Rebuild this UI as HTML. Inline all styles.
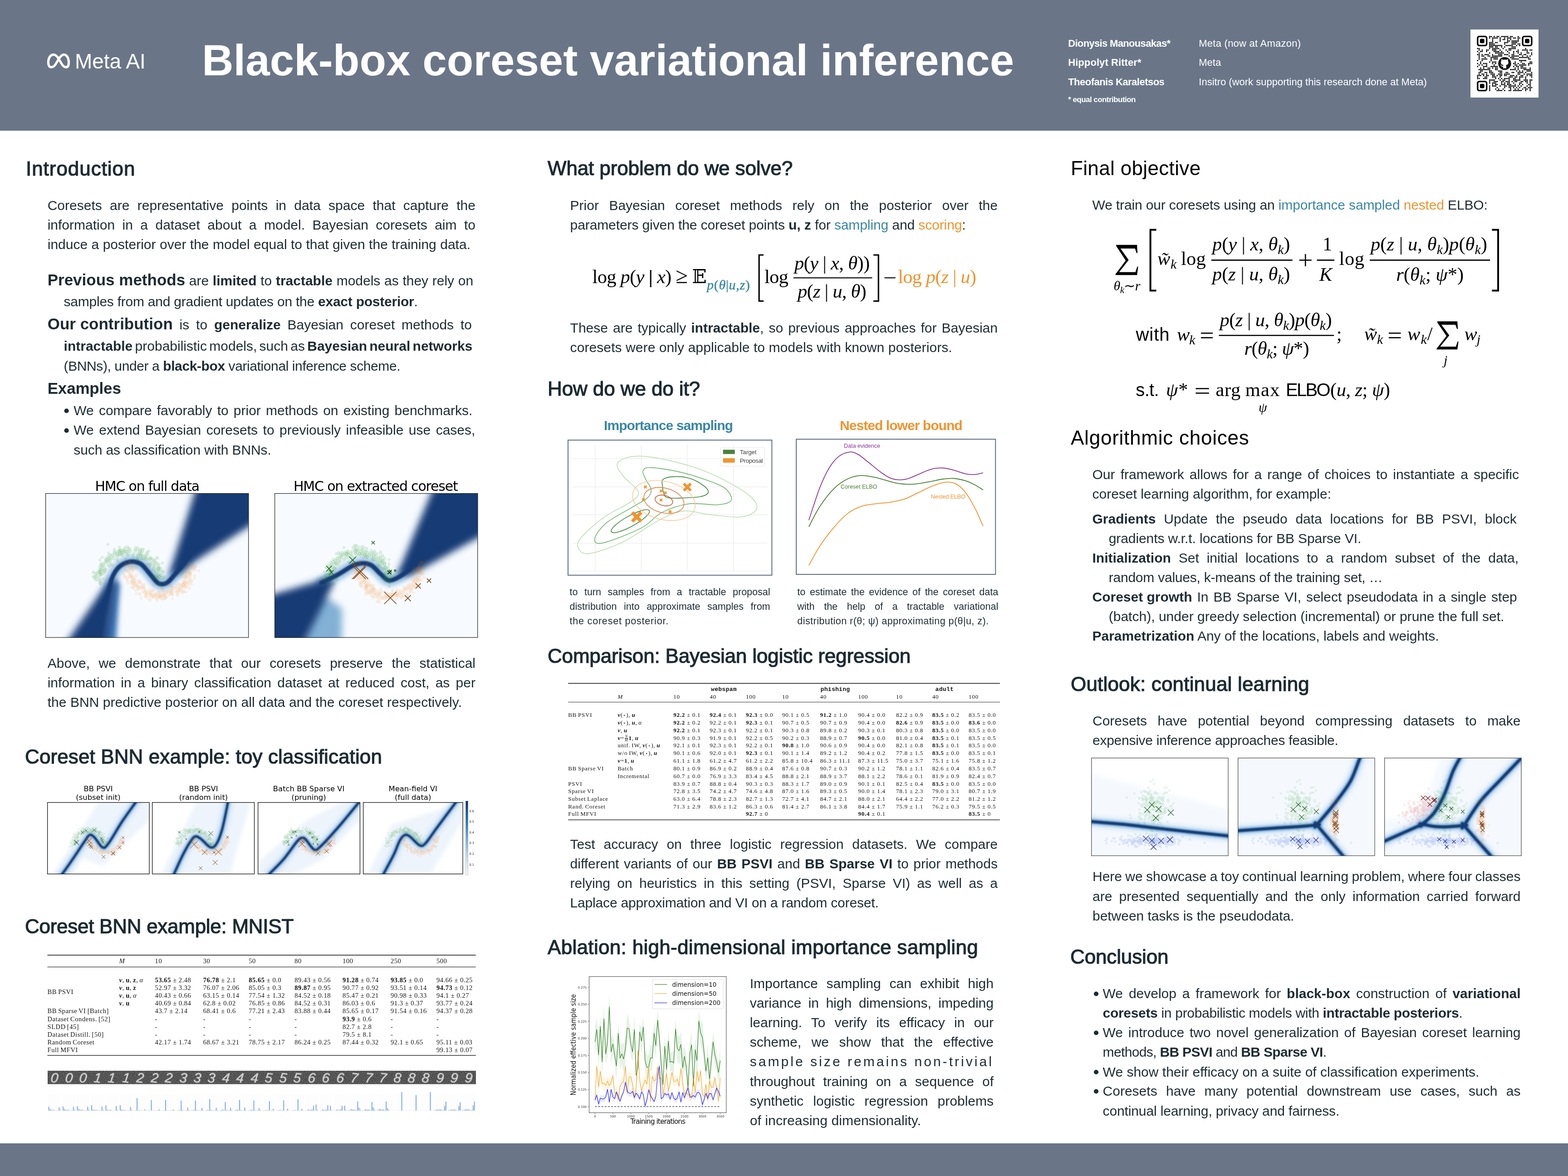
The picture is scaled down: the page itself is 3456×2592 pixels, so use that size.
<!DOCTYPE html>
<html><head><meta charset="utf-8"><title>Black-box coreset variational inference</title><style>
*{margin:0;padding:0;box-sizing:border-box}
html,body{width:3456px;height:2592px;overflow:hidden;background:#fff}
body{position:relative;font-family:"Liberation Sans",sans-serif;color:#1c2b33}
.t{position:absolute;white-space:nowrap;line-height:1}
.t b{font-weight:700}
.t b.big{font-size:35px;word-spacing:normal}
.nw{word-spacing:normal}
.m{display:inline-block;width:0;height:0}
.h{-webkit-text-stroke:1.2px currentColor}
.abs{position:absolute}
svg{position:absolute;overflow:visible}
.tm{letter-spacing:0.55px;word-spacing:-1px}
.tl{letter-spacing:0.75px;word-spacing:-1px}
.tm .pm,.tl .pm{margin:0 1px}
.bv{font-weight:700;font-style:italic}
.fr{display:inline-block;vertical-align:-0.45em;font-size:0.62em;line-height:0.9;text-align:center;margin:0 1px}
.fr>span{display:block}
.fr>span:first-child{border-bottom:0.8px solid #111}
.star{font-family:'DejaVu Sans',sans-serif;font-size:0.8em}
.k{font-style:italic;font-size:0.7em;vertical-align:-0.28em}
.bb{font-family:'DejaVu Serif',serif}
.tt{font-family:'Liberation Mono',monospace;font-weight:700;letter-spacing:0.3px}
.fm i{font-style:italic}
.ge{font-size:1.15em;line-height:0}
.vb{font-weight:700}
.dg{font-style:italic;opacity:0.85;text-shadow:0 0 1.5px #fff}
</style></head><body>
<div class="abs" style="left:0;top:0;width:3456px;height:287.6px;background:#6a7688"></div>
<div class="abs" style="left:0;top:2520px;width:3456px;height:72px;background:#6a7688"></div>
<svg style="left:101px;top:115px" width="54" height="40" viewBox="-2.5 -2.5 54 40"><path d="M 9.4,30.6 C 4.5,30.6 2.9,25 2.9,19.7 C 2.9,10 8,2.9 14.6,2.9 C 19.5,2.9 23,7.5 26,12.5 L 32.5,23.5 C 35.5,28.5 38.5,30.6 42,30.6 C 46,30.6 48,26.5 48,20.5 C 48,10.5 43.5,2.9 37.4,2.9 C 32.5,2.9 29,8 26,12.5 L 19.5,23.5 C 16.5,28.5 13.5,30.6 9.4,30.6 Z" fill="none" stroke="#fff" stroke-width="5.2" stroke-linejoin="round"/></svg>
<svg style="left:3241px;top:65px" width="150" height="150" viewBox="0 0 150 150"><rect width="150" height="150" fill="#fff"/><rect x="15.85" y="15.45" width="19.85" height="19.85" rx="3.64" fill="none" stroke="#000" stroke-width="3.31"/><rect x="20.82" y="20.42" width="9.92" height="9.92" rx="2.98" fill="#000"/><rect x="115.10" y="15.45" width="19.85" height="19.85" rx="3.64" fill="none" stroke="#000" stroke-width="3.31"/><rect x="120.06" y="20.42" width="9.92" height="9.92" rx="2.98" fill="#000"/><rect x="15.85" y="114.70" width="19.85" height="19.85" rx="3.64" fill="none" stroke="#000" stroke-width="3.31"/><rect x="20.82" y="119.66" width="9.92" height="9.92" rx="2.98" fill="#000"/><path d="M42.32 15.45h0M45.63 15.45h0M52.24 15.45h0M58.86 15.45h0M62.17 15.45h0M68.78 15.45h0M72.09 15.45h0M75.40 15.45h0M78.71 15.45h0M82.02 15.45h0M88.63 15.45h0M91.94 15.45h0M105.17 15.45h0M42.32 18.76h0M48.94 18.76h0M52.24 18.76h0M55.55 18.76h0M58.86 18.76h0M65.48 18.76h0M75.40 18.76h0M82.02 18.76h0M85.32 18.76h0M88.63 18.76h0M95.25 18.76h0M98.56 18.76h0M105.17 18.76h0M108.48 18.76h0M48.94 22.07h0M65.48 22.07h0M72.09 22.07h0M75.40 22.07h0M82.02 22.07h0M88.63 22.07h0M105.17 22.07h0M48.94 25.38h0M65.48 25.38h0M82.02 25.38h0M85.32 25.38h0M91.94 25.38h0M95.25 25.38h0M98.56 25.38h0M101.86 25.38h0M105.17 25.38h0M42.32 28.69h0M45.63 28.69h0M48.94 28.69h0M55.55 28.69h0M58.86 28.69h0M75.40 28.69h0M78.71 28.69h0M82.02 28.69h0M91.94 28.69h0M95.25 28.69h0M98.56 28.69h0M101.86 28.69h0M42.32 31.99h0M45.63 31.99h0M48.94 31.99h0M52.24 31.99h0M75.40 31.99h0M91.94 31.99h0M95.25 31.99h0M98.56 31.99h0M105.17 31.99h0M108.48 31.99h0M42.32 35.30h0M45.63 35.30h0M48.94 35.30h0M52.24 35.30h0M55.55 35.30h0M58.86 35.30h0M62.17 35.30h0M65.48 35.30h0M68.78 35.30h0M78.71 35.30h0M82.02 35.30h0M85.32 35.30h0M88.63 35.30h0M91.94 35.30h0M101.86 35.30h0M108.48 35.30h0M42.32 38.61h0M45.63 38.61h0M48.94 38.61h0M55.55 38.61h0M58.86 38.61h0M68.78 38.61h0M75.40 38.61h0M91.94 38.61h0M95.25 38.61h0M98.56 38.61h0M15.85 41.92h0M19.16 41.92h0M42.32 41.92h0M48.94 41.92h0M52.24 41.92h0M55.55 41.92h0M58.86 41.92h0M62.17 41.92h0M72.09 41.92h0M85.32 41.92h0M88.63 41.92h0M91.94 41.92h0M95.25 41.92h0M98.56 41.92h0M121.71 41.92h0M19.16 45.23h0M25.78 45.23h0M35.70 45.23h0M39.01 45.23h0M48.94 45.23h0M52.24 45.23h0M55.55 45.23h0M65.48 45.23h0M78.71 45.23h0M85.32 45.23h0M88.63 45.23h0M105.17 45.23h0M115.10 45.23h0M118.41 45.23h0M121.71 45.23h0M125.02 45.23h0M131.64 45.23h0M134.95 45.23h0M15.85 48.54h0M22.47 48.54h0M25.78 48.54h0M35.70 48.54h0M52.24 48.54h0M55.55 48.54h0M58.86 48.54h0M62.17 48.54h0M68.78 48.54h0M82.02 48.54h0M95.25 48.54h0M101.86 48.54h0M105.17 48.54h0M125.02 48.54h0M19.16 51.84h0M42.32 51.84h0M55.55 51.84h0M58.86 51.84h0M62.17 51.84h0M65.48 51.84h0M68.78 51.84h0M72.09 51.84h0M85.32 51.84h0M95.25 51.84h0M105.17 51.84h0M111.79 51.84h0M125.02 51.84h0M128.33 51.84h0M134.95 51.84h0M15.85 55.15h0M19.16 55.15h0M25.78 55.15h0M32.39 55.15h0M35.70 55.15h0M39.01 55.15h0M48.94 55.15h0M62.17 55.15h0M65.48 55.15h0M68.78 55.15h0M75.40 55.15h0M78.71 55.15h0M82.02 55.15h0M91.94 55.15h0M95.25 55.15h0M108.48 55.15h0M111.79 55.15h0M118.41 55.15h0M121.71 55.15h0M134.95 55.15h0M19.16 58.46h0M25.78 58.46h0M29.09 58.46h0M39.01 58.46h0M42.32 58.46h0M48.94 58.46h0M52.24 58.46h0M55.55 58.46h0M58.86 58.46h0M62.17 58.46h0M65.48 58.46h0M68.78 58.46h0M85.32 58.46h0M91.94 58.46h0M95.25 58.46h0M98.56 58.46h0M101.86 58.46h0M105.17 58.46h0M115.10 58.46h0M125.02 58.46h0M131.64 58.46h0M19.16 61.77h0M32.39 61.77h0M45.63 61.77h0M48.94 61.77h0M52.24 61.77h0M55.55 61.77h0M58.86 61.77h0M88.63 61.77h0M91.94 61.77h0M95.25 61.77h0M108.48 61.77h0M111.79 61.77h0M115.10 61.77h0M118.41 61.77h0M121.71 61.77h0M125.02 61.77h0M128.33 61.77h0M19.16 65.08h0M25.78 65.08h0M29.09 65.08h0M32.39 65.08h0M35.70 65.08h0M45.63 65.08h0M52.24 65.08h0M55.55 65.08h0M58.86 65.08h0M91.94 65.08h0M95.25 65.08h0M98.56 65.08h0M101.86 65.08h0M105.17 65.08h0M128.33 65.08h0M131.64 65.08h0M15.85 68.38h0M25.78 68.38h0M45.63 68.38h0M108.48 68.38h0M111.79 68.38h0M115.10 68.38h0M118.41 68.38h0M121.71 68.38h0M22.47 71.69h0M42.32 71.69h0M48.94 71.69h0M52.24 71.69h0M55.55 71.69h0M98.56 71.69h0M111.79 71.69h0M131.64 71.69h0M134.95 71.69h0M15.85 75.00h0M22.47 75.00h0M29.09 75.00h0M32.39 75.00h0M35.70 75.00h0M48.94 75.00h0M55.55 75.00h0M95.25 75.00h0M98.56 75.00h0M105.17 75.00h0M115.10 75.00h0M118.41 75.00h0M128.33 75.00h0M131.64 75.00h0M134.95 75.00h0M19.16 78.31h0M25.78 78.31h0M35.70 78.31h0M52.24 78.31h0M98.56 78.31h0M101.86 78.31h0M108.48 78.31h0M111.79 78.31h0M115.10 78.31h0M118.41 78.31h0M121.71 78.31h0M128.33 78.31h0M15.85 81.62h0M29.09 81.62h0M32.39 81.62h0M35.70 81.62h0M45.63 81.62h0M48.94 81.62h0M52.24 81.62h0M55.55 81.62h0M58.86 81.62h0M95.25 81.62h0M101.86 81.62h0M105.17 81.62h0M111.79 81.62h0M115.10 81.62h0M22.47 84.92h0M29.09 84.92h0M39.01 84.92h0M42.32 84.92h0M48.94 84.92h0M55.55 84.92h0M58.86 84.92h0M98.56 84.92h0M105.17 84.92h0M111.79 84.92h0M115.10 84.92h0M118.41 84.92h0M121.71 84.92h0M131.64 84.92h0M19.16 88.23h0M22.47 88.23h0M25.78 88.23h0M29.09 88.23h0M32.39 88.23h0M35.70 88.23h0M39.01 88.23h0M42.32 88.23h0M55.55 88.23h0M58.86 88.23h0M88.63 88.23h0M91.94 88.23h0M95.25 88.23h0M98.56 88.23h0M105.17 88.23h0M118.41 88.23h0M121.71 88.23h0M125.02 88.23h0M128.33 88.23h0M131.64 88.23h0M22.47 91.54h0M25.78 91.54h0M42.32 91.54h0M45.63 91.54h0M62.17 91.54h0M65.48 91.54h0M68.78 91.54h0M101.86 91.54h0M108.48 91.54h0M115.10 91.54h0M125.02 91.54h0M128.33 91.54h0M131.64 91.54h0M19.16 94.85h0M22.47 94.85h0M32.39 94.85h0M35.70 94.85h0M42.32 94.85h0M45.63 94.85h0M48.94 94.85h0M65.48 94.85h0M68.78 94.85h0M78.71 94.85h0M82.02 94.85h0M91.94 94.85h0M95.25 94.85h0M105.17 94.85h0M108.48 94.85h0M111.79 94.85h0M115.10 94.85h0M121.71 94.85h0M134.95 94.85h0M19.16 98.16h0M25.78 98.16h0M29.09 98.16h0M35.70 98.16h0M45.63 98.16h0M48.94 98.16h0M52.24 98.16h0M62.17 98.16h0M65.48 98.16h0M68.78 98.16h0M75.40 98.16h0M78.71 98.16h0M82.02 98.16h0M85.32 98.16h0M105.17 98.16h0M108.48 98.16h0M118.41 98.16h0M125.02 98.16h0M128.33 98.16h0M131.64 98.16h0M134.95 98.16h0M15.85 101.46h0M19.16 101.46h0M22.47 101.46h0M29.09 101.46h0M35.70 101.46h0M39.01 101.46h0M48.94 101.46h0M52.24 101.46h0M58.86 101.46h0M65.48 101.46h0M68.78 101.46h0M75.40 101.46h0M78.71 101.46h0M88.63 101.46h0M91.94 101.46h0M95.25 101.46h0M101.86 101.46h0M111.79 101.46h0M115.10 101.46h0M125.02 101.46h0M131.64 101.46h0M134.95 101.46h0M15.85 104.77h0M32.39 104.77h0M35.70 104.77h0M48.94 104.77h0M52.24 104.77h0M55.55 104.77h0M65.48 104.77h0M85.32 104.77h0M88.63 104.77h0M91.94 104.77h0M98.56 104.77h0M101.86 104.77h0M108.48 104.77h0M111.79 104.77h0M115.10 104.77h0M121.71 104.77h0M134.95 104.77h0M15.85 108.08h0M19.16 108.08h0M29.09 108.08h0M32.39 108.08h0M35.70 108.08h0M55.55 108.08h0M62.17 108.08h0M68.78 108.08h0M75.40 108.08h0M78.71 108.08h0M82.02 108.08h0M85.32 108.08h0M95.25 108.08h0M98.56 108.08h0M108.48 108.08h0M121.71 108.08h0M42.32 111.39h0M45.63 111.39h0M48.94 111.39h0M52.24 111.39h0M65.48 111.39h0M72.09 111.39h0M75.40 111.39h0M85.32 111.39h0M95.25 111.39h0M98.56 111.39h0M101.86 111.39h0M105.17 111.39h0M108.48 111.39h0M118.41 111.39h0M121.71 111.39h0M125.02 111.39h0M131.64 111.39h0M134.95 111.39h0M42.32 114.70h0M52.24 114.70h0M55.55 114.70h0M58.86 114.70h0M68.78 114.70h0M72.09 114.70h0M78.71 114.70h0M82.02 114.70h0M85.32 114.70h0M91.94 114.70h0M98.56 114.70h0M101.86 114.70h0M111.79 114.70h0M115.10 114.70h0M121.71 114.70h0M125.02 114.70h0M131.64 114.70h0M42.32 118.01h0M48.94 118.01h0M52.24 118.01h0M55.55 118.01h0M68.78 118.01h0M75.40 118.01h0M82.02 118.01h0M85.32 118.01h0M95.25 118.01h0M108.48 118.01h0M111.79 118.01h0M125.02 118.01h0M131.64 118.01h0M48.94 121.31h0M55.55 121.31h0M58.86 121.31h0M68.78 121.31h0M72.09 121.31h0M75.40 121.31h0M82.02 121.31h0M85.32 121.31h0M88.63 121.31h0M98.56 121.31h0M108.48 121.31h0M115.10 121.31h0M128.33 121.31h0M131.64 121.31h0M42.32 124.62h0M48.94 124.62h0M52.24 124.62h0M55.55 124.62h0M65.48 124.62h0M75.40 124.62h0M78.71 124.62h0M85.32 124.62h0M88.63 124.62h0M91.94 124.62h0M95.25 124.62h0M98.56 124.62h0M105.17 124.62h0M111.79 124.62h0M125.02 124.62h0M131.64 124.62h0M42.32 127.93h0M58.86 127.93h0M75.40 127.93h0M85.32 127.93h0M88.63 127.93h0M95.25 127.93h0M101.86 127.93h0M108.48 127.93h0M118.41 127.93h0M121.71 127.93h0M128.33 127.93h0M131.64 127.93h0M134.95 127.93h0M42.32 131.24h0M55.55 131.24h0M62.17 131.24h0M72.09 131.24h0M88.63 131.24h0M98.56 131.24h0M105.17 131.24h0M115.10 131.24h0M121.71 131.24h0M125.02 131.24h0M131.64 131.24h0M42.32 134.55h0M58.86 134.55h0M62.17 134.55h0M65.48 134.55h0M68.78 134.55h0M75.40 134.55h0M85.32 134.55h0M88.63 134.55h0M95.25 134.55h0M98.56 134.55h0M101.86 134.55h0M105.17 134.55h0M108.48 134.55h0M111.79 134.55h0M121.71 134.55h0M131.64 134.55h0" stroke="#000" stroke-width="3.04" stroke-linecap="round"/><circle cx="75.40" cy="75.00" r="14.3" fill="#161616"/><path transform="translate(77.50 75.50) scale(1.05)" d="M -5.2,9.5 L -5.2,6.2 C -8.5,6.9 -9.3,4.6 -9.3,4.6 C -9.9,3.2 -10.7,2.8 -10.7,2.8 C -11.8,2.1 -10.6,2.1 -10.6,2.1 C -9.4,2.2 -8.8,3.4 -8.8,3.4 C -7.7,5.3 -5.9,4.7 -5.2,4.4 C -5.1,3.6 -4.8,3.1 -4.4,2.8 C -7.1,2.5 -9.9,1.5 -9.9,-3.1 C -9.9,-4.4 -9.4,-5.5 -8.7,-6.3 C -8.8,-6.6 -9.2,-7.8 -8.6,-9.5 C -8.6,-9.5 -7.5,-9.8 -5.2,-8.2 C -4.2,-8.5 -3.1,-8.6 -2,-8.6 C -0.9,-8.6 0.2,-8.5 1.2,-8.2 C 3.5,-9.8 4.6,-9.5 4.6,-9.5 C 5.2,-7.8 4.8,-6.6 4.7,-6.3 C 5.4,-5.5 5.9,-4.4 5.9,-3.1 C 5.9,1.5 3.1,2.5 0.4,2.8 C 0.9,3.2 1.3,3.9 1.3,5.1 L 1.3,9.5 Z" fill="#fff"/></svg>
<svg style="left:0;top:0" width="3456" height="2592" viewBox="0 0 3456 2592"><circle cx="146.6" cy="905.5" r="5.1" fill="#1c2b33"/><circle cx="146.6" cy="949.0" r="5.1" fill="#1c2b33"/><circle cx="2416" cy="2190.5" r="5.1" fill="#1c2b33"/><circle cx="2416" cy="2276.5" r="5.1" fill="#1c2b33"/><circle cx="2416" cy="2363.0" r="5.1" fill="#1c2b33"/><circle cx="2416" cy="2405.5" r="5.1" fill="#1c2b33"/><line x1="104.50" y1="2105.20" x2="1048.80" y2="2105.20" stroke="#111" stroke-width="1.60"/><line x1="104.50" y1="2131.40" x2="1048.80" y2="2131.40" stroke="#333" stroke-width="1.10"/><line x1="104.50" y1="2326.20" x2="1048.80" y2="2326.20" stroke="#333" stroke-width="1.60"/><line x1="1252.20" y1="1506.30" x2="2203.90" y2="1506.30" stroke="#111" stroke-width="1.50"/><line x1="1252.20" y1="1547.50" x2="2203.90" y2="1547.50" stroke="#333" stroke-width="1.10"/><line x1="1252.20" y1="1807.00" x2="2203.90" y2="1807.00" stroke="#333" stroke-width="1.50"/><path d="M 1683.00 562.00 H 1673.10 V 663.70 H 1683.00" fill="none" stroke="#000" stroke-width="3.20"/><path d="M 1925.00 562.00 H 1936.20 V 663.70 H 1925.00" fill="none" stroke="#000" stroke-width="3.20"/><line x1="1748.80" y1="612.30" x2="1922.40" y2="612.30" stroke="#000" stroke-width="2.20"/><line x1="1949.40" y1="612.30" x2="1973.60" y2="612.30" stroke="#000" stroke-width="2.20"/><polygon points="2460.20,539.70 2506.11,539.70 2507.10,557.68 2505.11,557.68 2501.61,547.69 2469.68,547.69 2487.64,573.00 2466.68,599.64 2502.61,599.64 2506.60,587.65 2508.60,587.65 2506.11,606.30 2458.70,606.30 2458.70,604.30 2481.15,574.33 2460.20,542.36" fill="#000"/><path d="M 2548.50 506.40 H 2535.60 V 640.60 H 2548.50" fill="none" stroke="#000" stroke-width="4.00"/><path d="M 3288.40 506.40 H 3302.00 V 640.60 H 3288.40" fill="none" stroke="#000" stroke-width="4.00"/><line x1="2669.80" y1="573.40" x2="2848.60" y2="573.40" stroke="#000" stroke-width="2.60"/><line x1="2863.70" y1="573.40" x2="2890.80" y2="573.40" stroke="#000" stroke-width="2.60"/><line x1="2877.25" y1="560.00" x2="2877.25" y2="586.80" stroke="#000" stroke-width="2.60"/><line x1="2902.60" y1="573.40" x2="2941.10" y2="573.40" stroke="#000" stroke-width="2.60"/><line x1="3019.00" y1="573.40" x2="3284.20" y2="573.40" stroke="#000" stroke-width="2.60"/><line x1="2647.00" y1="734.30" x2="2673.00" y2="734.30" stroke="#000" stroke-width="2.60"/><line x1="2647.00" y1="744.30" x2="2673.00" y2="744.30" stroke="#000" stroke-width="2.60"/><line x1="2686.50" y1="739.30" x2="2940.20" y2="739.30" stroke="#000" stroke-width="2.60"/><line x1="3060.90" y1="734.30" x2="3087.50" y2="734.30" stroke="#000" stroke-width="2.60"/><line x1="3060.90" y1="744.30" x2="3087.50" y2="744.30" stroke="#000" stroke-width="2.60"/><polygon points="3167.94,708.30 3212.19,708.30 3213.16,725.01 3211.23,725.01 3207.87,715.73 3177.08,715.73 3194.40,739.25 3174.20,764.01 3208.83,764.01 3212.68,752.87 3214.60,752.87 3212.19,770.20 3166.50,770.20 3166.50,768.34 3188.14,740.49 3167.94,710.78" fill="#000"/><line x1="2635.40" y1="856.50" x2="2664.70" y2="856.50" stroke="#000" stroke-width="2.60"/><line x1="2635.40" y1="866.50" x2="2664.70" y2="866.50" stroke="#000" stroke-width="2.60"/></svg>
<svg style="left:99.60px;top:1087.30px" width="448.30" height="318.70" viewBox="0 0 448.30 318.70"><defs><clipPath id="c193"><rect width="448.30" height="318.70"/></clipPath><filter id="f194" filterUnits="userSpaceOnUse" x="-60" y="-60" width="568" height="439"><feGaussianBlur stdDeviation="5.00"/></filter><filter id="f195" filterUnits="userSpaceOnUse" x="-60" y="-60" width="568" height="439"><feGaussianBlur stdDeviation="6.00"/></filter><filter id="f196" filterUnits="userSpaceOnUse" x="-60" y="-60" width="568" height="439"><feGaussianBlur stdDeviation="8.00"/></filter><filter id="f197" filterUnits="userSpaceOnUse" x="-60" y="-60" width="568" height="439"><feGaussianBlur stdDeviation="8.00"/></filter><filter id="f198" filterUnits="userSpaceOnUse" x="-60" y="-60" width="568" height="439"><feGaussianBlur stdDeviation="1.80"/></filter></defs><g clip-path="url(#c193)"><rect width="448.30" height="318.70" fill="#f7fbff"/><path d="M 128.5,252.7 C 130.6,245.4 137.9,220.1 141.0,209.0 C 144.1,197.9 144.1,193.4 147.2,186.1 C 150.3,178.8 154.8,170.7 159.7,165.3 C 164.6,159.9 170.8,156.3 176.3,153.9 C 181.9,151.5 187.1,150.2 193.0,150.8 C 198.9,151.3 205.4,152.5 211.7,157.0 C 217.9,161.5 224.2,170.9 230.4,177.8 C 236.6,184.7 242.9,195.3 249.1,198.6 C 255.4,201.9 261.6,201.0 267.8,197.5 C 274.1,194.1 280.0,185.2 286.5,177.8 C 293.1,170.3 300.4,162.2 307.3,152.8 C 314.3,143.5 324.7,126.8 328.1,121.6" fill="none" stroke="#5b9bd0" stroke-width="26.00" stroke-opacity="0.550" stroke-linecap="round" stroke-linejoin="round" filter="url(#f194)"/><polygon points="118.1,367.0 153.5,367.0 163.9,200.7 153.5,190.3" fill="#2f6db3" fill-opacity="0.900" filter="url(#f195)"/><polygon points="20.4,367.0 130.6,367.0 156.6,195.5 142.0,189.2" fill="#163a74" fill-opacity="1.000" filter="url(#f196)"/><polygon points="272.0,180.9 340.6,-38.5 515.3,-38.5 515.3,30.2 324.0,153.9 299.0,174.7" fill="#163a74" fill-opacity="1.000" filter="url(#f197)"/><path d="M 128.5,252.7 C 130.6,245.4 137.9,220.1 141.0,209.0 C 144.1,197.9 144.1,193.4 147.2,186.1 C 150.3,178.8 154.8,170.7 159.7,165.3 C 164.6,159.9 170.8,156.3 176.3,153.9 C 181.9,151.5 187.1,150.2 193.0,150.8 C 198.9,151.3 205.4,152.5 211.7,157.0 C 217.9,161.5 224.2,170.9 230.4,177.8 C 236.6,184.7 242.9,195.3 249.1,198.6 C 255.4,201.9 261.6,201.0 267.8,197.5 C 274.1,194.1 280.0,185.2 286.5,177.8 C 293.1,170.3 300.4,162.2 307.3,152.8 C 314.3,143.5 324.7,126.8 328.1,121.6" fill="none" stroke="#163a74" stroke-width="10.00" stroke-opacity="1.000" stroke-linecap="round" stroke-linejoin="round" filter="url(#f198)"/><path d="M209.4 124.1a2.90 2.90 0 1 0 0.01 0M141.3 141.3a2.90 2.90 0 1 0 0.01 0M255.5 178.9a2.90 2.90 0 1 0 0.01 0M230.1 141.1a2.90 2.90 0 1 0 0.01 0M250.7 162.4a2.90 2.90 0 1 0 0.01 0M248.3 159.8a2.90 2.90 0 1 0 0.01 0M238.4 157.8a2.90 2.90 0 1 0 0.01 0M203.2 142.3a2.90 2.90 0 1 0 0.01 0M209.5 133.6a2.90 2.90 0 1 0 0.01 0M180.2 133.5a2.90 2.90 0 1 0 0.01 0M196.7 123.5a2.90 2.90 0 1 0 0.01 0M157.6 132.6a2.90 2.90 0 1 0 0.01 0M247.1 140.7a2.90 2.90 0 1 0 0.01 0M129.2 172.1a2.90 2.90 0 1 0 0.01 0M251.5 180.7a2.90 2.90 0 1 0 0.01 0M147.6 131.9a2.90 2.90 0 1 0 0.01 0M191.6 133.3a2.90 2.90 0 1 0 0.01 0M176.1 141.3a2.90 2.90 0 1 0 0.01 0M238.5 162.9a2.90 2.90 0 1 0 0.01 0M228.2 152.3a2.90 2.90 0 1 0 0.01 0M124.7 154.4a2.90 2.90 0 1 0 0.01 0M115.9 182.7a2.90 2.90 0 1 0 0.01 0M218.5 136.0a2.90 2.90 0 1 0 0.01 0M142.4 133.6a2.90 2.90 0 1 0 0.01 0M133.8 164.6a2.90 2.90 0 1 0 0.01 0M122.1 176.8a2.90 2.90 0 1 0 0.01 0M254.8 178.2a2.90 2.90 0 1 0 0.01 0M246.5 178.8a2.90 2.90 0 1 0 0.01 0M244.3 150.4a2.90 2.90 0 1 0 0.01 0M131.9 169.7a2.90 2.90 0 1 0 0.01 0M250.2 159.3a2.90 2.90 0 1 0 0.01 0M208.0 123.2a2.90 2.90 0 1 0 0.01 0M126.7 185.7a2.90 2.90 0 1 0 0.01 0M182.2 117.1a2.90 2.90 0 1 0 0.01 0M157.5 142.4a2.90 2.90 0 1 0 0.01 0M220.2 133.9a2.90 2.90 0 1 0 0.01 0M145.6 139.1a2.90 2.90 0 1 0 0.01 0M130.8 160.6a2.90 2.90 0 1 0 0.01 0M240.3 184.3a2.90 2.90 0 1 0 0.01 0M134.2 149.4a2.90 2.90 0 1 0 0.01 0M106.8 181.5a2.90 2.90 0 1 0 0.01 0M122.3 155.4a2.90 2.90 0 1 0 0.01 0M226.1 132.6a2.90 2.90 0 1 0 0.01 0M140.4 158.1a2.90 2.90 0 1 0 0.01 0M247.8 179.5a2.90 2.90 0 1 0 0.01 0M202.8 136.2a2.90 2.90 0 1 0 0.01 0M119.1 165.4a2.90 2.90 0 1 0 0.01 0M224.2 129.4a2.90 2.90 0 1 0 0.01 0M220.8 137.2a2.90 2.90 0 1 0 0.01 0M252.7 165.6a2.90 2.90 0 1 0 0.01 0M261.7 182.8a2.90 2.90 0 1 0 0.01 0M137.8 110.2a2.90 2.90 0 1 0 0.01 0M242.5 149.8a2.90 2.90 0 1 0 0.01 0M220.9 142.0a2.90 2.90 0 1 0 0.01 0M183.6 121.7a2.90 2.90 0 1 0 0.01 0M254.1 167.6a2.90 2.90 0 1 0 0.01 0M170.3 124.2a2.90 2.90 0 1 0 0.01 0M248.0 162.6a2.90 2.90 0 1 0 0.01 0M164.9 121.2a2.90 2.90 0 1 0 0.01 0M150.5 142.1a2.90 2.90 0 1 0 0.01 0M241.5 170.4a2.90 2.90 0 1 0 0.01 0M210.8 128.3a2.90 2.90 0 1 0 0.01 0M157.9 142.5a2.90 2.90 0 1 0 0.01 0M203.9 144.4a2.90 2.90 0 1 0 0.01 0M247.6 182.2a2.90 2.90 0 1 0 0.01 0M180.7 115.2a2.90 2.90 0 1 0 0.01 0M151.9 124.8a2.90 2.90 0 1 0 0.01 0M186.2 119.5a2.90 2.90 0 1 0 0.01 0M115.2 170.2a2.90 2.90 0 1 0 0.01 0M159.5 125.0a2.90 2.90 0 1 0 0.01 0M114.0 174.4a2.90 2.90 0 1 0 0.01 0M236.4 166.6a2.90 2.90 0 1 0 0.01 0M248.5 163.4a2.90 2.90 0 1 0 0.01 0M120.2 144.1a2.90 2.90 0 1 0 0.01 0M208.5 122.6a2.90 2.90 0 1 0 0.01 0M248.9 162.6a2.90 2.90 0 1 0 0.01 0M105.9 181.6a2.90 2.90 0 1 0 0.01 0M224.3 139.8a2.90 2.90 0 1 0 0.01 0M142.5 148.8a2.90 2.90 0 1 0 0.01 0M143.5 153.1a2.90 2.90 0 1 0 0.01 0M129.7 167.4a2.90 2.90 0 1 0 0.01 0M165.3 129.4a2.90 2.90 0 1 0 0.01 0M142.4 145.5a2.90 2.90 0 1 0 0.01 0M220.8 142.7a2.90 2.90 0 1 0 0.01 0M222.3 137.2a2.90 2.90 0 1 0 0.01 0M120.6 171.1a2.90 2.90 0 1 0 0.01 0M198.8 124.2a2.90 2.90 0 1 0 0.01 0M113.7 179.9a2.90 2.90 0 1 0 0.01 0M145.5 136.7a2.90 2.90 0 1 0 0.01 0M166.3 123.5a2.90 2.90 0 1 0 0.01 0M240.7 162.1a2.90 2.90 0 1 0 0.01 0M111.1 175.4a2.90 2.90 0 1 0 0.01 0M182.7 133.8a2.90 2.90 0 1 0 0.01 0M165.0 128.8a2.90 2.90 0 1 0 0.01 0M213.8 122.6a2.90 2.90 0 1 0 0.01 0M245.3 138.8a2.90 2.90 0 1 0 0.01 0M118.5 172.7a2.90 2.90 0 1 0 0.01 0M176.6 127.3a2.90 2.90 0 1 0 0.01 0M251.4 198.3a2.90 2.90 0 1 0 0.01 0M159.9 148.1a2.90 2.90 0 1 0 0.01 0M216.8 141.5a2.90 2.90 0 1 0 0.01 0M183.8 129.1a2.90 2.90 0 1 0 0.01 0M119.4 159.0a2.90 2.90 0 1 0 0.01 0M207.1 130.1a2.90 2.90 0 1 0 0.01 0M107.3 171.4a2.90 2.90 0 1 0 0.01 0M162.1 125.0a2.90 2.90 0 1 0 0.01 0M246.3 185.0a2.90 2.90 0 1 0 0.01 0M121.1 176.2a2.90 2.90 0 1 0 0.01 0M147.8 134.1a2.90 2.90 0 1 0 0.01 0M120.0 196.2a2.90 2.90 0 1 0 0.01 0M234.7 140.9a2.90 2.90 0 1 0 0.01 0M259.3 172.3a2.90 2.90 0 1 0 0.01 0M121.9 172.7a2.90 2.90 0 1 0 0.01 0M150.8 136.8a2.90 2.90 0 1 0 0.01 0M244.8 178.2a2.90 2.90 0 1 0 0.01 0M133.0 144.6a2.90 2.90 0 1 0 0.01 0M134.7 146.1a2.90 2.90 0 1 0 0.01 0M126.2 166.9a2.90 2.90 0 1 0 0.01 0M135.2 142.5a2.90 2.90 0 1 0 0.01 0M242.1 157.9a2.90 2.90 0 1 0 0.01 0M252.0 176.9a2.90 2.90 0 1 0 0.01 0M249.0 184.8a2.90 2.90 0 1 0 0.01 0M243.1 176.2a2.90 2.90 0 1 0 0.01 0M230.8 154.8a2.90 2.90 0 1 0 0.01 0M119.7 177.7a2.90 2.90 0 1 0 0.01 0M176.5 125.6a2.90 2.90 0 1 0 0.01 0M175.7 117.0a2.90 2.90 0 1 0 0.01 0M123.4 154.4a2.90 2.90 0 1 0 0.01 0M249.5 167.0a2.90 2.90 0 1 0 0.01 0M214.1 134.6a2.90 2.90 0 1 0 0.01 0M163.5 128.0a2.90 2.90 0 1 0 0.01 0M109.0 182.3a2.90 2.90 0 1 0 0.01 0M172.7 126.8a2.90 2.90 0 1 0 0.01 0M251.5 179.8a2.90 2.90 0 1 0 0.01 0M136.7 147.8a2.90 2.90 0 1 0 0.01 0M257.6 151.1a2.90 2.90 0 1 0 0.01 0M126.8 160.1a2.90 2.90 0 1 0 0.01 0M211.2 134.2a2.90 2.90 0 1 0 0.01 0M105.2 171.3a2.90 2.90 0 1 0 0.01 0M138.0 137.8a2.90 2.90 0 1 0 0.01 0M162.5 130.8a2.90 2.90 0 1 0 0.01 0M245.4 168.2a2.90 2.90 0 1 0 0.01 0M254.9 178.2a2.90 2.90 0 1 0 0.01 0M249.8 171.0a2.90 2.90 0 1 0 0.01 0M262.2 181.3a2.90 2.90 0 1 0 0.01 0M257.4 171.8a2.90 2.90 0 1 0 0.01 0M240.2 152.7a2.90 2.90 0 1 0 0.01 0M136.5 144.3a2.90 2.90 0 1 0 0.01 0M172.0 128.3a2.90 2.90 0 1 0 0.01 0M262.9 195.2a2.90 2.90 0 1 0 0.01 0M243.4 164.9a2.90 2.90 0 1 0 0.01 0M121.8 195.8a2.90 2.90 0 1 0 0.01 0M173.9 125.7a2.90 2.90 0 1 0 0.01 0M224.7 154.2a2.90 2.90 0 1 0 0.01 0M232.2 139.6a2.90 2.90 0 1 0 0.01 0M144.5 143.2a2.90 2.90 0 1 0 0.01 0M247.1 154.1a2.90 2.90 0 1 0 0.01 0M162.0 133.9a2.90 2.90 0 1 0 0.01 0M121.3 196.9a2.90 2.90 0 1 0 0.01 0M129.6 167.6a2.90 2.90 0 1 0 0.01 0M231.8 142.9a2.90 2.90 0 1 0 0.01 0M194.5 138.3a2.90 2.90 0 1 0 0.01 0M154.6 130.0a2.90 2.90 0 1 0 0.01 0M122.8 151.7a2.90 2.90 0 1 0 0.01 0M230.4 157.5a2.90 2.90 0 1 0 0.01 0M255.3 186.2a2.90 2.90 0 1 0 0.01 0M258.3 184.2a2.90 2.90 0 1 0 0.01 0M195.3 130.4a2.90 2.90 0 1 0 0.01 0M167.6 131.5a2.90 2.90 0 1 0 0.01 0M175.9 122.3a2.90 2.90 0 1 0 0.01 0M211.7 137.1a2.90 2.90 0 1 0 0.01 0M116.7 189.5a2.90 2.90 0 1 0 0.01 0M163.0 115.9a2.90 2.90 0 1 0 0.01 0M211.2 120.3a2.90 2.90 0 1 0 0.01 0M170.3 133.5a2.90 2.90 0 1 0 0.01 0M138.7 147.7a2.90 2.90 0 1 0 0.01 0M166.8 133.1a2.90 2.90 0 1 0 0.01 0M238.2 144.1a2.90 2.90 0 1 0 0.01 0M248.8 177.2a2.90 2.90 0 1 0 0.01 0M214.1 125.6a2.90 2.90 0 1 0 0.01 0M157.3 135.5a2.90 2.90 0 1 0 0.01 0M231.1 151.2a2.90 2.90 0 1 0 0.01 0M140.6 142.1a2.90 2.90 0 1 0 0.01 0M250.9 180.8a2.90 2.90 0 1 0 0.01 0M232.1 139.5a2.90 2.90 0 1 0 0.01 0M129.4 152.4a2.90 2.90 0 1 0 0.01 0M239.4 147.6a2.90 2.90 0 1 0 0.01 0M153.3 130.7a2.90 2.90 0 1 0 0.01 0M182.3 121.3a2.90 2.90 0 1 0 0.01 0M129.3 170.8a2.90 2.90 0 1 0 0.01 0M234.7 152.3a2.90 2.90 0 1 0 0.01 0M255.2 162.2a2.90 2.90 0 1 0 0.01 0M133.8 149.2a2.90 2.90 0 1 0 0.01 0M132.4 141.4a2.90 2.90 0 1 0 0.01 0M123.7 175.0a2.90 2.90 0 1 0 0.01 0M118.6 169.9a2.90 2.90 0 1 0 0.01 0M257.0 171.8a2.90 2.90 0 1 0 0.01 0M241.8 144.7a2.90 2.90 0 1 0 0.01 0M164.8 132.3a2.90 2.90 0 1 0 0.01 0M111.6 178.9a2.90 2.90 0 1 0 0.01 0M121.4 189.2a2.90 2.90 0 1 0 0.01 0M169.4 129.2a2.90 2.90 0 1 0 0.01 0M121.5 175.1a2.90 2.90 0 1 0 0.01 0M158.8 131.4a2.90 2.90 0 1 0 0.01 0M215.0 140.6a2.90 2.90 0 1 0 0.01 0M199.1 116.7a2.90 2.90 0 1 0 0.01 0M163.5 125.0a2.90 2.90 0 1 0 0.01 0M178.5 131.3a2.90 2.90 0 1 0 0.01 0M120.2 170.5a2.90 2.90 0 1 0 0.01 0M121.6 167.2a2.90 2.90 0 1 0 0.01 0M207.5 128.8a2.90 2.90 0 1 0 0.01 0M112.6 185.2a2.90 2.90 0 1 0 0.01 0M239.5 145.8a2.90 2.90 0 1 0 0.01 0M248.9 171.8a2.90 2.90 0 1 0 0.01 0M249.2 165.0a2.90 2.90 0 1 0 0.01 0M163.1 122.7a2.90 2.90 0 1 0 0.01 0M241.8 182.2a2.90 2.90 0 1 0 0.01 0M111.7 189.2a2.90 2.90 0 1 0 0.01 0M130.4 166.6a2.90 2.90 0 1 0 0.01 0M249.4 185.9a2.90 2.90 0 1 0 0.01 0M246.5 151.6a2.90 2.90 0 1 0 0.01 0M218.7 139.9a2.90 2.90 0 1 0 0.01 0M259.9 168.4a2.90 2.90 0 1 0 0.01 0M141.2 156.9a2.90 2.90 0 1 0 0.01 0M224.4 126.4a2.90 2.90 0 1 0 0.01 0M111.4 175.9a2.90 2.90 0 1 0 0.01 0M172.8 123.4a2.90 2.90 0 1 0 0.01 0M120.8 164.4a2.90 2.90 0 1 0 0.01 0M122.5 167.6a2.90 2.90 0 1 0 0.01 0M126.9 175.0a2.90 2.90 0 1 0 0.01 0M202.7 122.4a2.90 2.90 0 1 0 0.01 0M169.1 127.5a2.90 2.90 0 1 0 0.01 0M128.4 157.8a2.90 2.90 0 1 0 0.01 0M230.4 143.0a2.90 2.90 0 1 0 0.01 0M198.0 120.3a2.90 2.90 0 1 0 0.01 0M158.2 129.0a2.90 2.90 0 1 0 0.01 0M250.9 197.2a2.90 2.90 0 1 0 0.01 0M171.6 122.4a2.90 2.90 0 1 0 0.01 0M205.1 130.1a2.90 2.90 0 1 0 0.01 0M136.5 155.0a2.90 2.90 0 1 0 0.01 0M228.3 124.7a2.90 2.90 0 1 0 0.01 0M122.0 178.2a2.90 2.90 0 1 0 0.01 0M166.4 123.6a2.90 2.90 0 1 0 0.01 0M249.8 162.4a2.90 2.90 0 1 0 0.01 0M130.5 148.9a2.90 2.90 0 1 0 0.01 0M164.5 123.9a2.90 2.90 0 1 0 0.01 0M245.1 182.2a2.90 2.90 0 1 0 0.01 0M208.5 125.3a2.90 2.90 0 1 0 0.01 0M151.9 128.5a2.90 2.90 0 1 0 0.01 0M120.2 170.6a2.90 2.90 0 1 0 0.01 0M250.4 198.9a2.90 2.90 0 1 0 0.01 0M108.7 185.1a2.90 2.90 0 1 0 0.01 0M209.1 134.8a2.90 2.90 0 1 0 0.01 0M119.7 190.7a2.90 2.90 0 1 0 0.01 0M163.8 129.4a2.90 2.90 0 1 0 0.01 0M121.2 172.1a2.90 2.90 0 1 0 0.01 0M179.0 125.5a2.90 2.90 0 1 0 0.01 0M140.4 133.7a2.90 2.90 0 1 0 0.01 0M229.7 141.4a2.90 2.90 0 1 0 0.01 0M170.6 134.5a2.90 2.90 0 1 0 0.01 0M138.3 145.0a2.90 2.90 0 1 0 0.01 0M122.6 164.0a2.90 2.90 0 1 0 0.01 0M137.7 139.4a2.90 2.90 0 1 0 0.01 0M141.9 140.5a2.90 2.90 0 1 0 0.01 0M124.4 164.4a2.90 2.90 0 1 0 0.01 0M223.2 130.9a2.90 2.90 0 1 0 0.01 0M159.1 135.6a2.90 2.90 0 1 0 0.01 0M179.9 127.0a2.90 2.90 0 1 0 0.01 0M211.8 131.4a2.90 2.90 0 1 0 0.01 0M202.6 144.0a2.90 2.90 0 1 0 0.01 0M208.9 131.0a2.90 2.90 0 1 0 0.01 0M211.4 141.7a2.90 2.90 0 1 0 0.01 0M153.8 126.5a2.90 2.90 0 1 0 0.01 0M203.4 117.6a2.90 2.90 0 1 0 0.01 0M121.9 193.7a2.90 2.90 0 1 0 0.01 0M139.5 128.3a2.90 2.90 0 1 0 0.01 0M250.4 154.2a2.90 2.90 0 1 0 0.01 0M204.1 137.2a2.90 2.90 0 1 0 0.01 0M203.7 141.0a2.90 2.90 0 1 0 0.01 0M128.1 155.4a2.90 2.90 0 1 0 0.01 0M120.5 169.7a2.90 2.90 0 1 0 0.01 0M125.0 161.9a2.90 2.90 0 1 0 0.01 0M152.1 121.0a2.90 2.90 0 1 0 0.01 0M225.3 145.3a2.90 2.90 0 1 0 0.01 0M235.0 146.6a2.90 2.90 0 1 0 0.01 0M132.2 166.0a2.90 2.90 0 1 0 0.01 0M188.0 124.8a2.90 2.90 0 1 0 0.01 0M147.3 155.7a2.90 2.90 0 1 0 0.01 0M168.3 126.5a2.90 2.90 0 1 0 0.01 0M125.0 138.5a2.90 2.90 0 1 0 0.01 0M184.1 125.2a2.90 2.90 0 1 0 0.01 0M123.6 157.8a2.90 2.90 0 1 0 0.01 0M174.4 119.7a2.90 2.90 0 1 0 0.01 0M202.9 131.9a2.90 2.90 0 1 0 0.01 0M210.0 135.3a2.90 2.90 0 1 0 0.01 0M237.6 180.4a2.90 2.90 0 1 0 0.01 0M216.0 119.9a2.90 2.90 0 1 0 0.01 0M252.3 163.8a2.90 2.90 0 1 0 0.01 0M120.2 185.6a2.90 2.90 0 1 0 0.01 0M240.6 154.3a2.90 2.90 0 1 0 0.01 0" fill="#2ca02c" fill-opacity="0.100" stroke="#2ca02c" stroke-opacity="0.160" stroke-width="0.80"/><path d="M306.9 194.9a2.90 2.90 0 1 0 0.01 0M310.5 181.1a2.90 2.90 0 1 0 0.01 0M290.3 221.1a2.90 2.90 0 1 0 0.01 0M265.5 226.5a2.90 2.90 0 1 0 0.01 0M179.5 186.2a2.90 2.90 0 1 0 0.01 0M256.0 206.9a2.90 2.90 0 1 0 0.01 0M231.5 220.7a2.90 2.90 0 1 0 0.01 0M209.0 192.7a2.90 2.90 0 1 0 0.01 0M258.4 214.3a2.90 2.90 0 1 0 0.01 0M219.1 210.6a2.90 2.90 0 1 0 0.01 0M319.7 174.4a2.90 2.90 0 1 0 0.01 0M328.4 178.7a2.90 2.90 0 1 0 0.01 0M204.4 204.6a2.90 2.90 0 1 0 0.01 0M190.8 191.4a2.90 2.90 0 1 0 0.01 0M206.3 193.3a2.90 2.90 0 1 0 0.01 0M256.3 221.3a2.90 2.90 0 1 0 0.01 0M295.7 208.9a2.90 2.90 0 1 0 0.01 0M199.5 196.3a2.90 2.90 0 1 0 0.01 0M212.2 201.1a2.90 2.90 0 1 0 0.01 0M312.0 174.2a2.90 2.90 0 1 0 0.01 0M226.2 229.0a2.90 2.90 0 1 0 0.01 0M279.1 219.6a2.90 2.90 0 1 0 0.01 0M190.3 203.3a2.90 2.90 0 1 0 0.01 0M183.5 171.1a2.90 2.90 0 1 0 0.01 0M251.7 215.7a2.90 2.90 0 1 0 0.01 0M250.8 223.7a2.90 2.90 0 1 0 0.01 0M192.7 185.0a2.90 2.90 0 1 0 0.01 0M262.1 215.8a2.90 2.90 0 1 0 0.01 0M259.3 210.3a2.90 2.90 0 1 0 0.01 0M279.3 207.8a2.90 2.90 0 1 0 0.01 0M174.8 181.1a2.90 2.90 0 1 0 0.01 0M302.4 205.0a2.90 2.90 0 1 0 0.01 0M199.9 201.2a2.90 2.90 0 1 0 0.01 0M259.5 223.3a2.90 2.90 0 1 0 0.01 0M293.2 199.5a2.90 2.90 0 1 0 0.01 0M200.2 162.3a2.90 2.90 0 1 0 0.01 0M219.0 215.8a2.90 2.90 0 1 0 0.01 0M316.0 182.0a2.90 2.90 0 1 0 0.01 0M310.4 182.7a2.90 2.90 0 1 0 0.01 0M254.4 222.9a2.90 2.90 0 1 0 0.01 0M317.7 186.0a2.90 2.90 0 1 0 0.01 0M311.0 164.6a2.90 2.90 0 1 0 0.01 0M303.7 194.4a2.90 2.90 0 1 0 0.01 0M307.5 187.3a2.90 2.90 0 1 0 0.01 0M185.2 180.8a2.90 2.90 0 1 0 0.01 0M288.0 204.0a2.90 2.90 0 1 0 0.01 0M290.4 206.4a2.90 2.90 0 1 0 0.01 0M273.0 218.1a2.90 2.90 0 1 0 0.01 0M314.8 195.7a2.90 2.90 0 1 0 0.01 0M179.8 169.7a2.90 2.90 0 1 0 0.01 0M299.1 200.8a2.90 2.90 0 1 0 0.01 0M303.3 215.0a2.90 2.90 0 1 0 0.01 0M199.2 211.0a2.90 2.90 0 1 0 0.01 0M193.9 196.1a2.90 2.90 0 1 0 0.01 0M279.5 204.8a2.90 2.90 0 1 0 0.01 0M211.3 206.7a2.90 2.90 0 1 0 0.01 0M302.0 199.1a2.90 2.90 0 1 0 0.01 0M234.4 227.8a2.90 2.90 0 1 0 0.01 0M296.0 197.3a2.90 2.90 0 1 0 0.01 0M311.2 161.5a2.90 2.90 0 1 0 0.01 0M212.7 206.0a2.90 2.90 0 1 0 0.01 0M192.3 184.0a2.90 2.90 0 1 0 0.01 0M320.4 177.8a2.90 2.90 0 1 0 0.01 0M263.8 228.3a2.90 2.90 0 1 0 0.01 0M314.6 150.9a2.90 2.90 0 1 0 0.01 0M280.5 221.3a2.90 2.90 0 1 0 0.01 0M329.4 160.3a2.90 2.90 0 1 0 0.01 0M257.9 231.2a2.90 2.90 0 1 0 0.01 0M263.4 229.3a2.90 2.90 0 1 0 0.01 0M187.3 180.5a2.90 2.90 0 1 0 0.01 0M224.1 216.6a2.90 2.90 0 1 0 0.01 0M183.7 156.0a2.90 2.90 0 1 0 0.01 0M208.4 192.7a2.90 2.90 0 1 0 0.01 0M303.5 191.8a2.90 2.90 0 1 0 0.01 0M192.5 168.6a2.90 2.90 0 1 0 0.01 0M222.1 220.8a2.90 2.90 0 1 0 0.01 0M307.7 189.1a2.90 2.90 0 1 0 0.01 0M292.7 214.9a2.90 2.90 0 1 0 0.01 0M296.6 210.5a2.90 2.90 0 1 0 0.01 0M193.7 188.4a2.90 2.90 0 1 0 0.01 0M242.4 219.8a2.90 2.90 0 1 0 0.01 0M276.7 216.7a2.90 2.90 0 1 0 0.01 0M319.3 154.1a2.90 2.90 0 1 0 0.01 0M200.4 177.8a2.90 2.90 0 1 0 0.01 0M211.8 195.9a2.90 2.90 0 1 0 0.01 0M215.3 204.9a2.90 2.90 0 1 0 0.01 0M309.2 203.5a2.90 2.90 0 1 0 0.01 0M237.8 225.6a2.90 2.90 0 1 0 0.01 0M189.5 179.6a2.90 2.90 0 1 0 0.01 0M255.7 227.2a2.90 2.90 0 1 0 0.01 0M204.2 202.7a2.90 2.90 0 1 0 0.01 0M319.7 191.2a2.90 2.90 0 1 0 0.01 0M203.7 198.6a2.90 2.90 0 1 0 0.01 0M183.6 168.3a2.90 2.90 0 1 0 0.01 0M265.1 216.1a2.90 2.90 0 1 0 0.01 0M322.3 192.2a2.90 2.90 0 1 0 0.01 0M221.1 225.4a2.90 2.90 0 1 0 0.01 0M310.4 192.9a2.90 2.90 0 1 0 0.01 0M252.5 219.0a2.90 2.90 0 1 0 0.01 0M261.2 222.4a2.90 2.90 0 1 0 0.01 0M326.1 163.4a2.90 2.90 0 1 0 0.01 0M309.9 197.2a2.90 2.90 0 1 0 0.01 0M190.8 166.4a2.90 2.90 0 1 0 0.01 0M294.2 207.7a2.90 2.90 0 1 0 0.01 0M237.0 224.1a2.90 2.90 0 1 0 0.01 0M317.1 168.0a2.90 2.90 0 1 0 0.01 0M193.1 207.0a2.90 2.90 0 1 0 0.01 0M218.3 198.6a2.90 2.90 0 1 0 0.01 0M193.1 162.6a2.90 2.90 0 1 0 0.01 0M240.3 221.5a2.90 2.90 0 1 0 0.01 0M192.1 191.8a2.90 2.90 0 1 0 0.01 0M272.7 212.0a2.90 2.90 0 1 0 0.01 0M307.8 203.7a2.90 2.90 0 1 0 0.01 0M296.1 204.2a2.90 2.90 0 1 0 0.01 0M307.2 201.5a2.90 2.90 0 1 0 0.01 0M214.7 214.1a2.90 2.90 0 1 0 0.01 0M315.2 190.4a2.90 2.90 0 1 0 0.01 0M241.6 218.9a2.90 2.90 0 1 0 0.01 0M312.3 205.0a2.90 2.90 0 1 0 0.01 0M286.0 206.4a2.90 2.90 0 1 0 0.01 0M188.9 195.7a2.90 2.90 0 1 0 0.01 0M191.3 176.8a2.90 2.90 0 1 0 0.01 0M178.5 153.9a2.90 2.90 0 1 0 0.01 0M177.0 166.8a2.90 2.90 0 1 0 0.01 0M235.3 212.6a2.90 2.90 0 1 0 0.01 0M192.6 182.2a2.90 2.90 0 1 0 0.01 0M186.2 159.9a2.90 2.90 0 1 0 0.01 0M306.6 197.6a2.90 2.90 0 1 0 0.01 0M234.3 222.1a2.90 2.90 0 1 0 0.01 0M304.3 212.6a2.90 2.90 0 1 0 0.01 0M249.2 216.2a2.90 2.90 0 1 0 0.01 0M251.4 225.6a2.90 2.90 0 1 0 0.01 0M249.1 216.9a2.90 2.90 0 1 0 0.01 0M249.1 225.1a2.90 2.90 0 1 0 0.01 0M309.7 195.0a2.90 2.90 0 1 0 0.01 0M238.8 223.6a2.90 2.90 0 1 0 0.01 0M319.4 175.2a2.90 2.90 0 1 0 0.01 0M190.5 166.0a2.90 2.90 0 1 0 0.01 0M304.6 200.6a2.90 2.90 0 1 0 0.01 0M190.3 182.8a2.90 2.90 0 1 0 0.01 0M274.9 199.9a2.90 2.90 0 1 0 0.01 0M179.2 167.7a2.90 2.90 0 1 0 0.01 0M255.3 226.7a2.90 2.90 0 1 0 0.01 0M185.0 149.4a2.90 2.90 0 1 0 0.01 0M330.7 166.4a2.90 2.90 0 1 0 0.01 0M300.2 174.5a2.90 2.90 0 1 0 0.01 0M297.8 199.8a2.90 2.90 0 1 0 0.01 0M309.9 172.3a2.90 2.90 0 1 0 0.01 0M187.6 181.5a2.90 2.90 0 1 0 0.01 0M196.3 190.3a2.90 2.90 0 1 0 0.01 0M196.9 188.0a2.90 2.90 0 1 0 0.01 0M275.4 211.9a2.90 2.90 0 1 0 0.01 0M317.0 175.1a2.90 2.90 0 1 0 0.01 0M325.5 151.5a2.90 2.90 0 1 0 0.01 0M297.6 208.5a2.90 2.90 0 1 0 0.01 0M302.4 216.2a2.90 2.90 0 1 0 0.01 0M328.5 184.7a2.90 2.90 0 1 0 0.01 0M237.9 223.1a2.90 2.90 0 1 0 0.01 0M208.1 204.4a2.90 2.90 0 1 0 0.01 0M196.7 196.6a2.90 2.90 0 1 0 0.01 0M175.0 179.1a2.90 2.90 0 1 0 0.01 0M304.7 198.0a2.90 2.90 0 1 0 0.01 0M187.1 174.0a2.90 2.90 0 1 0 0.01 0M203.0 203.6a2.90 2.90 0 1 0 0.01 0M301.6 182.9a2.90 2.90 0 1 0 0.01 0M210.8 228.2a2.90 2.90 0 1 0 0.01 0M338.3 168.7a2.90 2.90 0 1 0 0.01 0M216.1 201.3a2.90 2.90 0 1 0 0.01 0M264.0 223.7a2.90 2.90 0 1 0 0.01 0M216.6 204.0a2.90 2.90 0 1 0 0.01 0M315.4 174.3a2.90 2.90 0 1 0 0.01 0M231.3 216.4a2.90 2.90 0 1 0 0.01 0M235.6 211.8a2.90 2.90 0 1 0 0.01 0M257.4 223.3a2.90 2.90 0 1 0 0.01 0M313.6 176.8a2.90 2.90 0 1 0 0.01 0M191.3 158.2a2.90 2.90 0 1 0 0.01 0M280.4 212.1a2.90 2.90 0 1 0 0.01 0M322.7 164.1a2.90 2.90 0 1 0 0.01 0M199.7 157.5a2.90 2.90 0 1 0 0.01 0M266.5 225.8a2.90 2.90 0 1 0 0.01 0M222.6 221.1a2.90 2.90 0 1 0 0.01 0M309.8 183.5a2.90 2.90 0 1 0 0.01 0M279.5 216.6a2.90 2.90 0 1 0 0.01 0M292.4 212.5a2.90 2.90 0 1 0 0.01 0M233.6 218.0a2.90 2.90 0 1 0 0.01 0M276.7 215.8a2.90 2.90 0 1 0 0.01 0M205.1 208.2a2.90 2.90 0 1 0 0.01 0M174.5 156.7a2.90 2.90 0 1 0 0.01 0M277.6 214.8a2.90 2.90 0 1 0 0.01 0M229.0 209.5a2.90 2.90 0 1 0 0.01 0M259.6 219.1a2.90 2.90 0 1 0 0.01 0M311.8 160.9a2.90 2.90 0 1 0 0.01 0M243.7 222.4a2.90 2.90 0 1 0 0.01 0M198.2 199.5a2.90 2.90 0 1 0 0.01 0M231.7 216.5a2.90 2.90 0 1 0 0.01 0M319.8 173.0a2.90 2.90 0 1 0 0.01 0M318.8 162.1a2.90 2.90 0 1 0 0.01 0M321.6 198.0a2.90 2.90 0 1 0 0.01 0M318.9 181.8a2.90 2.90 0 1 0 0.01 0M192.5 196.6a2.90 2.90 0 1 0 0.01 0M181.7 195.9a2.90 2.90 0 1 0 0.01 0M205.8 192.0a2.90 2.90 0 1 0 0.01 0M229.1 214.4a2.90 2.90 0 1 0 0.01 0M204.6 208.6a2.90 2.90 0 1 0 0.01 0M267.8 215.6a2.90 2.90 0 1 0 0.01 0M237.6 211.7a2.90 2.90 0 1 0 0.01 0M315.6 193.8a2.90 2.90 0 1 0 0.01 0M206.4 189.1a2.90 2.90 0 1 0 0.01 0M304.2 215.2a2.90 2.90 0 1 0 0.01 0M205.3 205.0a2.90 2.90 0 1 0 0.01 0M273.6 222.2a2.90 2.90 0 1 0 0.01 0M219.9 224.0a2.90 2.90 0 1 0 0.01 0M188.1 162.3a2.90 2.90 0 1 0 0.01 0M208.4 220.0a2.90 2.90 0 1 0 0.01 0M274.9 201.2a2.90 2.90 0 1 0 0.01 0M250.6 223.5a2.90 2.90 0 1 0 0.01 0M264.4 221.2a2.90 2.90 0 1 0 0.01 0M190.6 193.1a2.90 2.90 0 1 0 0.01 0M280.2 229.9a2.90 2.90 0 1 0 0.01 0M328.9 160.7a2.90 2.90 0 1 0 0.01 0M307.4 181.1a2.90 2.90 0 1 0 0.01 0M267.9 214.3a2.90 2.90 0 1 0 0.01 0M317.5 172.1a2.90 2.90 0 1 0 0.01 0M315.8 170.1a2.90 2.90 0 1 0 0.01 0M271.2 216.1a2.90 2.90 0 1 0 0.01 0M186.5 164.3a2.90 2.90 0 1 0 0.01 0M185.0 175.9a2.90 2.90 0 1 0 0.01 0M172.6 174.1a2.90 2.90 0 1 0 0.01 0M230.1 220.1a2.90 2.90 0 1 0 0.01 0M229.1 222.8a2.90 2.90 0 1 0 0.01 0M325.3 160.5a2.90 2.90 0 1 0 0.01 0M196.1 192.9a2.90 2.90 0 1 0 0.01 0M323.0 156.8a2.90 2.90 0 1 0 0.01 0M298.4 206.4a2.90 2.90 0 1 0 0.01 0M318.1 206.8a2.90 2.90 0 1 0 0.01 0M262.2 228.7a2.90 2.90 0 1 0 0.01 0M287.9 212.7a2.90 2.90 0 1 0 0.01 0M251.0 221.9a2.90 2.90 0 1 0 0.01 0M195.4 150.5a2.90 2.90 0 1 0 0.01 0M230.2 223.2a2.90 2.90 0 1 0 0.01 0M253.3 228.1a2.90 2.90 0 1 0 0.01 0M293.8 213.0a2.90 2.90 0 1 0 0.01 0M245.9 218.7a2.90 2.90 0 1 0 0.01 0M244.0 229.7a2.90 2.90 0 1 0 0.01 0M180.8 190.0a2.90 2.90 0 1 0 0.01 0M179.7 155.2a2.90 2.90 0 1 0 0.01 0M299.4 203.7a2.90 2.90 0 1 0 0.01 0M215.2 205.4a2.90 2.90 0 1 0 0.01 0M331.1 158.5a2.90 2.90 0 1 0 0.01 0M198.8 190.2a2.90 2.90 0 1 0 0.01 0M222.7 217.2a2.90 2.90 0 1 0 0.01 0M264.4 221.0a2.90 2.90 0 1 0 0.01 0M291.3 198.9a2.90 2.90 0 1 0 0.01 0M246.9 234.1a2.90 2.90 0 1 0 0.01 0M175.5 181.8a2.90 2.90 0 1 0 0.01 0M219.6 207.8a2.90 2.90 0 1 0 0.01 0M244.3 224.8a2.90 2.90 0 1 0 0.01 0M292.1 223.1a2.90 2.90 0 1 0 0.01 0M303.8 199.3a2.90 2.90 0 1 0 0.01 0M196.7 199.6a2.90 2.90 0 1 0 0.01 0M186.1 149.7a2.90 2.90 0 1 0 0.01 0M252.4 224.5a2.90 2.90 0 1 0 0.01 0M314.9 199.2a2.90 2.90 0 1 0 0.01 0M192.8 157.1a2.90 2.90 0 1 0 0.01 0M276.7 212.7a2.90 2.90 0 1 0 0.01 0M280.1 205.6a2.90 2.90 0 1 0 0.01 0M230.4 233.4a2.90 2.90 0 1 0 0.01 0M310.0 180.3a2.90 2.90 0 1 0 0.01 0M291.0 216.1a2.90 2.90 0 1 0 0.01 0M186.9 152.2a2.90 2.90 0 1 0 0.01 0M244.5 226.2a2.90 2.90 0 1 0 0.01 0M307.9 180.6a2.90 2.90 0 1 0 0.01 0M321.8 189.1a2.90 2.90 0 1 0 0.01 0M278.8 219.0a2.90 2.90 0 1 0 0.01 0M280.1 208.5a2.90 2.90 0 1 0 0.01 0M261.8 222.2a2.90 2.90 0 1 0 0.01 0M200.6 219.2a2.90 2.90 0 1 0 0.01 0M248.1 227.1a2.90 2.90 0 1 0 0.01 0M288.7 215.4a2.90 2.90 0 1 0 0.01 0M220.8 222.7a2.90 2.90 0 1 0 0.01 0M307.0 193.2a2.90 2.90 0 1 0 0.01 0M198.6 181.9a2.90 2.90 0 1 0 0.01 0M299.0 212.9a2.90 2.90 0 1 0 0.01 0M219.6 215.4a2.90 2.90 0 1 0 0.01 0M307.5 203.0a2.90 2.90 0 1 0 0.01 0M237.8 198.8a2.90 2.90 0 1 0 0.01 0M303.1 198.5a2.90 2.90 0 1 0 0.01 0M225.0 216.0a2.90 2.90 0 1 0 0.01 0M196.8 202.6a2.90 2.90 0 1 0 0.01 0M306.8 194.2a2.90 2.90 0 1 0 0.01 0M207.8 218.6a2.90 2.90 0 1 0 0.01 0M310.1 215.2a2.90 2.90 0 1 0 0.01 0M304.3 201.6a2.90 2.90 0 1 0 0.01 0M193.1 194.5a2.90 2.90 0 1 0 0.01 0M192.2 205.3a2.90 2.90 0 1 0 0.01 0M188.3 190.4a2.90 2.90 0 1 0 0.01 0M188.5 179.0a2.90 2.90 0 1 0 0.01 0M221.6 213.8a2.90 2.90 0 1 0 0.01 0M194.7 164.0a2.90 2.90 0 1 0 0.01 0M181.4 182.3a2.90 2.90 0 1 0 0.01 0" fill="#ff7f0e" fill-opacity="0.080" stroke="#ff7f0e" stroke-opacity="0.130" stroke-width="0.80"/></g><rect x="0.60" y="0.60" width="447.10" height="317.50" fill="none" stroke="#222" stroke-width="1.20"/></svg>
<svg style="left:604.60px;top:1087.30px" width="448.30" height="318.70" viewBox="0 0 448.30 318.70"><defs><clipPath id="c199"><rect width="448.30" height="318.70"/></clipPath><filter id="f200" filterUnits="userSpaceOnUse" x="-60" y="-60" width="568" height="439"><feGaussianBlur stdDeviation="5.00"/></filter><filter id="f201" filterUnits="userSpaceOnUse" x="-60" y="-60" width="568" height="439"><feGaussianBlur stdDeviation="8.00"/></filter><filter id="f202" filterUnits="userSpaceOnUse" x="-60" y="-60" width="568" height="439"><feGaussianBlur stdDeviation="8.00"/></filter><filter id="f203" filterUnits="userSpaceOnUse" x="-60" y="-60" width="568" height="439"><feGaussianBlur stdDeviation="8.00"/></filter><filter id="f204" filterUnits="userSpaceOnUse" x="-60" y="-60" width="568" height="439"><feGaussianBlur stdDeviation="1.80"/></filter></defs><g clip-path="url(#c199)"><rect width="448.30" height="318.70" fill="#f7fbff"/><path d="M 103.6,197.5 C 106.3,196.2 114.0,192.3 120.2,189.2 C 126.4,186.1 132.3,183.7 141.0,178.8 C 149.6,174.0 163.5,164.2 172.2,160.1 C 180.8,156.1 186.0,154.7 193.0,154.5 C 199.9,154.3 206.8,155.0 213.8,159.1 C 220.7,163.1 228.3,173.4 234.6,178.8 C 240.8,184.3 245.3,190.5 251.2,191.9 C 257.1,193.3 263.3,190.2 269.9,187.1 C 276.5,184.1 282.7,179.7 290.7,173.6 C 298.7,167.6 309.8,158.7 317.7,150.8 C 325.7,142.8 335.1,130.0 338.5,125.8" fill="none" stroke="#5b9bd0" stroke-width="26.00" stroke-opacity="0.550" stroke-linecap="round" stroke-linejoin="round" filter="url(#f200)"/><polygon points="45.3,367.0 147.2,367.0 149.3,254.7 116.0,229.8 93.2,231.9" fill="#6fa3cf" fill-opacity="0.850" filter="url(#f201)"/><polygon points="-46.2,367.0 -46.2,236.0 122.3,186.1 130.6,197.5 47.4,367.0" fill="#163a74" fill-opacity="1.000" filter="url(#f202)"/><polygon points="269.9,180.9 361.4,-38.5 515.3,-38.5 515.3,61.3 301.1,179.9" fill="#163a74" fill-opacity="1.000" filter="url(#f203)"/><path d="M 103.6,197.5 C 106.3,196.2 114.0,192.3 120.2,189.2 C 126.4,186.1 132.3,183.7 141.0,178.8 C 149.6,174.0 163.5,164.2 172.2,160.1 C 180.8,156.1 186.0,154.7 193.0,154.5 C 199.9,154.3 206.8,155.0 213.8,159.1 C 220.7,163.1 228.3,173.4 234.6,178.8 C 240.8,184.3 245.3,190.5 251.2,191.9 C 257.1,193.3 263.3,190.2 269.9,187.1 C 276.5,184.1 282.7,179.7 290.7,173.6 C 298.7,167.6 309.8,158.7 317.7,150.8 C 325.7,142.8 335.1,130.0 338.5,125.8" fill="none" stroke="#163a74" stroke-width="10.00" stroke-opacity="1.000" stroke-linecap="round" stroke-linejoin="round" filter="url(#f204)"/><path d="M193.0 129.7a2.90 2.90 0 1 0 0.01 0M243.0 177.4a2.90 2.90 0 1 0 0.01 0M161.5 134.3a2.90 2.90 0 1 0 0.01 0M192.4 119.5a2.90 2.90 0 1 0 0.01 0M203.7 123.4a2.90 2.90 0 1 0 0.01 0M219.1 133.2a2.90 2.90 0 1 0 0.01 0M242.3 141.7a2.90 2.90 0 1 0 0.01 0M161.8 139.7a2.90 2.90 0 1 0 0.01 0M232.4 137.5a2.90 2.90 0 1 0 0.01 0M222.6 143.5a2.90 2.90 0 1 0 0.01 0M153.1 117.0a2.90 2.90 0 1 0 0.01 0M176.4 139.0a2.90 2.90 0 1 0 0.01 0M248.6 169.2a2.90 2.90 0 1 0 0.01 0M190.7 125.0a2.90 2.90 0 1 0 0.01 0M229.4 158.2a2.90 2.90 0 1 0 0.01 0M124.7 154.9a2.90 2.90 0 1 0 0.01 0M119.9 174.7a2.90 2.90 0 1 0 0.01 0M187.5 131.5a2.90 2.90 0 1 0 0.01 0M119.0 155.5a2.90 2.90 0 1 0 0.01 0M263.2 178.4a2.90 2.90 0 1 0 0.01 0M196.0 139.1a2.90 2.90 0 1 0 0.01 0M254.9 180.9a2.90 2.90 0 1 0 0.01 0M199.5 133.8a2.90 2.90 0 1 0 0.01 0M245.4 173.1a2.90 2.90 0 1 0 0.01 0M244.8 162.6a2.90 2.90 0 1 0 0.01 0M180.4 132.8a2.90 2.90 0 1 0 0.01 0M235.1 159.5a2.90 2.90 0 1 0 0.01 0M231.7 160.1a2.90 2.90 0 1 0 0.01 0M228.0 153.9a2.90 2.90 0 1 0 0.01 0M215.8 127.0a2.90 2.90 0 1 0 0.01 0M193.9 114.1a2.90 2.90 0 1 0 0.01 0M238.1 163.9a2.90 2.90 0 1 0 0.01 0M157.0 131.2a2.90 2.90 0 1 0 0.01 0M183.0 128.0a2.90 2.90 0 1 0 0.01 0M179.8 114.6a2.90 2.90 0 1 0 0.01 0M204.3 138.8a2.90 2.90 0 1 0 0.01 0M132.9 163.1a2.90 2.90 0 1 0 0.01 0M171.0 125.2a2.90 2.90 0 1 0 0.01 0M238.2 162.4a2.90 2.90 0 1 0 0.01 0M141.0 127.8a2.90 2.90 0 1 0 0.01 0M120.4 190.9a2.90 2.90 0 1 0 0.01 0M176.5 126.3a2.90 2.90 0 1 0 0.01 0M121.2 173.3a2.90 2.90 0 1 0 0.01 0M219.1 134.9a2.90 2.90 0 1 0 0.01 0M178.0 124.4a2.90 2.90 0 1 0 0.01 0M199.5 126.6a2.90 2.90 0 1 0 0.01 0M192.3 121.4a2.90 2.90 0 1 0 0.01 0M135.9 151.3a2.90 2.90 0 1 0 0.01 0M178.2 129.7a2.90 2.90 0 1 0 0.01 0M134.8 183.9a2.90 2.90 0 1 0 0.01 0M179.0 124.1a2.90 2.90 0 1 0 0.01 0M244.9 173.8a2.90 2.90 0 1 0 0.01 0M210.3 129.8a2.90 2.90 0 1 0 0.01 0M126.3 156.2a2.90 2.90 0 1 0 0.01 0M209.8 131.2a2.90 2.90 0 1 0 0.01 0M248.7 188.6a2.90 2.90 0 1 0 0.01 0M227.3 156.3a2.90 2.90 0 1 0 0.01 0M255.1 177.3a2.90 2.90 0 1 0 0.01 0M115.9 199.7a2.90 2.90 0 1 0 0.01 0M107.4 200.6a2.90 2.90 0 1 0 0.01 0M129.5 148.1a2.90 2.90 0 1 0 0.01 0M167.7 129.6a2.90 2.90 0 1 0 0.01 0M127.6 146.9a2.90 2.90 0 1 0 0.01 0M243.2 153.0a2.90 2.90 0 1 0 0.01 0M231.0 140.7a2.90 2.90 0 1 0 0.01 0M179.6 121.5a2.90 2.90 0 1 0 0.01 0M217.4 133.3a2.90 2.90 0 1 0 0.01 0M237.1 185.4a2.90 2.90 0 1 0 0.01 0M123.1 185.9a2.90 2.90 0 1 0 0.01 0M203.7 129.1a2.90 2.90 0 1 0 0.01 0M184.6 120.7a2.90 2.90 0 1 0 0.01 0M225.1 132.9a2.90 2.90 0 1 0 0.01 0M238.6 134.7a2.90 2.90 0 1 0 0.01 0M217.8 140.5a2.90 2.90 0 1 0 0.01 0M123.2 159.9a2.90 2.90 0 1 0 0.01 0M136.7 153.4a2.90 2.90 0 1 0 0.01 0M218.7 136.8a2.90 2.90 0 1 0 0.01 0M253.1 203.2a2.90 2.90 0 1 0 0.01 0M127.1 153.6a2.90 2.90 0 1 0 0.01 0M223.4 137.3a2.90 2.90 0 1 0 0.01 0M183.6 133.6a2.90 2.90 0 1 0 0.01 0M246.4 173.8a2.90 2.90 0 1 0 0.01 0M155.7 136.0a2.90 2.90 0 1 0 0.01 0M199.6 125.1a2.90 2.90 0 1 0 0.01 0M187.0 115.8a2.90 2.90 0 1 0 0.01 0M196.9 129.2a2.90 2.90 0 1 0 0.01 0M213.3 134.1a2.90 2.90 0 1 0 0.01 0M181.3 121.2a2.90 2.90 0 1 0 0.01 0M113.2 185.4a2.90 2.90 0 1 0 0.01 0M246.7 162.2a2.90 2.90 0 1 0 0.01 0M221.1 143.8a2.90 2.90 0 1 0 0.01 0M249.6 182.2a2.90 2.90 0 1 0 0.01 0M145.1 134.8a2.90 2.90 0 1 0 0.01 0M161.5 131.2a2.90 2.90 0 1 0 0.01 0M234.2 146.3a2.90 2.90 0 1 0 0.01 0M201.1 132.0a2.90 2.90 0 1 0 0.01 0M157.3 129.7a2.90 2.90 0 1 0 0.01 0M157.9 139.8a2.90 2.90 0 1 0 0.01 0M231.7 154.2a2.90 2.90 0 1 0 0.01 0M115.4 160.5a2.90 2.90 0 1 0 0.01 0M125.6 152.7a2.90 2.90 0 1 0 0.01 0M234.3 150.8a2.90 2.90 0 1 0 0.01 0M119.8 165.1a2.90 2.90 0 1 0 0.01 0M133.6 146.2a2.90 2.90 0 1 0 0.01 0M135.9 151.6a2.90 2.90 0 1 0 0.01 0M175.5 118.8a2.90 2.90 0 1 0 0.01 0M227.6 141.9a2.90 2.90 0 1 0 0.01 0M130.2 183.0a2.90 2.90 0 1 0 0.01 0M167.3 136.9a2.90 2.90 0 1 0 0.01 0M201.9 138.8a2.90 2.90 0 1 0 0.01 0M234.0 138.0a2.90 2.90 0 1 0 0.01 0M117.1 178.8a2.90 2.90 0 1 0 0.01 0M198.7 132.6a2.90 2.90 0 1 0 0.01 0M172.0 142.0a2.90 2.90 0 1 0 0.01 0M160.6 130.4a2.90 2.90 0 1 0 0.01 0M141.7 152.6a2.90 2.90 0 1 0 0.01 0M158.2 130.3a2.90 2.90 0 1 0 0.01 0M244.4 161.0a2.90 2.90 0 1 0 0.01 0M151.6 133.3a2.90 2.90 0 1 0 0.01 0M185.5 125.2a2.90 2.90 0 1 0 0.01 0M169.8 132.6a2.90 2.90 0 1 0 0.01 0M143.3 137.9a2.90 2.90 0 1 0 0.01 0M237.0 147.0a2.90 2.90 0 1 0 0.01 0M244.0 161.2a2.90 2.90 0 1 0 0.01 0M253.8 168.9a2.90 2.90 0 1 0 0.01 0M219.6 143.2a2.90 2.90 0 1 0 0.01 0M253.0 195.2a2.90 2.90 0 1 0 0.01 0M162.9 133.4a2.90 2.90 0 1 0 0.01 0M228.4 145.3a2.90 2.90 0 1 0 0.01 0M243.1 150.0a2.90 2.90 0 1 0 0.01 0M246.4 172.7a2.90 2.90 0 1 0 0.01 0M223.4 138.1a2.90 2.90 0 1 0 0.01 0M237.7 146.9a2.90 2.90 0 1 0 0.01 0M226.5 148.2a2.90 2.90 0 1 0 0.01 0M181.9 129.1a2.90 2.90 0 1 0 0.01 0M177.4 112.1a2.90 2.90 0 1 0 0.01 0M130.9 164.2a2.90 2.90 0 1 0 0.01 0M103.5 184.8a2.90 2.90 0 1 0 0.01 0M251.7 188.4a2.90 2.90 0 1 0 0.01 0M241.2 147.4a2.90 2.90 0 1 0 0.01 0M152.6 144.8a2.90 2.90 0 1 0 0.01 0M250.4 158.6a2.90 2.90 0 1 0 0.01 0M121.0 171.0a2.90 2.90 0 1 0 0.01 0M234.7 141.7a2.90 2.90 0 1 0 0.01 0M141.8 130.7a2.90 2.90 0 1 0 0.01 0M160.7 131.0a2.90 2.90 0 1 0 0.01 0M136.3 151.2a2.90 2.90 0 1 0 0.01 0M242.3 188.0a2.90 2.90 0 1 0 0.01 0M237.8 153.8a2.90 2.90 0 1 0 0.01 0M140.8 146.8a2.90 2.90 0 1 0 0.01 0M261.3 181.4a2.90 2.90 0 1 0 0.01 0M245.1 189.9a2.90 2.90 0 1 0 0.01 0M220.7 125.0a2.90 2.90 0 1 0 0.01 0M162.3 124.7a2.90 2.90 0 1 0 0.01 0M245.5 179.8a2.90 2.90 0 1 0 0.01 0M268.7 171.1a2.90 2.90 0 1 0 0.01 0M251.5 190.1a2.90 2.90 0 1 0 0.01 0M204.7 137.8a2.90 2.90 0 1 0 0.01 0M136.0 130.8a2.90 2.90 0 1 0 0.01 0M243.7 151.5a2.90 2.90 0 1 0 0.01 0M129.1 176.7a2.90 2.90 0 1 0 0.01 0M208.6 134.3a2.90 2.90 0 1 0 0.01 0M162.6 127.4a2.90 2.90 0 1 0 0.01 0M233.5 126.4a2.90 2.90 0 1 0 0.01 0M163.3 132.5a2.90 2.90 0 1 0 0.01 0M110.5 179.3a2.90 2.90 0 1 0 0.01 0M190.2 135.4a2.90 2.90 0 1 0 0.01 0M237.3 146.9a2.90 2.90 0 1 0 0.01 0M198.5 134.4a2.90 2.90 0 1 0 0.01 0M197.6 134.8a2.90 2.90 0 1 0 0.01 0M173.0 116.4a2.90 2.90 0 1 0 0.01 0M181.1 113.2a2.90 2.90 0 1 0 0.01 0M241.9 175.0a2.90 2.90 0 1 0 0.01 0M242.5 141.2a2.90 2.90 0 1 0 0.01 0M194.0 129.5a2.90 2.90 0 1 0 0.01 0M146.7 137.9a2.90 2.90 0 1 0 0.01 0M130.0 142.9a2.90 2.90 0 1 0 0.01 0M137.9 143.0a2.90 2.90 0 1 0 0.01 0M187.0 130.4a2.90 2.90 0 1 0 0.01 0M113.2 177.7a2.90 2.90 0 1 0 0.01 0M212.6 123.6a2.90 2.90 0 1 0 0.01 0M189.1 131.0a2.90 2.90 0 1 0 0.01 0M144.4 144.6a2.90 2.90 0 1 0 0.01 0M132.0 161.1a2.90 2.90 0 1 0 0.01 0M214.8 130.6a2.90 2.90 0 1 0 0.01 0M110.0 170.6a2.90 2.90 0 1 0 0.01 0M185.6 123.0a2.90 2.90 0 1 0 0.01 0M154.7 141.3a2.90 2.90 0 1 0 0.01 0M243.5 184.2a2.90 2.90 0 1 0 0.01 0M255.4 187.7a2.90 2.90 0 1 0 0.01 0M121.2 178.3a2.90 2.90 0 1 0 0.01 0M241.3 165.5a2.90 2.90 0 1 0 0.01 0M148.6 140.1a2.90 2.90 0 1 0 0.01 0M225.9 130.1a2.90 2.90 0 1 0 0.01 0M252.7 143.2a2.90 2.90 0 1 0 0.01 0M204.8 136.4a2.90 2.90 0 1 0 0.01 0M121.4 176.5a2.90 2.90 0 1 0 0.01 0M171.0 134.7a2.90 2.90 0 1 0 0.01 0M113.6 180.6a2.90 2.90 0 1 0 0.01 0M150.0 131.5a2.90 2.90 0 1 0 0.01 0M180.0 122.0a2.90 2.90 0 1 0 0.01 0M187.9 130.6a2.90 2.90 0 1 0 0.01 0M237.2 144.1a2.90 2.90 0 1 0 0.01 0M245.6 181.3a2.90 2.90 0 1 0 0.01 0M200.8 127.6a2.90 2.90 0 1 0 0.01 0M169.9 136.6a2.90 2.90 0 1 0 0.01 0M124.6 166.0a2.90 2.90 0 1 0 0.01 0M146.3 137.0a2.90 2.90 0 1 0 0.01 0M128.2 160.6a2.90 2.90 0 1 0 0.01 0M115.5 175.0a2.90 2.90 0 1 0 0.01 0M123.6 178.2a2.90 2.90 0 1 0 0.01 0M122.9 149.7a2.90 2.90 0 1 0 0.01 0M244.8 160.6a2.90 2.90 0 1 0 0.01 0M215.2 139.2a2.90 2.90 0 1 0 0.01 0M229.9 156.8a2.90 2.90 0 1 0 0.01 0M121.5 178.7a2.90 2.90 0 1 0 0.01 0M133.8 144.0a2.90 2.90 0 1 0 0.01 0M214.1 140.1a2.90 2.90 0 1 0 0.01 0M159.1 125.9a2.90 2.90 0 1 0 0.01 0M132.4 152.9a2.90 2.90 0 1 0 0.01 0M131.1 162.4a2.90 2.90 0 1 0 0.01 0M237.2 149.7a2.90 2.90 0 1 0 0.01 0M138.6 138.9a2.90 2.90 0 1 0 0.01 0M133.1 154.7a2.90 2.90 0 1 0 0.01 0M245.4 186.3a2.90 2.90 0 1 0 0.01 0M256.1 176.8a2.90 2.90 0 1 0 0.01 0M199.0 133.6a2.90 2.90 0 1 0 0.01 0M252.5 153.1a2.90 2.90 0 1 0 0.01 0M126.3 172.9a2.90 2.90 0 1 0 0.01 0M163.4 149.2a2.90 2.90 0 1 0 0.01 0M145.4 147.8a2.90 2.90 0 1 0 0.01 0M139.8 155.7a2.90 2.90 0 1 0 0.01 0M216.2 145.0a2.90 2.90 0 1 0 0.01 0M233.1 147.9a2.90 2.90 0 1 0 0.01 0M170.5 145.7a2.90 2.90 0 1 0 0.01 0M206.5 127.8a2.90 2.90 0 1 0 0.01 0M114.5 178.9a2.90 2.90 0 1 0 0.01 0M158.3 132.4a2.90 2.90 0 1 0 0.01 0M208.1 134.9a2.90 2.90 0 1 0 0.01 0M121.5 158.8a2.90 2.90 0 1 0 0.01 0M203.4 133.6a2.90 2.90 0 1 0 0.01 0M242.7 153.9a2.90 2.90 0 1 0 0.01 0M135.2 150.7a2.90 2.90 0 1 0 0.01 0M177.0 121.1a2.90 2.90 0 1 0 0.01 0M238.0 135.6a2.90 2.90 0 1 0 0.01 0M148.8 131.8a2.90 2.90 0 1 0 0.01 0M115.4 193.5a2.90 2.90 0 1 0 0.01 0M232.1 146.8a2.90 2.90 0 1 0 0.01 0M138.2 145.7a2.90 2.90 0 1 0 0.01 0M131.8 149.3a2.90 2.90 0 1 0 0.01 0M247.4 166.1a2.90 2.90 0 1 0 0.01 0M135.3 162.3a2.90 2.90 0 1 0 0.01 0M201.6 135.3a2.90 2.90 0 1 0 0.01 0M242.6 154.8a2.90 2.90 0 1 0 0.01 0M179.7 125.7a2.90 2.90 0 1 0 0.01 0M229.1 140.0a2.90 2.90 0 1 0 0.01 0M242.7 155.2a2.90 2.90 0 1 0 0.01 0M251.8 172.2a2.90 2.90 0 1 0 0.01 0M235.7 150.4a2.90 2.90 0 1 0 0.01 0M194.8 123.8a2.90 2.90 0 1 0 0.01 0M154.5 130.6a2.90 2.90 0 1 0 0.01 0M251.7 177.7a2.90 2.90 0 1 0 0.01 0M138.8 141.1a2.90 2.90 0 1 0 0.01 0M251.9 164.1a2.90 2.90 0 1 0 0.01 0M242.0 161.0a2.90 2.90 0 1 0 0.01 0M144.4 140.0a2.90 2.90 0 1 0 0.01 0M126.6 159.9a2.90 2.90 0 1 0 0.01 0M130.3 197.6a2.90 2.90 0 1 0 0.01 0M150.3 133.7a2.90 2.90 0 1 0 0.01 0M194.7 121.8a2.90 2.90 0 1 0 0.01 0M250.2 168.0a2.90 2.90 0 1 0 0.01 0M168.6 129.4a2.90 2.90 0 1 0 0.01 0M243.7 162.5a2.90 2.90 0 1 0 0.01 0M192.2 131.1a2.90 2.90 0 1 0 0.01 0M154.5 127.6a2.90 2.90 0 1 0 0.01 0M113.4 160.9a2.90 2.90 0 1 0 0.01 0M219.2 127.4a2.90 2.90 0 1 0 0.01 0M137.7 187.1a2.90 2.90 0 1 0 0.01 0M108.5 187.7a2.90 2.90 0 1 0 0.01 0M131.5 162.8a2.90 2.90 0 1 0 0.01 0M148.4 127.4a2.90 2.90 0 1 0 0.01 0M142.8 147.5a2.90 2.90 0 1 0 0.01 0M118.6 176.3a2.90 2.90 0 1 0 0.01 0M115.1 184.3a2.90 2.90 0 1 0 0.01 0M133.7 171.4a2.90 2.90 0 1 0 0.01 0M145.3 130.9a2.90 2.90 0 1 0 0.01 0M254.6 179.2a2.90 2.90 0 1 0 0.01 0M160.5 126.4a2.90 2.90 0 1 0 0.01 0M219.8 130.3a2.90 2.90 0 1 0 0.01 0M247.2 168.4a2.90 2.90 0 1 0 0.01 0M126.3 168.3a2.90 2.90 0 1 0 0.01 0M121.6 159.2a2.90 2.90 0 1 0 0.01 0M177.2 129.6a2.90 2.90 0 1 0 0.01 0M191.4 128.8a2.90 2.90 0 1 0 0.01 0M177.3 112.2a2.90 2.90 0 1 0 0.01 0M233.5 129.1a2.90 2.90 0 1 0 0.01 0M203.3 118.6a2.90 2.90 0 1 0 0.01 0M197.3 117.1a2.90 2.90 0 1 0 0.01 0M258.5 182.5a2.90 2.90 0 1 0 0.01 0M119.8 167.7a2.90 2.90 0 1 0 0.01 0" fill="#2ca02c" fill-opacity="0.100" stroke="#2ca02c" stroke-opacity="0.160" stroke-width="0.80"/><path d="M194.0 176.8a2.90 2.90 0 1 0 0.01 0M221.5 225.6a2.90 2.90 0 1 0 0.01 0M181.7 173.3a2.90 2.90 0 1 0 0.01 0M203.0 196.8a2.90 2.90 0 1 0 0.01 0M326.5 174.4a2.90 2.90 0 1 0 0.01 0M221.8 216.6a2.90 2.90 0 1 0 0.01 0M299.7 207.5a2.90 2.90 0 1 0 0.01 0M182.9 179.3a2.90 2.90 0 1 0 0.01 0M216.3 206.3a2.90 2.90 0 1 0 0.01 0M315.6 188.7a2.90 2.90 0 1 0 0.01 0M316.9 183.3a2.90 2.90 0 1 0 0.01 0M211.8 198.8a2.90 2.90 0 1 0 0.01 0M323.2 169.4a2.90 2.90 0 1 0 0.01 0M292.0 224.9a2.90 2.90 0 1 0 0.01 0M261.3 220.6a2.90 2.90 0 1 0 0.01 0M220.0 220.0a2.90 2.90 0 1 0 0.01 0M213.3 201.5a2.90 2.90 0 1 0 0.01 0M323.1 174.3a2.90 2.90 0 1 0 0.01 0M286.5 210.1a2.90 2.90 0 1 0 0.01 0M255.8 220.7a2.90 2.90 0 1 0 0.01 0M188.0 176.2a2.90 2.90 0 1 0 0.01 0M208.4 192.6a2.90 2.90 0 1 0 0.01 0M321.1 165.6a2.90 2.90 0 1 0 0.01 0M261.0 224.9a2.90 2.90 0 1 0 0.01 0M225.2 221.9a2.90 2.90 0 1 0 0.01 0M174.0 154.7a2.90 2.90 0 1 0 0.01 0M200.8 202.8a2.90 2.90 0 1 0 0.01 0M206.0 201.7a2.90 2.90 0 1 0 0.01 0M198.3 187.7a2.90 2.90 0 1 0 0.01 0M218.8 209.9a2.90 2.90 0 1 0 0.01 0M195.6 194.2a2.90 2.90 0 1 0 0.01 0M182.0 170.3a2.90 2.90 0 1 0 0.01 0M182.3 168.7a2.90 2.90 0 1 0 0.01 0M253.9 227.3a2.90 2.90 0 1 0 0.01 0M174.4 176.8a2.90 2.90 0 1 0 0.01 0M327.4 175.3a2.90 2.90 0 1 0 0.01 0M205.1 198.5a2.90 2.90 0 1 0 0.01 0M242.6 229.0a2.90 2.90 0 1 0 0.01 0M236.4 213.8a2.90 2.90 0 1 0 0.01 0M216.4 206.0a2.90 2.90 0 1 0 0.01 0M209.8 212.4a2.90 2.90 0 1 0 0.01 0M191.4 203.5a2.90 2.90 0 1 0 0.01 0M211.7 214.8a2.90 2.90 0 1 0 0.01 0M192.4 183.5a2.90 2.90 0 1 0 0.01 0M299.7 212.8a2.90 2.90 0 1 0 0.01 0M285.1 209.9a2.90 2.90 0 1 0 0.01 0M218.3 207.9a2.90 2.90 0 1 0 0.01 0M303.3 176.4a2.90 2.90 0 1 0 0.01 0M217.5 223.3a2.90 2.90 0 1 0 0.01 0M258.6 221.3a2.90 2.90 0 1 0 0.01 0M252.3 224.5a2.90 2.90 0 1 0 0.01 0M210.0 214.7a2.90 2.90 0 1 0 0.01 0M313.0 174.0a2.90 2.90 0 1 0 0.01 0M317.5 202.2a2.90 2.90 0 1 0 0.01 0M310.9 190.5a2.90 2.90 0 1 0 0.01 0M308.3 170.7a2.90 2.90 0 1 0 0.01 0M193.8 156.8a2.90 2.90 0 1 0 0.01 0M246.4 218.4a2.90 2.90 0 1 0 0.01 0M320.6 179.4a2.90 2.90 0 1 0 0.01 0M187.7 185.4a2.90 2.90 0 1 0 0.01 0M203.4 201.3a2.90 2.90 0 1 0 0.01 0M253.0 222.8a2.90 2.90 0 1 0 0.01 0M284.3 215.6a2.90 2.90 0 1 0 0.01 0M214.5 211.1a2.90 2.90 0 1 0 0.01 0M212.5 215.3a2.90 2.90 0 1 0 0.01 0M308.5 184.8a2.90 2.90 0 1 0 0.01 0M183.8 157.0a2.90 2.90 0 1 0 0.01 0M301.3 197.3a2.90 2.90 0 1 0 0.01 0M243.2 214.0a2.90 2.90 0 1 0 0.01 0M293.2 220.6a2.90 2.90 0 1 0 0.01 0M293.5 201.0a2.90 2.90 0 1 0 0.01 0M196.8 183.2a2.90 2.90 0 1 0 0.01 0M316.9 170.8a2.90 2.90 0 1 0 0.01 0M318.1 198.3a2.90 2.90 0 1 0 0.01 0M229.1 232.0a2.90 2.90 0 1 0 0.01 0M204.0 183.8a2.90 2.90 0 1 0 0.01 0M178.8 172.1a2.90 2.90 0 1 0 0.01 0M204.7 214.2a2.90 2.90 0 1 0 0.01 0M298.1 204.8a2.90 2.90 0 1 0 0.01 0M311.5 202.7a2.90 2.90 0 1 0 0.01 0M211.8 201.2a2.90 2.90 0 1 0 0.01 0M202.0 201.9a2.90 2.90 0 1 0 0.01 0M219.3 217.0a2.90 2.90 0 1 0 0.01 0M320.8 170.2a2.90 2.90 0 1 0 0.01 0M183.4 187.3a2.90 2.90 0 1 0 0.01 0M205.3 184.9a2.90 2.90 0 1 0 0.01 0M295.5 205.3a2.90 2.90 0 1 0 0.01 0M190.5 192.4a2.90 2.90 0 1 0 0.01 0M210.7 201.5a2.90 2.90 0 1 0 0.01 0M311.2 197.9a2.90 2.90 0 1 0 0.01 0M202.7 205.2a2.90 2.90 0 1 0 0.01 0M275.6 219.9a2.90 2.90 0 1 0 0.01 0M266.3 221.7a2.90 2.90 0 1 0 0.01 0M203.3 215.3a2.90 2.90 0 1 0 0.01 0M203.8 206.2a2.90 2.90 0 1 0 0.01 0M213.2 211.0a2.90 2.90 0 1 0 0.01 0M317.0 190.3a2.90 2.90 0 1 0 0.01 0M188.1 148.5a2.90 2.90 0 1 0 0.01 0M187.0 172.3a2.90 2.90 0 1 0 0.01 0M226.1 212.4a2.90 2.90 0 1 0 0.01 0M202.1 209.2a2.90 2.90 0 1 0 0.01 0M260.3 211.3a2.90 2.90 0 1 0 0.01 0M262.3 220.7a2.90 2.90 0 1 0 0.01 0M264.6 233.5a2.90 2.90 0 1 0 0.01 0M220.0 206.1a2.90 2.90 0 1 0 0.01 0M241.8 226.6a2.90 2.90 0 1 0 0.01 0M308.3 202.7a2.90 2.90 0 1 0 0.01 0M303.6 189.9a2.90 2.90 0 1 0 0.01 0M258.2 221.0a2.90 2.90 0 1 0 0.01 0M306.9 194.0a2.90 2.90 0 1 0 0.01 0M187.4 150.7a2.90 2.90 0 1 0 0.01 0M195.4 192.6a2.90 2.90 0 1 0 0.01 0M302.6 202.2a2.90 2.90 0 1 0 0.01 0M251.0 227.5a2.90 2.90 0 1 0 0.01 0M220.6 210.6a2.90 2.90 0 1 0 0.01 0M278.0 227.5a2.90 2.90 0 1 0 0.01 0M217.8 215.1a2.90 2.90 0 1 0 0.01 0M323.1 173.3a2.90 2.90 0 1 0 0.01 0M233.3 218.8a2.90 2.90 0 1 0 0.01 0M318.2 188.9a2.90 2.90 0 1 0 0.01 0M270.4 209.8a2.90 2.90 0 1 0 0.01 0M311.7 186.0a2.90 2.90 0 1 0 0.01 0M246.5 223.3a2.90 2.90 0 1 0 0.01 0M319.1 168.3a2.90 2.90 0 1 0 0.01 0M271.2 222.9a2.90 2.90 0 1 0 0.01 0M179.3 154.6a2.90 2.90 0 1 0 0.01 0M297.4 198.2a2.90 2.90 0 1 0 0.01 0M315.0 182.1a2.90 2.90 0 1 0 0.01 0M198.6 189.7a2.90 2.90 0 1 0 0.01 0M327.3 165.0a2.90 2.90 0 1 0 0.01 0M271.8 224.2a2.90 2.90 0 1 0 0.01 0M299.0 205.9a2.90 2.90 0 1 0 0.01 0M193.5 200.2a2.90 2.90 0 1 0 0.01 0M331.2 161.7a2.90 2.90 0 1 0 0.01 0M291.4 217.6a2.90 2.90 0 1 0 0.01 0M260.5 224.8a2.90 2.90 0 1 0 0.01 0M305.7 167.4a2.90 2.90 0 1 0 0.01 0M259.5 215.9a2.90 2.90 0 1 0 0.01 0M265.5 219.4a2.90 2.90 0 1 0 0.01 0M179.6 170.9a2.90 2.90 0 1 0 0.01 0M271.4 219.8a2.90 2.90 0 1 0 0.01 0M306.3 207.3a2.90 2.90 0 1 0 0.01 0M231.9 219.2a2.90 2.90 0 1 0 0.01 0M285.4 210.8a2.90 2.90 0 1 0 0.01 0M261.2 228.6a2.90 2.90 0 1 0 0.01 0M208.0 192.8a2.90 2.90 0 1 0 0.01 0M259.2 222.0a2.90 2.90 0 1 0 0.01 0M255.1 225.6a2.90 2.90 0 1 0 0.01 0M203.2 199.7a2.90 2.90 0 1 0 0.01 0M275.6 217.3a2.90 2.90 0 1 0 0.01 0M171.3 184.6a2.90 2.90 0 1 0 0.01 0M228.4 225.9a2.90 2.90 0 1 0 0.01 0M242.9 222.2a2.90 2.90 0 1 0 0.01 0M318.7 159.4a2.90 2.90 0 1 0 0.01 0M296.3 201.7a2.90 2.90 0 1 0 0.01 0M269.2 222.4a2.90 2.90 0 1 0 0.01 0M197.4 183.5a2.90 2.90 0 1 0 0.01 0M235.2 229.2a2.90 2.90 0 1 0 0.01 0M225.9 236.7a2.90 2.90 0 1 0 0.01 0M307.6 162.8a2.90 2.90 0 1 0 0.01 0M233.8 208.7a2.90 2.90 0 1 0 0.01 0M314.0 184.7a2.90 2.90 0 1 0 0.01 0M302.1 209.4a2.90 2.90 0 1 0 0.01 0M313.1 185.5a2.90 2.90 0 1 0 0.01 0M180.5 172.1a2.90 2.90 0 1 0 0.01 0M320.7 173.0a2.90 2.90 0 1 0 0.01 0M314.6 162.3a2.90 2.90 0 1 0 0.01 0M188.6 199.6a2.90 2.90 0 1 0 0.01 0M178.8 171.7a2.90 2.90 0 1 0 0.01 0M217.8 200.3a2.90 2.90 0 1 0 0.01 0M267.6 217.1a2.90 2.90 0 1 0 0.01 0M264.3 218.7a2.90 2.90 0 1 0 0.01 0M240.6 228.8a2.90 2.90 0 1 0 0.01 0M314.7 161.8a2.90 2.90 0 1 0 0.01 0M268.2 221.5a2.90 2.90 0 1 0 0.01 0M310.5 169.9a2.90 2.90 0 1 0 0.01 0M279.9 224.8a2.90 2.90 0 1 0 0.01 0M189.5 194.2a2.90 2.90 0 1 0 0.01 0M316.4 166.2a2.90 2.90 0 1 0 0.01 0M334.4 153.7a2.90 2.90 0 1 0 0.01 0M231.2 222.4a2.90 2.90 0 1 0 0.01 0M307.9 204.2a2.90 2.90 0 1 0 0.01 0M285.7 224.4a2.90 2.90 0 1 0 0.01 0M199.1 194.2a2.90 2.90 0 1 0 0.01 0M272.5 221.4a2.90 2.90 0 1 0 0.01 0M279.1 213.0a2.90 2.90 0 1 0 0.01 0M274.8 216.0a2.90 2.90 0 1 0 0.01 0M251.6 225.7a2.90 2.90 0 1 0 0.01 0M269.8 222.2a2.90 2.90 0 1 0 0.01 0M290.8 209.0a2.90 2.90 0 1 0 0.01 0M312.0 189.9a2.90 2.90 0 1 0 0.01 0M194.9 172.8a2.90 2.90 0 1 0 0.01 0M295.1 180.0a2.90 2.90 0 1 0 0.01 0M245.0 228.1a2.90 2.90 0 1 0 0.01 0M298.7 215.4a2.90 2.90 0 1 0 0.01 0M229.7 221.8a2.90 2.90 0 1 0 0.01 0M187.1 178.1a2.90 2.90 0 1 0 0.01 0M283.2 220.2a2.90 2.90 0 1 0 0.01 0M216.9 227.9a2.90 2.90 0 1 0 0.01 0M269.8 229.3a2.90 2.90 0 1 0 0.01 0M211.6 207.4a2.90 2.90 0 1 0 0.01 0M200.8 197.3a2.90 2.90 0 1 0 0.01 0M211.2 218.5a2.90 2.90 0 1 0 0.01 0M329.2 182.7a2.90 2.90 0 1 0 0.01 0M324.2 188.2a2.90 2.90 0 1 0 0.01 0M314.6 167.8a2.90 2.90 0 1 0 0.01 0M235.0 225.4a2.90 2.90 0 1 0 0.01 0M307.1 200.3a2.90 2.90 0 1 0 0.01 0M198.7 184.1a2.90 2.90 0 1 0 0.01 0M293.1 209.2a2.90 2.90 0 1 0 0.01 0M229.6 216.2a2.90 2.90 0 1 0 0.01 0M310.7 192.0a2.90 2.90 0 1 0 0.01 0M188.0 193.9a2.90 2.90 0 1 0 0.01 0M308.5 192.9a2.90 2.90 0 1 0 0.01 0M183.4 182.7a2.90 2.90 0 1 0 0.01 0M320.0 188.8a2.90 2.90 0 1 0 0.01 0M237.3 226.2a2.90 2.90 0 1 0 0.01 0M199.6 191.7a2.90 2.90 0 1 0 0.01 0M209.8 217.4a2.90 2.90 0 1 0 0.01 0M285.6 204.9a2.90 2.90 0 1 0 0.01 0M237.2 229.1a2.90 2.90 0 1 0 0.01 0M200.3 203.9a2.90 2.90 0 1 0 0.01 0M202.5 206.5a2.90 2.90 0 1 0 0.01 0M291.8 222.4a2.90 2.90 0 1 0 0.01 0M275.8 211.9a2.90 2.90 0 1 0 0.01 0M191.1 183.1a2.90 2.90 0 1 0 0.01 0M310.4 194.9a2.90 2.90 0 1 0 0.01 0M198.3 193.1a2.90 2.90 0 1 0 0.01 0M205.1 197.6a2.90 2.90 0 1 0 0.01 0M175.0 165.8a2.90 2.90 0 1 0 0.01 0M259.4 224.7a2.90 2.90 0 1 0 0.01 0M318.1 186.8a2.90 2.90 0 1 0 0.01 0M308.5 172.2a2.90 2.90 0 1 0 0.01 0M246.6 226.4a2.90 2.90 0 1 0 0.01 0M194.6 187.6a2.90 2.90 0 1 0 0.01 0M246.0 225.1a2.90 2.90 0 1 0 0.01 0M205.0 219.1a2.90 2.90 0 1 0 0.01 0M200.1 219.9a2.90 2.90 0 1 0 0.01 0M201.8 207.0a2.90 2.90 0 1 0 0.01 0M317.7 169.5a2.90 2.90 0 1 0 0.01 0M227.3 218.5a2.90 2.90 0 1 0 0.01 0M189.9 169.0a2.90 2.90 0 1 0 0.01 0M252.5 233.7a2.90 2.90 0 1 0 0.01 0M306.3 216.8a2.90 2.90 0 1 0 0.01 0M305.8 188.5a2.90 2.90 0 1 0 0.01 0M303.0 197.8a2.90 2.90 0 1 0 0.01 0M301.5 212.5a2.90 2.90 0 1 0 0.01 0M210.2 200.4a2.90 2.90 0 1 0 0.01 0M219.3 210.5a2.90 2.90 0 1 0 0.01 0M227.6 226.6a2.90 2.90 0 1 0 0.01 0M189.0 180.2a2.90 2.90 0 1 0 0.01 0M231.9 215.9a2.90 2.90 0 1 0 0.01 0M180.8 172.5a2.90 2.90 0 1 0 0.01 0M192.1 179.2a2.90 2.90 0 1 0 0.01 0M309.0 191.5a2.90 2.90 0 1 0 0.01 0M191.2 194.8a2.90 2.90 0 1 0 0.01 0M255.4 220.1a2.90 2.90 0 1 0 0.01 0M280.9 228.0a2.90 2.90 0 1 0 0.01 0M318.2 163.8a2.90 2.90 0 1 0 0.01 0M214.3 214.8a2.90 2.90 0 1 0 0.01 0M194.5 188.1a2.90 2.90 0 1 0 0.01 0M313.4 196.6a2.90 2.90 0 1 0 0.01 0M207.8 210.1a2.90 2.90 0 1 0 0.01 0M198.1 207.9a2.90 2.90 0 1 0 0.01 0M195.0 173.5a2.90 2.90 0 1 0 0.01 0M250.2 219.5a2.90 2.90 0 1 0 0.01 0M189.6 199.5a2.90 2.90 0 1 0 0.01 0M213.3 223.5a2.90 2.90 0 1 0 0.01 0M225.8 219.4a2.90 2.90 0 1 0 0.01 0M282.4 216.8a2.90 2.90 0 1 0 0.01 0M246.9 223.2a2.90 2.90 0 1 0 0.01 0M286.9 203.2a2.90 2.90 0 1 0 0.01 0M217.3 208.3a2.90 2.90 0 1 0 0.01 0M216.5 209.4a2.90 2.90 0 1 0 0.01 0M319.1 154.7a2.90 2.90 0 1 0 0.01 0M202.1 213.1a2.90 2.90 0 1 0 0.01 0M290.8 206.3a2.90 2.90 0 1 0 0.01 0M305.5 201.5a2.90 2.90 0 1 0 0.01 0M280.0 221.0a2.90 2.90 0 1 0 0.01 0M186.3 183.6a2.90 2.90 0 1 0 0.01 0M193.0 163.0a2.90 2.90 0 1 0 0.01 0M289.5 207.7a2.90 2.90 0 1 0 0.01 0M178.9 165.1a2.90 2.90 0 1 0 0.01 0M202.5 202.1a2.90 2.90 0 1 0 0.01 0M319.6 172.9a2.90 2.90 0 1 0 0.01 0M321.2 161.9a2.90 2.90 0 1 0 0.01 0M315.2 171.6a2.90 2.90 0 1 0 0.01 0M267.5 221.1a2.90 2.90 0 1 0 0.01 0M248.5 224.6a2.90 2.90 0 1 0 0.01 0M247.8 221.6a2.90 2.90 0 1 0 0.01 0M219.8 217.9a2.90 2.90 0 1 0 0.01 0M314.8 164.7a2.90 2.90 0 1 0 0.01 0M317.1 190.9a2.90 2.90 0 1 0 0.01 0M328.2 159.6a2.90 2.90 0 1 0 0.01 0M202.3 202.7a2.90 2.90 0 1 0 0.01 0M268.9 213.4a2.90 2.90 0 1 0 0.01 0M294.2 206.8a2.90 2.90 0 1 0 0.01 0M231.4 237.3a2.90 2.90 0 1 0 0.01 0M275.8 218.4a2.90 2.90 0 1 0 0.01 0M202.5 189.6a2.90 2.90 0 1 0 0.01 0" fill="#ff7f0e" fill-opacity="0.080" stroke="#ff7f0e" stroke-opacity="0.130" stroke-width="0.80"/><path d="M114.0 160.1L126.4 172.6M114.0 172.6L126.4 160.1" stroke="#1e6a1e" stroke-width="1.60" fill="none"/><path d="M120.2 169.5L130.6 179.9M120.2 179.9L130.6 169.5" stroke="#1e6a1e" stroke-width="1.60" fill="none"/><path d="M164.4 139.8L180.0 155.4M164.4 155.4L180.0 139.8" stroke="#1e6a1e" stroke-width="1.60" fill="none"/><path d="M213.9 105.5L221.1 112.8M213.9 112.8L221.1 105.5" stroke="#1e6a1e" stroke-width="1.60" fill="none"/><path d="M252.2 168.9L258.5 175.1M252.2 175.1L258.5 168.9" stroke="#1e6a1e" stroke-width="1.60" fill="none"/><path d="M263.7 168.4L267.8 172.6M263.7 172.6L267.8 168.4" stroke="#1e6a1e" stroke-width="1.60" fill="none"/><path d="M249.1 170.5L257.4 178.8M249.1 178.8L257.4 170.5" stroke="#0f3f0f" stroke-width="2.00" fill="none"/><path d="M171.1 153.9L206.5 189.2M171.1 189.2L206.5 153.9" stroke="#7a4419" stroke-width="1.60" fill="none"/><path d="M174.3 162.2L201.3 189.2M174.3 189.2L201.3 162.2" stroke="#7a4419" stroke-width="1.60" fill="none"/><path d="M241.8 217.3L268.9 244.3M241.8 244.3L268.9 217.3" stroke="#7a4419" stroke-width="1.60" fill="none"/><path d="M287.1 224.7L300.6 238.2M287.1 238.2L300.6 224.7" stroke="#7a4419" stroke-width="1.60" fill="none"/><path d="M311.0 198.7L322.4 210.1M311.0 210.1L322.4 198.7" stroke="#7a4419" stroke-width="1.60" fill="none"/><path d="M335.9 188.1L345.3 197.4M335.9 197.4L345.3 188.1" stroke="#7a4419" stroke-width="1.60" fill="none"/><path d="M321.0 150.2L326.2 155.4M321.0 155.4L326.2 150.2" stroke="#7a4419" stroke-width="1.60" fill="none"/></g><rect x="0.60" y="0.60" width="447.10" height="317.50" fill="none" stroke="#222" stroke-width="1.20"/></svg>
<svg style="left:103.70px;top:1768.20px" width="225.70" height="159.00" viewBox="0 0 225.70 159.00"><defs><clipPath id="c205"><rect width="225.70" height="159.00"/></clipPath><filter id="f206" filterUnits="userSpaceOnUse" x="-60" y="-60" width="346" height="279"><feGaussianBlur stdDeviation="4.00"/></filter><filter id="f207" filterUnits="userSpaceOnUse" x="-60" y="-60" width="346" height="279"><feGaussianBlur stdDeviation="5.00"/></filter><filter id="f208" filterUnits="userSpaceOnUse" x="-60" y="-60" width="346" height="279"><feGaussianBlur stdDeviation="2.50"/></filter><filter id="f209" filterUnits="userSpaceOnUse" x="-60" y="-60" width="346" height="279"><feGaussianBlur stdDeviation="0.90"/></filter></defs><g clip-path="url(#c205)"><rect width="225.70" height="159.00" fill="#ffffff"/><polygon points="13.0,159.1 112.8,0.0 225.7,0.0 225.7,38.6 121.5,140.6 78.1,123.3 56.4,159.1" fill="#e6f0fa" fill-opacity="0.700" filter="url(#f206)"/><path d="M 23.9,168.8 C 25.3,167.2 27.1,166.3 32.6,159.1 C 38.0,151.8 48.1,137.6 56.4,125.4 C 64.7,113.3 76.3,95.2 82.5,86.4 C 88.6,77.5 89.7,73.9 93.3,72.5 C 96.9,71.0 99.5,73.2 104.2,77.7 C 108.9,82.2 116.5,97.0 121.5,99.4 C 126.6,101.7 127.3,101.2 134.5,91.8 C 141.8,82.4 154.8,58.3 164.9,43.0 C 175.1,27.7 189.0,9.0 195.3,0.0 C 201.6,-9.0 201.6,-9.4 202.9,-11.3" fill="none" stroke="#cfe1f3" stroke-width="22.00" stroke-opacity="0.800" stroke-linecap="round" stroke-linejoin="round" filter="url(#f207)"/><path d="M 23.9,168.8 C 25.3,167.2 27.1,166.3 32.6,159.1 C 38.0,151.8 48.1,137.6 56.4,125.4 C 64.7,113.3 76.3,95.2 82.5,86.4 C 88.6,77.5 89.7,73.9 93.3,72.5 C 96.9,71.0 99.5,73.2 104.2,77.7 C 108.9,82.2 116.5,97.0 121.5,99.4 C 126.6,101.7 127.3,101.2 134.5,91.8 C 141.8,82.4 154.8,58.3 164.9,43.0 C 175.1,27.7 189.0,9.0 195.3,0.0 C 201.6,-9.0 201.6,-9.4 202.9,-11.3" fill="none" stroke="#6aa5d3" stroke-width="10.00" stroke-opacity="0.800" stroke-linecap="round" stroke-linejoin="round" filter="url(#f208)"/><path d="M 23.9,168.8 C 25.3,167.2 27.1,166.3 32.6,159.1 C 38.0,151.8 48.1,137.6 56.4,125.4 C 64.7,113.3 76.3,95.2 82.5,86.4 C 88.6,77.5 89.7,73.9 93.3,72.5 C 96.9,71.0 99.5,73.2 104.2,77.7 C 108.9,82.2 116.5,97.0 121.5,99.4 C 126.6,101.7 127.3,101.2 134.5,91.8 C 141.8,82.4 154.8,58.3 164.9,43.0 C 175.1,27.7 189.0,9.0 195.3,0.0 C 201.6,-9.0 201.6,-9.4 202.9,-11.3" fill="none" stroke="#163a74" stroke-width="5.00" stroke-opacity="1.000" stroke-linecap="round" stroke-linejoin="round" filter="url(#f209)"/><path d="M124.1 78.8a1.60 1.60 0 1 0 0.01 0M130.9 90.7a1.60 1.60 0 1 0 0.01 0M98.9 62.2a1.60 1.60 0 1 0 0.01 0M66.7 71.1a1.60 1.60 0 1 0 0.01 0M105.6 62.0a1.60 1.60 0 1 0 0.01 0M93.6 66.2a1.60 1.60 0 1 0 0.01 0M128.4 102.9a1.60 1.60 0 1 0 0.01 0M99.1 61.1a1.60 1.60 0 1 0 0.01 0M57.7 91.6a1.60 1.60 0 1 0 0.01 0M56.9 76.2a1.60 1.60 0 1 0 0.01 0M68.4 67.0a1.60 1.60 0 1 0 0.01 0M131.1 79.8a1.60 1.60 0 1 0 0.01 0M52.2 85.4a1.60 1.60 0 1 0 0.01 0M56.5 81.7a1.60 1.60 0 1 0 0.01 0M116.4 83.4a1.60 1.60 0 1 0 0.01 0M75.7 65.0a1.60 1.60 0 1 0 0.01 0M130.4 91.8a1.60 1.60 0 1 0 0.01 0M131.3 87.1a1.60 1.60 0 1 0 0.01 0M107.3 64.7a1.60 1.60 0 1 0 0.01 0M123.3 80.6a1.60 1.60 0 1 0 0.01 0M69.5 66.9a1.60 1.60 0 1 0 0.01 0M67.4 76.6a1.60 1.60 0 1 0 0.01 0M109.6 63.4a1.60 1.60 0 1 0 0.01 0M112.3 62.1a1.60 1.60 0 1 0 0.01 0M124.7 80.5a1.60 1.60 0 1 0 0.01 0M119.4 81.9a1.60 1.60 0 1 0 0.01 0M76.5 67.4a1.60 1.60 0 1 0 0.01 0M85.5 67.3a1.60 1.60 0 1 0 0.01 0M126.9 92.2a1.60 1.60 0 1 0 0.01 0M96.2 58.6a1.60 1.60 0 1 0 0.01 0M98.8 64.6a1.60 1.60 0 1 0 0.01 0M58.9 70.0a1.60 1.60 0 1 0 0.01 0M69.9 67.2a1.60 1.60 0 1 0 0.01 0M82.8 61.0a1.60 1.60 0 1 0 0.01 0M86.1 65.1a1.60 1.60 0 1 0 0.01 0M55.0 82.4a1.60 1.60 0 1 0 0.01 0M57.9 92.7a1.60 1.60 0 1 0 0.01 0M105.4 64.6a1.60 1.60 0 1 0 0.01 0M119.0 72.7a1.60 1.60 0 1 0 0.01 0M67.3 75.4a1.60 1.60 0 1 0 0.01 0M127.3 83.7a1.60 1.60 0 1 0 0.01 0M108.4 59.5a1.60 1.60 0 1 0 0.01 0M126.9 87.2a1.60 1.60 0 1 0 0.01 0M113.7 64.7a1.60 1.60 0 1 0 0.01 0M132.0 84.4a1.60 1.60 0 1 0 0.01 0M114.6 65.6a1.60 1.60 0 1 0 0.01 0M66.9 76.6a1.60 1.60 0 1 0 0.01 0M58.1 84.4a1.60 1.60 0 1 0 0.01 0M68.6 74.7a1.60 1.60 0 1 0 0.01 0M89.7 65.0a1.60 1.60 0 1 0 0.01 0M79.8 58.9a1.60 1.60 0 1 0 0.01 0M107.0 59.6a1.60 1.60 0 1 0 0.01 0M116.4 76.3a1.60 1.60 0 1 0 0.01 0M100.5 61.3a1.60 1.60 0 1 0 0.01 0M63.5 66.4a1.60 1.60 0 1 0 0.01 0M119.6 83.4a1.60 1.60 0 1 0 0.01 0M129.6 87.5a1.60 1.60 0 1 0 0.01 0M65.0 75.0a1.60 1.60 0 1 0 0.01 0M112.0 68.0a1.60 1.60 0 1 0 0.01 0M73.8 67.6a1.60 1.60 0 1 0 0.01 0M70.2 67.2a1.60 1.60 0 1 0 0.01 0M62.9 92.5a1.60 1.60 0 1 0 0.01 0M102.4 59.6a1.60 1.60 0 1 0 0.01 0M110.7 65.3a1.60 1.60 0 1 0 0.01 0M62.5 74.5a1.60 1.60 0 1 0 0.01 0M66.9 72.7a1.60 1.60 0 1 0 0.01 0M74.0 67.6a1.60 1.60 0 1 0 0.01 0M61.8 70.1a1.60 1.60 0 1 0 0.01 0M74.0 60.3a1.60 1.60 0 1 0 0.01 0M64.3 87.8a1.60 1.60 0 1 0 0.01 0M119.2 65.0a1.60 1.60 0 1 0 0.01 0M74.5 69.1a1.60 1.60 0 1 0 0.01 0M53.2 86.5a1.60 1.60 0 1 0 0.01 0M117.5 66.4a1.60 1.60 0 1 0 0.01 0M82.3 65.4a1.60 1.60 0 1 0 0.01 0M104.4 61.5a1.60 1.60 0 1 0 0.01 0M96.6 58.5a1.60 1.60 0 1 0 0.01 0M132.3 89.0a1.60 1.60 0 1 0 0.01 0M126.2 90.6a1.60 1.60 0 1 0 0.01 0M75.2 71.4a1.60 1.60 0 1 0 0.01 0M96.5 59.0a1.60 1.60 0 1 0 0.01 0M87.1 64.4a1.60 1.60 0 1 0 0.01 0M67.4 68.8a1.60 1.60 0 1 0 0.01 0M104.8 54.0a1.60 1.60 0 1 0 0.01 0M103.0 68.3a1.60 1.60 0 1 0 0.01 0M124.5 74.4a1.60 1.60 0 1 0 0.01 0M56.5 75.0a1.60 1.60 0 1 0 0.01 0M65.5 78.0a1.60 1.60 0 1 0 0.01 0M70.8 67.9a1.60 1.60 0 1 0 0.01 0M62.4 78.7a1.60 1.60 0 1 0 0.01 0M78.0 59.4a1.60 1.60 0 1 0 0.01 0M70.4 65.6a1.60 1.60 0 1 0 0.01 0M126.6 75.8a1.60 1.60 0 1 0 0.01 0M65.1 73.3a1.60 1.60 0 1 0 0.01 0M107.6 57.7a1.60 1.60 0 1 0 0.01 0M101.8 54.4a1.60 1.60 0 1 0 0.01 0M115.1 64.8a1.60 1.60 0 1 0 0.01 0M84.5 59.8a1.60 1.60 0 1 0 0.01 0M75.9 60.9a1.60 1.60 0 1 0 0.01 0M81.6 60.3a1.60 1.60 0 1 0 0.01 0M114.2 65.9a1.60 1.60 0 1 0 0.01 0M120.1 70.1a1.60 1.60 0 1 0 0.01 0M63.5 77.6a1.60 1.60 0 1 0 0.01 0M114.0 67.8a1.60 1.60 0 1 0 0.01 0M102.1 60.9a1.60 1.60 0 1 0 0.01 0M121.9 84.3a1.60 1.60 0 1 0 0.01 0M116.3 65.2a1.60 1.60 0 1 0 0.01 0M124.5 81.5a1.60 1.60 0 1 0 0.01 0M112.2 61.9a1.60 1.60 0 1 0 0.01 0M76.7 67.9a1.60 1.60 0 1 0 0.01 0M59.6 90.8a1.60 1.60 0 1 0 0.01 0M82.9 58.8a1.60 1.60 0 1 0 0.01 0M118.5 65.8a1.60 1.60 0 1 0 0.01 0M73.2 61.9a1.60 1.60 0 1 0 0.01 0M74.9 55.6a1.60 1.60 0 1 0 0.01 0M66.6 80.7a1.60 1.60 0 1 0 0.01 0M79.7 56.1a1.60 1.60 0 1 0 0.01 0M55.5 82.0a1.60 1.60 0 1 0 0.01 0M97.7 61.1a1.60 1.60 0 1 0 0.01 0M112.9 65.3a1.60 1.60 0 1 0 0.01 0M89.6 55.4a1.60 1.60 0 1 0 0.01 0M55.4 80.8a1.60 1.60 0 1 0 0.01 0M69.7 66.3a1.60 1.60 0 1 0 0.01 0M87.8 65.9a1.60 1.60 0 1 0 0.01 0M96.9 64.2a1.60 1.60 0 1 0 0.01 0M75.5 64.8a1.60 1.60 0 1 0 0.01 0M95.5 60.0a1.60 1.60 0 1 0 0.01 0M82.1 64.5a1.60 1.60 0 1 0 0.01 0M60.5 92.5a1.60 1.60 0 1 0 0.01 0M60.5 83.8a1.60 1.60 0 1 0 0.01 0M66.8 75.7a1.60 1.60 0 1 0 0.01 0M119.3 82.3a1.60 1.60 0 1 0 0.01 0M85.0 56.8a1.60 1.60 0 1 0 0.01 0M108.6 64.7a1.60 1.60 0 1 0 0.01 0M59.9 85.1a1.60 1.60 0 1 0 0.01 0M114.5 65.2a1.60 1.60 0 1 0 0.01 0M61.8 84.8a1.60 1.60 0 1 0 0.01 0M122.6 70.7a1.60 1.60 0 1 0 0.01 0M104.2 61.8a1.60 1.60 0 1 0 0.01 0M59.6 88.1a1.60 1.60 0 1 0 0.01 0M81.8 63.1a1.60 1.60 0 1 0 0.01 0M56.8 84.4a1.60 1.60 0 1 0 0.01 0M80.2 56.5a1.60 1.60 0 1 0 0.01 0M111.3 72.1a1.60 1.60 0 1 0 0.01 0M69.4 64.9a1.60 1.60 0 1 0 0.01 0M91.2 60.5a1.60 1.60 0 1 0 0.01 0M92.5 57.2a1.60 1.60 0 1 0 0.01 0M133.7 78.1a1.60 1.60 0 1 0 0.01 0M117.6 79.9a1.60 1.60 0 1 0 0.01 0M59.4 74.9a1.60 1.60 0 1 0 0.01 0M54.6 89.6a1.60 1.60 0 1 0 0.01 0M59.2 88.3a1.60 1.60 0 1 0 0.01 0M103.5 60.4a1.60 1.60 0 1 0 0.01 0M123.5 89.1a1.60 1.60 0 1 0 0.01 0M91.5 65.0a1.60 1.60 0 1 0 0.01 0M67.4 63.4a1.60 1.60 0 1 0 0.01 0M75.8 67.2a1.60 1.60 0 1 0 0.01 0M126.0 84.8a1.60 1.60 0 1 0 0.01 0M113.8 73.2a1.60 1.60 0 1 0 0.01 0M66.0 70.6a1.60 1.60 0 1 0 0.01 0M132.7 87.5a1.60 1.60 0 1 0 0.01 0M59.5 76.4a1.60 1.60 0 1 0 0.01 0M54.5 95.7a1.60 1.60 0 1 0 0.01 0M122.4 67.1a1.60 1.60 0 1 0 0.01 0M125.0 85.1a1.60 1.60 0 1 0 0.01 0M62.3 89.2a1.60 1.60 0 1 0 0.01 0M67.9 75.2a1.60 1.60 0 1 0 0.01 0M97.5 66.7a1.60 1.60 0 1 0 0.01 0M99.2 60.9a1.60 1.60 0 1 0 0.01 0M63.0 86.9a1.60 1.60 0 1 0 0.01 0M111.6 68.8a1.60 1.60 0 1 0 0.01 0M126.6 85.7a1.60 1.60 0 1 0 0.01 0M81.5 62.5a1.60 1.60 0 1 0 0.01 0M106.8 61.4a1.60 1.60 0 1 0 0.01 0M75.8 61.7a1.60 1.60 0 1 0 0.01 0M61.5 88.8a1.60 1.60 0 1 0 0.01 0M109.4 54.7a1.60 1.60 0 1 0 0.01 0M115.3 68.7a1.60 1.60 0 1 0 0.01 0M126.1 81.7a1.60 1.60 0 1 0 0.01 0M62.5 79.9a1.60 1.60 0 1 0 0.01 0M125.3 89.6a1.60 1.60 0 1 0 0.01 0M49.2 96.9a1.60 1.60 0 1 0 0.01 0M68.6 70.6a1.60 1.60 0 1 0 0.01 0M58.9 86.7a1.60 1.60 0 1 0 0.01 0M63.7 69.1a1.60 1.60 0 1 0 0.01 0M118.1 78.5a1.60 1.60 0 1 0 0.01 0M126.8 68.0a1.60 1.60 0 1 0 0.01 0M54.1 94.5a1.60 1.60 0 1 0 0.01 0M113.6 68.4a1.60 1.60 0 1 0 0.01 0M67.0 76.5a1.60 1.60 0 1 0 0.01 0M122.6 77.3a1.60 1.60 0 1 0 0.01 0M108.2 71.8a1.60 1.60 0 1 0 0.01 0M75.8 63.2a1.60 1.60 0 1 0 0.01 0M115.3 64.8a1.60 1.60 0 1 0 0.01 0M70.7 68.4a1.60 1.60 0 1 0 0.01 0M61.7 79.7a1.60 1.60 0 1 0 0.01 0M114.6 62.5a1.60 1.60 0 1 0 0.01 0M114.2 73.4a1.60 1.60 0 1 0 0.01 0M127.9 92.8a1.60 1.60 0 1 0 0.01 0M97.1 59.3a1.60 1.60 0 1 0 0.01 0M121.3 83.5a1.60 1.60 0 1 0 0.01 0M82.1 65.3a1.60 1.60 0 1 0 0.01 0M69.7 58.1a1.60 1.60 0 1 0 0.01 0M90.5 62.0a1.60 1.60 0 1 0 0.01 0M85.2 56.1a1.60 1.60 0 1 0 0.01 0M78.6 62.8a1.60 1.60 0 1 0 0.01 0M62.0 81.8a1.60 1.60 0 1 0 0.01 0M87.9 55.1a1.60 1.60 0 1 0 0.01 0M62.2 76.5a1.60 1.60 0 1 0 0.01 0M117.6 62.1a1.60 1.60 0 1 0 0.01 0M134.8 78.0a1.60 1.60 0 1 0 0.01 0M119.6 71.5a1.60 1.60 0 1 0 0.01 0M67.5 71.0a1.60 1.60 0 1 0 0.01 0M121.0 76.3a1.60 1.60 0 1 0 0.01 0M61.7 72.4a1.60 1.60 0 1 0 0.01 0M61.3 78.3a1.60 1.60 0 1 0 0.01 0M79.0 61.1a1.60 1.60 0 1 0 0.01 0M123.3 79.1a1.60 1.60 0 1 0 0.01 0M80.0 65.6a1.60 1.60 0 1 0 0.01 0M101.1 59.3a1.60 1.60 0 1 0 0.01 0M61.2 85.1a1.60 1.60 0 1 0 0.01 0M119.6 74.2a1.60 1.60 0 1 0 0.01 0M114.1 68.9a1.60 1.60 0 1 0 0.01 0M92.3 64.1a1.60 1.60 0 1 0 0.01 0M91.3 54.9a1.60 1.60 0 1 0 0.01 0M124.1 74.0a1.60 1.60 0 1 0 0.01 0M106.8 60.0a1.60 1.60 0 1 0 0.01 0M77.4 69.1a1.60 1.60 0 1 0 0.01 0M95.2 62.7a1.60 1.60 0 1 0 0.01 0M128.7 87.1a1.60 1.60 0 1 0 0.01 0M94.8 57.7a1.60 1.60 0 1 0 0.01 0M103.0 67.3a1.60 1.60 0 1 0 0.01 0M102.8 60.4a1.60 1.60 0 1 0 0.01 0M130.1 90.4a1.60 1.60 0 1 0 0.01 0M116.6 70.0a1.60 1.60 0 1 0 0.01 0M51.2 90.0a1.60 1.60 0 1 0 0.01 0M59.9 81.2a1.60 1.60 0 1 0 0.01 0M59.8 87.3a1.60 1.60 0 1 0 0.01 0M58.4 68.2a1.60 1.60 0 1 0 0.01 0M97.0 65.6a1.60 1.60 0 1 0 0.01 0M56.3 91.3a1.60 1.60 0 1 0 0.01 0M114.9 69.8a1.60 1.60 0 1 0 0.01 0M89.3 62.7a1.60 1.60 0 1 0 0.01 0M80.8 63.9a1.60 1.60 0 1 0 0.01 0M91.3 64.0a1.60 1.60 0 1 0 0.01 0M115.1 71.1a1.60 1.60 0 1 0 0.01 0M102.6 64.9a1.60 1.60 0 1 0 0.01 0M81.7 65.2a1.60 1.60 0 1 0 0.01 0M114.8 66.3a1.60 1.60 0 1 0 0.01 0M106.3 65.7a1.60 1.60 0 1 0 0.01 0" fill="#2ca02c" fill-opacity="0.100" stroke="#2ca02c" stroke-opacity="0.120" stroke-width="0.50"/><path d="M116.0 105.4a1.60 1.60 0 1 0 0.01 0M105.2 110.5a1.60 1.60 0 1 0 0.01 0M167.5 92.0a1.60 1.60 0 1 0 0.01 0M127.8 108.5a1.60 1.60 0 1 0 0.01 0M95.2 78.2a1.60 1.60 0 1 0 0.01 0M146.3 94.3a1.60 1.60 0 1 0 0.01 0M130.9 109.9a1.60 1.60 0 1 0 0.01 0M158.5 98.3a1.60 1.60 0 1 0 0.01 0M126.7 106.3a1.60 1.60 0 1 0 0.01 0M101.3 100.3a1.60 1.60 0 1 0 0.01 0M161.3 89.9a1.60 1.60 0 1 0 0.01 0M101.3 88.3a1.60 1.60 0 1 0 0.01 0M110.9 98.7a1.60 1.60 0 1 0 0.01 0M125.4 106.8a1.60 1.60 0 1 0 0.01 0M159.3 93.6a1.60 1.60 0 1 0 0.01 0M96.8 86.9a1.60 1.60 0 1 0 0.01 0M115.6 112.1a1.60 1.60 0 1 0 0.01 0M134.5 106.7a1.60 1.60 0 1 0 0.01 0M148.1 99.2a1.60 1.60 0 1 0 0.01 0M91.7 85.9a1.60 1.60 0 1 0 0.01 0M153.1 99.2a1.60 1.60 0 1 0 0.01 0M131.6 109.0a1.60 1.60 0 1 0 0.01 0M133.1 108.6a1.60 1.60 0 1 0 0.01 0M116.9 109.3a1.60 1.60 0 1 0 0.01 0M114.8 106.0a1.60 1.60 0 1 0 0.01 0M162.5 85.5a1.60 1.60 0 1 0 0.01 0M163.9 74.6a1.60 1.60 0 1 0 0.01 0M98.9 87.9a1.60 1.60 0 1 0 0.01 0M102.6 95.2a1.60 1.60 0 1 0 0.01 0M143.7 103.1a1.60 1.60 0 1 0 0.01 0M158.8 97.0a1.60 1.60 0 1 0 0.01 0M155.8 95.5a1.60 1.60 0 1 0 0.01 0M107.1 102.9a1.60 1.60 0 1 0 0.01 0M95.4 90.2a1.60 1.60 0 1 0 0.01 0M93.5 83.5a1.60 1.60 0 1 0 0.01 0M113.6 106.8a1.60 1.60 0 1 0 0.01 0M142.6 111.6a1.60 1.60 0 1 0 0.01 0M159.8 92.6a1.60 1.60 0 1 0 0.01 0M91.1 74.8a1.60 1.60 0 1 0 0.01 0M92.0 87.1a1.60 1.60 0 1 0 0.01 0M138.7 106.6a1.60 1.60 0 1 0 0.01 0M147.8 106.1a1.60 1.60 0 1 0 0.01 0M94.1 86.3a1.60 1.60 0 1 0 0.01 0M96.4 86.6a1.60 1.60 0 1 0 0.01 0M90.2 84.3a1.60 1.60 0 1 0 0.01 0M150.9 110.7a1.60 1.60 0 1 0 0.01 0M108.2 102.3a1.60 1.60 0 1 0 0.01 0M100.0 96.0a1.60 1.60 0 1 0 0.01 0M143.7 100.7a1.60 1.60 0 1 0 0.01 0M91.7 87.0a1.60 1.60 0 1 0 0.01 0M137.4 112.1a1.60 1.60 0 1 0 0.01 0M101.9 82.9a1.60 1.60 0 1 0 0.01 0M85.7 78.6a1.60 1.60 0 1 0 0.01 0M153.6 105.5a1.60 1.60 0 1 0 0.01 0M156.4 95.1a1.60 1.60 0 1 0 0.01 0M117.6 108.4a1.60 1.60 0 1 0 0.01 0M121.2 109.4a1.60 1.60 0 1 0 0.01 0M153.9 95.5a1.60 1.60 0 1 0 0.01 0M86.8 90.2a1.60 1.60 0 1 0 0.01 0M103.2 99.4a1.60 1.60 0 1 0 0.01 0M164.3 89.1a1.60 1.60 0 1 0 0.01 0M159.9 84.1a1.60 1.60 0 1 0 0.01 0M99.2 83.6a1.60 1.60 0 1 0 0.01 0M90.8 73.7a1.60 1.60 0 1 0 0.01 0M154.4 101.5a1.60 1.60 0 1 0 0.01 0M128.4 107.6a1.60 1.60 0 1 0 0.01 0M152.5 99.9a1.60 1.60 0 1 0 0.01 0M147.6 107.1a1.60 1.60 0 1 0 0.01 0M123.8 105.7a1.60 1.60 0 1 0 0.01 0M154.2 108.3a1.60 1.60 0 1 0 0.01 0M138.5 108.4a1.60 1.60 0 1 0 0.01 0M93.3 75.5a1.60 1.60 0 1 0 0.01 0M129.1 110.3a1.60 1.60 0 1 0 0.01 0M158.1 87.6a1.60 1.60 0 1 0 0.01 0M154.2 91.5a1.60 1.60 0 1 0 0.01 0M146.8 105.0a1.60 1.60 0 1 0 0.01 0M145.7 108.8a1.60 1.60 0 1 0 0.01 0M157.6 94.7a1.60 1.60 0 1 0 0.01 0M109.3 98.0a1.60 1.60 0 1 0 0.01 0M119.9 104.7a1.60 1.60 0 1 0 0.01 0M142.3 105.1a1.60 1.60 0 1 0 0.01 0M158.3 90.0a1.60 1.60 0 1 0 0.01 0M107.5 104.2a1.60 1.60 0 1 0 0.01 0M98.8 90.3a1.60 1.60 0 1 0 0.01 0M102.7 101.8a1.60 1.60 0 1 0 0.01 0M119.0 112.8a1.60 1.60 0 1 0 0.01 0M98.6 84.8a1.60 1.60 0 1 0 0.01 0M137.5 109.6a1.60 1.60 0 1 0 0.01 0M164.7 88.8a1.60 1.60 0 1 0 0.01 0M108.0 101.0a1.60 1.60 0 1 0 0.01 0M162.5 82.1a1.60 1.60 0 1 0 0.01 0M121.9 110.3a1.60 1.60 0 1 0 0.01 0M132.9 108.3a1.60 1.60 0 1 0 0.01 0M167.1 81.2a1.60 1.60 0 1 0 0.01 0M154.6 101.1a1.60 1.60 0 1 0 0.01 0M135.8 108.3a1.60 1.60 0 1 0 0.01 0M152.5 100.9a1.60 1.60 0 1 0 0.01 0M121.7 109.0a1.60 1.60 0 1 0 0.01 0M151.4 98.6a1.60 1.60 0 1 0 0.01 0M101.6 100.2a1.60 1.60 0 1 0 0.01 0M97.6 85.7a1.60 1.60 0 1 0 0.01 0M140.6 102.8a1.60 1.60 0 1 0 0.01 0M135.9 111.4a1.60 1.60 0 1 0 0.01 0M123.9 104.5a1.60 1.60 0 1 0 0.01 0M98.8 86.5a1.60 1.60 0 1 0 0.01 0M166.9 90.3a1.60 1.60 0 1 0 0.01 0M94.0 92.5a1.60 1.60 0 1 0 0.01 0M161.9 81.2a1.60 1.60 0 1 0 0.01 0M110.9 100.2a1.60 1.60 0 1 0 0.01 0M108.7 101.0a1.60 1.60 0 1 0 0.01 0M162.4 78.6a1.60 1.60 0 1 0 0.01 0M165.0 86.5a1.60 1.60 0 1 0 0.01 0M149.4 101.4a1.60 1.60 0 1 0 0.01 0M160.5 80.6a1.60 1.60 0 1 0 0.01 0M103.4 94.6a1.60 1.60 0 1 0 0.01 0M160.5 91.1a1.60 1.60 0 1 0 0.01 0M137.9 108.7a1.60 1.60 0 1 0 0.01 0M103.3 103.8a1.60 1.60 0 1 0 0.01 0M136.2 104.8a1.60 1.60 0 1 0 0.01 0M94.2 85.0a1.60 1.60 0 1 0 0.01 0M152.2 96.7a1.60 1.60 0 1 0 0.01 0M145.9 104.0a1.60 1.60 0 1 0 0.01 0M92.3 87.9a1.60 1.60 0 1 0 0.01 0M101.1 98.7a1.60 1.60 0 1 0 0.01 0M105.0 101.0a1.60 1.60 0 1 0 0.01 0M121.1 115.3a1.60 1.60 0 1 0 0.01 0M99.8 97.5a1.60 1.60 0 1 0 0.01 0M98.8 98.6a1.60 1.60 0 1 0 0.01 0M134.5 107.1a1.60 1.60 0 1 0 0.01 0M93.3 91.5a1.60 1.60 0 1 0 0.01 0M160.5 93.5a1.60 1.60 0 1 0 0.01 0M125.1 109.9a1.60 1.60 0 1 0 0.01 0M117.7 103.7a1.60 1.60 0 1 0 0.01 0M134.0 111.6a1.60 1.60 0 1 0 0.01 0M96.4 89.3a1.60 1.60 0 1 0 0.01 0M158.2 86.5a1.60 1.60 0 1 0 0.01 0M96.2 87.9a1.60 1.60 0 1 0 0.01 0M133.1 106.0a1.60 1.60 0 1 0 0.01 0M166.0 85.2a1.60 1.60 0 1 0 0.01 0M101.7 89.2a1.60 1.60 0 1 0 0.01 0M150.4 104.5a1.60 1.60 0 1 0 0.01 0M162.9 87.7a1.60 1.60 0 1 0 0.01 0M163.2 75.4a1.60 1.60 0 1 0 0.01 0M114.0 108.1a1.60 1.60 0 1 0 0.01 0M133.4 110.8a1.60 1.60 0 1 0 0.01 0M162.3 78.6a1.60 1.60 0 1 0 0.01 0M136.0 107.0a1.60 1.60 0 1 0 0.01 0M163.3 87.6a1.60 1.60 0 1 0 0.01 0M148.7 112.6a1.60 1.60 0 1 0 0.01 0M94.8 80.3a1.60 1.60 0 1 0 0.01 0M113.4 108.9a1.60 1.60 0 1 0 0.01 0M160.3 82.6a1.60 1.60 0 1 0 0.01 0M124.4 109.4a1.60 1.60 0 1 0 0.01 0M118.3 104.7a1.60 1.60 0 1 0 0.01 0M101.7 105.3a1.60 1.60 0 1 0 0.01 0M98.5 92.7a1.60 1.60 0 1 0 0.01 0M149.6 103.6a1.60 1.60 0 1 0 0.01 0M122.0 108.4a1.60 1.60 0 1 0 0.01 0M161.2 87.7a1.60 1.60 0 1 0 0.01 0M86.4 76.5a1.60 1.60 0 1 0 0.01 0M158.1 85.6a1.60 1.60 0 1 0 0.01 0M99.3 82.7a1.60 1.60 0 1 0 0.01 0M159.6 96.0a1.60 1.60 0 1 0 0.01 0M116.0 107.2a1.60 1.60 0 1 0 0.01 0M152.1 94.8a1.60 1.60 0 1 0 0.01 0M121.9 106.8a1.60 1.60 0 1 0 0.01 0M95.6 90.8a1.60 1.60 0 1 0 0.01 0M162.5 82.5a1.60 1.60 0 1 0 0.01 0M137.2 108.4a1.60 1.60 0 1 0 0.01 0M100.0 92.8a1.60 1.60 0 1 0 0.01 0M140.2 111.8a1.60 1.60 0 1 0 0.01 0M105.9 95.5a1.60 1.60 0 1 0 0.01 0M121.7 110.7a1.60 1.60 0 1 0 0.01 0M127.1 110.4a1.60 1.60 0 1 0 0.01 0M136.9 106.5a1.60 1.60 0 1 0 0.01 0M89.1 90.5a1.60 1.60 0 1 0 0.01 0M94.1 94.8a1.60 1.60 0 1 0 0.01 0M120.5 104.4a1.60 1.60 0 1 0 0.01 0M133.2 106.4a1.60 1.60 0 1 0 0.01 0M160.0 90.0a1.60 1.60 0 1 0 0.01 0M140.2 111.1a1.60 1.60 0 1 0 0.01 0M162.8 95.1a1.60 1.60 0 1 0 0.01 0M118.9 99.1a1.60 1.60 0 1 0 0.01 0M104.5 98.3a1.60 1.60 0 1 0 0.01 0M110.2 102.7a1.60 1.60 0 1 0 0.01 0M91.3 79.9a1.60 1.60 0 1 0 0.01 0M109.5 105.5a1.60 1.60 0 1 0 0.01 0M140.8 102.6a1.60 1.60 0 1 0 0.01 0M161.2 100.7a1.60 1.60 0 1 0 0.01 0M98.6 101.9a1.60 1.60 0 1 0 0.01 0M147.6 104.8a1.60 1.60 0 1 0 0.01 0M154.8 100.0a1.60 1.60 0 1 0 0.01 0M144.8 102.1a1.60 1.60 0 1 0 0.01 0M167.4 80.3a1.60 1.60 0 1 0 0.01 0M141.7 106.8a1.60 1.60 0 1 0 0.01 0M120.2 110.0a1.60 1.60 0 1 0 0.01 0M132.7 107.2a1.60 1.60 0 1 0 0.01 0M93.4 73.9a1.60 1.60 0 1 0 0.01 0M96.9 80.6a1.60 1.60 0 1 0 0.01 0M123.6 109.6a1.60 1.60 0 1 0 0.01 0M116.7 103.8a1.60 1.60 0 1 0 0.01 0M98.3 88.0a1.60 1.60 0 1 0 0.01 0M109.4 104.6a1.60 1.60 0 1 0 0.01 0M141.6 104.7a1.60 1.60 0 1 0 0.01 0M134.4 111.3a1.60 1.60 0 1 0 0.01 0M116.2 99.4a1.60 1.60 0 1 0 0.01 0M152.7 99.8a1.60 1.60 0 1 0 0.01 0M89.3 86.8a1.60 1.60 0 1 0 0.01 0M165.7 90.3a1.60 1.60 0 1 0 0.01 0M145.4 106.8a1.60 1.60 0 1 0 0.01 0M109.4 105.7a1.60 1.60 0 1 0 0.01 0M146.8 103.7a1.60 1.60 0 1 0 0.01 0M168.7 83.3a1.60 1.60 0 1 0 0.01 0M145.8 104.9a1.60 1.60 0 1 0 0.01 0M151.2 109.2a1.60 1.60 0 1 0 0.01 0M147.8 110.0a1.60 1.60 0 1 0 0.01 0M163.2 83.0a1.60 1.60 0 1 0 0.01 0M160.7 81.1a1.60 1.60 0 1 0 0.01 0M109.3 95.2a1.60 1.60 0 1 0 0.01 0M93.5 72.9a1.60 1.60 0 1 0 0.01 0M103.8 100.1a1.60 1.60 0 1 0 0.01 0M114.3 107.6a1.60 1.60 0 1 0 0.01 0M109.2 95.0a1.60 1.60 0 1 0 0.01 0M121.5 106.5a1.60 1.60 0 1 0 0.01 0M164.3 82.2a1.60 1.60 0 1 0 0.01 0M101.3 96.3a1.60 1.60 0 1 0 0.01 0M116.5 105.7a1.60 1.60 0 1 0 0.01 0M157.6 94.4a1.60 1.60 0 1 0 0.01 0M99.2 89.3a1.60 1.60 0 1 0 0.01 0M121.4 98.5a1.60 1.60 0 1 0 0.01 0M131.9 107.6a1.60 1.60 0 1 0 0.01 0M148.3 100.2a1.60 1.60 0 1 0 0.01 0M157.9 92.8a1.60 1.60 0 1 0 0.01 0M96.1 99.1a1.60 1.60 0 1 0 0.01 0M164.6 84.1a1.60 1.60 0 1 0 0.01 0M121.1 105.5a1.60 1.60 0 1 0 0.01 0M101.6 94.0a1.60 1.60 0 1 0 0.01 0M102.9 97.9a1.60 1.60 0 1 0 0.01 0M118.6 109.9a1.60 1.60 0 1 0 0.01 0M163.9 92.8a1.60 1.60 0 1 0 0.01 0M95.7 78.5a1.60 1.60 0 1 0 0.01 0M101.6 98.7a1.60 1.60 0 1 0 0.01 0M163.0 96.3a1.60 1.60 0 1 0 0.01 0M154.4 99.5a1.60 1.60 0 1 0 0.01 0M100.2 89.6a1.60 1.60 0 1 0 0.01 0M96.0 82.2a1.60 1.60 0 1 0 0.01 0M149.6 110.4a1.60 1.60 0 1 0 0.01 0M158.7 98.0a1.60 1.60 0 1 0 0.01 0M98.2 84.4a1.60 1.60 0 1 0 0.01 0M134.0 108.5a1.60 1.60 0 1 0 0.01 0" fill="#ff7f0e" fill-opacity="0.090" stroke="#ff7f0e" stroke-opacity="0.100" stroke-width="0.50"/><path d="M59.7 84.2L70.5 95.1M59.7 95.1L70.5 84.2" stroke="#1f5a1f" stroke-width="1.00" fill="none"/><path d="M59.7 83.1L68.4 91.8M59.7 91.8L68.4 83.1" stroke="#1f5a1f" stroke-width="1.00" fill="none"/><path d="M74.9 63.6L81.4 70.1M74.9 70.1L81.4 63.6" stroke="#1f5a1f" stroke-width="1.00" fill="none"/><path d="M82.5 59.7L89.0 66.2M82.5 66.2L89.0 59.7" stroke="#1f5a1f" stroke-width="1.00" fill="none"/><path d="M99.4 57.1L108.1 65.8M99.4 65.8L108.1 57.1" stroke="#1f5a1f" stroke-width="1.00" fill="none"/><path d="M116.6 77.1L122.1 82.6M116.6 82.6L122.1 77.1" stroke="#1f5a1f" stroke-width="1.00" fill="none"/><path d="M118.4 81.5L123.8 86.9M118.4 86.9L123.8 81.5" stroke="#1f5a1f" stroke-width="1.00" fill="none"/><path d="M119.9 85.8L125.3 91.3M119.9 91.3L125.3 85.8" stroke="#1f5a1f" stroke-width="1.00" fill="none"/><path d="M85.7 78.8L98.7 91.8M85.7 91.8L98.7 78.8" stroke="#7a4419" stroke-width="1.00" fill="none"/><path d="M89.0 88.5L97.7 97.2M89.0 97.2L97.7 88.5" stroke="#7a4419" stroke-width="1.00" fill="none"/><path d="M91.7 93.4L99.3 101.0M91.7 101.0L99.3 93.4" stroke="#7a4419" stroke-width="1.00" fill="none"/><path d="M94.4 96.1L100.9 102.6M94.4 102.6L100.9 96.1" stroke="#7a4419" stroke-width="1.00" fill="none"/><path d="M155.7 96.2L163.3 103.8M155.7 103.8L163.3 96.2" stroke="#7a4419" stroke-width="1.00" fill="none"/><path d="M164.8 75.4L170.2 80.8M164.8 80.8L170.2 75.4" stroke="#7a4419" stroke-width="1.00" fill="none"/><path d="M164.8 86.3L170.2 91.7M164.8 91.7L170.2 86.3" stroke="#7a4419" stroke-width="1.00" fill="none"/><path d="M140.6 108.1L149.3 116.8M140.6 116.8L149.3 108.1" stroke="#7a4419" stroke-width="1.00" fill="none"/><path d="M142.0 109.7L149.6 117.3M142.0 117.3L149.6 109.7" stroke="#7a4419" stroke-width="1.00" fill="none"/><path d="M120.6 116.9L128.1 124.5M120.6 124.5L128.1 116.9" stroke="#7a4419" stroke-width="1.00" fill="none"/></g><rect x="0.65" y="0.65" width="224.40" height="157.70" fill="none" stroke="#111" stroke-width="1.30"/></svg>
<svg style="left:335.40px;top:1768.20px" width="226.20" height="159.00" viewBox="0 0 226.20 159.00"><defs><clipPath id="c210"><rect width="226.20" height="159.00"/></clipPath><filter id="f211" filterUnits="userSpaceOnUse" x="-60" y="-60" width="346" height="279"><feGaussianBlur stdDeviation="4.00"/></filter><filter id="f212" filterUnits="userSpaceOnUse" x="-60" y="-60" width="346" height="279"><feGaussianBlur stdDeviation="5.00"/></filter><filter id="f213" filterUnits="userSpaceOnUse" x="-60" y="-60" width="346" height="279"><feGaussianBlur stdDeviation="2.50"/></filter><filter id="f214" filterUnits="userSpaceOnUse" x="-60" y="-60" width="346" height="279"><feGaussianBlur stdDeviation="0.90"/></filter></defs><g clip-path="url(#c210)"><rect width="226.20" height="159.00" fill="#ffffff"/><polygon points="20.0,159.1 98.1,0.0 217.4,0.0 171.9,159.1" fill="#e6f0fa" fill-opacity="0.700" filter="url(#f211)"/><path d="M 43.8,168.8 C 44.6,167.2 44.2,167.8 48.2,159.1 C 52.2,150.4 61.6,128.9 67.7,116.8 C 73.9,104.6 80.4,93.2 85.1,86.4 C 89.8,79.5 91.9,76.2 95.9,75.5 C 99.9,74.8 103.5,78.1 108.9,82.0 C 114.4,86.0 123.0,97.6 128.5,99.4 C 133.9,101.2 137.2,99.4 141.5,92.9 C 145.8,86.4 150.2,75.8 154.5,60.3 C 158.9,44.8 165.0,11.9 167.5,0.0 C 170.1,-11.9 169.3,-9.4 169.7,-11.3" fill="none" stroke="#cfe1f3" stroke-width="22.00" stroke-opacity="0.800" stroke-linecap="round" stroke-linejoin="round" filter="url(#f212)"/><path d="M 43.8,168.8 C 44.6,167.2 44.2,167.8 48.2,159.1 C 52.2,150.4 61.6,128.9 67.7,116.8 C 73.9,104.6 80.4,93.2 85.1,86.4 C 89.8,79.5 91.9,76.2 95.9,75.5 C 99.9,74.8 103.5,78.1 108.9,82.0 C 114.4,86.0 123.0,97.6 128.5,99.4 C 133.9,101.2 137.2,99.4 141.5,92.9 C 145.8,86.4 150.2,75.8 154.5,60.3 C 158.9,44.8 165.0,11.9 167.5,0.0 C 170.1,-11.9 169.3,-9.4 169.7,-11.3" fill="none" stroke="#6aa5d3" stroke-width="10.00" stroke-opacity="0.800" stroke-linecap="round" stroke-linejoin="round" filter="url(#f213)"/><path d="M 43.8,168.8 C 44.6,167.2 44.2,167.8 48.2,159.1 C 52.2,150.4 61.6,128.9 67.7,116.8 C 73.9,104.6 80.4,93.2 85.1,86.4 C 89.8,79.5 91.9,76.2 95.9,75.5 C 99.9,74.8 103.5,78.1 108.9,82.0 C 114.4,86.0 123.0,97.6 128.5,99.4 C 133.9,101.2 137.2,99.4 141.5,92.9 C 145.8,86.4 150.2,75.8 154.5,60.3 C 158.9,44.8 165.0,11.9 167.5,0.0 C 170.1,-11.9 169.3,-9.4 169.7,-11.3" fill="none" stroke="#163a74" stroke-width="5.00" stroke-opacity="1.000" stroke-linecap="round" stroke-linejoin="round" filter="url(#f214)"/><path d="M128.8 81.7a1.60 1.60 0 1 0 0.01 0M72.2 72.9a1.60 1.60 0 1 0 0.01 0M116.3 66.2a1.60 1.60 0 1 0 0.01 0M92.5 63.3a1.60 1.60 0 1 0 0.01 0M129.3 95.1a1.60 1.60 0 1 0 0.01 0M57.9 83.3a1.60 1.60 0 1 0 0.01 0M57.2 78.0a1.60 1.60 0 1 0 0.01 0M130.6 87.2a1.60 1.60 0 1 0 0.01 0M55.7 88.9a1.60 1.60 0 1 0 0.01 0M126.8 76.4a1.60 1.60 0 1 0 0.01 0M118.3 68.8a1.60 1.60 0 1 0 0.01 0M78.5 65.9a1.60 1.60 0 1 0 0.01 0M65.6 83.5a1.60 1.60 0 1 0 0.01 0M66.4 78.8a1.60 1.60 0 1 0 0.01 0M136.3 91.0a1.60 1.60 0 1 0 0.01 0M91.7 62.1a1.60 1.60 0 1 0 0.01 0M82.4 58.5a1.60 1.60 0 1 0 0.01 0M95.1 60.3a1.60 1.60 0 1 0 0.01 0M61.7 77.7a1.60 1.60 0 1 0 0.01 0M120.6 74.2a1.60 1.60 0 1 0 0.01 0M73.6 73.0a1.60 1.60 0 1 0 0.01 0M127.8 95.9a1.60 1.60 0 1 0 0.01 0M122.2 78.4a1.60 1.60 0 1 0 0.01 0M123.9 80.9a1.60 1.60 0 1 0 0.01 0M117.8 66.5a1.60 1.60 0 1 0 0.01 0M70.7 59.5a1.60 1.60 0 1 0 0.01 0M98.6 59.7a1.60 1.60 0 1 0 0.01 0M64.4 75.8a1.60 1.60 0 1 0 0.01 0M117.7 71.7a1.60 1.60 0 1 0 0.01 0M69.2 72.5a1.60 1.60 0 1 0 0.01 0M71.7 64.6a1.60 1.60 0 1 0 0.01 0M111.1 59.2a1.60 1.60 0 1 0 0.01 0M110.9 66.8a1.60 1.60 0 1 0 0.01 0M58.7 89.8a1.60 1.60 0 1 0 0.01 0M80.8 62.6a1.60 1.60 0 1 0 0.01 0M57.5 84.7a1.60 1.60 0 1 0 0.01 0M60.8 68.7a1.60 1.60 0 1 0 0.01 0M60.7 76.2a1.60 1.60 0 1 0 0.01 0M100.4 57.5a1.60 1.60 0 1 0 0.01 0M91.3 64.7a1.60 1.60 0 1 0 0.01 0M102.7 59.6a1.60 1.60 0 1 0 0.01 0M52.7 90.7a1.60 1.60 0 1 0 0.01 0M127.5 78.6a1.60 1.60 0 1 0 0.01 0M48.5 86.6a1.60 1.60 0 1 0 0.01 0M101.6 61.6a1.60 1.60 0 1 0 0.01 0M105.5 58.7a1.60 1.60 0 1 0 0.01 0M95.3 60.0a1.60 1.60 0 1 0 0.01 0M103.9 61.4a1.60 1.60 0 1 0 0.01 0M96.8 58.8a1.60 1.60 0 1 0 0.01 0M126.5 88.6a1.60 1.60 0 1 0 0.01 0M129.0 82.5a1.60 1.60 0 1 0 0.01 0M69.6 75.2a1.60 1.60 0 1 0 0.01 0M80.2 67.1a1.60 1.60 0 1 0 0.01 0M132.6 90.1a1.60 1.60 0 1 0 0.01 0M114.3 68.6a1.60 1.60 0 1 0 0.01 0M127.0 74.6a1.60 1.60 0 1 0 0.01 0M133.5 81.9a1.60 1.60 0 1 0 0.01 0M102.0 55.9a1.60 1.60 0 1 0 0.01 0M102.3 64.4a1.60 1.60 0 1 0 0.01 0M126.1 92.7a1.60 1.60 0 1 0 0.01 0M90.2 59.9a1.60 1.60 0 1 0 0.01 0M60.2 71.4a1.60 1.60 0 1 0 0.01 0M127.3 78.0a1.60 1.60 0 1 0 0.01 0M117.8 71.3a1.60 1.60 0 1 0 0.01 0M78.6 60.3a1.60 1.60 0 1 0 0.01 0M94.7 59.8a1.60 1.60 0 1 0 0.01 0M88.3 62.2a1.60 1.60 0 1 0 0.01 0M98.0 57.7a1.60 1.60 0 1 0 0.01 0M57.5 83.3a1.60 1.60 0 1 0 0.01 0M89.4 65.0a1.60 1.60 0 1 0 0.01 0M81.2 65.0a1.60 1.60 0 1 0 0.01 0M99.7 58.0a1.60 1.60 0 1 0 0.01 0M98.6 58.9a1.60 1.60 0 1 0 0.01 0M64.3 81.6a1.60 1.60 0 1 0 0.01 0M124.1 76.2a1.60 1.60 0 1 0 0.01 0M61.8 89.1a1.60 1.60 0 1 0 0.01 0M132.8 88.7a1.60 1.60 0 1 0 0.01 0M83.9 60.7a1.60 1.60 0 1 0 0.01 0M130.0 90.1a1.60 1.60 0 1 0 0.01 0M81.2 63.2a1.60 1.60 0 1 0 0.01 0M74.2 64.9a1.60 1.60 0 1 0 0.01 0M65.3 82.1a1.60 1.60 0 1 0 0.01 0M64.7 88.1a1.60 1.60 0 1 0 0.01 0M92.8 57.8a1.60 1.60 0 1 0 0.01 0M71.8 76.9a1.60 1.60 0 1 0 0.01 0M58.6 89.4a1.60 1.60 0 1 0 0.01 0M80.8 60.3a1.60 1.60 0 1 0 0.01 0M115.0 66.0a1.60 1.60 0 1 0 0.01 0M106.7 61.2a1.60 1.60 0 1 0 0.01 0M115.4 66.9a1.60 1.60 0 1 0 0.01 0M52.2 90.9a1.60 1.60 0 1 0 0.01 0M104.1 62.4a1.60 1.60 0 1 0 0.01 0M58.5 90.7a1.60 1.60 0 1 0 0.01 0M54.8 77.7a1.60 1.60 0 1 0 0.01 0M72.6 62.4a1.60 1.60 0 1 0 0.01 0M133.8 93.1a1.60 1.60 0 1 0 0.01 0M57.8 78.6a1.60 1.60 0 1 0 0.01 0M61.8 87.7a1.60 1.60 0 1 0 0.01 0M135.7 91.4a1.60 1.60 0 1 0 0.01 0M77.1 67.8a1.60 1.60 0 1 0 0.01 0M104.6 60.5a1.60 1.60 0 1 0 0.01 0M84.0 57.1a1.60 1.60 0 1 0 0.01 0M84.5 65.4a1.60 1.60 0 1 0 0.01 0M81.5 63.0a1.60 1.60 0 1 0 0.01 0M110.5 68.2a1.60 1.60 0 1 0 0.01 0M124.8 88.9a1.60 1.60 0 1 0 0.01 0M63.9 72.7a1.60 1.60 0 1 0 0.01 0M63.2 86.7a1.60 1.60 0 1 0 0.01 0M120.6 84.4a1.60 1.60 0 1 0 0.01 0M120.8 72.3a1.60 1.60 0 1 0 0.01 0M104.7 62.6a1.60 1.60 0 1 0 0.01 0M101.0 64.4a1.60 1.60 0 1 0 0.01 0M54.5 85.0a1.60 1.60 0 1 0 0.01 0M115.3 69.8a1.60 1.60 0 1 0 0.01 0M105.1 61.2a1.60 1.60 0 1 0 0.01 0M76.6 58.9a1.60 1.60 0 1 0 0.01 0M93.8 62.6a1.60 1.60 0 1 0 0.01 0M111.3 63.5a1.60 1.60 0 1 0 0.01 0M66.8 71.0a1.60 1.60 0 1 0 0.01 0M119.8 82.0a1.60 1.60 0 1 0 0.01 0M115.6 73.4a1.60 1.60 0 1 0 0.01 0M102.6 66.0a1.60 1.60 0 1 0 0.01 0M73.0 68.4a1.60 1.60 0 1 0 0.01 0M116.5 66.8a1.60 1.60 0 1 0 0.01 0M124.8 78.7a1.60 1.60 0 1 0 0.01 0M61.2 87.4a1.60 1.60 0 1 0 0.01 0M128.4 74.3a1.60 1.60 0 1 0 0.01 0M85.4 65.7a1.60 1.60 0 1 0 0.01 0M116.9 64.3a1.60 1.60 0 1 0 0.01 0M80.5 58.9a1.60 1.60 0 1 0 0.01 0M73.9 71.6a1.60 1.60 0 1 0 0.01 0M134.1 89.3a1.60 1.60 0 1 0 0.01 0M108.9 68.3a1.60 1.60 0 1 0 0.01 0M114.4 67.7a1.60 1.60 0 1 0 0.01 0M124.5 75.2a1.60 1.60 0 1 0 0.01 0M134.7 85.4a1.60 1.60 0 1 0 0.01 0M132.2 88.0a1.60 1.60 0 1 0 0.01 0M83.8 60.7a1.60 1.60 0 1 0 0.01 0M125.1 82.2a1.60 1.60 0 1 0 0.01 0M105.9 62.5a1.60 1.60 0 1 0 0.01 0M58.3 89.5a1.60 1.60 0 1 0 0.01 0M64.6 86.2a1.60 1.60 0 1 0 0.01 0M55.5 82.1a1.60 1.60 0 1 0 0.01 0M123.0 74.2a1.60 1.60 0 1 0 0.01 0M112.0 69.2a1.60 1.60 0 1 0 0.01 0M120.9 69.6a1.60 1.60 0 1 0 0.01 0M96.3 58.5a1.60 1.60 0 1 0 0.01 0M95.7 63.6a1.60 1.60 0 1 0 0.01 0M101.7 56.9a1.60 1.60 0 1 0 0.01 0M65.6 68.8a1.60 1.60 0 1 0 0.01 0M81.7 62.1a1.60 1.60 0 1 0 0.01 0M77.9 64.4a1.60 1.60 0 1 0 0.01 0M118.8 75.7a1.60 1.60 0 1 0 0.01 0M71.4 68.1a1.60 1.60 0 1 0 0.01 0M76.4 62.6a1.60 1.60 0 1 0 0.01 0M117.2 67.7a1.60 1.60 0 1 0 0.01 0M105.2 66.2a1.60 1.60 0 1 0 0.01 0M59.2 95.7a1.60 1.60 0 1 0 0.01 0M108.4 59.6a1.60 1.60 0 1 0 0.01 0M102.9 66.7a1.60 1.60 0 1 0 0.01 0M84.1 63.2a1.60 1.60 0 1 0 0.01 0M84.5 66.3a1.60 1.60 0 1 0 0.01 0M125.7 87.7a1.60 1.60 0 1 0 0.01 0M81.4 61.0a1.60 1.60 0 1 0 0.01 0M64.9 67.4a1.60 1.60 0 1 0 0.01 0M53.9 87.4a1.60 1.60 0 1 0 0.01 0M75.1 62.4a1.60 1.60 0 1 0 0.01 0M127.4 78.4a1.60 1.60 0 1 0 0.01 0M116.7 63.5a1.60 1.60 0 1 0 0.01 0M104.3 58.4a1.60 1.60 0 1 0 0.01 0M85.7 61.8a1.60 1.60 0 1 0 0.01 0M128.0 80.4a1.60 1.60 0 1 0 0.01 0M110.6 66.4a1.60 1.60 0 1 0 0.01 0M106.5 62.8a1.60 1.60 0 1 0 0.01 0M57.2 89.5a1.60 1.60 0 1 0 0.01 0M65.2 90.1a1.60 1.60 0 1 0 0.01 0M68.4 65.0a1.60 1.60 0 1 0 0.01 0M88.6 59.6a1.60 1.60 0 1 0 0.01 0M123.9 76.0a1.60 1.60 0 1 0 0.01 0M58.9 91.5a1.60 1.60 0 1 0 0.01 0M57.0 86.8a1.60 1.60 0 1 0 0.01 0M55.1 79.7a1.60 1.60 0 1 0 0.01 0M126.2 91.5a1.60 1.60 0 1 0 0.01 0M60.2 73.4a1.60 1.60 0 1 0 0.01 0M122.7 81.1a1.60 1.60 0 1 0 0.01 0M62.3 85.0a1.60 1.60 0 1 0 0.01 0M80.7 63.1a1.60 1.60 0 1 0 0.01 0M59.8 94.1a1.60 1.60 0 1 0 0.01 0M103.1 63.3a1.60 1.60 0 1 0 0.01 0M70.3 57.7a1.60 1.60 0 1 0 0.01 0M68.9 72.6a1.60 1.60 0 1 0 0.01 0M118.2 68.6a1.60 1.60 0 1 0 0.01 0M84.1 64.4a1.60 1.60 0 1 0 0.01 0M63.6 76.8a1.60 1.60 0 1 0 0.01 0M88.7 58.8a1.60 1.60 0 1 0 0.01 0M103.5 62.8a1.60 1.60 0 1 0 0.01 0M98.5 69.6a1.60 1.60 0 1 0 0.01 0M63.4 91.0a1.60 1.60 0 1 0 0.01 0M54.8 90.6a1.60 1.60 0 1 0 0.01 0M78.5 60.2a1.60 1.60 0 1 0 0.01 0M60.1 65.8a1.60 1.60 0 1 0 0.01 0M54.1 89.6a1.60 1.60 0 1 0 0.01 0M130.6 78.3a1.60 1.60 0 1 0 0.01 0M129.0 87.0a1.60 1.60 0 1 0 0.01 0M68.7 72.9a1.60 1.60 0 1 0 0.01 0M84.9 58.3a1.60 1.60 0 1 0 0.01 0M130.1 81.0a1.60 1.60 0 1 0 0.01 0M95.5 56.4a1.60 1.60 0 1 0 0.01 0M97.5 58.3a1.60 1.60 0 1 0 0.01 0M109.3 64.4a1.60 1.60 0 1 0 0.01 0M121.8 66.4a1.60 1.60 0 1 0 0.01 0M129.6 79.3a1.60 1.60 0 1 0 0.01 0M73.9 57.5a1.60 1.60 0 1 0 0.01 0M128.1 77.0a1.60 1.60 0 1 0 0.01 0M67.3 60.9a1.60 1.60 0 1 0 0.01 0M60.2 71.4a1.60 1.60 0 1 0 0.01 0M75.3 61.5a1.60 1.60 0 1 0 0.01 0M108.4 66.4a1.60 1.60 0 1 0 0.01 0M102.4 65.9a1.60 1.60 0 1 0 0.01 0M91.0 50.6a1.60 1.60 0 1 0 0.01 0M108.3 69.7a1.60 1.60 0 1 0 0.01 0M92.7 63.2a1.60 1.60 0 1 0 0.01 0M73.5 59.9a1.60 1.60 0 1 0 0.01 0M118.5 63.9a1.60 1.60 0 1 0 0.01 0M125.6 72.4a1.60 1.60 0 1 0 0.01 0M60.8 72.9a1.60 1.60 0 1 0 0.01 0M64.6 71.6a1.60 1.60 0 1 0 0.01 0M128.6 86.8a1.60 1.60 0 1 0 0.01 0M81.2 65.3a1.60 1.60 0 1 0 0.01 0M125.3 78.9a1.60 1.60 0 1 0 0.01 0M92.5 61.6a1.60 1.60 0 1 0 0.01 0M108.0 63.6a1.60 1.60 0 1 0 0.01 0M58.1 77.1a1.60 1.60 0 1 0 0.01 0M125.8 80.9a1.60 1.60 0 1 0 0.01 0M52.9 78.0a1.60 1.60 0 1 0 0.01 0M109.0 60.0a1.60 1.60 0 1 0 0.01 0M125.2 69.8a1.60 1.60 0 1 0 0.01 0M98.9 61.3a1.60 1.60 0 1 0 0.01 0M125.6 92.1a1.60 1.60 0 1 0 0.01 0M75.3 73.6a1.60 1.60 0 1 0 0.01 0M109.3 60.0a1.60 1.60 0 1 0 0.01 0M114.2 64.4a1.60 1.60 0 1 0 0.01 0M124.9 79.8a1.60 1.60 0 1 0 0.01 0M123.1 79.9a1.60 1.60 0 1 0 0.01 0M87.8 57.9a1.60 1.60 0 1 0 0.01 0M130.5 89.5a1.60 1.60 0 1 0 0.01 0M96.5 60.9a1.60 1.60 0 1 0 0.01 0M61.9 85.4a1.60 1.60 0 1 0 0.01 0M103.8 58.5a1.60 1.60 0 1 0 0.01 0M127.8 71.2a1.60 1.60 0 1 0 0.01 0" fill="#2ca02c" fill-opacity="0.100" stroke="#2ca02c" stroke-opacity="0.120" stroke-width="0.50"/><path d="M158.8 93.2a1.60 1.60 0 1 0 0.01 0M153.3 105.1a1.60 1.60 0 1 0 0.01 0M139.3 105.2a1.60 1.60 0 1 0 0.01 0M93.0 85.4a1.60 1.60 0 1 0 0.01 0M110.4 106.3a1.60 1.60 0 1 0 0.01 0M130.7 111.6a1.60 1.60 0 1 0 0.01 0M115.0 105.0a1.60 1.60 0 1 0 0.01 0M103.4 101.8a1.60 1.60 0 1 0 0.01 0M105.9 98.0a1.60 1.60 0 1 0 0.01 0M97.8 87.9a1.60 1.60 0 1 0 0.01 0M156.1 99.8a1.60 1.60 0 1 0 0.01 0M99.6 87.6a1.60 1.60 0 1 0 0.01 0M105.6 108.1a1.60 1.60 0 1 0 0.01 0M114.2 110.4a1.60 1.60 0 1 0 0.01 0M92.5 87.8a1.60 1.60 0 1 0 0.01 0M97.9 89.3a1.60 1.60 0 1 0 0.01 0M101.1 93.1a1.60 1.60 0 1 0 0.01 0M151.9 90.9a1.60 1.60 0 1 0 0.01 0M100.3 100.4a1.60 1.60 0 1 0 0.01 0M154.4 104.8a1.60 1.60 0 1 0 0.01 0M107.7 105.3a1.60 1.60 0 1 0 0.01 0M150.4 106.3a1.60 1.60 0 1 0 0.01 0M147.4 103.5a1.60 1.60 0 1 0 0.01 0M103.5 101.2a1.60 1.60 0 1 0 0.01 0M124.2 108.8a1.60 1.60 0 1 0 0.01 0M144.3 107.8a1.60 1.60 0 1 0 0.01 0M144.4 106.9a1.60 1.60 0 1 0 0.01 0M138.7 103.8a1.60 1.60 0 1 0 0.01 0M96.4 80.4a1.60 1.60 0 1 0 0.01 0M159.0 86.4a1.60 1.60 0 1 0 0.01 0M163.9 90.8a1.60 1.60 0 1 0 0.01 0M108.1 94.2a1.60 1.60 0 1 0 0.01 0M113.0 112.3a1.60 1.60 0 1 0 0.01 0M167.4 86.2a1.60 1.60 0 1 0 0.01 0M123.7 111.1a1.60 1.60 0 1 0 0.01 0M124.2 107.2a1.60 1.60 0 1 0 0.01 0M147.1 103.8a1.60 1.60 0 1 0 0.01 0M93.0 90.9a1.60 1.60 0 1 0 0.01 0M161.6 87.0a1.60 1.60 0 1 0 0.01 0M95.4 75.2a1.60 1.60 0 1 0 0.01 0M87.8 86.5a1.60 1.60 0 1 0 0.01 0M111.3 111.5a1.60 1.60 0 1 0 0.01 0M100.6 96.2a1.60 1.60 0 1 0 0.01 0M133.4 104.2a1.60 1.60 0 1 0 0.01 0M98.8 89.0a1.60 1.60 0 1 0 0.01 0M143.3 107.0a1.60 1.60 0 1 0 0.01 0M132.1 111.7a1.60 1.60 0 1 0 0.01 0M155.1 92.8a1.60 1.60 0 1 0 0.01 0M110.1 104.4a1.60 1.60 0 1 0 0.01 0M93.8 89.9a1.60 1.60 0 1 0 0.01 0M131.5 114.6a1.60 1.60 0 1 0 0.01 0M102.3 107.0a1.60 1.60 0 1 0 0.01 0M125.0 110.3a1.60 1.60 0 1 0 0.01 0M90.9 87.7a1.60 1.60 0 1 0 0.01 0M138.3 103.0a1.60 1.60 0 1 0 0.01 0M157.7 91.0a1.60 1.60 0 1 0 0.01 0M160.0 84.1a1.60 1.60 0 1 0 0.01 0M167.0 78.8a1.60 1.60 0 1 0 0.01 0M141.7 112.1a1.60 1.60 0 1 0 0.01 0M137.4 103.5a1.60 1.60 0 1 0 0.01 0M156.3 96.7a1.60 1.60 0 1 0 0.01 0M151.1 110.0a1.60 1.60 0 1 0 0.01 0M97.2 91.1a1.60 1.60 0 1 0 0.01 0M122.9 106.6a1.60 1.60 0 1 0 0.01 0M93.2 88.6a1.60 1.60 0 1 0 0.01 0M139.9 106.9a1.60 1.60 0 1 0 0.01 0M127.9 112.6a1.60 1.60 0 1 0 0.01 0M123.2 107.6a1.60 1.60 0 1 0 0.01 0M160.7 79.1a1.60 1.60 0 1 0 0.01 0M164.9 85.4a1.60 1.60 0 1 0 0.01 0M93.9 98.3a1.60 1.60 0 1 0 0.01 0M139.7 113.4a1.60 1.60 0 1 0 0.01 0M120.8 107.0a1.60 1.60 0 1 0 0.01 0M160.6 97.4a1.60 1.60 0 1 0 0.01 0M162.8 84.1a1.60 1.60 0 1 0 0.01 0M161.1 89.9a1.60 1.60 0 1 0 0.01 0M94.6 87.1a1.60 1.60 0 1 0 0.01 0M163.8 88.8a1.60 1.60 0 1 0 0.01 0M97.1 93.0a1.60 1.60 0 1 0 0.01 0M110.1 106.4a1.60 1.60 0 1 0 0.01 0M119.0 103.4a1.60 1.60 0 1 0 0.01 0M164.2 91.3a1.60 1.60 0 1 0 0.01 0M102.8 94.3a1.60 1.60 0 1 0 0.01 0M94.1 90.3a1.60 1.60 0 1 0 0.01 0M163.7 77.8a1.60 1.60 0 1 0 0.01 0M88.1 82.9a1.60 1.60 0 1 0 0.01 0M120.0 104.8a1.60 1.60 0 1 0 0.01 0M122.1 104.1a1.60 1.60 0 1 0 0.01 0M103.7 99.5a1.60 1.60 0 1 0 0.01 0M105.0 99.5a1.60 1.60 0 1 0 0.01 0M93.9 91.6a1.60 1.60 0 1 0 0.01 0M155.0 89.6a1.60 1.60 0 1 0 0.01 0M106.1 96.9a1.60 1.60 0 1 0 0.01 0M147.1 105.3a1.60 1.60 0 1 0 0.01 0M110.5 98.6a1.60 1.60 0 1 0 0.01 0M92.1 76.0a1.60 1.60 0 1 0 0.01 0M104.3 95.0a1.60 1.60 0 1 0 0.01 0M159.4 97.8a1.60 1.60 0 1 0 0.01 0M113.9 111.0a1.60 1.60 0 1 0 0.01 0M98.0 81.2a1.60 1.60 0 1 0 0.01 0M164.3 80.3a1.60 1.60 0 1 0 0.01 0M148.3 104.9a1.60 1.60 0 1 0 0.01 0M143.7 108.5a1.60 1.60 0 1 0 0.01 0M164.7 80.2a1.60 1.60 0 1 0 0.01 0M168.3 80.6a1.60 1.60 0 1 0 0.01 0M160.6 84.6a1.60 1.60 0 1 0 0.01 0M111.0 106.8a1.60 1.60 0 1 0 0.01 0M109.0 104.4a1.60 1.60 0 1 0 0.01 0M122.2 103.9a1.60 1.60 0 1 0 0.01 0M154.1 99.7a1.60 1.60 0 1 0 0.01 0M135.5 107.0a1.60 1.60 0 1 0 0.01 0M111.6 105.8a1.60 1.60 0 1 0 0.01 0M140.0 103.8a1.60 1.60 0 1 0 0.01 0M150.0 111.0a1.60 1.60 0 1 0 0.01 0M162.5 73.3a1.60 1.60 0 1 0 0.01 0M142.9 106.5a1.60 1.60 0 1 0 0.01 0M115.2 105.4a1.60 1.60 0 1 0 0.01 0M162.2 82.7a1.60 1.60 0 1 0 0.01 0M153.2 102.7a1.60 1.60 0 1 0 0.01 0M116.6 113.2a1.60 1.60 0 1 0 0.01 0M122.1 110.8a1.60 1.60 0 1 0 0.01 0M166.5 76.5a1.60 1.60 0 1 0 0.01 0M165.2 83.4a1.60 1.60 0 1 0 0.01 0M91.5 79.4a1.60 1.60 0 1 0 0.01 0M156.6 96.0a1.60 1.60 0 1 0 0.01 0M120.8 105.9a1.60 1.60 0 1 0 0.01 0M121.2 107.1a1.60 1.60 0 1 0 0.01 0M104.1 98.2a1.60 1.60 0 1 0 0.01 0M143.4 107.4a1.60 1.60 0 1 0 0.01 0M94.4 93.8a1.60 1.60 0 1 0 0.01 0M103.4 92.8a1.60 1.60 0 1 0 0.01 0M101.9 97.9a1.60 1.60 0 1 0 0.01 0M134.4 107.3a1.60 1.60 0 1 0 0.01 0M91.8 87.0a1.60 1.60 0 1 0 0.01 0M101.2 99.0a1.60 1.60 0 1 0 0.01 0M161.5 96.1a1.60 1.60 0 1 0 0.01 0M125.1 107.3a1.60 1.60 0 1 0 0.01 0M163.6 83.3a1.60 1.60 0 1 0 0.01 0M149.4 103.6a1.60 1.60 0 1 0 0.01 0M91.2 85.4a1.60 1.60 0 1 0 0.01 0M116.1 108.9a1.60 1.60 0 1 0 0.01 0M131.0 115.1a1.60 1.60 0 1 0 0.01 0M164.4 93.9a1.60 1.60 0 1 0 0.01 0M160.7 87.9a1.60 1.60 0 1 0 0.01 0M92.1 83.9a1.60 1.60 0 1 0 0.01 0M166.6 86.4a1.60 1.60 0 1 0 0.01 0M148.1 104.1a1.60 1.60 0 1 0 0.01 0M137.8 110.9a1.60 1.60 0 1 0 0.01 0M165.6 84.6a1.60 1.60 0 1 0 0.01 0M119.5 108.1a1.60 1.60 0 1 0 0.01 0M147.1 104.8a1.60 1.60 0 1 0 0.01 0M156.8 93.2a1.60 1.60 0 1 0 0.01 0M162.0 96.4a1.60 1.60 0 1 0 0.01 0M135.4 106.7a1.60 1.60 0 1 0 0.01 0M134.6 110.0a1.60 1.60 0 1 0 0.01 0M161.6 90.2a1.60 1.60 0 1 0 0.01 0M105.6 96.0a1.60 1.60 0 1 0 0.01 0M154.5 102.4a1.60 1.60 0 1 0 0.01 0M162.5 90.5a1.60 1.60 0 1 0 0.01 0M100.2 93.0a1.60 1.60 0 1 0 0.01 0M160.6 95.4a1.60 1.60 0 1 0 0.01 0M96.0 89.4a1.60 1.60 0 1 0 0.01 0M89.7 86.2a1.60 1.60 0 1 0 0.01 0M122.8 109.7a1.60 1.60 0 1 0 0.01 0M165.0 78.9a1.60 1.60 0 1 0 0.01 0M170.7 85.5a1.60 1.60 0 1 0 0.01 0M139.0 109.1a1.60 1.60 0 1 0 0.01 0M157.8 99.7a1.60 1.60 0 1 0 0.01 0M105.2 99.1a1.60 1.60 0 1 0 0.01 0M141.4 106.1a1.60 1.60 0 1 0 0.01 0M94.1 102.3a1.60 1.60 0 1 0 0.01 0M100.3 101.7a1.60 1.60 0 1 0 0.01 0M159.3 84.0a1.60 1.60 0 1 0 0.01 0M169.2 87.2a1.60 1.60 0 1 0 0.01 0M152.4 104.9a1.60 1.60 0 1 0 0.01 0M125.1 109.9a1.60 1.60 0 1 0 0.01 0M165.7 90.8a1.60 1.60 0 1 0 0.01 0M94.9 96.0a1.60 1.60 0 1 0 0.01 0M134.9 105.5a1.60 1.60 0 1 0 0.01 0M137.8 97.9a1.60 1.60 0 1 0 0.01 0M89.7 83.4a1.60 1.60 0 1 0 0.01 0M161.2 96.1a1.60 1.60 0 1 0 0.01 0M102.4 106.3a1.60 1.60 0 1 0 0.01 0M162.9 85.2a1.60 1.60 0 1 0 0.01 0M162.9 87.8a1.60 1.60 0 1 0 0.01 0M160.3 100.3a1.60 1.60 0 1 0 0.01 0M161.5 88.3a1.60 1.60 0 1 0 0.01 0M102.9 105.4a1.60 1.60 0 1 0 0.01 0M96.8 91.5a1.60 1.60 0 1 0 0.01 0M113.2 110.8a1.60 1.60 0 1 0 0.01 0M118.0 108.9a1.60 1.60 0 1 0 0.01 0M167.4 85.6a1.60 1.60 0 1 0 0.01 0M155.1 96.9a1.60 1.60 0 1 0 0.01 0M157.6 91.9a1.60 1.60 0 1 0 0.01 0M151.5 108.1a1.60 1.60 0 1 0 0.01 0M158.4 101.1a1.60 1.60 0 1 0 0.01 0M135.5 108.9a1.60 1.60 0 1 0 0.01 0M162.4 89.0a1.60 1.60 0 1 0 0.01 0M167.4 75.2a1.60 1.60 0 1 0 0.01 0M117.6 107.9a1.60 1.60 0 1 0 0.01 0M163.1 84.7a1.60 1.60 0 1 0 0.01 0M148.1 101.2a1.60 1.60 0 1 0 0.01 0M143.4 100.6a1.60 1.60 0 1 0 0.01 0M127.5 109.5a1.60 1.60 0 1 0 0.01 0M165.6 79.0a1.60 1.60 0 1 0 0.01 0M116.1 107.2a1.60 1.60 0 1 0 0.01 0M97.2 87.6a1.60 1.60 0 1 0 0.01 0M88.3 79.7a1.60 1.60 0 1 0 0.01 0M156.2 91.8a1.60 1.60 0 1 0 0.01 0M140.0 110.9a1.60 1.60 0 1 0 0.01 0M101.5 98.3a1.60 1.60 0 1 0 0.01 0M111.1 101.2a1.60 1.60 0 1 0 0.01 0M150.2 108.9a1.60 1.60 0 1 0 0.01 0M149.9 100.2a1.60 1.60 0 1 0 0.01 0M92.1 82.8a1.60 1.60 0 1 0 0.01 0M147.1 107.6a1.60 1.60 0 1 0 0.01 0M136.4 109.7a1.60 1.60 0 1 0 0.01 0M158.7 95.9a1.60 1.60 0 1 0 0.01 0M101.0 99.3a1.60 1.60 0 1 0 0.01 0M100.6 92.7a1.60 1.60 0 1 0 0.01 0M155.9 95.4a1.60 1.60 0 1 0 0.01 0M111.4 106.5a1.60 1.60 0 1 0 0.01 0M94.4 90.6a1.60 1.60 0 1 0 0.01 0M123.0 111.3a1.60 1.60 0 1 0 0.01 0M154.7 86.9a1.60 1.60 0 1 0 0.01 0M118.8 102.2a1.60 1.60 0 1 0 0.01 0M96.3 97.7a1.60 1.60 0 1 0 0.01 0M152.1 99.6a1.60 1.60 0 1 0 0.01 0M94.3 81.5a1.60 1.60 0 1 0 0.01 0M89.7 83.2a1.60 1.60 0 1 0 0.01 0M93.8 76.4a1.60 1.60 0 1 0 0.01 0M157.5 93.5a1.60 1.60 0 1 0 0.01 0M107.5 104.1a1.60 1.60 0 1 0 0.01 0M97.5 98.8a1.60 1.60 0 1 0 0.01 0M92.9 78.0a1.60 1.60 0 1 0 0.01 0M95.3 96.7a1.60 1.60 0 1 0 0.01 0M94.3 91.5a1.60 1.60 0 1 0 0.01 0M161.0 91.4a1.60 1.60 0 1 0 0.01 0M94.3 87.8a1.60 1.60 0 1 0 0.01 0M153.9 103.0a1.60 1.60 0 1 0 0.01 0M128.1 105.5a1.60 1.60 0 1 0 0.01 0M93.6 82.0a1.60 1.60 0 1 0 0.01 0M104.3 98.0a1.60 1.60 0 1 0 0.01 0M118.1 104.0a1.60 1.60 0 1 0 0.01 0M113.3 109.5a1.60 1.60 0 1 0 0.01 0M104.6 105.7a1.60 1.60 0 1 0 0.01 0M148.5 99.9a1.60 1.60 0 1 0 0.01 0M97.7 87.2a1.60 1.60 0 1 0 0.01 0M95.2 91.6a1.60 1.60 0 1 0 0.01 0M129.3 110.4a1.60 1.60 0 1 0 0.01 0" fill="#ff7f0e" fill-opacity="0.090" stroke="#ff7f0e" stroke-opacity="0.100" stroke-width="0.50"/><path d="M57.4 63.5L62.8 68.9M57.4 68.9L62.8 63.5" stroke="#1f5a1f" stroke-width="1.00" fill="none"/><path d="M73.7 79.8L76.9 83.0M73.7 83.0L76.9 79.8" stroke="#1f5a1f" stroke-width="1.00" fill="none"/><path d="M102.4 63.6L106.8 67.9M102.4 67.9L106.8 63.6" stroke="#1f5a1f" stroke-width="1.00" fill="none"/><path d="M124.7 64.1L134.4 73.9M124.7 73.9L134.4 64.1" stroke="#1f5a1f" stroke-width="1.00" fill="none"/><path d="M128.5 91.8L130.6 94.0M128.5 94.0L130.6 91.8" stroke="#1f5a1f" stroke-width="1.00" fill="none"/><path d="M84.0 84.6L101.3 102.0M84.0 102.0L101.3 84.6" stroke="#7a4419" stroke-width="1.00" fill="none"/><path d="M110.1 104.3L122.1 116.2M110.1 116.2L122.1 104.3" stroke="#7a4419" stroke-width="1.00" fill="none"/><path d="M134.4 108.2L139.9 113.6M134.4 113.6L139.9 108.2" stroke="#7a4419" stroke-width="1.00" fill="none"/><path d="M138.9 102.2L154.1 117.4M138.9 117.4L154.1 102.2" stroke="#7a4419" stroke-width="1.00" fill="none"/><path d="M163.7 74.3L169.2 79.8M163.7 79.8L169.2 74.3" stroke="#7a4419" stroke-width="1.00" fill="none"/><path d="M133.9 127.6L144.7 138.5M133.9 138.5L144.7 127.6" stroke="#7a4419" stroke-width="1.00" fill="none"/><path d="M103.4 141.8L111.0 149.4M103.4 149.4L111.0 141.8" stroke="#7a4419" stroke-width="1.00" fill="none"/></g><rect x="0.65" y="0.65" width="224.90" height="157.70" fill="none" stroke="#111" stroke-width="1.30"/></svg>
<svg style="left:567.60px;top:1768.20px" width="226.10" height="159.00" viewBox="0 0 226.10 159.00"><defs><clipPath id="c215"><rect width="226.10" height="159.00"/></clipPath><filter id="f216" filterUnits="userSpaceOnUse" x="-60" y="-60" width="346" height="279"><feGaussianBlur stdDeviation="4.00"/></filter><filter id="f217" filterUnits="userSpaceOnUse" x="-60" y="-60" width="346" height="279"><feGaussianBlur stdDeviation="5.00"/></filter><filter id="f218" filterUnits="userSpaceOnUse" x="-60" y="-60" width="346" height="279"><feGaussianBlur stdDeviation="2.50"/></filter><filter id="f219" filterUnits="userSpaceOnUse" x="-60" y="-60" width="346" height="279"><feGaussianBlur stdDeviation="0.90"/></filter></defs><g clip-path="url(#c215)"><rect width="226.10" height="159.00" fill="#ffffff"/><polygon points="1.1,131.9 109.6,38.6 187.7,0.0 226.1,0.0 226.1,38.6 144.3,125.4 79.2,159.1 1.1,159.1" fill="#e6f0fa" fill-opacity="0.700" filter="url(#f216)"/><path d="M 16.3,168.8 C 17.7,167.2 18.1,166.3 25.0,159.1 C 31.8,151.8 47.0,137.7 57.5,125.4 C 68.0,113.1 80.8,93.1 87.9,85.3 C 94.9,77.5 96.6,79.0 99.8,78.8 C 103.1,78.6 103.3,79.9 107.4,84.2 C 111.6,88.5 119.4,102.8 124.8,104.8 C 130.2,106.8 131.3,104.3 140.0,96.1 C 148.7,88.0 162.9,72.0 176.9,56.0 C 190.8,40.0 214.5,10.9 223.5,0.0 C 232.6,-10.9 229.9,-7.6 231.1,-9.1" fill="none" stroke="#cfe1f3" stroke-width="22.00" stroke-opacity="0.800" stroke-linecap="round" stroke-linejoin="round" filter="url(#f217)"/><path d="M 16.3,168.8 C 17.7,167.2 18.1,166.3 25.0,159.1 C 31.8,151.8 47.0,137.7 57.5,125.4 C 68.0,113.1 80.8,93.1 87.9,85.3 C 94.9,77.5 96.6,79.0 99.8,78.8 C 103.1,78.6 103.3,79.9 107.4,84.2 C 111.6,88.5 119.4,102.8 124.8,104.8 C 130.2,106.8 131.3,104.3 140.0,96.1 C 148.7,88.0 162.9,72.0 176.9,56.0 C 190.8,40.0 214.5,10.9 223.5,0.0 C 232.6,-10.9 229.9,-7.6 231.1,-9.1" fill="none" stroke="#6aa5d3" stroke-width="10.00" stroke-opacity="0.800" stroke-linecap="round" stroke-linejoin="round" filter="url(#f218)"/><path d="M 16.3,168.8 C 17.7,167.2 18.1,166.3 25.0,159.1 C 31.8,151.8 47.0,137.7 57.5,125.4 C 68.0,113.1 80.8,93.1 87.9,85.3 C 94.9,77.5 96.6,79.0 99.8,78.8 C 103.1,78.6 103.3,79.9 107.4,84.2 C 111.6,88.5 119.4,102.8 124.8,104.8 C 130.2,106.8 131.3,104.3 140.0,96.1 C 148.7,88.0 162.9,72.0 176.9,56.0 C 190.8,40.0 214.5,10.9 223.5,0.0 C 232.6,-10.9 229.9,-7.6 231.1,-9.1" fill="none" stroke="#163a74" stroke-width="5.00" stroke-opacity="1.000" stroke-linecap="round" stroke-linejoin="round" filter="url(#f219)"/><path d="M61.6 71.0a1.60 1.60 0 1 0 0.01 0M123.8 74.0a1.60 1.60 0 1 0 0.01 0M64.6 78.1a1.60 1.60 0 1 0 0.01 0M59.9 88.7a1.60 1.60 0 1 0 0.01 0M58.1 90.4a1.60 1.60 0 1 0 0.01 0M97.8 60.3a1.60 1.60 0 1 0 0.01 0M71.5 60.6a1.60 1.60 0 1 0 0.01 0M71.4 76.1a1.60 1.60 0 1 0 0.01 0M78.9 61.5a1.60 1.60 0 1 0 0.01 0M69.4 70.1a1.60 1.60 0 1 0 0.01 0M130.3 86.9a1.60 1.60 0 1 0 0.01 0M111.2 65.8a1.60 1.60 0 1 0 0.01 0M132.1 91.4a1.60 1.60 0 1 0 0.01 0M63.3 74.0a1.60 1.60 0 1 0 0.01 0M108.9 63.4a1.60 1.60 0 1 0 0.01 0M80.9 67.2a1.60 1.60 0 1 0 0.01 0M119.2 65.0a1.60 1.60 0 1 0 0.01 0M117.8 67.4a1.60 1.60 0 1 0 0.01 0M130.1 90.3a1.60 1.60 0 1 0 0.01 0M114.9 62.0a1.60 1.60 0 1 0 0.01 0M57.5 85.1a1.60 1.60 0 1 0 0.01 0M114.7 71.8a1.60 1.60 0 1 0 0.01 0M116.9 61.8a1.60 1.60 0 1 0 0.01 0M62.0 89.2a1.60 1.60 0 1 0 0.01 0M134.0 91.4a1.60 1.60 0 1 0 0.01 0M128.4 82.5a1.60 1.60 0 1 0 0.01 0M73.7 55.7a1.60 1.60 0 1 0 0.01 0M65.2 77.4a1.60 1.60 0 1 0 0.01 0M130.2 89.7a1.60 1.60 0 1 0 0.01 0M72.1 68.8a1.60 1.60 0 1 0 0.01 0M59.8 73.3a1.60 1.60 0 1 0 0.01 0M130.7 82.1a1.60 1.60 0 1 0 0.01 0M79.6 63.3a1.60 1.60 0 1 0 0.01 0M94.5 65.1a1.60 1.60 0 1 0 0.01 0M90.6 60.7a1.60 1.60 0 1 0 0.01 0M57.0 86.9a1.60 1.60 0 1 0 0.01 0M126.4 94.7a1.60 1.60 0 1 0 0.01 0M123.1 70.0a1.60 1.60 0 1 0 0.01 0M69.7 65.5a1.60 1.60 0 1 0 0.01 0M114.7 68.5a1.60 1.60 0 1 0 0.01 0M115.8 67.3a1.60 1.60 0 1 0 0.01 0M73.6 67.1a1.60 1.60 0 1 0 0.01 0M58.4 93.4a1.60 1.60 0 1 0 0.01 0M122.4 69.2a1.60 1.60 0 1 0 0.01 0M99.2 66.4a1.60 1.60 0 1 0 0.01 0M118.5 69.7a1.60 1.60 0 1 0 0.01 0M107.4 63.0a1.60 1.60 0 1 0 0.01 0M75.4 60.1a1.60 1.60 0 1 0 0.01 0M69.9 69.5a1.60 1.60 0 1 0 0.01 0M134.5 85.4a1.60 1.60 0 1 0 0.01 0M79.9 69.8a1.60 1.60 0 1 0 0.01 0M91.8 61.5a1.60 1.60 0 1 0 0.01 0M132.3 80.9a1.60 1.60 0 1 0 0.01 0M127.0 85.2a1.60 1.60 0 1 0 0.01 0M122.2 72.9a1.60 1.60 0 1 0 0.01 0M129.6 75.7a1.60 1.60 0 1 0 0.01 0M60.1 85.1a1.60 1.60 0 1 0 0.01 0M73.3 59.4a1.60 1.60 0 1 0 0.01 0M124.0 74.7a1.60 1.60 0 1 0 0.01 0M90.6 64.8a1.60 1.60 0 1 0 0.01 0M89.5 59.0a1.60 1.60 0 1 0 0.01 0M128.4 87.7a1.60 1.60 0 1 0 0.01 0M64.6 75.6a1.60 1.60 0 1 0 0.01 0M105.9 60.8a1.60 1.60 0 1 0 0.01 0M121.9 79.0a1.60 1.60 0 1 0 0.01 0M120.6 74.5a1.60 1.60 0 1 0 0.01 0M91.9 63.3a1.60 1.60 0 1 0 0.01 0M69.1 69.1a1.60 1.60 0 1 0 0.01 0M57.6 92.3a1.60 1.60 0 1 0 0.01 0M63.4 84.0a1.60 1.60 0 1 0 0.01 0M100.1 62.1a1.60 1.60 0 1 0 0.01 0M125.4 81.8a1.60 1.60 0 1 0 0.01 0M58.3 86.3a1.60 1.60 0 1 0 0.01 0M109.7 67.9a1.60 1.60 0 1 0 0.01 0M124.9 76.7a1.60 1.60 0 1 0 0.01 0M58.8 77.4a1.60 1.60 0 1 0 0.01 0M130.8 78.9a1.60 1.60 0 1 0 0.01 0M115.6 72.8a1.60 1.60 0 1 0 0.01 0M81.5 64.5a1.60 1.60 0 1 0 0.01 0M85.9 60.4a1.60 1.60 0 1 0 0.01 0M61.8 88.6a1.60 1.60 0 1 0 0.01 0M96.4 61.2a1.60 1.60 0 1 0 0.01 0M128.1 77.8a1.60 1.60 0 1 0 0.01 0M66.0 72.7a1.60 1.60 0 1 0 0.01 0M120.9 77.8a1.60 1.60 0 1 0 0.01 0M126.2 78.2a1.60 1.60 0 1 0 0.01 0M104.6 58.7a1.60 1.60 0 1 0 0.01 0M111.7 64.0a1.60 1.60 0 1 0 0.01 0M57.4 89.4a1.60 1.60 0 1 0 0.01 0M127.1 75.4a1.60 1.60 0 1 0 0.01 0M61.2 74.5a1.60 1.60 0 1 0 0.01 0M78.7 64.0a1.60 1.60 0 1 0 0.01 0M124.1 85.5a1.60 1.60 0 1 0 0.01 0M129.0 83.9a1.60 1.60 0 1 0 0.01 0M54.6 84.2a1.60 1.60 0 1 0 0.01 0M124.6 74.9a1.60 1.60 0 1 0 0.01 0M131.2 87.3a1.60 1.60 0 1 0 0.01 0M111.0 69.1a1.60 1.60 0 1 0 0.01 0M75.9 64.0a1.60 1.60 0 1 0 0.01 0M90.1 66.0a1.60 1.60 0 1 0 0.01 0M71.2 63.6a1.60 1.60 0 1 0 0.01 0M64.4 89.5a1.60 1.60 0 1 0 0.01 0M118.3 66.9a1.60 1.60 0 1 0 0.01 0M122.5 62.5a1.60 1.60 0 1 0 0.01 0M69.3 79.7a1.60 1.60 0 1 0 0.01 0M121.2 68.0a1.60 1.60 0 1 0 0.01 0M77.1 62.7a1.60 1.60 0 1 0 0.01 0M129.2 80.4a1.60 1.60 0 1 0 0.01 0M119.4 78.1a1.60 1.60 0 1 0 0.01 0M127.6 84.6a1.60 1.60 0 1 0 0.01 0M67.9 63.1a1.60 1.60 0 1 0 0.01 0M119.6 76.2a1.60 1.60 0 1 0 0.01 0M131.9 74.3a1.60 1.60 0 1 0 0.01 0M118.9 70.7a1.60 1.60 0 1 0 0.01 0M120.4 74.2a1.60 1.60 0 1 0 0.01 0M133.5 88.8a1.60 1.60 0 1 0 0.01 0M118.5 66.3a1.60 1.60 0 1 0 0.01 0M77.2 67.2a1.60 1.60 0 1 0 0.01 0M73.7 72.6a1.60 1.60 0 1 0 0.01 0M126.8 79.3a1.60 1.60 0 1 0 0.01 0M85.9 63.2a1.60 1.60 0 1 0 0.01 0M61.6 83.4a1.60 1.60 0 1 0 0.01 0M94.0 63.2a1.60 1.60 0 1 0 0.01 0M108.2 63.8a1.60 1.60 0 1 0 0.01 0M132.6 91.5a1.60 1.60 0 1 0 0.01 0M65.3 74.9a1.60 1.60 0 1 0 0.01 0M59.0 75.8a1.60 1.60 0 1 0 0.01 0M130.1 84.0a1.60 1.60 0 1 0 0.01 0M134.7 73.4a1.60 1.60 0 1 0 0.01 0M68.5 78.3a1.60 1.60 0 1 0 0.01 0M90.9 54.9a1.60 1.60 0 1 0 0.01 0M109.8 65.7a1.60 1.60 0 1 0 0.01 0M121.9 82.6a1.60 1.60 0 1 0 0.01 0M135.2 87.6a1.60 1.60 0 1 0 0.01 0M88.1 58.2a1.60 1.60 0 1 0 0.01 0M73.8 66.1a1.60 1.60 0 1 0 0.01 0M59.5 84.4a1.60 1.60 0 1 0 0.01 0M64.9 70.7a1.60 1.60 0 1 0 0.01 0M108.9 68.9a1.60 1.60 0 1 0 0.01 0M66.5 70.9a1.60 1.60 0 1 0 0.01 0M135.4 87.6a1.60 1.60 0 1 0 0.01 0M85.9 64.8a1.60 1.60 0 1 0 0.01 0M78.2 69.0a1.60 1.60 0 1 0 0.01 0M134.3 78.9a1.60 1.60 0 1 0 0.01 0M110.2 57.2a1.60 1.60 0 1 0 0.01 0M122.6 75.1a1.60 1.60 0 1 0 0.01 0M120.9 68.5a1.60 1.60 0 1 0 0.01 0M123.2 75.1a1.60 1.60 0 1 0 0.01 0M114.0 70.2a1.60 1.60 0 1 0 0.01 0M122.2 76.9a1.60 1.60 0 1 0 0.01 0M71.6 65.1a1.60 1.60 0 1 0 0.01 0M137.0 83.9a1.60 1.60 0 1 0 0.01 0M83.7 62.1a1.60 1.60 0 1 0 0.01 0M122.9 75.4a1.60 1.60 0 1 0 0.01 0M100.4 54.9a1.60 1.60 0 1 0 0.01 0M115.9 72.1a1.60 1.60 0 1 0 0.01 0M113.0 70.4a1.60 1.60 0 1 0 0.01 0M96.6 67.7a1.60 1.60 0 1 0 0.01 0M129.7 79.9a1.60 1.60 0 1 0 0.01 0M126.3 83.5a1.60 1.60 0 1 0 0.01 0M65.3 76.1a1.60 1.60 0 1 0 0.01 0M107.4 54.4a1.60 1.60 0 1 0 0.01 0M125.0 78.0a1.60 1.60 0 1 0 0.01 0M71.1 63.7a1.60 1.60 0 1 0 0.01 0M58.4 84.3a1.60 1.60 0 1 0 0.01 0M62.6 75.2a1.60 1.60 0 1 0 0.01 0M75.7 69.6a1.60 1.60 0 1 0 0.01 0M128.3 85.9a1.60 1.60 0 1 0 0.01 0M61.3 84.9a1.60 1.60 0 1 0 0.01 0M87.8 61.9a1.60 1.60 0 1 0 0.01 0M61.6 88.1a1.60 1.60 0 1 0 0.01 0M85.7 62.2a1.60 1.60 0 1 0 0.01 0M131.5 95.3a1.60 1.60 0 1 0 0.01 0M57.3 89.1a1.60 1.60 0 1 0 0.01 0M129.3 81.8a1.60 1.60 0 1 0 0.01 0M74.6 67.1a1.60 1.60 0 1 0 0.01 0M113.7 65.5a1.60 1.60 0 1 0 0.01 0M121.9 75.0a1.60 1.60 0 1 0 0.01 0M121.9 76.8a1.60 1.60 0 1 0 0.01 0M80.4 61.9a1.60 1.60 0 1 0 0.01 0M110.8 66.7a1.60 1.60 0 1 0 0.01 0M85.6 61.5a1.60 1.60 0 1 0 0.01 0M61.1 85.8a1.60 1.60 0 1 0 0.01 0M126.7 73.9a1.60 1.60 0 1 0 0.01 0M122.6 79.9a1.60 1.60 0 1 0 0.01 0M114.7 59.7a1.60 1.60 0 1 0 0.01 0M76.8 59.6a1.60 1.60 0 1 0 0.01 0M57.1 90.4a1.60 1.60 0 1 0 0.01 0M124.9 75.2a1.60 1.60 0 1 0 0.01 0M106.2 56.8a1.60 1.60 0 1 0 0.01 0M117.9 62.9a1.60 1.60 0 1 0 0.01 0M125.0 72.1a1.60 1.60 0 1 0 0.01 0M114.9 68.8a1.60 1.60 0 1 0 0.01 0M65.8 76.3a1.60 1.60 0 1 0 0.01 0M122.1 86.0a1.60 1.60 0 1 0 0.01 0M67.2 80.5a1.60 1.60 0 1 0 0.01 0M59.1 76.0a1.60 1.60 0 1 0 0.01 0M84.3 65.6a1.60 1.60 0 1 0 0.01 0M125.5 64.7a1.60 1.60 0 1 0 0.01 0M118.9 75.3a1.60 1.60 0 1 0 0.01 0M68.2 82.8a1.60 1.60 0 1 0 0.01 0M125.9 84.0a1.60 1.60 0 1 0 0.01 0M102.9 65.2a1.60 1.60 0 1 0 0.01 0M111.0 62.0a1.60 1.60 0 1 0 0.01 0M130.6 78.1a1.60 1.60 0 1 0 0.01 0M56.6 87.2a1.60 1.60 0 1 0 0.01 0M124.2 72.0a1.60 1.60 0 1 0 0.01 0M71.5 64.2a1.60 1.60 0 1 0 0.01 0M60.3 73.3a1.60 1.60 0 1 0 0.01 0M75.9 60.3a1.60 1.60 0 1 0 0.01 0M131.4 76.9a1.60 1.60 0 1 0 0.01 0M66.3 69.2a1.60 1.60 0 1 0 0.01 0M123.6 75.1a1.60 1.60 0 1 0 0.01 0M60.2 86.7a1.60 1.60 0 1 0 0.01 0M123.6 80.6a1.60 1.60 0 1 0 0.01 0M73.1 62.5a1.60 1.60 0 1 0 0.01 0M82.4 67.8a1.60 1.60 0 1 0 0.01 0M96.5 63.6a1.60 1.60 0 1 0 0.01 0M127.5 78.7a1.60 1.60 0 1 0 0.01 0M121.1 68.4a1.60 1.60 0 1 0 0.01 0M75.4 71.2a1.60 1.60 0 1 0 0.01 0M65.7 95.3a1.60 1.60 0 1 0 0.01 0M56.2 86.8a1.60 1.60 0 1 0 0.01 0M64.6 74.7a1.60 1.60 0 1 0 0.01 0M122.7 76.8a1.60 1.60 0 1 0 0.01 0M65.6 68.3a1.60 1.60 0 1 0 0.01 0M120.3 67.9a1.60 1.60 0 1 0 0.01 0M120.2 65.2a1.60 1.60 0 1 0 0.01 0M70.2 72.1a1.60 1.60 0 1 0 0.01 0M71.7 70.4a1.60 1.60 0 1 0 0.01 0M123.4 66.6a1.60 1.60 0 1 0 0.01 0M125.6 77.2a1.60 1.60 0 1 0 0.01 0M131.7 79.6a1.60 1.60 0 1 0 0.01 0M95.9 63.9a1.60 1.60 0 1 0 0.01 0M66.7 78.0a1.60 1.60 0 1 0 0.01 0M108.4 60.8a1.60 1.60 0 1 0 0.01 0M91.0 60.7a1.60 1.60 0 1 0 0.01 0M124.9 75.7a1.60 1.60 0 1 0 0.01 0M112.7 66.8a1.60 1.60 0 1 0 0.01 0M71.3 69.1a1.60 1.60 0 1 0 0.01 0M92.7 60.9a1.60 1.60 0 1 0 0.01 0M62.3 78.6a1.60 1.60 0 1 0 0.01 0M60.4 74.3a1.60 1.60 0 1 0 0.01 0M112.5 70.1a1.60 1.60 0 1 0 0.01 0M132.0 95.8a1.60 1.60 0 1 0 0.01 0M78.8 70.2a1.60 1.60 0 1 0 0.01 0M60.1 78.0a1.60 1.60 0 1 0 0.01 0M65.7 81.9a1.60 1.60 0 1 0 0.01 0M126.7 86.5a1.60 1.60 0 1 0 0.01 0M128.1 73.5a1.60 1.60 0 1 0 0.01 0" fill="#2ca02c" fill-opacity="0.100" stroke="#2ca02c" stroke-opacity="0.120" stroke-width="0.50"/><path d="M94.9 89.7a1.60 1.60 0 1 0 0.01 0M109.3 106.0a1.60 1.60 0 1 0 0.01 0M111.5 99.2a1.60 1.60 0 1 0 0.01 0M98.2 88.9a1.60 1.60 0 1 0 0.01 0M110.3 102.6a1.60 1.60 0 1 0 0.01 0M163.7 89.0a1.60 1.60 0 1 0 0.01 0M95.7 91.4a1.60 1.60 0 1 0 0.01 0M153.1 98.1a1.60 1.60 0 1 0 0.01 0M96.3 87.4a1.60 1.60 0 1 0 0.01 0M99.3 85.8a1.60 1.60 0 1 0 0.01 0M123.7 105.8a1.60 1.60 0 1 0 0.01 0M169.3 75.3a1.60 1.60 0 1 0 0.01 0M96.5 103.8a1.60 1.60 0 1 0 0.01 0M160.2 84.0a1.60 1.60 0 1 0 0.01 0M96.6 85.0a1.60 1.60 0 1 0 0.01 0M160.3 89.7a1.60 1.60 0 1 0 0.01 0M135.6 101.7a1.60 1.60 0 1 0 0.01 0M157.2 88.3a1.60 1.60 0 1 0 0.01 0M136.7 109.7a1.60 1.60 0 1 0 0.01 0M104.7 100.4a1.60 1.60 0 1 0 0.01 0M159.7 94.1a1.60 1.60 0 1 0 0.01 0M108.6 104.2a1.60 1.60 0 1 0 0.01 0M157.5 103.8a1.60 1.60 0 1 0 0.01 0M168.9 83.0a1.60 1.60 0 1 0 0.01 0M162.5 85.1a1.60 1.60 0 1 0 0.01 0M130.4 103.9a1.60 1.60 0 1 0 0.01 0M109.5 94.7a1.60 1.60 0 1 0 0.01 0M161.9 100.9a1.60 1.60 0 1 0 0.01 0M93.2 81.8a1.60 1.60 0 1 0 0.01 0M171.0 89.4a1.60 1.60 0 1 0 0.01 0M142.3 115.0a1.60 1.60 0 1 0 0.01 0M93.2 79.5a1.60 1.60 0 1 0 0.01 0M136.9 105.9a1.60 1.60 0 1 0 0.01 0M130.5 107.8a1.60 1.60 0 1 0 0.01 0M97.8 102.7a1.60 1.60 0 1 0 0.01 0M147.7 97.8a1.60 1.60 0 1 0 0.01 0M98.7 78.2a1.60 1.60 0 1 0 0.01 0M106.1 104.5a1.60 1.60 0 1 0 0.01 0M133.1 110.1a1.60 1.60 0 1 0 0.01 0M106.6 94.7a1.60 1.60 0 1 0 0.01 0M108.5 103.6a1.60 1.60 0 1 0 0.01 0M122.8 111.1a1.60 1.60 0 1 0 0.01 0M98.6 81.3a1.60 1.60 0 1 0 0.01 0M103.0 103.0a1.60 1.60 0 1 0 0.01 0M102.3 85.1a1.60 1.60 0 1 0 0.01 0M159.7 87.5a1.60 1.60 0 1 0 0.01 0M136.6 108.5a1.60 1.60 0 1 0 0.01 0M109.0 104.7a1.60 1.60 0 1 0 0.01 0M156.8 93.5a1.60 1.60 0 1 0 0.01 0M97.3 92.7a1.60 1.60 0 1 0 0.01 0M158.2 92.1a1.60 1.60 0 1 0 0.01 0M124.0 110.7a1.60 1.60 0 1 0 0.01 0M144.1 109.0a1.60 1.60 0 1 0 0.01 0M111.2 100.0a1.60 1.60 0 1 0 0.01 0M103.8 96.8a1.60 1.60 0 1 0 0.01 0M101.0 102.6a1.60 1.60 0 1 0 0.01 0M117.5 108.5a1.60 1.60 0 1 0 0.01 0M140.4 109.5a1.60 1.60 0 1 0 0.01 0M97.3 76.2a1.60 1.60 0 1 0 0.01 0M117.4 110.9a1.60 1.60 0 1 0 0.01 0M110.0 105.0a1.60 1.60 0 1 0 0.01 0M144.8 111.9a1.60 1.60 0 1 0 0.01 0M167.1 85.6a1.60 1.60 0 1 0 0.01 0M157.8 96.9a1.60 1.60 0 1 0 0.01 0M167.6 80.6a1.60 1.60 0 1 0 0.01 0M121.3 107.0a1.60 1.60 0 1 0 0.01 0M102.2 101.3a1.60 1.60 0 1 0 0.01 0M160.1 86.8a1.60 1.60 0 1 0 0.01 0M158.0 97.2a1.60 1.60 0 1 0 0.01 0M157.3 86.6a1.60 1.60 0 1 0 0.01 0M100.3 97.4a1.60 1.60 0 1 0 0.01 0M122.2 107.6a1.60 1.60 0 1 0 0.01 0M111.6 101.8a1.60 1.60 0 1 0 0.01 0M122.2 106.7a1.60 1.60 0 1 0 0.01 0M154.9 102.9a1.60 1.60 0 1 0 0.01 0M154.1 104.5a1.60 1.60 0 1 0 0.01 0M145.0 106.6a1.60 1.60 0 1 0 0.01 0M112.8 104.6a1.60 1.60 0 1 0 0.01 0M105.6 101.6a1.60 1.60 0 1 0 0.01 0M128.3 116.7a1.60 1.60 0 1 0 0.01 0M151.8 93.1a1.60 1.60 0 1 0 0.01 0M103.0 94.7a1.60 1.60 0 1 0 0.01 0M103.9 82.5a1.60 1.60 0 1 0 0.01 0M95.8 91.2a1.60 1.60 0 1 0 0.01 0M99.0 92.3a1.60 1.60 0 1 0 0.01 0M119.3 114.0a1.60 1.60 0 1 0 0.01 0M112.2 104.2a1.60 1.60 0 1 0 0.01 0M166.5 82.7a1.60 1.60 0 1 0 0.01 0M103.1 98.9a1.60 1.60 0 1 0 0.01 0M123.8 109.4a1.60 1.60 0 1 0 0.01 0M96.2 81.3a1.60 1.60 0 1 0 0.01 0M93.7 84.0a1.60 1.60 0 1 0 0.01 0M158.2 90.0a1.60 1.60 0 1 0 0.01 0M151.4 100.0a1.60 1.60 0 1 0 0.01 0M100.8 84.1a1.60 1.60 0 1 0 0.01 0M159.5 95.0a1.60 1.60 0 1 0 0.01 0M116.8 106.4a1.60 1.60 0 1 0 0.01 0M90.8 94.3a1.60 1.60 0 1 0 0.01 0M168.8 83.8a1.60 1.60 0 1 0 0.01 0M98.0 86.5a1.60 1.60 0 1 0 0.01 0M98.0 93.9a1.60 1.60 0 1 0 0.01 0M165.8 84.7a1.60 1.60 0 1 0 0.01 0M158.9 106.5a1.60 1.60 0 1 0 0.01 0M101.9 85.9a1.60 1.60 0 1 0 0.01 0M149.3 107.1a1.60 1.60 0 1 0 0.01 0M125.3 104.0a1.60 1.60 0 1 0 0.01 0M160.6 83.6a1.60 1.60 0 1 0 0.01 0M143.7 104.8a1.60 1.60 0 1 0 0.01 0M147.6 106.0a1.60 1.60 0 1 0 0.01 0M122.8 110.1a1.60 1.60 0 1 0 0.01 0M97.8 80.3a1.60 1.60 0 1 0 0.01 0M122.8 105.0a1.60 1.60 0 1 0 0.01 0M104.0 103.0a1.60 1.60 0 1 0 0.01 0M137.6 109.4a1.60 1.60 0 1 0 0.01 0M129.8 106.1a1.60 1.60 0 1 0 0.01 0M162.9 86.3a1.60 1.60 0 1 0 0.01 0M97.8 94.6a1.60 1.60 0 1 0 0.01 0M97.3 85.6a1.60 1.60 0 1 0 0.01 0M127.3 106.7a1.60 1.60 0 1 0 0.01 0M90.1 87.4a1.60 1.60 0 1 0 0.01 0M154.8 101.4a1.60 1.60 0 1 0 0.01 0M104.6 96.2a1.60 1.60 0 1 0 0.01 0M106.2 104.5a1.60 1.60 0 1 0 0.01 0M141.3 106.7a1.60 1.60 0 1 0 0.01 0M158.1 96.5a1.60 1.60 0 1 0 0.01 0M146.8 98.5a1.60 1.60 0 1 0 0.01 0M134.3 106.8a1.60 1.60 0 1 0 0.01 0M127.0 110.4a1.60 1.60 0 1 0 0.01 0M164.5 81.3a1.60 1.60 0 1 0 0.01 0M145.7 102.5a1.60 1.60 0 1 0 0.01 0M167.8 89.5a1.60 1.60 0 1 0 0.01 0M102.5 87.7a1.60 1.60 0 1 0 0.01 0M160.3 101.6a1.60 1.60 0 1 0 0.01 0M148.0 102.9a1.60 1.60 0 1 0 0.01 0M93.5 90.7a1.60 1.60 0 1 0 0.01 0M170.1 79.8a1.60 1.60 0 1 0 0.01 0M169.9 73.8a1.60 1.60 0 1 0 0.01 0M106.9 96.5a1.60 1.60 0 1 0 0.01 0M98.5 89.1a1.60 1.60 0 1 0 0.01 0M102.1 88.3a1.60 1.60 0 1 0 0.01 0M134.3 108.1a1.60 1.60 0 1 0 0.01 0M157.8 90.6a1.60 1.60 0 1 0 0.01 0M144.9 105.8a1.60 1.60 0 1 0 0.01 0M98.2 85.4a1.60 1.60 0 1 0 0.01 0M164.0 81.3a1.60 1.60 0 1 0 0.01 0M111.9 103.7a1.60 1.60 0 1 0 0.01 0M133.9 104.8a1.60 1.60 0 1 0 0.01 0M118.1 106.2a1.60 1.60 0 1 0 0.01 0M127.7 104.4a1.60 1.60 0 1 0 0.01 0M142.0 102.8a1.60 1.60 0 1 0 0.01 0M145.8 105.9a1.60 1.60 0 1 0 0.01 0M163.4 95.2a1.60 1.60 0 1 0 0.01 0M169.8 78.5a1.60 1.60 0 1 0 0.01 0M158.4 93.1a1.60 1.60 0 1 0 0.01 0M165.0 90.4a1.60 1.60 0 1 0 0.01 0M111.7 109.3a1.60 1.60 0 1 0 0.01 0M108.5 99.9a1.60 1.60 0 1 0 0.01 0M167.7 87.7a1.60 1.60 0 1 0 0.01 0M170.0 83.1a1.60 1.60 0 1 0 0.01 0M116.5 104.7a1.60 1.60 0 1 0 0.01 0M104.5 99.4a1.60 1.60 0 1 0 0.01 0M108.1 103.1a1.60 1.60 0 1 0 0.01 0M155.0 102.4a1.60 1.60 0 1 0 0.01 0M148.5 101.2a1.60 1.60 0 1 0 0.01 0M153.6 102.8a1.60 1.60 0 1 0 0.01 0M126.3 107.6a1.60 1.60 0 1 0 0.01 0M147.3 108.0a1.60 1.60 0 1 0 0.01 0M171.0 88.9a1.60 1.60 0 1 0 0.01 0M98.0 95.5a1.60 1.60 0 1 0 0.01 0M98.8 78.7a1.60 1.60 0 1 0 0.01 0M158.1 84.2a1.60 1.60 0 1 0 0.01 0M114.0 105.8a1.60 1.60 0 1 0 0.01 0M169.9 76.5a1.60 1.60 0 1 0 0.01 0M154.4 99.5a1.60 1.60 0 1 0 0.01 0M122.1 106.5a1.60 1.60 0 1 0 0.01 0M102.3 79.4a1.60 1.60 0 1 0 0.01 0M157.8 91.7a1.60 1.60 0 1 0 0.01 0M115.7 108.1a1.60 1.60 0 1 0 0.01 0M136.9 109.4a1.60 1.60 0 1 0 0.01 0M169.5 73.8a1.60 1.60 0 1 0 0.01 0M145.3 104.2a1.60 1.60 0 1 0 0.01 0M128.3 106.6a1.60 1.60 0 1 0 0.01 0M108.5 103.1a1.60 1.60 0 1 0 0.01 0M145.0 108.6a1.60 1.60 0 1 0 0.01 0M165.4 78.1a1.60 1.60 0 1 0 0.01 0M139.7 107.3a1.60 1.60 0 1 0 0.01 0M170.2 88.7a1.60 1.60 0 1 0 0.01 0M166.1 87.9a1.60 1.60 0 1 0 0.01 0M166.7 74.5a1.60 1.60 0 1 0 0.01 0M106.9 101.0a1.60 1.60 0 1 0 0.01 0M98.9 94.5a1.60 1.60 0 1 0 0.01 0M105.4 107.9a1.60 1.60 0 1 0 0.01 0M98.4 77.8a1.60 1.60 0 1 0 0.01 0M106.0 97.7a1.60 1.60 0 1 0 0.01 0M137.5 105.7a1.60 1.60 0 1 0 0.01 0M154.9 106.5a1.60 1.60 0 1 0 0.01 0M139.2 107.1a1.60 1.60 0 1 0 0.01 0M163.0 95.9a1.60 1.60 0 1 0 0.01 0M147.5 100.9a1.60 1.60 0 1 0 0.01 0M166.4 87.6a1.60 1.60 0 1 0 0.01 0M94.0 76.3a1.60 1.60 0 1 0 0.01 0M97.1 91.2a1.60 1.60 0 1 0 0.01 0M99.4 92.3a1.60 1.60 0 1 0 0.01 0M160.5 90.5a1.60 1.60 0 1 0 0.01 0M109.1 104.7a1.60 1.60 0 1 0 0.01 0M99.0 98.1a1.60 1.60 0 1 0 0.01 0M101.0 84.5a1.60 1.60 0 1 0 0.01 0M126.0 108.0a1.60 1.60 0 1 0 0.01 0M96.4 87.9a1.60 1.60 0 1 0 0.01 0M146.8 109.8a1.60 1.60 0 1 0 0.01 0M105.0 100.3a1.60 1.60 0 1 0 0.01 0M145.9 107.6a1.60 1.60 0 1 0 0.01 0M162.0 97.8a1.60 1.60 0 1 0 0.01 0M137.8 109.2a1.60 1.60 0 1 0 0.01 0M87.0 75.7a1.60 1.60 0 1 0 0.01 0M99.2 96.2a1.60 1.60 0 1 0 0.01 0M106.0 100.6a1.60 1.60 0 1 0 0.01 0M160.8 94.8a1.60 1.60 0 1 0 0.01 0M106.5 98.4a1.60 1.60 0 1 0 0.01 0M160.6 73.6a1.60 1.60 0 1 0 0.01 0M130.2 112.5a1.60 1.60 0 1 0 0.01 0M160.0 89.6a1.60 1.60 0 1 0 0.01 0M125.7 111.4a1.60 1.60 0 1 0 0.01 0M166.8 70.6a1.60 1.60 0 1 0 0.01 0M141.5 104.4a1.60 1.60 0 1 0 0.01 0M107.8 103.0a1.60 1.60 0 1 0 0.01 0M170.6 91.6a1.60 1.60 0 1 0 0.01 0M154.1 99.7a1.60 1.60 0 1 0 0.01 0M156.0 102.5a1.60 1.60 0 1 0 0.01 0M108.3 100.2a1.60 1.60 0 1 0 0.01 0M99.4 95.7a1.60 1.60 0 1 0 0.01 0M114.5 107.0a1.60 1.60 0 1 0 0.01 0M139.1 112.3a1.60 1.60 0 1 0 0.01 0M99.3 85.5a1.60 1.60 0 1 0 0.01 0M150.1 102.1a1.60 1.60 0 1 0 0.01 0M121.3 112.3a1.60 1.60 0 1 0 0.01 0M157.2 94.7a1.60 1.60 0 1 0 0.01 0M150.0 99.8a1.60 1.60 0 1 0 0.01 0M167.2 75.2a1.60 1.60 0 1 0 0.01 0M115.7 105.5a1.60 1.60 0 1 0 0.01 0M93.5 82.2a1.60 1.60 0 1 0 0.01 0M160.1 92.2a1.60 1.60 0 1 0 0.01 0M99.0 92.3a1.60 1.60 0 1 0 0.01 0M126.7 106.8a1.60 1.60 0 1 0 0.01 0M127.4 114.6a1.60 1.60 0 1 0 0.01 0M104.5 98.5a1.60 1.60 0 1 0 0.01 0M166.5 77.1a1.60 1.60 0 1 0 0.01 0M162.8 86.8a1.60 1.60 0 1 0 0.01 0M149.3 104.0a1.60 1.60 0 1 0 0.01 0M145.9 103.3a1.60 1.60 0 1 0 0.01 0" fill="#ff7f0e" fill-opacity="0.090" stroke="#ff7f0e" stroke-opacity="0.100" stroke-width="0.50"/><path d="M62.9 84.2L69.4 90.7M62.9 90.7L69.4 84.2" stroke="#1f5a1f" stroke-width="1.00" fill="none"/><path d="M66.7 92.3L70.0 95.6M66.7 95.6L70.0 92.3" stroke="#1f5a1f" stroke-width="1.00" fill="none"/><path d="M75.4 63.5L80.8 68.9M75.4 68.9L80.8 63.5" stroke="#1f5a1f" stroke-width="1.00" fill="none"/><path d="M80.9 62.9L85.3 67.3M80.9 67.3L85.3 62.9" stroke="#1f5a1f" stroke-width="1.00" fill="none"/><path d="M73.2 76.5L76.5 79.8M73.2 79.8L76.5 76.5" stroke="#1f5a1f" stroke-width="1.00" fill="none"/><path d="M84.0 72.7L86.6 75.3M84.0 75.3L86.6 72.7" stroke="#1f5a1f" stroke-width="1.00" fill="none"/><path d="M112.3 65.2L117.7 70.6M112.3 70.6L117.7 65.2" stroke="#1f5a1f" stroke-width="1.00" fill="none"/><path d="M118.3 75.5L122.6 79.9M118.3 79.9L122.6 75.5" stroke="#1f5a1f" stroke-width="1.00" fill="none"/><path d="M128.7 79.9L133.0 84.2M128.7 84.2L133.0 79.9" stroke="#1f5a1f" stroke-width="1.00" fill="none"/><path d="M121.0 90.2L124.2 93.4M121.0 93.4L124.2 90.2" stroke="#1f5a1f" stroke-width="1.00" fill="none"/><path d="M130.3 91.7L133.6 94.9M130.3 94.9L133.6 91.7" stroke="#1f5a1f" stroke-width="1.00" fill="none"/><path d="M89.5 83.7L105.8 99.9M89.5 99.9L105.8 83.7" stroke="#7a4419" stroke-width="1.00" fill="none"/><path d="M94.4 82.0L103.1 90.7M94.4 90.7L103.1 82.0" stroke="#7a4419" stroke-width="1.00" fill="none"/><path d="M150.8 84.2L163.8 97.2M150.8 97.2L163.8 84.2" stroke="#7a4419" stroke-width="1.00" fill="none"/><path d="M149.7 87.5L160.6 98.3M149.7 98.3L160.6 87.5" stroke="#7a4419" stroke-width="1.00" fill="none"/><path d="M147.6 103.7L156.2 112.4M147.6 112.4L156.2 103.7" stroke="#7a4419" stroke-width="1.00" fill="none"/><path d="M128.7 108.5L137.4 117.2M128.7 117.2L137.4 108.5" stroke="#7a4419" stroke-width="1.00" fill="none"/></g><rect x="0.65" y="0.65" width="224.80" height="157.70" fill="none" stroke="#111" stroke-width="1.30"/></svg>
<svg style="left:799.80px;top:1768.20px" width="220.70" height="159.00" viewBox="0 0 220.70 159.00"><defs><clipPath id="c220"><rect width="220.70" height="159.00"/></clipPath><filter id="f221" filterUnits="userSpaceOnUse" x="-60" y="-60" width="341" height="279"><feGaussianBlur stdDeviation="4.00"/></filter><filter id="f222" filterUnits="userSpaceOnUse" x="-60" y="-60" width="341" height="279"><feGaussianBlur stdDeviation="5.00"/></filter><filter id="f223" filterUnits="userSpaceOnUse" x="-60" y="-60" width="341" height="279"><feGaussianBlur stdDeviation="2.50"/></filter><filter id="f224" filterUnits="userSpaceOnUse" x="-60" y="-60" width="341" height="279"><feGaussianBlur stdDeviation="0.90"/></filter></defs><g clip-path="url(#c220)"><rect width="220.70" height="159.00" fill="#ffffff"/><polygon points="11.9,155.8 64.0,49.5 220.7,0.0 220.7,38.6 150.8,155.8" fill="#e6f0fa" fill-opacity="0.700" filter="url(#f221)"/><path d="M 45.6,159.1 C 45.8,158.5 42.9,163.2 46.7,155.8 C 50.5,148.4 62.6,126.5 68.4,114.6 C 74.1,102.6 77.4,91.2 81.4,84.2 C 85.4,77.2 88.6,73.9 92.2,72.5 C 95.8,71.0 97.7,71.8 103.1,75.5 C 108.5,79.3 119.0,92.5 124.8,95.1 C 130.6,97.6 131.7,96.9 137.8,90.7 C 144.0,84.6 150.5,73.3 161.7,58.2 C 172.9,43.0 196.4,11.6 205.1,0.0 C 213.8,-11.6 212.3,-9.4 213.8,-11.3" fill="none" stroke="#cfe1f3" stroke-width="22.00" stroke-opacity="0.800" stroke-linecap="round" stroke-linejoin="round" filter="url(#f222)"/><path d="M 45.6,159.1 C 45.8,158.5 42.9,163.2 46.7,155.8 C 50.5,148.4 62.6,126.5 68.4,114.6 C 74.1,102.6 77.4,91.2 81.4,84.2 C 85.4,77.2 88.6,73.9 92.2,72.5 C 95.8,71.0 97.7,71.8 103.1,75.5 C 108.5,79.3 119.0,92.5 124.8,95.1 C 130.6,97.6 131.7,96.9 137.8,90.7 C 144.0,84.6 150.5,73.3 161.7,58.2 C 172.9,43.0 196.4,11.6 205.1,0.0 C 213.8,-11.6 212.3,-9.4 213.8,-11.3" fill="none" stroke="#6aa5d3" stroke-width="10.00" stroke-opacity="0.800" stroke-linecap="round" stroke-linejoin="round" filter="url(#f223)"/><path d="M 45.6,159.1 C 45.8,158.5 42.9,163.2 46.7,155.8 C 50.5,148.4 62.6,126.5 68.4,114.6 C 74.1,102.6 77.4,91.2 81.4,84.2 C 85.4,77.2 88.6,73.9 92.2,72.5 C 95.8,71.0 97.7,71.8 103.1,75.5 C 108.5,79.3 119.0,92.5 124.8,95.1 C 130.6,97.6 131.7,96.9 137.8,90.7 C 144.0,84.6 150.5,73.3 161.7,58.2 C 172.9,43.0 196.4,11.6 205.1,0.0 C 213.8,-11.6 212.3,-9.4 213.8,-11.3" fill="none" stroke="#163a74" stroke-width="5.00" stroke-opacity="1.000" stroke-linecap="round" stroke-linejoin="round" filter="url(#f224)"/><path d="M84.0 63.0a1.60 1.60 0 1 0 0.01 0M65.7 66.5a1.60 1.60 0 1 0 0.01 0M61.0 82.2a1.60 1.60 0 1 0 0.01 0M122.6 84.8a1.60 1.60 0 1 0 0.01 0M112.1 67.1a1.60 1.60 0 1 0 0.01 0M55.8 86.7a1.60 1.60 0 1 0 0.01 0M89.0 60.0a1.60 1.60 0 1 0 0.01 0M115.5 67.2a1.60 1.60 0 1 0 0.01 0M84.8 59.3a1.60 1.60 0 1 0 0.01 0M118.4 72.5a1.60 1.60 0 1 0 0.01 0M62.1 77.0a1.60 1.60 0 1 0 0.01 0M107.9 66.0a1.60 1.60 0 1 0 0.01 0M91.4 62.6a1.60 1.60 0 1 0 0.01 0M126.4 89.2a1.60 1.60 0 1 0 0.01 0M70.1 64.2a1.60 1.60 0 1 0 0.01 0M115.8 75.3a1.60 1.60 0 1 0 0.01 0M53.1 88.1a1.60 1.60 0 1 0 0.01 0M103.7 71.0a1.60 1.60 0 1 0 0.01 0M65.2 70.4a1.60 1.60 0 1 0 0.01 0M61.3 74.5a1.60 1.60 0 1 0 0.01 0M57.2 81.4a1.60 1.60 0 1 0 0.01 0M132.0 78.4a1.60 1.60 0 1 0 0.01 0M111.4 68.5a1.60 1.60 0 1 0 0.01 0M94.1 65.5a1.60 1.60 0 1 0 0.01 0M67.2 63.6a1.60 1.60 0 1 0 0.01 0M107.8 71.1a1.60 1.60 0 1 0 0.01 0M65.7 67.2a1.60 1.60 0 1 0 0.01 0M74.3 65.8a1.60 1.60 0 1 0 0.01 0M123.5 75.8a1.60 1.60 0 1 0 0.01 0M113.3 64.9a1.60 1.60 0 1 0 0.01 0M62.9 75.9a1.60 1.60 0 1 0 0.01 0M125.5 93.0a1.60 1.60 0 1 0 0.01 0M62.6 70.5a1.60 1.60 0 1 0 0.01 0M120.1 89.4a1.60 1.60 0 1 0 0.01 0M70.5 71.2a1.60 1.60 0 1 0 0.01 0M64.9 65.4a1.60 1.60 0 1 0 0.01 0M96.0 65.6a1.60 1.60 0 1 0 0.01 0M54.9 96.4a1.60 1.60 0 1 0 0.01 0M96.2 58.5a1.60 1.60 0 1 0 0.01 0M122.0 76.0a1.60 1.60 0 1 0 0.01 0M104.2 63.1a1.60 1.60 0 1 0 0.01 0M67.6 67.1a1.60 1.60 0 1 0 0.01 0M111.5 69.4a1.60 1.60 0 1 0 0.01 0M129.5 90.0a1.60 1.60 0 1 0 0.01 0M112.9 66.1a1.60 1.60 0 1 0 0.01 0M53.8 93.6a1.60 1.60 0 1 0 0.01 0M117.0 65.6a1.60 1.60 0 1 0 0.01 0M99.1 64.8a1.60 1.60 0 1 0 0.01 0M64.1 71.6a1.60 1.60 0 1 0 0.01 0M53.8 84.3a1.60 1.60 0 1 0 0.01 0M124.5 77.6a1.60 1.60 0 1 0 0.01 0M111.5 74.3a1.60 1.60 0 1 0 0.01 0M118.4 82.5a1.60 1.60 0 1 0 0.01 0M120.2 71.6a1.60 1.60 0 1 0 0.01 0M61.7 96.0a1.60 1.60 0 1 0 0.01 0M110.3 76.9a1.60 1.60 0 1 0 0.01 0M129.3 86.7a1.60 1.60 0 1 0 0.01 0M90.3 56.2a1.60 1.60 0 1 0 0.01 0M91.2 59.4a1.60 1.60 0 1 0 0.01 0M61.9 66.2a1.60 1.60 0 1 0 0.01 0M71.2 65.2a1.60 1.60 0 1 0 0.01 0M74.6 64.0a1.60 1.60 0 1 0 0.01 0M125.5 74.9a1.60 1.60 0 1 0 0.01 0M90.6 56.6a1.60 1.60 0 1 0 0.01 0M117.7 80.9a1.60 1.60 0 1 0 0.01 0M128.0 72.9a1.60 1.60 0 1 0 0.01 0M100.0 61.5a1.60 1.60 0 1 0 0.01 0M101.9 61.7a1.60 1.60 0 1 0 0.01 0M63.6 65.6a1.60 1.60 0 1 0 0.01 0M125.5 85.6a1.60 1.60 0 1 0 0.01 0M115.6 65.5a1.60 1.60 0 1 0 0.01 0M119.9 80.9a1.60 1.60 0 1 0 0.01 0M88.1 62.7a1.60 1.60 0 1 0 0.01 0M81.7 59.4a1.60 1.60 0 1 0 0.01 0M74.7 64.3a1.60 1.60 0 1 0 0.01 0M113.9 71.5a1.60 1.60 0 1 0 0.01 0M99.0 59.1a1.60 1.60 0 1 0 0.01 0M98.5 58.7a1.60 1.60 0 1 0 0.01 0M124.3 82.1a1.60 1.60 0 1 0 0.01 0M89.6 65.2a1.60 1.60 0 1 0 0.01 0M119.6 69.6a1.60 1.60 0 1 0 0.01 0M127.8 88.8a1.60 1.60 0 1 0 0.01 0M51.8 90.9a1.60 1.60 0 1 0 0.01 0M128.7 88.8a1.60 1.60 0 1 0 0.01 0M64.7 71.7a1.60 1.60 0 1 0 0.01 0M92.9 56.4a1.60 1.60 0 1 0 0.01 0M120.9 85.9a1.60 1.60 0 1 0 0.01 0M77.8 57.3a1.60 1.60 0 1 0 0.01 0M102.6 58.8a1.60 1.60 0 1 0 0.01 0M81.3 58.9a1.60 1.60 0 1 0 0.01 0M63.3 89.9a1.60 1.60 0 1 0 0.01 0M52.5 88.2a1.60 1.60 0 1 0 0.01 0M71.3 61.2a1.60 1.60 0 1 0 0.01 0M104.1 64.4a1.60 1.60 0 1 0 0.01 0M91.4 62.8a1.60 1.60 0 1 0 0.01 0M64.6 70.9a1.60 1.60 0 1 0 0.01 0M81.3 60.0a1.60 1.60 0 1 0 0.01 0M124.2 78.6a1.60 1.60 0 1 0 0.01 0M79.5 63.7a1.60 1.60 0 1 0 0.01 0M57.0 86.7a1.60 1.60 0 1 0 0.01 0M118.3 72.1a1.60 1.60 0 1 0 0.01 0M104.4 60.6a1.60 1.60 0 1 0 0.01 0M121.8 83.7a1.60 1.60 0 1 0 0.01 0M62.9 76.1a1.60 1.60 0 1 0 0.01 0M107.8 59.1a1.60 1.60 0 1 0 0.01 0M128.4 70.8a1.60 1.60 0 1 0 0.01 0M125.4 77.1a1.60 1.60 0 1 0 0.01 0M103.8 63.3a1.60 1.60 0 1 0 0.01 0M133.7 95.4a1.60 1.60 0 1 0 0.01 0M67.3 69.6a1.60 1.60 0 1 0 0.01 0M64.6 82.7a1.60 1.60 0 1 0 0.01 0M61.6 83.6a1.60 1.60 0 1 0 0.01 0M106.4 71.6a1.60 1.60 0 1 0 0.01 0M95.6 55.5a1.60 1.60 0 1 0 0.01 0M63.3 70.3a1.60 1.60 0 1 0 0.01 0M72.7 61.1a1.60 1.60 0 1 0 0.01 0M114.0 70.8a1.60 1.60 0 1 0 0.01 0M99.5 65.7a1.60 1.60 0 1 0 0.01 0M57.8 80.8a1.60 1.60 0 1 0 0.01 0M65.0 69.0a1.60 1.60 0 1 0 0.01 0M119.2 83.9a1.60 1.60 0 1 0 0.01 0M118.0 69.8a1.60 1.60 0 1 0 0.01 0M49.5 77.4a1.60 1.60 0 1 0 0.01 0M99.7 61.5a1.60 1.60 0 1 0 0.01 0M120.1 76.1a1.60 1.60 0 1 0 0.01 0M108.7 62.8a1.60 1.60 0 1 0 0.01 0M98.6 58.8a1.60 1.60 0 1 0 0.01 0M65.4 72.8a1.60 1.60 0 1 0 0.01 0M122.0 81.0a1.60 1.60 0 1 0 0.01 0M60.2 70.5a1.60 1.60 0 1 0 0.01 0M103.1 58.4a1.60 1.60 0 1 0 0.01 0M86.4 65.1a1.60 1.60 0 1 0 0.01 0M119.4 80.9a1.60 1.60 0 1 0 0.01 0M112.6 64.6a1.60 1.60 0 1 0 0.01 0M54.3 88.2a1.60 1.60 0 1 0 0.01 0M96.3 64.4a1.60 1.60 0 1 0 0.01 0M121.9 74.8a1.60 1.60 0 1 0 0.01 0M83.0 54.3a1.60 1.60 0 1 0 0.01 0M79.9 62.4a1.60 1.60 0 1 0 0.01 0M60.0 75.3a1.60 1.60 0 1 0 0.01 0M89.6 59.1a1.60 1.60 0 1 0 0.01 0M51.7 83.2a1.60 1.60 0 1 0 0.01 0M114.3 73.8a1.60 1.60 0 1 0 0.01 0M93.8 52.4a1.60 1.60 0 1 0 0.01 0M102.7 60.2a1.60 1.60 0 1 0 0.01 0M115.2 69.6a1.60 1.60 0 1 0 0.01 0M76.9 65.3a1.60 1.60 0 1 0 0.01 0M126.0 82.2a1.60 1.60 0 1 0 0.01 0M88.9 59.2a1.60 1.60 0 1 0 0.01 0M93.5 66.2a1.60 1.60 0 1 0 0.01 0M68.1 72.4a1.60 1.60 0 1 0 0.01 0M114.3 65.4a1.60 1.60 0 1 0 0.01 0M118.4 71.7a1.60 1.60 0 1 0 0.01 0M117.0 78.1a1.60 1.60 0 1 0 0.01 0M57.7 93.7a1.60 1.60 0 1 0 0.01 0M100.9 57.7a1.60 1.60 0 1 0 0.01 0M48.2 94.6a1.60 1.60 0 1 0 0.01 0M57.4 84.4a1.60 1.60 0 1 0 0.01 0M93.2 65.1a1.60 1.60 0 1 0 0.01 0M98.0 63.6a1.60 1.60 0 1 0 0.01 0M67.8 66.6a1.60 1.60 0 1 0 0.01 0M51.6 87.6a1.60 1.60 0 1 0 0.01 0M56.9 71.4a1.60 1.60 0 1 0 0.01 0M92.8 64.7a1.60 1.60 0 1 0 0.01 0M86.3 58.5a1.60 1.60 0 1 0 0.01 0M119.2 68.8a1.60 1.60 0 1 0 0.01 0M72.7 64.2a1.60 1.60 0 1 0 0.01 0M125.0 90.0a1.60 1.60 0 1 0 0.01 0M83.3 60.0a1.60 1.60 0 1 0 0.01 0M125.4 80.6a1.60 1.60 0 1 0 0.01 0M87.4 62.5a1.60 1.60 0 1 0 0.01 0M74.8 60.2a1.60 1.60 0 1 0 0.01 0M56.1 65.9a1.60 1.60 0 1 0 0.01 0M91.1 58.8a1.60 1.60 0 1 0 0.01 0M71.9 64.1a1.60 1.60 0 1 0 0.01 0M81.3 63.7a1.60 1.60 0 1 0 0.01 0M114.5 71.7a1.60 1.60 0 1 0 0.01 0M106.2 67.0a1.60 1.60 0 1 0 0.01 0M93.8 62.4a1.60 1.60 0 1 0 0.01 0M104.0 65.9a1.60 1.60 0 1 0 0.01 0M82.6 57.2a1.60 1.60 0 1 0 0.01 0M106.1 61.9a1.60 1.60 0 1 0 0.01 0M57.2 89.5a1.60 1.60 0 1 0 0.01 0M81.3 68.1a1.60 1.60 0 1 0 0.01 0M93.8 54.2a1.60 1.60 0 1 0 0.01 0M51.7 90.7a1.60 1.60 0 1 0 0.01 0M115.7 67.3a1.60 1.60 0 1 0 0.01 0M93.0 54.9a1.60 1.60 0 1 0 0.01 0M98.7 65.7a1.60 1.60 0 1 0 0.01 0M64.4 74.2a1.60 1.60 0 1 0 0.01 0M80.0 62.8a1.60 1.60 0 1 0 0.01 0M75.4 64.6a1.60 1.60 0 1 0 0.01 0M106.5 61.3a1.60 1.60 0 1 0 0.01 0M119.4 82.5a1.60 1.60 0 1 0 0.01 0M119.3 79.6a1.60 1.60 0 1 0 0.01 0M112.2 67.9a1.60 1.60 0 1 0 0.01 0M95.2 63.2a1.60 1.60 0 1 0 0.01 0M123.7 90.3a1.60 1.60 0 1 0 0.01 0M58.8 75.8a1.60 1.60 0 1 0 0.01 0M127.4 84.8a1.60 1.60 0 1 0 0.01 0M129.3 87.8a1.60 1.60 0 1 0 0.01 0M114.2 76.7a1.60 1.60 0 1 0 0.01 0M111.1 71.5a1.60 1.60 0 1 0 0.01 0M119.6 69.5a1.60 1.60 0 1 0 0.01 0M126.6 90.9a1.60 1.60 0 1 0 0.01 0M99.8 59.9a1.60 1.60 0 1 0 0.01 0M68.3 65.2a1.60 1.60 0 1 0 0.01 0M118.4 78.2a1.60 1.60 0 1 0 0.01 0M72.0 67.4a1.60 1.60 0 1 0 0.01 0M124.2 80.8a1.60 1.60 0 1 0 0.01 0M52.4 79.8a1.60 1.60 0 1 0 0.01 0M99.6 61.0a1.60 1.60 0 1 0 0.01 0M86.3 60.7a1.60 1.60 0 1 0 0.01 0M98.1 56.1a1.60 1.60 0 1 0 0.01 0M61.8 70.9a1.60 1.60 0 1 0 0.01 0M108.7 65.5a1.60 1.60 0 1 0 0.01 0M111.0 68.1a1.60 1.60 0 1 0 0.01 0M121.3 81.8a1.60 1.60 0 1 0 0.01 0M62.7 73.1a1.60 1.60 0 1 0 0.01 0M130.9 87.0a1.60 1.60 0 1 0 0.01 0M123.4 78.0a1.60 1.60 0 1 0 0.01 0M67.5 62.1a1.60 1.60 0 1 0 0.01 0M56.6 88.5a1.60 1.60 0 1 0 0.01 0M126.7 87.0a1.60 1.60 0 1 0 0.01 0M121.7 64.9a1.60 1.60 0 1 0 0.01 0M123.1 83.3a1.60 1.60 0 1 0 0.01 0M102.0 58.8a1.60 1.60 0 1 0 0.01 0M82.0 55.9a1.60 1.60 0 1 0 0.01 0M58.2 77.3a1.60 1.60 0 1 0 0.01 0M94.4 66.7a1.60 1.60 0 1 0 0.01 0M69.3 73.1a1.60 1.60 0 1 0 0.01 0M98.1 56.5a1.60 1.60 0 1 0 0.01 0M89.3 58.5a1.60 1.60 0 1 0 0.01 0M99.2 55.7a1.60 1.60 0 1 0 0.01 0M121.0 71.3a1.60 1.60 0 1 0 0.01 0M117.1 67.9a1.60 1.60 0 1 0 0.01 0M50.7 96.7a1.60 1.60 0 1 0 0.01 0M128.1 81.8a1.60 1.60 0 1 0 0.01 0M80.7 65.3a1.60 1.60 0 1 0 0.01 0M116.7 81.2a1.60 1.60 0 1 0 0.01 0M94.5 55.0a1.60 1.60 0 1 0 0.01 0M111.7 69.6a1.60 1.60 0 1 0 0.01 0M130.4 89.4a1.60 1.60 0 1 0 0.01 0M89.0 61.7a1.60 1.60 0 1 0 0.01 0M94.5 62.3a1.60 1.60 0 1 0 0.01 0M69.6 61.2a1.60 1.60 0 1 0 0.01 0M118.2 70.7a1.60 1.60 0 1 0 0.01 0M57.0 87.5a1.60 1.60 0 1 0 0.01 0M101.8 62.9a1.60 1.60 0 1 0 0.01 0M75.1 63.6a1.60 1.60 0 1 0 0.01 0" fill="#2ca02c" fill-opacity="0.100" stroke="#2ca02c" stroke-opacity="0.120" stroke-width="0.50"/><path d="M144.3 100.6a1.60 1.60 0 1 0 0.01 0M157.4 78.9a1.60 1.60 0 1 0 0.01 0M139.2 102.6a1.60 1.60 0 1 0 0.01 0M103.1 91.2a1.60 1.60 0 1 0 0.01 0M143.5 105.9a1.60 1.60 0 1 0 0.01 0M159.5 100.1a1.60 1.60 0 1 0 0.01 0M156.2 93.5a1.60 1.60 0 1 0 0.01 0M120.4 110.5a1.60 1.60 0 1 0 0.01 0M144.7 103.4a1.60 1.60 0 1 0 0.01 0M158.2 82.5a1.60 1.60 0 1 0 0.01 0M125.3 105.9a1.60 1.60 0 1 0 0.01 0M122.9 111.8a1.60 1.60 0 1 0 0.01 0M158.4 71.4a1.60 1.60 0 1 0 0.01 0M162.8 84.5a1.60 1.60 0 1 0 0.01 0M154.6 81.3a1.60 1.60 0 1 0 0.01 0M158.3 79.8a1.60 1.60 0 1 0 0.01 0M97.6 99.2a1.60 1.60 0 1 0 0.01 0M139.7 111.5a1.60 1.60 0 1 0 0.01 0M124.2 110.2a1.60 1.60 0 1 0 0.01 0M128.1 115.3a1.60 1.60 0 1 0 0.01 0M106.0 108.4a1.60 1.60 0 1 0 0.01 0M121.3 104.3a1.60 1.60 0 1 0 0.01 0M127.0 118.8a1.60 1.60 0 1 0 0.01 0M91.6 82.9a1.60 1.60 0 1 0 0.01 0M105.4 110.2a1.60 1.60 0 1 0 0.01 0M106.2 105.1a1.60 1.60 0 1 0 0.01 0M109.8 106.8a1.60 1.60 0 1 0 0.01 0M152.1 90.4a1.60 1.60 0 1 0 0.01 0M128.4 108.1a1.60 1.60 0 1 0 0.01 0M95.3 93.5a1.60 1.60 0 1 0 0.01 0M105.1 99.4a1.60 1.60 0 1 0 0.01 0M163.7 88.4a1.60 1.60 0 1 0 0.01 0M92.2 93.5a1.60 1.60 0 1 0 0.01 0M117.5 106.7a1.60 1.60 0 1 0 0.01 0M122.4 109.4a1.60 1.60 0 1 0 0.01 0M135.3 108.8a1.60 1.60 0 1 0 0.01 0M162.9 77.9a1.60 1.60 0 1 0 0.01 0M112.9 110.5a1.60 1.60 0 1 0 0.01 0M108.9 108.6a1.60 1.60 0 1 0 0.01 0M160.1 86.8a1.60 1.60 0 1 0 0.01 0M160.9 80.1a1.60 1.60 0 1 0 0.01 0M89.9 81.7a1.60 1.60 0 1 0 0.01 0M164.7 75.5a1.60 1.60 0 1 0 0.01 0M152.3 102.0a1.60 1.60 0 1 0 0.01 0M99.6 92.1a1.60 1.60 0 1 0 0.01 0M96.7 84.5a1.60 1.60 0 1 0 0.01 0M88.9 85.0a1.60 1.60 0 1 0 0.01 0M140.1 102.7a1.60 1.60 0 1 0 0.01 0M105.6 97.6a1.60 1.60 0 1 0 0.01 0M132.0 106.6a1.60 1.60 0 1 0 0.01 0M103.4 93.6a1.60 1.60 0 1 0 0.01 0M162.3 77.9a1.60 1.60 0 1 0 0.01 0M135.4 109.3a1.60 1.60 0 1 0 0.01 0M157.4 97.3a1.60 1.60 0 1 0 0.01 0M117.3 106.6a1.60 1.60 0 1 0 0.01 0M156.9 86.6a1.60 1.60 0 1 0 0.01 0M120.9 111.3a1.60 1.60 0 1 0 0.01 0M113.2 112.9a1.60 1.60 0 1 0 0.01 0M155.7 91.5a1.60 1.60 0 1 0 0.01 0M119.9 104.6a1.60 1.60 0 1 0 0.01 0M159.0 87.1a1.60 1.60 0 1 0 0.01 0M121.3 101.6a1.60 1.60 0 1 0 0.01 0M91.3 84.2a1.60 1.60 0 1 0 0.01 0M131.4 108.0a1.60 1.60 0 1 0 0.01 0M152.1 97.9a1.60 1.60 0 1 0 0.01 0M93.8 95.6a1.60 1.60 0 1 0 0.01 0M96.2 97.7a1.60 1.60 0 1 0 0.01 0M144.1 108.5a1.60 1.60 0 1 0 0.01 0M158.1 80.8a1.60 1.60 0 1 0 0.01 0M93.6 95.8a1.60 1.60 0 1 0 0.01 0M167.8 73.8a1.60 1.60 0 1 0 0.01 0M129.5 108.0a1.60 1.60 0 1 0 0.01 0M158.9 96.2a1.60 1.60 0 1 0 0.01 0M140.2 107.9a1.60 1.60 0 1 0 0.01 0M163.3 83.1a1.60 1.60 0 1 0 0.01 0M158.9 96.2a1.60 1.60 0 1 0 0.01 0M116.3 110.6a1.60 1.60 0 1 0 0.01 0M107.4 99.8a1.60 1.60 0 1 0 0.01 0M133.3 106.2a1.60 1.60 0 1 0 0.01 0M128.0 111.2a1.60 1.60 0 1 0 0.01 0M96.4 95.5a1.60 1.60 0 1 0 0.01 0M129.5 108.1a1.60 1.60 0 1 0 0.01 0M127.9 108.7a1.60 1.60 0 1 0 0.01 0M149.0 105.3a1.60 1.60 0 1 0 0.01 0M158.8 81.2a1.60 1.60 0 1 0 0.01 0M132.6 107.6a1.60 1.60 0 1 0 0.01 0M166.1 80.6a1.60 1.60 0 1 0 0.01 0M160.7 97.2a1.60 1.60 0 1 0 0.01 0M113.1 102.3a1.60 1.60 0 1 0 0.01 0M130.2 104.8a1.60 1.60 0 1 0 0.01 0M162.9 84.5a1.60 1.60 0 1 0 0.01 0M109.6 109.2a1.60 1.60 0 1 0 0.01 0M107.7 97.3a1.60 1.60 0 1 0 0.01 0M158.1 78.4a1.60 1.60 0 1 0 0.01 0M97.4 106.9a1.60 1.60 0 1 0 0.01 0M159.1 84.3a1.60 1.60 0 1 0 0.01 0M92.4 83.4a1.60 1.60 0 1 0 0.01 0M96.9 89.9a1.60 1.60 0 1 0 0.01 0M153.8 104.4a1.60 1.60 0 1 0 0.01 0M165.0 82.0a1.60 1.60 0 1 0 0.01 0M98.5 103.4a1.60 1.60 0 1 0 0.01 0M115.1 102.3a1.60 1.60 0 1 0 0.01 0M127.0 111.2a1.60 1.60 0 1 0 0.01 0M127.7 110.5a1.60 1.60 0 1 0 0.01 0M140.2 104.2a1.60 1.60 0 1 0 0.01 0M162.5 74.2a1.60 1.60 0 1 0 0.01 0M142.7 103.0a1.60 1.60 0 1 0 0.01 0M166.1 80.9a1.60 1.60 0 1 0 0.01 0M136.6 101.0a1.60 1.60 0 1 0 0.01 0M92.5 84.2a1.60 1.60 0 1 0 0.01 0M124.6 104.6a1.60 1.60 0 1 0 0.01 0M150.8 101.1a1.60 1.60 0 1 0 0.01 0M128.6 104.4a1.60 1.60 0 1 0 0.01 0M126.0 103.9a1.60 1.60 0 1 0 0.01 0M91.5 87.3a1.60 1.60 0 1 0 0.01 0M147.5 106.6a1.60 1.60 0 1 0 0.01 0M112.5 109.4a1.60 1.60 0 1 0 0.01 0M145.9 104.0a1.60 1.60 0 1 0 0.01 0M155.1 79.4a1.60 1.60 0 1 0 0.01 0M141.6 103.5a1.60 1.60 0 1 0 0.01 0M120.2 104.1a1.60 1.60 0 1 0 0.01 0M149.0 94.8a1.60 1.60 0 1 0 0.01 0M97.3 103.4a1.60 1.60 0 1 0 0.01 0M143.8 109.1a1.60 1.60 0 1 0 0.01 0M168.0 76.6a1.60 1.60 0 1 0 0.01 0M129.8 111.9a1.60 1.60 0 1 0 0.01 0M141.9 105.9a1.60 1.60 0 1 0 0.01 0M135.6 110.4a1.60 1.60 0 1 0 0.01 0M115.6 105.6a1.60 1.60 0 1 0 0.01 0M162.8 76.5a1.60 1.60 0 1 0 0.01 0M93.9 91.0a1.60 1.60 0 1 0 0.01 0M86.5 90.0a1.60 1.60 0 1 0 0.01 0M149.2 105.1a1.60 1.60 0 1 0 0.01 0M161.8 86.1a1.60 1.60 0 1 0 0.01 0M120.9 107.8a1.60 1.60 0 1 0 0.01 0M155.6 93.1a1.60 1.60 0 1 0 0.01 0M151.6 98.4a1.60 1.60 0 1 0 0.01 0M153.3 93.2a1.60 1.60 0 1 0 0.01 0M158.8 84.6a1.60 1.60 0 1 0 0.01 0M148.9 102.3a1.60 1.60 0 1 0 0.01 0M118.7 109.5a1.60 1.60 0 1 0 0.01 0M155.5 83.4a1.60 1.60 0 1 0 0.01 0M95.5 96.2a1.60 1.60 0 1 0 0.01 0M119.1 115.4a1.60 1.60 0 1 0 0.01 0M115.1 102.4a1.60 1.60 0 1 0 0.01 0M91.4 88.8a1.60 1.60 0 1 0 0.01 0M164.5 74.6a1.60 1.60 0 1 0 0.01 0M90.8 80.0a1.60 1.60 0 1 0 0.01 0M155.9 95.5a1.60 1.60 0 1 0 0.01 0M154.3 95.1a1.60 1.60 0 1 0 0.01 0M92.8 90.1a1.60 1.60 0 1 0 0.01 0M114.1 107.6a1.60 1.60 0 1 0 0.01 0M102.6 97.3a1.60 1.60 0 1 0 0.01 0M156.5 84.2a1.60 1.60 0 1 0 0.01 0M142.1 103.4a1.60 1.60 0 1 0 0.01 0M99.8 99.6a1.60 1.60 0 1 0 0.01 0M119.1 107.4a1.60 1.60 0 1 0 0.01 0M163.0 95.1a1.60 1.60 0 1 0 0.01 0M163.7 76.6a1.60 1.60 0 1 0 0.01 0M108.2 107.7a1.60 1.60 0 1 0 0.01 0M129.2 107.6a1.60 1.60 0 1 0 0.01 0M103.2 93.1a1.60 1.60 0 1 0 0.01 0M96.2 95.2a1.60 1.60 0 1 0 0.01 0M126.6 113.4a1.60 1.60 0 1 0 0.01 0M130.3 113.0a1.60 1.60 0 1 0 0.01 0M161.1 77.5a1.60 1.60 0 1 0 0.01 0M91.7 74.2a1.60 1.60 0 1 0 0.01 0M91.5 92.3a1.60 1.60 0 1 0 0.01 0M104.5 106.5a1.60 1.60 0 1 0 0.01 0M159.0 95.4a1.60 1.60 0 1 0 0.01 0M155.5 96.7a1.60 1.60 0 1 0 0.01 0M93.4 73.4a1.60 1.60 0 1 0 0.01 0M111.6 111.2a1.60 1.60 0 1 0 0.01 0M87.2 77.9a1.60 1.60 0 1 0 0.01 0M88.2 88.7a1.60 1.60 0 1 0 0.01 0M151.5 103.5a1.60 1.60 0 1 0 0.01 0M103.7 100.6a1.60 1.60 0 1 0 0.01 0M147.1 111.1a1.60 1.60 0 1 0 0.01 0M143.2 96.0a1.60 1.60 0 1 0 0.01 0M135.9 106.6a1.60 1.60 0 1 0 0.01 0M96.8 92.9a1.60 1.60 0 1 0 0.01 0M119.0 105.7a1.60 1.60 0 1 0 0.01 0M143.3 103.6a1.60 1.60 0 1 0 0.01 0M148.4 98.3a1.60 1.60 0 1 0 0.01 0M87.2 74.8a1.60 1.60 0 1 0 0.01 0M159.4 86.1a1.60 1.60 0 1 0 0.01 0M161.7 85.1a1.60 1.60 0 1 0 0.01 0M96.8 91.7a1.60 1.60 0 1 0 0.01 0M132.9 107.0a1.60 1.60 0 1 0 0.01 0M104.3 101.2a1.60 1.60 0 1 0 0.01 0M122.5 115.2a1.60 1.60 0 1 0 0.01 0M98.4 93.4a1.60 1.60 0 1 0 0.01 0M153.7 96.0a1.60 1.60 0 1 0 0.01 0M153.4 95.0a1.60 1.60 0 1 0 0.01 0M110.3 106.2a1.60 1.60 0 1 0 0.01 0M105.7 101.0a1.60 1.60 0 1 0 0.01 0M95.1 94.7a1.60 1.60 0 1 0 0.01 0M89.1 80.4a1.60 1.60 0 1 0 0.01 0M127.8 106.4a1.60 1.60 0 1 0 0.01 0M158.2 93.8a1.60 1.60 0 1 0 0.01 0M105.0 92.2a1.60 1.60 0 1 0 0.01 0M91.1 82.4a1.60 1.60 0 1 0 0.01 0M133.5 111.0a1.60 1.60 0 1 0 0.01 0M95.4 76.8a1.60 1.60 0 1 0 0.01 0M114.7 109.4a1.60 1.60 0 1 0 0.01 0M118.9 105.2a1.60 1.60 0 1 0 0.01 0M125.5 107.5a1.60 1.60 0 1 0 0.01 0M106.5 104.0a1.60 1.60 0 1 0 0.01 0M142.7 102.2a1.60 1.60 0 1 0 0.01 0M98.6 96.1a1.60 1.60 0 1 0 0.01 0M136.4 106.4a1.60 1.60 0 1 0 0.01 0M162.5 84.7a1.60 1.60 0 1 0 0.01 0M102.3 101.6a1.60 1.60 0 1 0 0.01 0M98.1 98.4a1.60 1.60 0 1 0 0.01 0M128.1 110.7a1.60 1.60 0 1 0 0.01 0M91.5 81.9a1.60 1.60 0 1 0 0.01 0M134.2 114.3a1.60 1.60 0 1 0 0.01 0M151.4 89.3a1.60 1.60 0 1 0 0.01 0M133.6 111.7a1.60 1.60 0 1 0 0.01 0M143.8 106.6a1.60 1.60 0 1 0 0.01 0M98.3 99.2a1.60 1.60 0 1 0 0.01 0M113.1 105.7a1.60 1.60 0 1 0 0.01 0M105.9 105.2a1.60 1.60 0 1 0 0.01 0M116.0 106.4a1.60 1.60 0 1 0 0.01 0M166.0 85.6a1.60 1.60 0 1 0 0.01 0M155.7 82.2a1.60 1.60 0 1 0 0.01 0M107.7 104.1a1.60 1.60 0 1 0 0.01 0M167.1 79.2a1.60 1.60 0 1 0 0.01 0M134.1 105.1a1.60 1.60 0 1 0 0.01 0M152.4 100.2a1.60 1.60 0 1 0 0.01 0M98.6 97.8a1.60 1.60 0 1 0 0.01 0M148.2 106.6a1.60 1.60 0 1 0 0.01 0M146.9 103.7a1.60 1.60 0 1 0 0.01 0M97.1 96.7a1.60 1.60 0 1 0 0.01 0M101.8 85.9a1.60 1.60 0 1 0 0.01 0M137.1 107.8a1.60 1.60 0 1 0 0.01 0M148.1 107.1a1.60 1.60 0 1 0 0.01 0M92.9 83.8a1.60 1.60 0 1 0 0.01 0M163.9 75.1a1.60 1.60 0 1 0 0.01 0M94.2 80.4a1.60 1.60 0 1 0 0.01 0M164.7 81.0a1.60 1.60 0 1 0 0.01 0M92.9 82.2a1.60 1.60 0 1 0 0.01 0M150.3 101.3a1.60 1.60 0 1 0 0.01 0M159.9 88.9a1.60 1.60 0 1 0 0.01 0M99.7 92.4a1.60 1.60 0 1 0 0.01 0M89.8 93.2a1.60 1.60 0 1 0 0.01 0M133.6 108.3a1.60 1.60 0 1 0 0.01 0M158.0 82.1a1.60 1.60 0 1 0 0.01 0M96.4 92.5a1.60 1.60 0 1 0 0.01 0M162.0 94.6a1.60 1.60 0 1 0 0.01 0" fill="#ff7f0e" fill-opacity="0.090" stroke="#ff7f0e" stroke-opacity="0.100" stroke-width="0.50"/></g><rect x="0.65" y="0.65" width="219.40" height="157.70" fill="none" stroke="#111" stroke-width="1.30"/></svg>
<svg style="left:1025.5px;top:1765.1px" width="6" height="164.3" viewBox="0 0 6 164.3"><defs><linearGradient id="cbg" x1="0" y1="0" x2="0" y2="1"><stop offset="0" stop-color="#08306b"/><stop offset="0.25" stop-color="#2171b5"/><stop offset="0.5" stop-color="#6baed6"/><stop offset="0.75" stop-color="#c6dbef"/><stop offset="1" stop-color="#f7fbff"/></linearGradient></defs><rect x="0.3" y="0.3" width="5.4" height="163.7" fill="url(#cbg)" stroke="#999" stroke-width="0.5"/></svg>
<svg style="left:2405.10px;top:1670.40px" width="302.70" height="216.70" viewBox="0 0 302.70 216.70"><defs><clipPath id="c225"><rect width="302.70" height="216.70"/></clipPath><filter id="f226" filterUnits="userSpaceOnUse" x="-60" y="-60" width="423" height="337"><feGaussianBlur stdDeviation="6.00"/></filter><filter id="f227" filterUnits="userSpaceOnUse" x="-60" y="-60" width="423" height="337"><feGaussianBlur stdDeviation="5.00"/></filter><filter id="f228" filterUnits="userSpaceOnUse" x="-60" y="-60" width="423" height="337"><feGaussianBlur stdDeviation="2.50"/></filter><filter id="f229" filterUnits="userSpaceOnUse" x="-60" y="-60" width="423" height="337"><feGaussianBlur stdDeviation="1.00"/></filter></defs><g clip-path="url(#c225)"><rect width="302.70" height="216.70" fill="#f5f9fe"/><polygon points="0.0,0.0 302.8,0.0 302.8,113.3 0.0,35.2" fill="#ffffff" fill-opacity="1.000" filter="url(#f226)"/><path d="M -5.1,140.0 C -4.2,140.2 -14.5,139.4 0.0,140.8 C 14.5,142.1 53.6,145.1 81.7,148.0 C 109.8,150.9 131.7,154.0 168.5,158.1 C 205.4,162.2 278.7,169.9 302.8,172.6 C 326.9,175.2 311.5,173.8 313.2,174.0" fill="none" stroke="#d5e5f4" stroke-width="26.00" stroke-opacity="0.900" stroke-linecap="round" stroke-linejoin="round" filter="url(#f227)"/><path d="M -5.1,140.0 C -4.2,140.2 -14.5,139.4 0.0,140.8 C 14.5,142.1 53.6,145.1 81.7,148.0 C 109.8,150.9 131.7,154.0 168.5,158.1 C 205.4,162.2 278.7,169.9 302.8,172.6 C 326.9,175.2 311.5,173.8 313.2,174.0" fill="none" stroke="#5b9bd0" stroke-width="12.00" stroke-opacity="0.800" stroke-linecap="round" stroke-linejoin="round" filter="url(#f228)"/><path d="M -5.1,140.0 C -4.2,140.2 -14.5,139.4 0.0,140.8 C 14.5,142.1 53.6,145.1 81.7,148.0 C 109.8,150.9 131.7,154.0 168.5,158.1 C 205.4,162.2 278.7,169.9 302.8,172.6 C 326.9,175.2 311.5,173.8 313.2,174.0" fill="none" stroke="#163a74" stroke-width="6.50" stroke-opacity="1.000" stroke-linecap="round" stroke-linejoin="round" filter="url(#f229)"/><path d="M145.2 96.7a2.30 2.30 0 1 0 0.01 0M181.1 98.5a2.30 2.30 0 1 0 0.01 0M139.3 142.6a2.30 2.30 0 1 0 0.01 0M120.9 90.4a2.30 2.30 0 1 0 0.01 0M140.7 96.7a2.30 2.30 0 1 0 0.01 0M115.8 99.7a2.30 2.30 0 1 0 0.01 0M130.8 119.1a2.30 2.30 0 1 0 0.01 0M107.3 87.8a2.30 2.30 0 1 0 0.01 0M158.0 149.2a2.30 2.30 0 1 0 0.01 0M110.1 120.1a2.30 2.30 0 1 0 0.01 0M119.7 84.0a2.30 2.30 0 1 0 0.01 0M121.6 94.5a2.30 2.30 0 1 0 0.01 0M155.2 121.7a2.30 2.30 0 1 0 0.01 0M138.4 95.9a2.30 2.30 0 1 0 0.01 0M137.4 102.1a2.30 2.30 0 1 0 0.01 0M151.6 89.4a2.30 2.30 0 1 0 0.01 0M137.2 102.2a2.30 2.30 0 1 0 0.01 0M136.4 110.6a2.30 2.30 0 1 0 0.01 0M140.9 136.6a2.30 2.30 0 1 0 0.01 0M135.7 142.1a2.30 2.30 0 1 0 0.01 0M131.8 93.1a2.30 2.30 0 1 0 0.01 0M139.1 113.1a2.30 2.30 0 1 0 0.01 0M142.2 135.6a2.30 2.30 0 1 0 0.01 0M157.8 116.5a2.30 2.30 0 1 0 0.01 0M131.2 102.2a2.30 2.30 0 1 0 0.01 0M162.7 109.9a2.30 2.30 0 1 0 0.01 0M113.7 88.0a2.30 2.30 0 1 0 0.01 0M126.9 132.2a2.30 2.30 0 1 0 0.01 0M135.4 158.8a2.30 2.30 0 1 0 0.01 0M149.1 107.6a2.30 2.30 0 1 0 0.01 0M129.5 127.9a2.30 2.30 0 1 0 0.01 0M133.0 84.8a2.30 2.30 0 1 0 0.01 0M147.5 104.9a2.30 2.30 0 1 0 0.01 0M158.7 102.8a2.30 2.30 0 1 0 0.01 0M85.8 123.5a2.30 2.30 0 1 0 0.01 0M103.5 141.5a2.30 2.30 0 1 0 0.01 0M170.1 94.3a2.30 2.30 0 1 0 0.01 0M116.3 71.1a2.30 2.30 0 1 0 0.01 0M153.0 99.7a2.30 2.30 0 1 0 0.01 0M126.5 98.8a2.30 2.30 0 1 0 0.01 0M174.9 112.9a2.30 2.30 0 1 0 0.01 0M150.7 123.2a2.30 2.30 0 1 0 0.01 0M155.6 130.1a2.30 2.30 0 1 0 0.01 0M124.5 99.4a2.30 2.30 0 1 0 0.01 0M123.6 87.5a2.30 2.30 0 1 0 0.01 0M157.8 92.6a2.30 2.30 0 1 0 0.01 0M135.9 88.0a2.30 2.30 0 1 0 0.01 0M126.6 123.5a2.30 2.30 0 1 0 0.01 0M129.3 93.0a2.30 2.30 0 1 0 0.01 0M146.2 116.6a2.30 2.30 0 1 0 0.01 0M151.6 108.7a2.30 2.30 0 1 0 0.01 0M105.7 119.7a2.30 2.30 0 1 0 0.01 0M146.3 129.0a2.30 2.30 0 1 0 0.01 0M122.1 165.1a2.30 2.30 0 1 0 0.01 0M115.1 122.0a2.30 2.30 0 1 0 0.01 0M138.1 92.9a2.30 2.30 0 1 0 0.01 0M152.0 97.8a2.30 2.30 0 1 0 0.01 0M95.3 76.6a2.30 2.30 0 1 0 0.01 0M145.5 158.3a2.30 2.30 0 1 0 0.01 0M110.6 104.2a2.30 2.30 0 1 0 0.01 0M163.4 119.2a2.30 2.30 0 1 0 0.01 0M130.5 70.5a2.30 2.30 0 1 0 0.01 0M105.2 86.6a2.30 2.30 0 1 0 0.01 0M130.7 50.6a2.30 2.30 0 1 0 0.01 0M106.8 111.9a2.30 2.30 0 1 0 0.01 0M129.9 86.5a2.30 2.30 0 1 0 0.01 0M130.0 85.1a2.30 2.30 0 1 0 0.01 0M154.0 144.0a2.30 2.30 0 1 0 0.01 0M174.6 121.6a2.30 2.30 0 1 0 0.01 0M150.8 139.7a2.30 2.30 0 1 0 0.01 0M168.6 139.8a2.30 2.30 0 1 0 0.01 0M159.1 89.4a2.30 2.30 0 1 0 0.01 0M108.5 125.6a2.30 2.30 0 1 0 0.01 0M135.6 103.3a2.30 2.30 0 1 0 0.01 0M121.3 73.4a2.30 2.30 0 1 0 0.01 0M162.5 115.8a2.30 2.30 0 1 0 0.01 0M118.1 114.0a2.30 2.30 0 1 0 0.01 0M142.8 117.1a2.30 2.30 0 1 0 0.01 0M177.5 103.8a2.30 2.30 0 1 0 0.01 0M114.3 105.5a2.30 2.30 0 1 0 0.01 0M125.7 117.8a2.30 2.30 0 1 0 0.01 0M141.1 112.9a2.30 2.30 0 1 0 0.01 0M127.1 114.5a2.30 2.30 0 1 0 0.01 0M128.1 117.0a2.30 2.30 0 1 0 0.01 0M131.9 77.8a2.30 2.30 0 1 0 0.01 0M146.3 87.6a2.30 2.30 0 1 0 0.01 0M163.3 115.2a2.30 2.30 0 1 0 0.01 0M145.7 107.0a2.30 2.30 0 1 0 0.01 0M136.2 47.3a2.30 2.30 0 1 0 0.01 0M159.3 85.1a2.30 2.30 0 1 0 0.01 0M154.5 89.3a2.30 2.30 0 1 0 0.01 0M134.7 99.2a2.30 2.30 0 1 0 0.01 0M118.6 100.5a2.30 2.30 0 1 0 0.01 0M145.9 94.7a2.30 2.30 0 1 0 0.01 0M114.5 90.8a2.30 2.30 0 1 0 0.01 0M141.8 132.1a2.30 2.30 0 1 0 0.01 0M152.3 111.5a2.30 2.30 0 1 0 0.01 0M119.4 126.4a2.30 2.30 0 1 0 0.01 0M137.7 98.8a2.30 2.30 0 1 0 0.01 0M153.7 119.4a2.30 2.30 0 1 0 0.01 0M146.3 77.0a2.30 2.30 0 1 0 0.01 0M126.3 63.7a2.30 2.30 0 1 0 0.01 0M140.8 105.3a2.30 2.30 0 1 0 0.01 0M154.1 109.7a2.30 2.30 0 1 0 0.01 0M130.7 155.3a2.30 2.30 0 1 0 0.01 0M118.8 72.5a2.30 2.30 0 1 0 0.01 0M126.3 117.2a2.30 2.30 0 1 0 0.01 0M131.0 94.0a2.30 2.30 0 1 0 0.01 0M117.1 139.9a2.30 2.30 0 1 0 0.01 0M126.1 78.7a2.30 2.30 0 1 0 0.01 0M135.1 85.2a2.30 2.30 0 1 0 0.01 0M133.1 136.6a2.30 2.30 0 1 0 0.01 0M129.3 103.4a2.30 2.30 0 1 0 0.01 0M130.7 100.0a2.30 2.30 0 1 0 0.01 0M152.1 117.4a2.30 2.30 0 1 0 0.01 0M131.2 82.3a2.30 2.30 0 1 0 0.01 0M134.9 124.6a2.30 2.30 0 1 0 0.01 0M137.0 101.5a2.30 2.30 0 1 0 0.01 0M104.8 128.4a2.30 2.30 0 1 0 0.01 0M110.5 73.8a2.30 2.30 0 1 0 0.01 0M130.5 105.4a2.30 2.30 0 1 0 0.01 0M138.1 86.3a2.30 2.30 0 1 0 0.01 0M131.7 90.0a2.30 2.30 0 1 0 0.01 0M104.7 98.5a2.30 2.30 0 1 0 0.01 0M124.8 114.7a2.30 2.30 0 1 0 0.01 0M134.7 127.7a2.30 2.30 0 1 0 0.01 0M149.8 126.2a2.30 2.30 0 1 0 0.01 0M159.1 121.2a2.30 2.30 0 1 0 0.01 0M134.3 137.1a2.30 2.30 0 1 0 0.01 0M120.6 103.7a2.30 2.30 0 1 0 0.01 0M152.8 97.7a2.30 2.30 0 1 0 0.01 0M150.2 85.3a2.30 2.30 0 1 0 0.01 0M127.6 117.7a2.30 2.30 0 1 0 0.01 0M150.1 133.3a2.30 2.30 0 1 0 0.01 0M136.0 111.8a2.30 2.30 0 1 0 0.01 0M148.6 115.8a2.30 2.30 0 1 0 0.01 0M113.9 90.9a2.30 2.30 0 1 0 0.01 0M163.3 74.7a2.30 2.30 0 1 0 0.01 0M148.6 94.4a2.30 2.30 0 1 0 0.01 0M155.4 85.9a2.30 2.30 0 1 0 0.01 0M138.2 56.0a2.30 2.30 0 1 0 0.01 0M136.5 130.4a2.30 2.30 0 1 0 0.01 0M110.3 133.1a2.30 2.30 0 1 0 0.01 0M124.4 103.4a2.30 2.30 0 1 0 0.01 0M87.4 130.5a2.30 2.30 0 1 0 0.01 0M121.5 91.7a2.30 2.30 0 1 0 0.01 0M114.3 80.8a2.30 2.30 0 1 0 0.01 0M157.9 92.4a2.30 2.30 0 1 0 0.01 0M153.4 100.4a2.30 2.30 0 1 0 0.01 0M143.5 92.4a2.30 2.30 0 1 0 0.01 0M145.0 166.7a2.30 2.30 0 1 0 0.01 0M149.1 116.7a2.30 2.30 0 1 0 0.01 0M128.7 128.9a2.30 2.30 0 1 0 0.01 0M161.8 63.7a2.30 2.30 0 1 0 0.01 0M112.5 155.0a2.30 2.30 0 1 0 0.01 0M145.0 107.7a2.30 2.30 0 1 0 0.01 0M147.4 130.9a2.30 2.30 0 1 0 0.01 0M151.7 99.2a2.30 2.30 0 1 0 0.01 0M174.4 104.9a2.30 2.30 0 1 0 0.01 0M121.6 91.2a2.30 2.30 0 1 0 0.01 0M134.9 95.5a2.30 2.30 0 1 0 0.01 0M133.9 112.2a2.30 2.30 0 1 0 0.01 0M78.2 85.9a2.30 2.30 0 1 0 0.01 0M154.4 118.1a2.30 2.30 0 1 0 0.01 0M125.1 89.6a2.30 2.30 0 1 0 0.01 0M157.8 98.6a2.30 2.30 0 1 0 0.01 0M127.8 149.1a2.30 2.30 0 1 0 0.01 0M130.6 121.0a2.30 2.30 0 1 0 0.01 0M136.5 105.8a2.30 2.30 0 1 0 0.01 0M120.3 84.7a2.30 2.30 0 1 0 0.01 0M159.9 77.3a2.30 2.30 0 1 0 0.01 0M142.3 75.9a2.30 2.30 0 1 0 0.01 0M133.0 103.7a2.30 2.30 0 1 0 0.01 0M108.0 131.8a2.30 2.30 0 1 0 0.01 0M134.0 133.7a2.30 2.30 0 1 0 0.01 0M120.5 126.5a2.30 2.30 0 1 0 0.01 0M179.3 109.8a2.30 2.30 0 1 0 0.01 0M125.7 116.1a2.30 2.30 0 1 0 0.01 0M139.8 99.6a2.30 2.30 0 1 0 0.01 0M135.1 90.7a2.30 2.30 0 1 0 0.01 0M144.9 95.3a2.30 2.30 0 1 0 0.01 0M121.9 124.2a2.30 2.30 0 1 0 0.01 0M134.3 168.1a2.30 2.30 0 1 0 0.01 0M132.8 87.4a2.30 2.30 0 1 0 0.01 0M127.4 113.5a2.30 2.30 0 1 0 0.01 0M124.7 74.3a2.30 2.30 0 1 0 0.01 0M166.8 74.8a2.30 2.30 0 1 0 0.01 0M164.5 108.0a2.30 2.30 0 1 0 0.01 0M118.2 144.6a2.30 2.30 0 1 0 0.01 0M133.6 80.4a2.30 2.30 0 1 0 0.01 0M138.5 135.5a2.30 2.30 0 1 0 0.01 0M149.6 124.4a2.30 2.30 0 1 0 0.01 0M168.9 109.7a2.30 2.30 0 1 0 0.01 0M144.1 99.2a2.30 2.30 0 1 0 0.01 0M111.1 101.1a2.30 2.30 0 1 0 0.01 0M166.4 63.0a2.30 2.30 0 1 0 0.01 0M161.5 110.9a2.30 2.30 0 1 0 0.01 0M120.9 106.2a2.30 2.30 0 1 0 0.01 0M169.3 90.8a2.30 2.30 0 1 0 0.01 0M151.5 131.7a2.30 2.30 0 1 0 0.01 0M121.2 119.8a2.30 2.30 0 1 0 0.01 0M146.9 93.2a2.30 2.30 0 1 0 0.01 0M149.6 95.9a2.30 2.30 0 1 0 0.01 0M126.9 75.0a2.30 2.30 0 1 0 0.01 0M144.2 94.3a2.30 2.30 0 1 0 0.01 0M127.2 77.0a2.30 2.30 0 1 0 0.01 0M112.7 85.7a2.30 2.30 0 1 0 0.01 0M150.4 85.1a2.30 2.30 0 1 0 0.01 0M163.3 114.4a2.30 2.30 0 1 0 0.01 0M140.1 75.7a2.30 2.30 0 1 0 0.01 0M172.5 70.0a2.30 2.30 0 1 0 0.01 0M146.9 145.3a2.30 2.30 0 1 0 0.01 0M133.7 88.2a2.30 2.30 0 1 0 0.01 0M137.0 126.6a2.30 2.30 0 1 0 0.01 0M161.8 119.1a2.30 2.30 0 1 0 0.01 0M118.1 88.4a2.30 2.30 0 1 0 0.01 0M141.0 74.0a2.30 2.30 0 1 0 0.01 0M133.0 158.4a2.30 2.30 0 1 0 0.01 0M118.3 132.4a2.30 2.30 0 1 0 0.01 0M120.5 96.4a2.30 2.30 0 1 0 0.01 0" fill="#2ca02c" fill-opacity="0.080" stroke="#2ca02c" stroke-opacity="0.140" stroke-width="0.60"/><path d="M127.4 173.0a2.30 2.30 0 1 0 0.01 0M126.1 188.4a2.30 2.30 0 1 0 0.01 0M157.3 185.1a2.30 2.30 0 1 0 0.01 0M99.5 180.5a2.30 2.30 0 1 0 0.01 0M137.8 185.0a2.30 2.30 0 1 0 0.01 0M181.1 175.8a2.30 2.30 0 1 0 0.01 0M194.7 179.7a2.30 2.30 0 1 0 0.01 0M120.5 174.6a2.30 2.30 0 1 0 0.01 0M127.5 180.0a2.30 2.30 0 1 0 0.01 0M83.2 179.7a2.30 2.30 0 1 0 0.01 0M134.7 179.0a2.30 2.30 0 1 0 0.01 0M159.7 175.6a2.30 2.30 0 1 0 0.01 0M163.9 180.2a2.30 2.30 0 1 0 0.01 0M144.2 171.1a2.30 2.30 0 1 0 0.01 0M135.0 180.9a2.30 2.30 0 1 0 0.01 0M165.6 174.8a2.30 2.30 0 1 0 0.01 0M181.9 175.3a2.30 2.30 0 1 0 0.01 0M180.1 184.4a2.30 2.30 0 1 0 0.01 0M101.4 193.2a2.30 2.30 0 1 0 0.01 0M84.6 180.3a2.30 2.30 0 1 0 0.01 0M137.9 184.1a2.30 2.30 0 1 0 0.01 0M138.7 185.7a2.30 2.30 0 1 0 0.01 0M147.5 181.4a2.30 2.30 0 1 0 0.01 0M94.7 179.4a2.30 2.30 0 1 0 0.01 0M164.4 174.9a2.30 2.30 0 1 0 0.01 0M134.3 170.0a2.30 2.30 0 1 0 0.01 0M103.6 172.3a2.30 2.30 0 1 0 0.01 0M177.4 171.2a2.30 2.30 0 1 0 0.01 0M121.0 185.3a2.30 2.30 0 1 0 0.01 0M153.2 185.5a2.30 2.30 0 1 0 0.01 0M170.4 183.9a2.30 2.30 0 1 0 0.01 0M161.8 181.0a2.30 2.30 0 1 0 0.01 0M129.1 171.6a2.30 2.30 0 1 0 0.01 0M136.5 188.2a2.30 2.30 0 1 0 0.01 0M101.6 174.8a2.30 2.30 0 1 0 0.01 0M133.5 187.5a2.30 2.30 0 1 0 0.01 0M175.9 173.0a2.30 2.30 0 1 0 0.01 0M147.2 177.7a2.30 2.30 0 1 0 0.01 0M140.6 168.8a2.30 2.30 0 1 0 0.01 0M165.1 179.1a2.30 2.30 0 1 0 0.01 0M137.9 180.3a2.30 2.30 0 1 0 0.01 0M90.8 184.2a2.30 2.30 0 1 0 0.01 0M111.8 177.5a2.30 2.30 0 1 0 0.01 0M155.1 180.8a2.30 2.30 0 1 0 0.01 0M103.5 186.4a2.30 2.30 0 1 0 0.01 0M107.6 181.1a2.30 2.30 0 1 0 0.01 0M158.0 186.5a2.30 2.30 0 1 0 0.01 0M175.7 190.4a2.30 2.30 0 1 0 0.01 0M131.8 176.9a2.30 2.30 0 1 0 0.01 0M192.7 188.9a2.30 2.30 0 1 0 0.01 0M118.7 185.1a2.30 2.30 0 1 0 0.01 0M115.7 172.7a2.30 2.30 0 1 0 0.01 0M169.5 183.2a2.30 2.30 0 1 0 0.01 0M134.7 190.6a2.30 2.30 0 1 0 0.01 0M184.5 177.7a2.30 2.30 0 1 0 0.01 0M87.9 170.8a2.30 2.30 0 1 0 0.01 0M130.3 179.1a2.30 2.30 0 1 0 0.01 0M143.9 181.3a2.30 2.30 0 1 0 0.01 0M105.1 179.0a2.30 2.30 0 1 0 0.01 0M70.9 188.0a2.30 2.30 0 1 0 0.01 0M109.8 184.6a2.30 2.30 0 1 0 0.01 0M105.1 181.7a2.30 2.30 0 1 0 0.01 0M154.0 179.8a2.30 2.30 0 1 0 0.01 0M99.1 194.1a2.30 2.30 0 1 0 0.01 0M122.5 184.4a2.30 2.30 0 1 0 0.01 0M127.0 177.0a2.30 2.30 0 1 0 0.01 0M180.0 183.4a2.30 2.30 0 1 0 0.01 0M143.0 168.7a2.30 2.30 0 1 0 0.01 0M141.0 185.9a2.30 2.30 0 1 0 0.01 0M140.8 180.4a2.30 2.30 0 1 0 0.01 0M175.4 182.6a2.30 2.30 0 1 0 0.01 0M152.1 187.0a2.30 2.30 0 1 0 0.01 0M168.1 174.0a2.30 2.30 0 1 0 0.01 0M142.8 177.1a2.30 2.30 0 1 0 0.01 0M53.8 182.8a2.30 2.30 0 1 0 0.01 0M64.0 178.7a2.30 2.30 0 1 0 0.01 0M34.7 175.7a2.30 2.30 0 1 0 0.01 0M112.2 181.2a2.30 2.30 0 1 0 0.01 0M109.6 176.2a2.30 2.30 0 1 0 0.01 0M95.8 189.7a2.30 2.30 0 1 0 0.01 0M112.2 180.7a2.30 2.30 0 1 0 0.01 0M201.7 171.7a2.30 2.30 0 1 0 0.01 0M51.5 175.6a2.30 2.30 0 1 0 0.01 0M115.0 175.0a2.30 2.30 0 1 0 0.01 0M128.4 180.8a2.30 2.30 0 1 0 0.01 0M71.1 182.2a2.30 2.30 0 1 0 0.01 0M75.5 185.1a2.30 2.30 0 1 0 0.01 0M138.4 193.3a2.30 2.30 0 1 0 0.01 0M161.3 180.1a2.30 2.30 0 1 0 0.01 0M142.9 182.0a2.30 2.30 0 1 0 0.01 0M101.7 173.2a2.30 2.30 0 1 0 0.01 0M171.6 189.6a2.30 2.30 0 1 0 0.01 0M112.2 179.8a2.30 2.30 0 1 0 0.01 0M111.4 186.8a2.30 2.30 0 1 0 0.01 0M175.8 176.4a2.30 2.30 0 1 0 0.01 0M116.9 178.3a2.30 2.30 0 1 0 0.01 0M138.0 185.5a2.30 2.30 0 1 0 0.01 0M170.5 179.7a2.30 2.30 0 1 0 0.01 0M92.5 184.2a2.30 2.30 0 1 0 0.01 0M152.5 179.3a2.30 2.30 0 1 0 0.01 0M136.3 183.2a2.30 2.30 0 1 0 0.01 0M163.4 181.6a2.30 2.30 0 1 0 0.01 0M148.5 182.2a2.30 2.30 0 1 0 0.01 0M93.3 185.1a2.30 2.30 0 1 0 0.01 0M133.8 187.1a2.30 2.30 0 1 0 0.01 0M85.0 177.4a2.30 2.30 0 1 0 0.01 0M142.4 171.8a2.30 2.30 0 1 0 0.01 0M125.0 178.8a2.30 2.30 0 1 0 0.01 0M114.3 179.9a2.30 2.30 0 1 0 0.01 0M45.3 181.5a2.30 2.30 0 1 0 0.01 0M132.9 187.0a2.30 2.30 0 1 0 0.01 0M184.9 183.2a2.30 2.30 0 1 0 0.01 0M165.2 168.1a2.30 2.30 0 1 0 0.01 0M150.9 187.3a2.30 2.30 0 1 0 0.01 0M163.1 182.6a2.30 2.30 0 1 0 0.01 0M116.5 179.3a2.30 2.30 0 1 0 0.01 0M131.0 183.6a2.30 2.30 0 1 0 0.01 0M151.8 180.7a2.30 2.30 0 1 0 0.01 0M82.3 191.3a2.30 2.30 0 1 0 0.01 0M97.2 166.5a2.30 2.30 0 1 0 0.01 0M184.3 186.8a2.30 2.30 0 1 0 0.01 0M137.2 186.6a2.30 2.30 0 1 0 0.01 0M147.0 176.7a2.30 2.30 0 1 0 0.01 0M134.5 174.5a2.30 2.30 0 1 0 0.01 0M105.4 176.5a2.30 2.30 0 1 0 0.01 0M136.0 187.1a2.30 2.30 0 1 0 0.01 0M105.5 183.8a2.30 2.30 0 1 0 0.01 0M49.0 175.4a2.30 2.30 0 1 0 0.01 0M150.4 186.5a2.30 2.30 0 1 0 0.01 0M165.9 187.1a2.30 2.30 0 1 0 0.01 0M67.8 178.4a2.30 2.30 0 1 0 0.01 0M32.0 180.4a2.30 2.30 0 1 0 0.01 0M139.0 179.4a2.30 2.30 0 1 0 0.01 0M94.8 183.6a2.30 2.30 0 1 0 0.01 0M150.3 182.0a2.30 2.30 0 1 0 0.01 0M107.1 181.5a2.30 2.30 0 1 0 0.01 0M133.3 182.7a2.30 2.30 0 1 0 0.01 0M153.7 181.1a2.30 2.30 0 1 0 0.01 0M75.1 179.8a2.30 2.30 0 1 0 0.01 0M144.2 178.8a2.30 2.30 0 1 0 0.01 0M138.4 177.5a2.30 2.30 0 1 0 0.01 0M181.1 183.5a2.30 2.30 0 1 0 0.01 0M135.4 185.4a2.30 2.30 0 1 0 0.01 0M159.1 181.8a2.30 2.30 0 1 0 0.01 0M168.1 184.9a2.30 2.30 0 1 0 0.01 0M138.2 181.3a2.30 2.30 0 1 0 0.01 0M88.0 182.3a2.30 2.30 0 1 0 0.01 0M136.8 176.7a2.30 2.30 0 1 0 0.01 0M181.8 181.2a2.30 2.30 0 1 0 0.01 0M89.3 179.0a2.30 2.30 0 1 0 0.01 0M128.5 181.1a2.30 2.30 0 1 0 0.01 0M100.4 181.5a2.30 2.30 0 1 0 0.01 0M74.7 178.9a2.30 2.30 0 1 0 0.01 0M146.6 177.6a2.30 2.30 0 1 0 0.01 0M154.6 185.7a2.30 2.30 0 1 0 0.01 0M107.5 168.1a2.30 2.30 0 1 0 0.01 0M163.5 188.7a2.30 2.30 0 1 0 0.01 0M69.6 182.4a2.30 2.30 0 1 0 0.01 0M142.5 172.4a2.30 2.30 0 1 0 0.01 0M109.7 188.2a2.30 2.30 0 1 0 0.01 0M138.8 181.4a2.30 2.30 0 1 0 0.01 0M174.6 178.1a2.30 2.30 0 1 0 0.01 0M62.2 188.8a2.30 2.30 0 1 0 0.01 0M101.1 181.4a2.30 2.30 0 1 0 0.01 0M175.2 183.0a2.30 2.30 0 1 0 0.01 0M137.5 178.1a2.30 2.30 0 1 0 0.01 0M153.4 193.5a2.30 2.30 0 1 0 0.01 0M109.5 175.3a2.30 2.30 0 1 0 0.01 0M143.1 177.5a2.30 2.30 0 1 0 0.01 0M136.4 181.6a2.30 2.30 0 1 0 0.01 0M150.5 182.6a2.30 2.30 0 1 0 0.01 0M143.7 188.5a2.30 2.30 0 1 0 0.01 0M95.0 181.8a2.30 2.30 0 1 0 0.01 0M144.1 174.8a2.30 2.30 0 1 0 0.01 0M96.0 179.7a2.30 2.30 0 1 0 0.01 0M111.6 187.7a2.30 2.30 0 1 0 0.01 0M137.0 197.7a2.30 2.30 0 1 0 0.01 0M117.7 179.8a2.30 2.30 0 1 0 0.01 0M217.7 178.5a2.30 2.30 0 1 0 0.01 0M215.5 164.4a2.30 2.30 0 1 0 0.01 0M106.9 189.3a2.30 2.30 0 1 0 0.01 0M192.7 184.1a2.30 2.30 0 1 0 0.01 0M107.5 180.8a2.30 2.30 0 1 0 0.01 0M161.9 183.3a2.30 2.30 0 1 0 0.01 0M168.5 177.6a2.30 2.30 0 1 0 0.01 0M164.1 188.7a2.30 2.30 0 1 0 0.01 0M250.0 185.6a2.30 2.30 0 1 0 0.01 0M159.4 177.0a2.30 2.30 0 1 0 0.01 0M81.7 169.0a2.30 2.30 0 1 0 0.01 0M150.3 192.8a2.30 2.30 0 1 0 0.01 0M128.9 168.0a2.30 2.30 0 1 0 0.01 0M140.0 180.5a2.30 2.30 0 1 0 0.01 0M118.5 191.3a2.30 2.30 0 1 0 0.01 0M179.9 189.9a2.30 2.30 0 1 0 0.01 0M102.8 183.7a2.30 2.30 0 1 0 0.01 0M91.2 188.0a2.30 2.30 0 1 0 0.01 0M90.5 188.6a2.30 2.30 0 1 0 0.01 0M142.6 183.0a2.30 2.30 0 1 0 0.01 0M78.3 185.6a2.30 2.30 0 1 0 0.01 0M63.7 174.8a2.30 2.30 0 1 0 0.01 0M97.3 193.1a2.30 2.30 0 1 0 0.01 0M137.0 177.9a2.30 2.30 0 1 0 0.01 0M152.8 194.8a2.30 2.30 0 1 0 0.01 0M126.8 175.8a2.30 2.30 0 1 0 0.01 0M90.4 181.3a2.30 2.30 0 1 0 0.01 0M196.6 180.9a2.30 2.30 0 1 0 0.01 0M123.5 176.2a2.30 2.30 0 1 0 0.01 0M89.1 187.4a2.30 2.30 0 1 0 0.01 0M145.8 183.9a2.30 2.30 0 1 0 0.01 0M80.1 184.7a2.30 2.30 0 1 0 0.01 0M144.8 190.0a2.30 2.30 0 1 0 0.01 0M172.8 180.3a2.30 2.30 0 1 0 0.01 0M144.9 183.3a2.30 2.30 0 1 0 0.01 0M128.5 176.8a2.30 2.30 0 1 0 0.01 0M166.4 194.0a2.30 2.30 0 1 0 0.01 0M128.5 190.6a2.30 2.30 0 1 0 0.01 0M119.7 179.7a2.30 2.30 0 1 0 0.01 0M131.0 179.9a2.30 2.30 0 1 0 0.01 0M169.1 188.0a2.30 2.30 0 1 0 0.01 0M34.2 186.1a2.30 2.30 0 1 0 0.01 0M147.1 191.2a2.30 2.30 0 1 0 0.01 0M98.0 182.3a2.30 2.30 0 1 0 0.01 0M178.5 186.5a2.30 2.30 0 1 0 0.01 0M190.5 177.2a2.30 2.30 0 1 0 0.01 0M106.5 184.8a2.30 2.30 0 1 0 0.01 0M79.8 184.0a2.30 2.30 0 1 0 0.01 0M167.7 183.5a2.30 2.30 0 1 0 0.01 0M80.6 178.4a2.30 2.30 0 1 0 0.01 0M119.9 183.8a2.30 2.30 0 1 0 0.01 0M141.2 179.1a2.30 2.30 0 1 0 0.01 0M67.5 171.4a2.30 2.30 0 1 0 0.01 0M92.9 175.7a2.30 2.30 0 1 0 0.01 0M106.8 175.4a2.30 2.30 0 1 0 0.01 0M124.9 178.0a2.30 2.30 0 1 0 0.01 0M137.9 181.3a2.30 2.30 0 1 0 0.01 0M152.9 176.0a2.30 2.30 0 1 0 0.01 0M96.4 175.2a2.30 2.30 0 1 0 0.01 0M133.6 185.3a2.30 2.30 0 1 0 0.01 0M174.1 182.2a2.30 2.30 0 1 0 0.01 0M124.9 185.4a2.30 2.30 0 1 0 0.01 0" fill="#4169e1" fill-opacity="0.090" stroke="#4169e1" stroke-opacity="0.140" stroke-width="0.60"/><path d="M127.3 97.4L140.3 110.4M127.3 110.4L140.3 97.4" stroke="#1f5a1f" stroke-width="1.10" fill="none"/><path d="M116.9 108.7L129.9 121.7M116.9 121.7L129.9 108.7" stroke="#1f5a1f" stroke-width="1.10" fill="none"/><path d="M142.1 106.5L155.1 119.5M142.1 119.5L155.1 106.5" stroke="#1f5a1f" stroke-width="1.10" fill="none"/><path d="M169.0 114.7L182.0 127.7M169.0 127.7L182.0 114.7" stroke="#1f5a1f" stroke-width="1.10" fill="none"/><path d="M136.0 126.0L149.0 139.0M136.0 139.0L149.0 126.0" stroke="#1f5a1f" stroke-width="1.10" fill="none"/><path d="M114.0 171.9L127.0 184.9M114.0 184.9L127.0 171.9" stroke="#1f2a7a" stroke-width="1.10" fill="none"/><path d="M127.3 176.2L140.3 189.2M127.3 189.2L140.3 176.2" stroke="#1f2a7a" stroke-width="1.10" fill="none"/><path d="M147.6 176.9L160.6 189.9M147.6 189.9L160.6 176.9" stroke="#1f2a7a" stroke-width="1.10" fill="none"/><path d="M167.2 174.0L180.2 187.0M167.2 187.0L180.2 174.0" stroke="#1f2a7a" stroke-width="1.10" fill="none"/><path d="M130.9 190.0L143.9 203.0M130.9 203.0L143.9 190.0" stroke="#1f2a7a" stroke-width="1.10" fill="none"/></g><rect x="0.65" y="0.65" width="301.40" height="215.40" fill="none" stroke="#555" stroke-width="1.30"/></svg>
<svg style="left:2728.10px;top:1670.40px" width="302.70" height="216.70" viewBox="0 0 302.70 216.70"><defs><clipPath id="c230"><rect width="302.70" height="216.70"/></clipPath><filter id="f231" filterUnits="userSpaceOnUse" x="-60" y="-60" width="423" height="337"><feGaussianBlur stdDeviation="5.00"/></filter><filter id="f232" filterUnits="userSpaceOnUse" x="-60" y="-60" width="423" height="337"><feGaussianBlur stdDeviation="5.00"/></filter><filter id="f233" filterUnits="userSpaceOnUse" x="-60" y="-60" width="423" height="337"><feGaussianBlur stdDeviation="5.00"/></filter><filter id="f234" filterUnits="userSpaceOnUse" x="-60" y="-60" width="423" height="337"><feGaussianBlur stdDeviation="2.50"/></filter><filter id="f235" filterUnits="userSpaceOnUse" x="-60" y="-60" width="423" height="337"><feGaussianBlur stdDeviation="2.50"/></filter><filter id="f236" filterUnits="userSpaceOnUse" x="-60" y="-60" width="423" height="337"><feGaussianBlur stdDeviation="2.50"/></filter><filter id="f237" filterUnits="userSpaceOnUse" x="-60" y="-60" width="423" height="337"><feGaussianBlur stdDeviation="1.00"/></filter><filter id="f238" filterUnits="userSpaceOnUse" x="-60" y="-60" width="423" height="337"><feGaussianBlur stdDeviation="1.00"/></filter><filter id="f239" filterUnits="userSpaceOnUse" x="-60" y="-60" width="423" height="337"><feGaussianBlur stdDeviation="1.00"/></filter></defs><g clip-path="url(#c230)"><rect width="302.70" height="216.70" fill="#f5f9fe"/><path d="M -5.1,161.3 C -4.2,161.3 -14.5,162.0 0.0,161.0 C 14.5,160.0 58.5,156.8 81.7,155.2 C 105.0,153.7 124.2,152.8 139.6,151.6 C 155.0,150.4 167.6,148.7 174.3,148.0 C 181.1,147.3 179.1,147.5 180.1,147.4" fill="none" stroke="#d5e5f4" stroke-width="26.00" stroke-opacity="0.900" stroke-linecap="round" stroke-linejoin="round" filter="url(#f231)"/><path d="M 170.7,152.3 C 171.3,151.6 167.5,156.2 174.3,148.0 C 181.2,139.8 199.6,119.1 211.9,103.1 C 224.2,87.2 238.5,69.7 248.1,52.5 C 257.7,35.3 265.0,10.1 269.8,0.0 C 274.6,-10.1 275.8,-6.9 277.0,-8.2" fill="none" stroke="#d5e5f4" stroke-width="26.00" stroke-opacity="0.900" stroke-linecap="round" stroke-linejoin="round" filter="url(#f232)"/><path d="M 170.7,143.7 C 171.3,144.4 169.9,142.7 174.3,148.0 C 178.8,153.3 187.8,164.0 197.5,175.5 C 207.1,186.9 225.4,208.3 232.2,216.7 C 238.9,225.1 237.0,224.5 238.0,226.1" fill="none" stroke="#d5e5f4" stroke-width="26.00" stroke-opacity="0.900" stroke-linecap="round" stroke-linejoin="round" filter="url(#f233)"/><path d="M -5.1,161.3 C -4.2,161.3 -14.5,162.0 0.0,161.0 C 14.5,160.0 58.5,156.8 81.7,155.2 C 105.0,153.7 124.2,152.8 139.6,151.6 C 155.0,150.4 167.6,148.7 174.3,148.0 C 181.1,147.3 179.1,147.5 180.1,147.4" fill="none" stroke="#5b9bd0" stroke-width="12.00" stroke-opacity="0.800" stroke-linecap="round" stroke-linejoin="round" filter="url(#f234)"/><path d="M 170.7,152.3 C 171.3,151.6 167.5,156.2 174.3,148.0 C 181.2,139.8 199.6,119.1 211.9,103.1 C 224.2,87.2 238.5,69.7 248.1,52.5 C 257.7,35.3 265.0,10.1 269.8,0.0 C 274.6,-10.1 275.8,-6.9 277.0,-8.2" fill="none" stroke="#5b9bd0" stroke-width="12.00" stroke-opacity="0.800" stroke-linecap="round" stroke-linejoin="round" filter="url(#f235)"/><path d="M 170.7,143.7 C 171.3,144.4 169.9,142.7 174.3,148.0 C 178.8,153.3 187.8,164.0 197.5,175.5 C 207.1,186.9 225.4,208.3 232.2,216.7 C 238.9,225.1 237.0,224.5 238.0,226.1" fill="none" stroke="#5b9bd0" stroke-width="12.00" stroke-opacity="0.800" stroke-linecap="round" stroke-linejoin="round" filter="url(#f236)"/><path d="M -5.1,161.3 C -4.2,161.3 -14.5,162.0 0.0,161.0 C 14.5,160.0 58.5,156.8 81.7,155.2 C 105.0,153.7 124.2,152.8 139.6,151.6 C 155.0,150.4 167.6,148.7 174.3,148.0 C 181.1,147.3 179.1,147.5 180.1,147.4" fill="none" stroke="#163a74" stroke-width="6.50" stroke-opacity="1.000" stroke-linecap="round" stroke-linejoin="round" filter="url(#f237)"/><path d="M 170.7,152.3 C 171.3,151.6 167.5,156.2 174.3,148.0 C 181.2,139.8 199.6,119.1 211.9,103.1 C 224.2,87.2 238.5,69.7 248.1,52.5 C 257.7,35.3 265.0,10.1 269.8,0.0 C 274.6,-10.1 275.8,-6.9 277.0,-8.2" fill="none" stroke="#163a74" stroke-width="6.50" stroke-opacity="1.000" stroke-linecap="round" stroke-linejoin="round" filter="url(#f238)"/><path d="M 170.7,143.7 C 171.3,144.4 169.9,142.7 174.3,148.0 C 178.8,153.3 187.8,164.0 197.5,175.5 C 207.1,186.9 225.4,208.3 232.2,216.7 C 238.9,225.1 237.0,224.5 238.0,226.1" fill="none" stroke="#163a74" stroke-width="6.50" stroke-opacity="1.000" stroke-linecap="round" stroke-linejoin="round" filter="url(#f239)"/><path d="M145.2 96.7a2.30 2.30 0 1 0 0.01 0M181.1 98.5a2.30 2.30 0 1 0 0.01 0M139.3 142.6a2.30 2.30 0 1 0 0.01 0M120.9 90.4a2.30 2.30 0 1 0 0.01 0M140.7 96.7a2.30 2.30 0 1 0 0.01 0M115.8 99.7a2.30 2.30 0 1 0 0.01 0M130.8 119.1a2.30 2.30 0 1 0 0.01 0M107.3 87.8a2.30 2.30 0 1 0 0.01 0M158.0 149.2a2.30 2.30 0 1 0 0.01 0M110.1 120.1a2.30 2.30 0 1 0 0.01 0M119.7 84.0a2.30 2.30 0 1 0 0.01 0M121.6 94.5a2.30 2.30 0 1 0 0.01 0M155.2 121.7a2.30 2.30 0 1 0 0.01 0M138.4 95.9a2.30 2.30 0 1 0 0.01 0M137.4 102.1a2.30 2.30 0 1 0 0.01 0M151.6 89.4a2.30 2.30 0 1 0 0.01 0M137.2 102.2a2.30 2.30 0 1 0 0.01 0M136.4 110.6a2.30 2.30 0 1 0 0.01 0M140.9 136.6a2.30 2.30 0 1 0 0.01 0M135.7 142.1a2.30 2.30 0 1 0 0.01 0M131.8 93.1a2.30 2.30 0 1 0 0.01 0M139.1 113.1a2.30 2.30 0 1 0 0.01 0M142.2 135.6a2.30 2.30 0 1 0 0.01 0M157.8 116.5a2.30 2.30 0 1 0 0.01 0M131.2 102.2a2.30 2.30 0 1 0 0.01 0M162.7 109.9a2.30 2.30 0 1 0 0.01 0M113.7 88.0a2.30 2.30 0 1 0 0.01 0M126.9 132.2a2.30 2.30 0 1 0 0.01 0M135.4 158.8a2.30 2.30 0 1 0 0.01 0M149.1 107.6a2.30 2.30 0 1 0 0.01 0M129.5 127.9a2.30 2.30 0 1 0 0.01 0M133.0 84.8a2.30 2.30 0 1 0 0.01 0M147.5 104.9a2.30 2.30 0 1 0 0.01 0M158.7 102.8a2.30 2.30 0 1 0 0.01 0M85.8 123.5a2.30 2.30 0 1 0 0.01 0M103.5 141.5a2.30 2.30 0 1 0 0.01 0M170.1 94.3a2.30 2.30 0 1 0 0.01 0M116.3 71.1a2.30 2.30 0 1 0 0.01 0M153.0 99.7a2.30 2.30 0 1 0 0.01 0M126.5 98.8a2.30 2.30 0 1 0 0.01 0M174.9 112.9a2.30 2.30 0 1 0 0.01 0M150.7 123.2a2.30 2.30 0 1 0 0.01 0M155.6 130.1a2.30 2.30 0 1 0 0.01 0M124.5 99.4a2.30 2.30 0 1 0 0.01 0M123.6 87.5a2.30 2.30 0 1 0 0.01 0M157.8 92.6a2.30 2.30 0 1 0 0.01 0M135.9 88.0a2.30 2.30 0 1 0 0.01 0M126.6 123.5a2.30 2.30 0 1 0 0.01 0M129.3 93.0a2.30 2.30 0 1 0 0.01 0M146.2 116.6a2.30 2.30 0 1 0 0.01 0M151.6 108.7a2.30 2.30 0 1 0 0.01 0M105.7 119.7a2.30 2.30 0 1 0 0.01 0M146.3 129.0a2.30 2.30 0 1 0 0.01 0M122.1 165.1a2.30 2.30 0 1 0 0.01 0M115.1 122.0a2.30 2.30 0 1 0 0.01 0M138.1 92.9a2.30 2.30 0 1 0 0.01 0M152.0 97.8a2.30 2.30 0 1 0 0.01 0M95.3 76.6a2.30 2.30 0 1 0 0.01 0M145.5 158.3a2.30 2.30 0 1 0 0.01 0M110.6 104.2a2.30 2.30 0 1 0 0.01 0M163.4 119.2a2.30 2.30 0 1 0 0.01 0M130.5 70.5a2.30 2.30 0 1 0 0.01 0M105.2 86.6a2.30 2.30 0 1 0 0.01 0M130.7 50.6a2.30 2.30 0 1 0 0.01 0M106.8 111.9a2.30 2.30 0 1 0 0.01 0M129.9 86.5a2.30 2.30 0 1 0 0.01 0M130.0 85.1a2.30 2.30 0 1 0 0.01 0M154.0 144.0a2.30 2.30 0 1 0 0.01 0M174.6 121.6a2.30 2.30 0 1 0 0.01 0M150.8 139.7a2.30 2.30 0 1 0 0.01 0M168.6 139.8a2.30 2.30 0 1 0 0.01 0M159.1 89.4a2.30 2.30 0 1 0 0.01 0M108.5 125.6a2.30 2.30 0 1 0 0.01 0M135.6 103.3a2.30 2.30 0 1 0 0.01 0M121.3 73.4a2.30 2.30 0 1 0 0.01 0M162.5 115.8a2.30 2.30 0 1 0 0.01 0M118.1 114.0a2.30 2.30 0 1 0 0.01 0M142.8 117.1a2.30 2.30 0 1 0 0.01 0M177.5 103.8a2.30 2.30 0 1 0 0.01 0M114.3 105.5a2.30 2.30 0 1 0 0.01 0M125.7 117.8a2.30 2.30 0 1 0 0.01 0M141.1 112.9a2.30 2.30 0 1 0 0.01 0M127.1 114.5a2.30 2.30 0 1 0 0.01 0M128.1 117.0a2.30 2.30 0 1 0 0.01 0M131.9 77.8a2.30 2.30 0 1 0 0.01 0M146.3 87.6a2.30 2.30 0 1 0 0.01 0M163.3 115.2a2.30 2.30 0 1 0 0.01 0M145.7 107.0a2.30 2.30 0 1 0 0.01 0M136.2 47.3a2.30 2.30 0 1 0 0.01 0M159.3 85.1a2.30 2.30 0 1 0 0.01 0M154.5 89.3a2.30 2.30 0 1 0 0.01 0M134.7 99.2a2.30 2.30 0 1 0 0.01 0M118.6 100.5a2.30 2.30 0 1 0 0.01 0M145.9 94.7a2.30 2.30 0 1 0 0.01 0M114.5 90.8a2.30 2.30 0 1 0 0.01 0M141.8 132.1a2.30 2.30 0 1 0 0.01 0M152.3 111.5a2.30 2.30 0 1 0 0.01 0M119.4 126.4a2.30 2.30 0 1 0 0.01 0M137.7 98.8a2.30 2.30 0 1 0 0.01 0M153.7 119.4a2.30 2.30 0 1 0 0.01 0M146.3 77.0a2.30 2.30 0 1 0 0.01 0M126.3 63.7a2.30 2.30 0 1 0 0.01 0M140.8 105.3a2.30 2.30 0 1 0 0.01 0M154.1 109.7a2.30 2.30 0 1 0 0.01 0M130.7 155.3a2.30 2.30 0 1 0 0.01 0M118.8 72.5a2.30 2.30 0 1 0 0.01 0M126.3 117.2a2.30 2.30 0 1 0 0.01 0M131.0 94.0a2.30 2.30 0 1 0 0.01 0M117.1 139.9a2.30 2.30 0 1 0 0.01 0M126.1 78.7a2.30 2.30 0 1 0 0.01 0M135.1 85.2a2.30 2.30 0 1 0 0.01 0M133.1 136.6a2.30 2.30 0 1 0 0.01 0M129.3 103.4a2.30 2.30 0 1 0 0.01 0M130.7 100.0a2.30 2.30 0 1 0 0.01 0M152.1 117.4a2.30 2.30 0 1 0 0.01 0M131.2 82.3a2.30 2.30 0 1 0 0.01 0M134.9 124.6a2.30 2.30 0 1 0 0.01 0M137.0 101.5a2.30 2.30 0 1 0 0.01 0M104.8 128.4a2.30 2.30 0 1 0 0.01 0M110.5 73.8a2.30 2.30 0 1 0 0.01 0M130.5 105.4a2.30 2.30 0 1 0 0.01 0M138.1 86.3a2.30 2.30 0 1 0 0.01 0M131.7 90.0a2.30 2.30 0 1 0 0.01 0M104.7 98.5a2.30 2.30 0 1 0 0.01 0M124.8 114.7a2.30 2.30 0 1 0 0.01 0M134.7 127.7a2.30 2.30 0 1 0 0.01 0M149.8 126.2a2.30 2.30 0 1 0 0.01 0M159.1 121.2a2.30 2.30 0 1 0 0.01 0M134.3 137.1a2.30 2.30 0 1 0 0.01 0M120.6 103.7a2.30 2.30 0 1 0 0.01 0M152.8 97.7a2.30 2.30 0 1 0 0.01 0M150.2 85.3a2.30 2.30 0 1 0 0.01 0M127.6 117.7a2.30 2.30 0 1 0 0.01 0M150.1 133.3a2.30 2.30 0 1 0 0.01 0M136.0 111.8a2.30 2.30 0 1 0 0.01 0M148.6 115.8a2.30 2.30 0 1 0 0.01 0M113.9 90.9a2.30 2.30 0 1 0 0.01 0M163.3 74.7a2.30 2.30 0 1 0 0.01 0M148.6 94.4a2.30 2.30 0 1 0 0.01 0M155.4 85.9a2.30 2.30 0 1 0 0.01 0M138.2 56.0a2.30 2.30 0 1 0 0.01 0M136.5 130.4a2.30 2.30 0 1 0 0.01 0M110.3 133.1a2.30 2.30 0 1 0 0.01 0M124.4 103.4a2.30 2.30 0 1 0 0.01 0M87.4 130.5a2.30 2.30 0 1 0 0.01 0M121.5 91.7a2.30 2.30 0 1 0 0.01 0M114.3 80.8a2.30 2.30 0 1 0 0.01 0M157.9 92.4a2.30 2.30 0 1 0 0.01 0M153.4 100.4a2.30 2.30 0 1 0 0.01 0M143.5 92.4a2.30 2.30 0 1 0 0.01 0M145.0 166.7a2.30 2.30 0 1 0 0.01 0M149.1 116.7a2.30 2.30 0 1 0 0.01 0M128.7 128.9a2.30 2.30 0 1 0 0.01 0M161.8 63.7a2.30 2.30 0 1 0 0.01 0M112.5 155.0a2.30 2.30 0 1 0 0.01 0M145.0 107.7a2.30 2.30 0 1 0 0.01 0M147.4 130.9a2.30 2.30 0 1 0 0.01 0M151.7 99.2a2.30 2.30 0 1 0 0.01 0M174.4 104.9a2.30 2.30 0 1 0 0.01 0M121.6 91.2a2.30 2.30 0 1 0 0.01 0M134.9 95.5a2.30 2.30 0 1 0 0.01 0M133.9 112.2a2.30 2.30 0 1 0 0.01 0M78.2 85.9a2.30 2.30 0 1 0 0.01 0M154.4 118.1a2.30 2.30 0 1 0 0.01 0M125.1 89.6a2.30 2.30 0 1 0 0.01 0M157.8 98.6a2.30 2.30 0 1 0 0.01 0M127.8 149.1a2.30 2.30 0 1 0 0.01 0M130.6 121.0a2.30 2.30 0 1 0 0.01 0M136.5 105.8a2.30 2.30 0 1 0 0.01 0M120.3 84.7a2.30 2.30 0 1 0 0.01 0M159.9 77.3a2.30 2.30 0 1 0 0.01 0M142.3 75.9a2.30 2.30 0 1 0 0.01 0M133.0 103.7a2.30 2.30 0 1 0 0.01 0M108.0 131.8a2.30 2.30 0 1 0 0.01 0M134.0 133.7a2.30 2.30 0 1 0 0.01 0M120.5 126.5a2.30 2.30 0 1 0 0.01 0M179.3 109.8a2.30 2.30 0 1 0 0.01 0M125.7 116.1a2.30 2.30 0 1 0 0.01 0M139.8 99.6a2.30 2.30 0 1 0 0.01 0M135.1 90.7a2.30 2.30 0 1 0 0.01 0M144.9 95.3a2.30 2.30 0 1 0 0.01 0M121.9 124.2a2.30 2.30 0 1 0 0.01 0M134.3 168.1a2.30 2.30 0 1 0 0.01 0M132.8 87.4a2.30 2.30 0 1 0 0.01 0M127.4 113.5a2.30 2.30 0 1 0 0.01 0M124.7 74.3a2.30 2.30 0 1 0 0.01 0M166.8 74.8a2.30 2.30 0 1 0 0.01 0M164.5 108.0a2.30 2.30 0 1 0 0.01 0M118.2 144.6a2.30 2.30 0 1 0 0.01 0M133.6 80.4a2.30 2.30 0 1 0 0.01 0M138.5 135.5a2.30 2.30 0 1 0 0.01 0M149.6 124.4a2.30 2.30 0 1 0 0.01 0M168.9 109.7a2.30 2.30 0 1 0 0.01 0M144.1 99.2a2.30 2.30 0 1 0 0.01 0M111.1 101.1a2.30 2.30 0 1 0 0.01 0M166.4 63.0a2.30 2.30 0 1 0 0.01 0M161.5 110.9a2.30 2.30 0 1 0 0.01 0M120.9 106.2a2.30 2.30 0 1 0 0.01 0M169.3 90.8a2.30 2.30 0 1 0 0.01 0M151.5 131.7a2.30 2.30 0 1 0 0.01 0M121.2 119.8a2.30 2.30 0 1 0 0.01 0M146.9 93.2a2.30 2.30 0 1 0 0.01 0M149.6 95.9a2.30 2.30 0 1 0 0.01 0M126.9 75.0a2.30 2.30 0 1 0 0.01 0M144.2 94.3a2.30 2.30 0 1 0 0.01 0M127.2 77.0a2.30 2.30 0 1 0 0.01 0M112.7 85.7a2.30 2.30 0 1 0 0.01 0M150.4 85.1a2.30 2.30 0 1 0 0.01 0M163.3 114.4a2.30 2.30 0 1 0 0.01 0M140.1 75.7a2.30 2.30 0 1 0 0.01 0M172.5 70.0a2.30 2.30 0 1 0 0.01 0M146.9 145.3a2.30 2.30 0 1 0 0.01 0M133.7 88.2a2.30 2.30 0 1 0 0.01 0M137.0 126.6a2.30 2.30 0 1 0 0.01 0M161.8 119.1a2.30 2.30 0 1 0 0.01 0M118.1 88.4a2.30 2.30 0 1 0 0.01 0M141.0 74.0a2.30 2.30 0 1 0 0.01 0M133.0 158.4a2.30 2.30 0 1 0 0.01 0M118.3 132.4a2.30 2.30 0 1 0 0.01 0M120.5 96.4a2.30 2.30 0 1 0 0.01 0" fill="#2ca02c" fill-opacity="0.080" stroke="#2ca02c" stroke-opacity="0.140" stroke-width="0.60"/><path d="M127.4 173.0a2.30 2.30 0 1 0 0.01 0M126.1 188.4a2.30 2.30 0 1 0 0.01 0M157.3 185.1a2.30 2.30 0 1 0 0.01 0M99.5 180.5a2.30 2.30 0 1 0 0.01 0M137.8 185.0a2.30 2.30 0 1 0 0.01 0M181.1 175.8a2.30 2.30 0 1 0 0.01 0M194.7 179.7a2.30 2.30 0 1 0 0.01 0M120.5 174.6a2.30 2.30 0 1 0 0.01 0M127.5 180.0a2.30 2.30 0 1 0 0.01 0M83.2 179.7a2.30 2.30 0 1 0 0.01 0M134.7 179.0a2.30 2.30 0 1 0 0.01 0M159.7 175.6a2.30 2.30 0 1 0 0.01 0M163.9 180.2a2.30 2.30 0 1 0 0.01 0M144.2 171.1a2.30 2.30 0 1 0 0.01 0M135.0 180.9a2.30 2.30 0 1 0 0.01 0M165.6 174.8a2.30 2.30 0 1 0 0.01 0M181.9 175.3a2.30 2.30 0 1 0 0.01 0M180.1 184.4a2.30 2.30 0 1 0 0.01 0M101.4 193.2a2.30 2.30 0 1 0 0.01 0M84.6 180.3a2.30 2.30 0 1 0 0.01 0M137.9 184.1a2.30 2.30 0 1 0 0.01 0M138.7 185.7a2.30 2.30 0 1 0 0.01 0M147.5 181.4a2.30 2.30 0 1 0 0.01 0M94.7 179.4a2.30 2.30 0 1 0 0.01 0M164.4 174.9a2.30 2.30 0 1 0 0.01 0M134.3 170.0a2.30 2.30 0 1 0 0.01 0M103.6 172.3a2.30 2.30 0 1 0 0.01 0M177.4 171.2a2.30 2.30 0 1 0 0.01 0M121.0 185.3a2.30 2.30 0 1 0 0.01 0M153.2 185.5a2.30 2.30 0 1 0 0.01 0M170.4 183.9a2.30 2.30 0 1 0 0.01 0M161.8 181.0a2.30 2.30 0 1 0 0.01 0M129.1 171.6a2.30 2.30 0 1 0 0.01 0M136.5 188.2a2.30 2.30 0 1 0 0.01 0M101.6 174.8a2.30 2.30 0 1 0 0.01 0M133.5 187.5a2.30 2.30 0 1 0 0.01 0M175.9 173.0a2.30 2.30 0 1 0 0.01 0M147.2 177.7a2.30 2.30 0 1 0 0.01 0M140.6 168.8a2.30 2.30 0 1 0 0.01 0M165.1 179.1a2.30 2.30 0 1 0 0.01 0M137.9 180.3a2.30 2.30 0 1 0 0.01 0M90.8 184.2a2.30 2.30 0 1 0 0.01 0M111.8 177.5a2.30 2.30 0 1 0 0.01 0M155.1 180.8a2.30 2.30 0 1 0 0.01 0M103.5 186.4a2.30 2.30 0 1 0 0.01 0M107.6 181.1a2.30 2.30 0 1 0 0.01 0M158.0 186.5a2.30 2.30 0 1 0 0.01 0M175.7 190.4a2.30 2.30 0 1 0 0.01 0M131.8 176.9a2.30 2.30 0 1 0 0.01 0M192.7 188.9a2.30 2.30 0 1 0 0.01 0M118.7 185.1a2.30 2.30 0 1 0 0.01 0M115.7 172.7a2.30 2.30 0 1 0 0.01 0M169.5 183.2a2.30 2.30 0 1 0 0.01 0M134.7 190.6a2.30 2.30 0 1 0 0.01 0M184.5 177.7a2.30 2.30 0 1 0 0.01 0M87.9 170.8a2.30 2.30 0 1 0 0.01 0M130.3 179.1a2.30 2.30 0 1 0 0.01 0M143.9 181.3a2.30 2.30 0 1 0 0.01 0M105.1 179.0a2.30 2.30 0 1 0 0.01 0M70.9 188.0a2.30 2.30 0 1 0 0.01 0M109.8 184.6a2.30 2.30 0 1 0 0.01 0M105.1 181.7a2.30 2.30 0 1 0 0.01 0M154.0 179.8a2.30 2.30 0 1 0 0.01 0M99.1 194.1a2.30 2.30 0 1 0 0.01 0M122.5 184.4a2.30 2.30 0 1 0 0.01 0M127.0 177.0a2.30 2.30 0 1 0 0.01 0M180.0 183.4a2.30 2.30 0 1 0 0.01 0M143.0 168.7a2.30 2.30 0 1 0 0.01 0M141.0 185.9a2.30 2.30 0 1 0 0.01 0M140.8 180.4a2.30 2.30 0 1 0 0.01 0M175.4 182.6a2.30 2.30 0 1 0 0.01 0M152.1 187.0a2.30 2.30 0 1 0 0.01 0M168.1 174.0a2.30 2.30 0 1 0 0.01 0M142.8 177.1a2.30 2.30 0 1 0 0.01 0M53.8 182.8a2.30 2.30 0 1 0 0.01 0M64.0 178.7a2.30 2.30 0 1 0 0.01 0M34.7 175.7a2.30 2.30 0 1 0 0.01 0M112.2 181.2a2.30 2.30 0 1 0 0.01 0M109.6 176.2a2.30 2.30 0 1 0 0.01 0M95.8 189.7a2.30 2.30 0 1 0 0.01 0M112.2 180.7a2.30 2.30 0 1 0 0.01 0M201.7 171.7a2.30 2.30 0 1 0 0.01 0M51.5 175.6a2.30 2.30 0 1 0 0.01 0M115.0 175.0a2.30 2.30 0 1 0 0.01 0M128.4 180.8a2.30 2.30 0 1 0 0.01 0M71.1 182.2a2.30 2.30 0 1 0 0.01 0M75.5 185.1a2.30 2.30 0 1 0 0.01 0M138.4 193.3a2.30 2.30 0 1 0 0.01 0M161.3 180.1a2.30 2.30 0 1 0 0.01 0M142.9 182.0a2.30 2.30 0 1 0 0.01 0M101.7 173.2a2.30 2.30 0 1 0 0.01 0M171.6 189.6a2.30 2.30 0 1 0 0.01 0M112.2 179.8a2.30 2.30 0 1 0 0.01 0M111.4 186.8a2.30 2.30 0 1 0 0.01 0M175.8 176.4a2.30 2.30 0 1 0 0.01 0M116.9 178.3a2.30 2.30 0 1 0 0.01 0M138.0 185.5a2.30 2.30 0 1 0 0.01 0M170.5 179.7a2.30 2.30 0 1 0 0.01 0M92.5 184.2a2.30 2.30 0 1 0 0.01 0M152.5 179.3a2.30 2.30 0 1 0 0.01 0M136.3 183.2a2.30 2.30 0 1 0 0.01 0M163.4 181.6a2.30 2.30 0 1 0 0.01 0M148.5 182.2a2.30 2.30 0 1 0 0.01 0M93.3 185.1a2.30 2.30 0 1 0 0.01 0M133.8 187.1a2.30 2.30 0 1 0 0.01 0M85.0 177.4a2.30 2.30 0 1 0 0.01 0M142.4 171.8a2.30 2.30 0 1 0 0.01 0M125.0 178.8a2.30 2.30 0 1 0 0.01 0M114.3 179.9a2.30 2.30 0 1 0 0.01 0M45.3 181.5a2.30 2.30 0 1 0 0.01 0M132.9 187.0a2.30 2.30 0 1 0 0.01 0M184.9 183.2a2.30 2.30 0 1 0 0.01 0M165.2 168.1a2.30 2.30 0 1 0 0.01 0M150.9 187.3a2.30 2.30 0 1 0 0.01 0M163.1 182.6a2.30 2.30 0 1 0 0.01 0M116.5 179.3a2.30 2.30 0 1 0 0.01 0M131.0 183.6a2.30 2.30 0 1 0 0.01 0M151.8 180.7a2.30 2.30 0 1 0 0.01 0M82.3 191.3a2.30 2.30 0 1 0 0.01 0M97.2 166.5a2.30 2.30 0 1 0 0.01 0M184.3 186.8a2.30 2.30 0 1 0 0.01 0M137.2 186.6a2.30 2.30 0 1 0 0.01 0M147.0 176.7a2.30 2.30 0 1 0 0.01 0M134.5 174.5a2.30 2.30 0 1 0 0.01 0M105.4 176.5a2.30 2.30 0 1 0 0.01 0M136.0 187.1a2.30 2.30 0 1 0 0.01 0M105.5 183.8a2.30 2.30 0 1 0 0.01 0M49.0 175.4a2.30 2.30 0 1 0 0.01 0M150.4 186.5a2.30 2.30 0 1 0 0.01 0M165.9 187.1a2.30 2.30 0 1 0 0.01 0M67.8 178.4a2.30 2.30 0 1 0 0.01 0M32.0 180.4a2.30 2.30 0 1 0 0.01 0M139.0 179.4a2.30 2.30 0 1 0 0.01 0M94.8 183.6a2.30 2.30 0 1 0 0.01 0M150.3 182.0a2.30 2.30 0 1 0 0.01 0M107.1 181.5a2.30 2.30 0 1 0 0.01 0M133.3 182.7a2.30 2.30 0 1 0 0.01 0M153.7 181.1a2.30 2.30 0 1 0 0.01 0M75.1 179.8a2.30 2.30 0 1 0 0.01 0M144.2 178.8a2.30 2.30 0 1 0 0.01 0M138.4 177.5a2.30 2.30 0 1 0 0.01 0M181.1 183.5a2.30 2.30 0 1 0 0.01 0M135.4 185.4a2.30 2.30 0 1 0 0.01 0M159.1 181.8a2.30 2.30 0 1 0 0.01 0M168.1 184.9a2.30 2.30 0 1 0 0.01 0M138.2 181.3a2.30 2.30 0 1 0 0.01 0M88.0 182.3a2.30 2.30 0 1 0 0.01 0M136.8 176.7a2.30 2.30 0 1 0 0.01 0M181.8 181.2a2.30 2.30 0 1 0 0.01 0M89.3 179.0a2.30 2.30 0 1 0 0.01 0M128.5 181.1a2.30 2.30 0 1 0 0.01 0M100.4 181.5a2.30 2.30 0 1 0 0.01 0M74.7 178.9a2.30 2.30 0 1 0 0.01 0M146.6 177.6a2.30 2.30 0 1 0 0.01 0M154.6 185.7a2.30 2.30 0 1 0 0.01 0M107.5 168.1a2.30 2.30 0 1 0 0.01 0M163.5 188.7a2.30 2.30 0 1 0 0.01 0M69.6 182.4a2.30 2.30 0 1 0 0.01 0M142.5 172.4a2.30 2.30 0 1 0 0.01 0M109.7 188.2a2.30 2.30 0 1 0 0.01 0M138.8 181.4a2.30 2.30 0 1 0 0.01 0M174.6 178.1a2.30 2.30 0 1 0 0.01 0M62.2 188.8a2.30 2.30 0 1 0 0.01 0M101.1 181.4a2.30 2.30 0 1 0 0.01 0M175.2 183.0a2.30 2.30 0 1 0 0.01 0M137.5 178.1a2.30 2.30 0 1 0 0.01 0M153.4 193.5a2.30 2.30 0 1 0 0.01 0M109.5 175.3a2.30 2.30 0 1 0 0.01 0M143.1 177.5a2.30 2.30 0 1 0 0.01 0M136.4 181.6a2.30 2.30 0 1 0 0.01 0M150.5 182.6a2.30 2.30 0 1 0 0.01 0M143.7 188.5a2.30 2.30 0 1 0 0.01 0M95.0 181.8a2.30 2.30 0 1 0 0.01 0M144.1 174.8a2.30 2.30 0 1 0 0.01 0M96.0 179.7a2.30 2.30 0 1 0 0.01 0M111.6 187.7a2.30 2.30 0 1 0 0.01 0M137.0 197.7a2.30 2.30 0 1 0 0.01 0M117.7 179.8a2.30 2.30 0 1 0 0.01 0M217.7 178.5a2.30 2.30 0 1 0 0.01 0M215.5 164.4a2.30 2.30 0 1 0 0.01 0M106.9 189.3a2.30 2.30 0 1 0 0.01 0M192.7 184.1a2.30 2.30 0 1 0 0.01 0M107.5 180.8a2.30 2.30 0 1 0 0.01 0M161.9 183.3a2.30 2.30 0 1 0 0.01 0M168.5 177.6a2.30 2.30 0 1 0 0.01 0M164.1 188.7a2.30 2.30 0 1 0 0.01 0M250.0 185.6a2.30 2.30 0 1 0 0.01 0M159.4 177.0a2.30 2.30 0 1 0 0.01 0M81.7 169.0a2.30 2.30 0 1 0 0.01 0M150.3 192.8a2.30 2.30 0 1 0 0.01 0M128.9 168.0a2.30 2.30 0 1 0 0.01 0M140.0 180.5a2.30 2.30 0 1 0 0.01 0M118.5 191.3a2.30 2.30 0 1 0 0.01 0M179.9 189.9a2.30 2.30 0 1 0 0.01 0M102.8 183.7a2.30 2.30 0 1 0 0.01 0M91.2 188.0a2.30 2.30 0 1 0 0.01 0M90.5 188.6a2.30 2.30 0 1 0 0.01 0M142.6 183.0a2.30 2.30 0 1 0 0.01 0M78.3 185.6a2.30 2.30 0 1 0 0.01 0M63.7 174.8a2.30 2.30 0 1 0 0.01 0M97.3 193.1a2.30 2.30 0 1 0 0.01 0M137.0 177.9a2.30 2.30 0 1 0 0.01 0M152.8 194.8a2.30 2.30 0 1 0 0.01 0M126.8 175.8a2.30 2.30 0 1 0 0.01 0M90.4 181.3a2.30 2.30 0 1 0 0.01 0M196.6 180.9a2.30 2.30 0 1 0 0.01 0M123.5 176.2a2.30 2.30 0 1 0 0.01 0M89.1 187.4a2.30 2.30 0 1 0 0.01 0M145.8 183.9a2.30 2.30 0 1 0 0.01 0M80.1 184.7a2.30 2.30 0 1 0 0.01 0M144.8 190.0a2.30 2.30 0 1 0 0.01 0M172.8 180.3a2.30 2.30 0 1 0 0.01 0M144.9 183.3a2.30 2.30 0 1 0 0.01 0M128.5 176.8a2.30 2.30 0 1 0 0.01 0M166.4 194.0a2.30 2.30 0 1 0 0.01 0M128.5 190.6a2.30 2.30 0 1 0 0.01 0M119.7 179.7a2.30 2.30 0 1 0 0.01 0M131.0 179.9a2.30 2.30 0 1 0 0.01 0M169.1 188.0a2.30 2.30 0 1 0 0.01 0M34.2 186.1a2.30 2.30 0 1 0 0.01 0M147.1 191.2a2.30 2.30 0 1 0 0.01 0M98.0 182.3a2.30 2.30 0 1 0 0.01 0M178.5 186.5a2.30 2.30 0 1 0 0.01 0M190.5 177.2a2.30 2.30 0 1 0 0.01 0M106.5 184.8a2.30 2.30 0 1 0 0.01 0M79.8 184.0a2.30 2.30 0 1 0 0.01 0M167.7 183.5a2.30 2.30 0 1 0 0.01 0M80.6 178.4a2.30 2.30 0 1 0 0.01 0M119.9 183.8a2.30 2.30 0 1 0 0.01 0M141.2 179.1a2.30 2.30 0 1 0 0.01 0M67.5 171.4a2.30 2.30 0 1 0 0.01 0M92.9 175.7a2.30 2.30 0 1 0 0.01 0M106.8 175.4a2.30 2.30 0 1 0 0.01 0M124.9 178.0a2.30 2.30 0 1 0 0.01 0M137.9 181.3a2.30 2.30 0 1 0 0.01 0M152.9 176.0a2.30 2.30 0 1 0 0.01 0M96.4 175.2a2.30 2.30 0 1 0 0.01 0M133.6 185.3a2.30 2.30 0 1 0 0.01 0M174.1 182.2a2.30 2.30 0 1 0 0.01 0M124.9 185.4a2.30 2.30 0 1 0 0.01 0" fill="#4169e1" fill-opacity="0.090" stroke="#4169e1" stroke-opacity="0.140" stroke-width="0.60"/><path d="M213.0 115.3a2.30 2.30 0 1 0 0.01 0M217.0 129.3a2.30 2.30 0 1 0 0.01 0M205.9 134.9a2.30 2.30 0 1 0 0.01 0M209.1 138.4a2.30 2.30 0 1 0 0.01 0M209.7 131.5a2.30 2.30 0 1 0 0.01 0M210.2 136.4a2.30 2.30 0 1 0 0.01 0M216.1 145.2a2.30 2.30 0 1 0 0.01 0M213.2 163.9a2.30 2.30 0 1 0 0.01 0M206.4 143.3a2.30 2.30 0 1 0 0.01 0M219.1 152.7a2.30 2.30 0 1 0 0.01 0M218.9 117.1a2.30 2.30 0 1 0 0.01 0M219.0 122.5a2.30 2.30 0 1 0 0.01 0M218.9 145.4a2.30 2.30 0 1 0 0.01 0M217.6 120.6a2.30 2.30 0 1 0 0.01 0M212.2 95.2a2.30 2.30 0 1 0 0.01 0M215.1 157.3a2.30 2.30 0 1 0 0.01 0M215.2 166.9a2.30 2.30 0 1 0 0.01 0M216.4 143.3a2.30 2.30 0 1 0 0.01 0M216.2 127.2a2.30 2.30 0 1 0 0.01 0M218.1 147.0a2.30 2.30 0 1 0 0.01 0M215.2 137.2a2.30 2.30 0 1 0 0.01 0M210.6 117.8a2.30 2.30 0 1 0 0.01 0M212.1 157.8a2.30 2.30 0 1 0 0.01 0M204.7 143.6a2.30 2.30 0 1 0 0.01 0M231.3 146.4a2.30 2.30 0 1 0 0.01 0M212.9 150.9a2.30 2.30 0 1 0 0.01 0M213.1 144.4a2.30 2.30 0 1 0 0.01 0M214.6 118.5a2.30 2.30 0 1 0 0.01 0M219.8 147.5a2.30 2.30 0 1 0 0.01 0M219.5 146.5a2.30 2.30 0 1 0 0.01 0M219.2 143.9a2.30 2.30 0 1 0 0.01 0M229.1 170.3a2.30 2.30 0 1 0 0.01 0M220.6 141.5a2.30 2.30 0 1 0 0.01 0M206.4 135.5a2.30 2.30 0 1 0 0.01 0M216.6 146.4a2.30 2.30 0 1 0 0.01 0M211.2 125.2a2.30 2.30 0 1 0 0.01 0M207.9 132.0a2.30 2.30 0 1 0 0.01 0M217.1 158.5a2.30 2.30 0 1 0 0.01 0M217.1 138.0a2.30 2.30 0 1 0 0.01 0M214.8 142.0a2.30 2.30 0 1 0 0.01 0M216.0 148.9a2.30 2.30 0 1 0 0.01 0M216.9 138.8a2.30 2.30 0 1 0 0.01 0M213.4 174.7a2.30 2.30 0 1 0 0.01 0M220.1 91.2a2.30 2.30 0 1 0 0.01 0M215.3 149.2a2.30 2.30 0 1 0 0.01 0M217.7 89.7a2.30 2.30 0 1 0 0.01 0M205.1 129.5a2.30 2.30 0 1 0 0.01 0M213.8 112.3a2.30 2.30 0 1 0 0.01 0M218.8 163.3a2.30 2.30 0 1 0 0.01 0M216.4 158.7a2.30 2.30 0 1 0 0.01 0M207.4 135.3a2.30 2.30 0 1 0 0.01 0M201.6 161.9a2.30 2.30 0 1 0 0.01 0M218.8 148.1a2.30 2.30 0 1 0 0.01 0M208.2 139.5a2.30 2.30 0 1 0 0.01 0M217.9 109.6a2.30 2.30 0 1 0 0.01 0M214.2 155.7a2.30 2.30 0 1 0 0.01 0M209.4 125.6a2.30 2.30 0 1 0 0.01 0M219.0 156.9a2.30 2.30 0 1 0 0.01 0M220.2 145.5a2.30 2.30 0 1 0 0.01 0M208.5 138.1a2.30 2.30 0 1 0 0.01 0M210.2 133.3a2.30 2.30 0 1 0 0.01 0M215.7 175.1a2.30 2.30 0 1 0 0.01 0M214.1 183.9a2.30 2.30 0 1 0 0.01 0M206.9 135.4a2.30 2.30 0 1 0 0.01 0M213.5 89.9a2.30 2.30 0 1 0 0.01 0M205.4 132.1a2.30 2.30 0 1 0 0.01 0M213.9 150.3a2.30 2.30 0 1 0 0.01 0M213.8 132.9a2.30 2.30 0 1 0 0.01 0M206.7 141.2a2.30 2.30 0 1 0 0.01 0M221.3 150.6a2.30 2.30 0 1 0 0.01 0M210.0 143.4a2.30 2.30 0 1 0 0.01 0M215.5 169.9a2.30 2.30 0 1 0 0.01 0M210.7 152.1a2.30 2.30 0 1 0 0.01 0M216.2 133.1a2.30 2.30 0 1 0 0.01 0M213.0 130.4a2.30 2.30 0 1 0 0.01 0M213.8 146.5a2.30 2.30 0 1 0 0.01 0M207.5 136.9a2.30 2.30 0 1 0 0.01 0M221.0 140.1a2.30 2.30 0 1 0 0.01 0M204.3 174.7a2.30 2.30 0 1 0 0.01 0M212.3 144.4a2.30 2.30 0 1 0 0.01 0M216.1 131.0a2.30 2.30 0 1 0 0.01 0M208.5 123.1a2.30 2.30 0 1 0 0.01 0M214.8 140.1a2.30 2.30 0 1 0 0.01 0M212.1 191.0a2.30 2.30 0 1 0 0.01 0M214.7 163.2a2.30 2.30 0 1 0 0.01 0M223.9 143.8a2.30 2.30 0 1 0 0.01 0M211.6 134.6a2.30 2.30 0 1 0 0.01 0M214.1 183.2a2.30 2.30 0 1 0 0.01 0M218.8 135.9a2.30 2.30 0 1 0 0.01 0M210.8 158.7a2.30 2.30 0 1 0 0.01 0M222.5 127.1a2.30 2.30 0 1 0 0.01 0M221.5 148.7a2.30 2.30 0 1 0 0.01 0M213.7 135.3a2.30 2.30 0 1 0 0.01 0M210.3 130.2a2.30 2.30 0 1 0 0.01 0M219.8 108.0a2.30 2.30 0 1 0 0.01 0M211.5 140.2a2.30 2.30 0 1 0 0.01 0M208.0 129.6a2.30 2.30 0 1 0 0.01 0M206.6 155.8a2.30 2.30 0 1 0 0.01 0M216.8 108.3a2.30 2.30 0 1 0 0.01 0M220.5 116.9a2.30 2.30 0 1 0 0.01 0M204.1 98.5a2.30 2.30 0 1 0 0.01 0M215.7 84.5a2.30 2.30 0 1 0 0.01 0M212.9 145.6a2.30 2.30 0 1 0 0.01 0M218.2 131.9a2.30 2.30 0 1 0 0.01 0M219.1 130.1a2.30 2.30 0 1 0 0.01 0M217.9 116.6a2.30 2.30 0 1 0 0.01 0M214.8 132.3a2.30 2.30 0 1 0 0.01 0M214.2 192.1a2.30 2.30 0 1 0 0.01 0M213.3 140.9a2.30 2.30 0 1 0 0.01 0M214.0 147.7a2.30 2.30 0 1 0 0.01 0M202.5 157.4a2.30 2.30 0 1 0 0.01 0M206.6 92.0a2.30 2.30 0 1 0 0.01 0M213.9 110.3a2.30 2.30 0 1 0 0.01 0M214.5 165.9a2.30 2.30 0 1 0 0.01 0M213.4 115.7a2.30 2.30 0 1 0 0.01 0M213.8 188.2a2.30 2.30 0 1 0 0.01 0M213.6 181.7a2.30 2.30 0 1 0 0.01 0M220.6 111.3a2.30 2.30 0 1 0 0.01 0M217.8 108.1a2.30 2.30 0 1 0 0.01 0M216.1 153.1a2.30 2.30 0 1 0 0.01 0M212.4 102.0a2.30 2.30 0 1 0 0.01 0M211.5 131.7a2.30 2.30 0 1 0 0.01 0M215.7 137.9a2.30 2.30 0 1 0 0.01 0M215.8 131.9a2.30 2.30 0 1 0 0.01 0M205.3 138.6a2.30 2.30 0 1 0 0.01 0M220.2 118.9a2.30 2.30 0 1 0 0.01 0M208.1 93.2a2.30 2.30 0 1 0 0.01 0M222.5 114.0a2.30 2.30 0 1 0 0.01 0M218.5 143.2a2.30 2.30 0 1 0 0.01 0M212.6 141.1a2.30 2.30 0 1 0 0.01 0M222.5 180.2a2.30 2.30 0 1 0 0.01 0M215.8 129.2a2.30 2.30 0 1 0 0.01 0M220.6 156.0a2.30 2.30 0 1 0 0.01 0M213.9 151.8a2.30 2.30 0 1 0 0.01 0M209.5 157.2a2.30 2.30 0 1 0 0.01 0M212.0 134.0a2.30 2.30 0 1 0 0.01 0M207.5 142.0a2.30 2.30 0 1 0 0.01 0M215.4 104.3a2.30 2.30 0 1 0 0.01 0M214.9 150.1a2.30 2.30 0 1 0 0.01 0M219.8 166.7a2.30 2.30 0 1 0 0.01 0M210.4 168.9a2.30 2.30 0 1 0 0.01 0M215.9 134.5a2.30 2.30 0 1 0 0.01 0M209.5 161.1a2.30 2.30 0 1 0 0.01 0M217.4 128.6a2.30 2.30 0 1 0 0.01 0M214.9 129.9a2.30 2.30 0 1 0 0.01 0M209.5 117.7a2.30 2.30 0 1 0 0.01 0M216.4 147.1a2.30 2.30 0 1 0 0.01 0M215.2 145.2a2.30 2.30 0 1 0 0.01 0M213.6 161.6a2.30 2.30 0 1 0 0.01 0M205.2 158.9a2.30 2.30 0 1 0 0.01 0" fill="#ff7f0e" fill-opacity="0.070" stroke="#ff7f0e" stroke-opacity="0.120" stroke-width="0.60"/><path d="M128.0 97.9L139.0 108.9M128.0 108.9L139.0 97.9" stroke="#1f5a1f" stroke-width="1.10" fill="none"/><path d="M116.7 108.9L127.7 119.9M116.7 119.9L127.7 108.9" stroke="#1f5a1f" stroke-width="1.10" fill="none"/><path d="M142.1 106.6L153.1 117.6M142.1 117.6L153.1 106.6" stroke="#1f5a1f" stroke-width="1.10" fill="none"/><path d="M167.8 113.3L178.8 124.3M167.8 124.3L178.8 113.3" stroke="#1f5a1f" stroke-width="1.10" fill="none"/><path d="M135.5 125.4L146.5 136.4M135.5 136.4L146.5 125.4" stroke="#1f5a1f" stroke-width="1.10" fill="none"/><path d="M115.7 173.6L126.7 184.6M115.7 184.6L126.7 173.6" stroke="#1f2a7a" stroke-width="1.10" fill="none"/><path d="M128.3 177.9L139.3 188.9M128.3 188.9L139.3 177.9" stroke="#1f2a7a" stroke-width="1.10" fill="none"/><path d="M148.1 178.7L159.1 189.7M148.1 189.7L159.1 178.7" stroke="#1f2a7a" stroke-width="1.10" fill="none"/><path d="M167.1 176.2L178.1 187.2M167.1 187.2L178.1 176.2" stroke="#1f2a7a" stroke-width="1.10" fill="none"/><path d="M131.9 190.2L142.9 201.2M131.9 201.2L142.9 190.2" stroke="#1f2a7a" stroke-width="1.10" fill="none"/><path d="M210.3 115.2L222.3 127.2M210.3 127.2L222.3 115.2" stroke="#6b3a12" stroke-width="1.10" fill="none"/><path d="M209.6 119.6L221.6 131.6M209.6 131.6L221.6 119.6" stroke="#6b3a12" stroke-width="1.10" fill="none"/><path d="M209.6 123.2L221.6 135.2M209.6 135.2L221.6 123.2" stroke="#6b3a12" stroke-width="1.10" fill="none"/><path d="M208.8 136.9L220.8 148.9M208.8 148.9L220.8 136.9" stroke="#6b3a12" stroke-width="1.10" fill="none"/><path d="M208.8 140.5L220.8 152.5M208.8 152.5L220.8 140.5" stroke="#6b3a12" stroke-width="1.10" fill="none"/><path d="M211.0 146.3L223.0 158.3M211.0 158.3L223.0 146.3" stroke="#6b3a12" stroke-width="1.10" fill="none"/><path d="M211.0 153.6L223.0 165.6M211.0 165.6L223.0 153.6" stroke="#6b3a12" stroke-width="1.10" fill="none"/></g><rect x="0.65" y="0.65" width="301.40" height="215.40" fill="none" stroke="#555" stroke-width="1.30"/></svg>
<svg style="left:3051.10px;top:1670.40px" width="302.70" height="216.70" viewBox="0 0 302.70 216.70"><defs><clipPath id="c240"><rect width="302.70" height="216.70"/></clipPath><filter id="f241" filterUnits="userSpaceOnUse" x="-60" y="-60" width="423" height="337"><feGaussianBlur stdDeviation="6.00"/></filter><filter id="f242" filterUnits="userSpaceOnUse" x="-60" y="-60" width="423" height="337"><feGaussianBlur stdDeviation="5.00"/></filter><filter id="f243" filterUnits="userSpaceOnUse" x="-60" y="-60" width="423" height="337"><feGaussianBlur stdDeviation="5.00"/></filter><filter id="f244" filterUnits="userSpaceOnUse" x="-60" y="-60" width="423" height="337"><feGaussianBlur stdDeviation="5.00"/></filter><filter id="f245" filterUnits="userSpaceOnUse" x="-60" y="-60" width="423" height="337"><feGaussianBlur stdDeviation="5.00"/></filter><filter id="f246" filterUnits="userSpaceOnUse" x="-60" y="-60" width="423" height="337"><feGaussianBlur stdDeviation="5.00"/></filter><filter id="f247" filterUnits="userSpaceOnUse" x="-60" y="-60" width="423" height="337"><feGaussianBlur stdDeviation="2.50"/></filter><filter id="f248" filterUnits="userSpaceOnUse" x="-60" y="-60" width="423" height="337"><feGaussianBlur stdDeviation="2.50"/></filter><filter id="f249" filterUnits="userSpaceOnUse" x="-60" y="-60" width="423" height="337"><feGaussianBlur stdDeviation="2.50"/></filter><filter id="f250" filterUnits="userSpaceOnUse" x="-60" y="-60" width="423" height="337"><feGaussianBlur stdDeviation="2.50"/></filter><filter id="f251" filterUnits="userSpaceOnUse" x="-60" y="-60" width="423" height="337"><feGaussianBlur stdDeviation="2.50"/></filter><filter id="f252" filterUnits="userSpaceOnUse" x="-60" y="-60" width="423" height="337"><feGaussianBlur stdDeviation="1.00"/></filter><filter id="f253" filterUnits="userSpaceOnUse" x="-60" y="-60" width="423" height="337"><feGaussianBlur stdDeviation="1.00"/></filter><filter id="f254" filterUnits="userSpaceOnUse" x="-60" y="-60" width="423" height="337"><feGaussianBlur stdDeviation="1.00"/></filter><filter id="f255" filterUnits="userSpaceOnUse" x="-60" y="-60" width="423" height="337"><feGaussianBlur stdDeviation="1.00"/></filter><filter id="f256" filterUnits="userSpaceOnUse" x="-60" y="-60" width="423" height="337"><feGaussianBlur stdDeviation="1.00"/></filter></defs><g clip-path="url(#c240)"><rect width="302.70" height="216.70" fill="#f5f9fe"/><polygon points="0.0,0.0 122.2,0.0 96.2,81.4 52.8,124.8 0.0,139.3" fill="#ffffff" fill-opacity="1.000" filter="url(#f241)"/><path d="M -5.1,185.6 C -4.2,185.4 -8.4,187.8 0.0,184.2 C 8.4,180.5 31.5,170.2 45.6,163.9 C 59.7,157.6 77.2,149.8 84.6,146.5 C 92.1,143.3 89.5,144.7 90.4,144.4" fill="none" stroke="#d5e5f4" stroke-width="26.00" stroke-opacity="0.900" stroke-linecap="round" stroke-linejoin="round" filter="url(#f242)"/><path d="M 80.3,150.9 C 81.0,150.2 79.6,151.6 84.6,146.5 C 89.7,141.5 102.7,131.4 110.7,120.5 C 118.6,109.7 125.6,96.4 132.4,81.4 C 139.1,66.5 145.4,44.4 151.2,30.8 C 157.0,17.2 163.7,6.5 167.1,0.0 C 170.5,-6.5 170.7,-6.9 171.4,-8.2" fill="none" stroke="#d5e5f4" stroke-width="26.00" stroke-opacity="0.900" stroke-linecap="round" stroke-linejoin="round" filter="url(#f243)"/><path d="M 78.8,145.8 C 79.8,145.9 79.3,145.6 84.6,146.5 C 89.9,147.5 101.5,150.6 110.7,151.6 C 119.8,152.6 128.8,152.7 139.6,152.3 C 150.5,152.0 168.8,150.0 175.8,149.4 C 182.8,148.9 180.6,149.0 181.6,148.9" fill="none" stroke="#d5e5f4" stroke-width="26.00" stroke-opacity="0.900" stroke-linecap="round" stroke-linejoin="round" filter="url(#f244)"/><path d="M 172.2,153.8 C 172.8,153.1 169.1,159.1 175.8,149.4 C 182.4,139.8 198.7,112.5 211.9,95.9 C 225.2,79.3 240.2,65.6 255.3,49.6 C 270.5,33.6 293.6,9.6 302.8,0.0 C 311.9,-9.6 309.1,-6.9 310.3,-8.2" fill="none" stroke="#d5e5f4" stroke-width="26.00" stroke-opacity="0.900" stroke-linecap="round" stroke-linejoin="round" filter="url(#f245)"/><path d="M 172.2,145.1 C 172.8,145.8 170.3,143.2 175.8,149.4 C 181.2,155.7 194.8,171.5 204.7,182.7 C 214.6,193.9 229.1,209.5 235.1,216.7 C 241.1,223.9 239.9,224.5 240.9,226.1" fill="none" stroke="#d5e5f4" stroke-width="26.00" stroke-opacity="0.900" stroke-linecap="round" stroke-linejoin="round" filter="url(#f246)"/><path d="M -5.1,185.6 C -4.2,185.4 -8.4,187.8 0.0,184.2 C 8.4,180.5 31.5,170.2 45.6,163.9 C 59.7,157.6 77.2,149.8 84.6,146.5 C 92.1,143.3 89.5,144.7 90.4,144.4" fill="none" stroke="#5b9bd0" stroke-width="12.00" stroke-opacity="0.800" stroke-linecap="round" stroke-linejoin="round" filter="url(#f247)"/><path d="M 80.3,150.9 C 81.0,150.2 79.6,151.6 84.6,146.5 C 89.7,141.5 102.7,131.4 110.7,120.5 C 118.6,109.7 125.6,96.4 132.4,81.4 C 139.1,66.5 145.4,44.4 151.2,30.8 C 157.0,17.2 163.7,6.5 167.1,0.0 C 170.5,-6.5 170.7,-6.9 171.4,-8.2" fill="none" stroke="#5b9bd0" stroke-width="12.00" stroke-opacity="0.800" stroke-linecap="round" stroke-linejoin="round" filter="url(#f248)"/><path d="M 78.8,145.8 C 79.8,145.9 79.3,145.6 84.6,146.5 C 89.9,147.5 101.5,150.6 110.7,151.6 C 119.8,152.6 128.8,152.7 139.6,152.3 C 150.5,152.0 168.8,150.0 175.8,149.4 C 182.8,148.9 180.6,149.0 181.6,148.9" fill="none" stroke="#5b9bd0" stroke-width="12.00" stroke-opacity="0.800" stroke-linecap="round" stroke-linejoin="round" filter="url(#f249)"/><path d="M 172.2,153.8 C 172.8,153.1 169.1,159.1 175.8,149.4 C 182.4,139.8 198.7,112.5 211.9,95.9 C 225.2,79.3 240.2,65.6 255.3,49.6 C 270.5,33.6 293.6,9.6 302.8,0.0 C 311.9,-9.6 309.1,-6.9 310.3,-8.2" fill="none" stroke="#5b9bd0" stroke-width="12.00" stroke-opacity="0.800" stroke-linecap="round" stroke-linejoin="round" filter="url(#f250)"/><path d="M 172.2,145.1 C 172.8,145.8 170.3,143.2 175.8,149.4 C 181.2,155.7 194.8,171.5 204.7,182.7 C 214.6,193.9 229.1,209.5 235.1,216.7 C 241.1,223.9 239.9,224.5 240.9,226.1" fill="none" stroke="#5b9bd0" stroke-width="12.00" stroke-opacity="0.800" stroke-linecap="round" stroke-linejoin="round" filter="url(#f251)"/><path d="M -5.1,185.6 C -4.2,185.4 -8.4,187.8 0.0,184.2 C 8.4,180.5 31.5,170.2 45.6,163.9 C 59.7,157.6 77.2,149.8 84.6,146.5 C 92.1,143.3 89.5,144.7 90.4,144.4" fill="none" stroke="#163a74" stroke-width="6.50" stroke-opacity="1.000" stroke-linecap="round" stroke-linejoin="round" filter="url(#f252)"/><path d="M 80.3,150.9 C 81.0,150.2 79.6,151.6 84.6,146.5 C 89.7,141.5 102.7,131.4 110.7,120.5 C 118.6,109.7 125.6,96.4 132.4,81.4 C 139.1,66.5 145.4,44.4 151.2,30.8 C 157.0,17.2 163.7,6.5 167.1,0.0 C 170.5,-6.5 170.7,-6.9 171.4,-8.2" fill="none" stroke="#163a74" stroke-width="6.50" stroke-opacity="1.000" stroke-linecap="round" stroke-linejoin="round" filter="url(#f253)"/><path d="M 78.8,145.8 C 79.8,145.9 79.3,145.6 84.6,146.5 C 89.9,147.5 101.5,150.6 110.7,151.6 C 119.8,152.6 128.8,152.7 139.6,152.3 C 150.5,152.0 168.8,150.0 175.8,149.4 C 182.8,148.9 180.6,149.0 181.6,148.9" fill="none" stroke="#163a74" stroke-width="6.50" stroke-opacity="1.000" stroke-linecap="round" stroke-linejoin="round" filter="url(#f254)"/><path d="M 172.2,153.8 C 172.8,153.1 169.1,159.1 175.8,149.4 C 182.4,139.8 198.7,112.5 211.9,95.9 C 225.2,79.3 240.2,65.6 255.3,49.6 C 270.5,33.6 293.6,9.6 302.8,0.0 C 311.9,-9.6 309.1,-6.9 310.3,-8.2" fill="none" stroke="#163a74" stroke-width="6.50" stroke-opacity="1.000" stroke-linecap="round" stroke-linejoin="round" filter="url(#f255)"/><path d="M 172.2,145.1 C 172.8,145.8 170.3,143.2 175.8,149.4 C 181.2,155.7 194.8,171.5 204.7,182.7 C 214.6,193.9 229.1,209.5 235.1,216.7 C 241.1,223.9 239.9,224.5 240.9,226.1" fill="none" stroke="#163a74" stroke-width="6.50" stroke-opacity="1.000" stroke-linecap="round" stroke-linejoin="round" filter="url(#f256)"/><path d="M145.2 96.7a2.30 2.30 0 1 0 0.01 0M181.1 98.5a2.30 2.30 0 1 0 0.01 0M139.3 142.6a2.30 2.30 0 1 0 0.01 0M120.9 90.4a2.30 2.30 0 1 0 0.01 0M140.7 96.7a2.30 2.30 0 1 0 0.01 0M115.8 99.7a2.30 2.30 0 1 0 0.01 0M130.8 119.1a2.30 2.30 0 1 0 0.01 0M107.3 87.8a2.30 2.30 0 1 0 0.01 0M158.0 149.2a2.30 2.30 0 1 0 0.01 0M110.1 120.1a2.30 2.30 0 1 0 0.01 0M119.7 84.0a2.30 2.30 0 1 0 0.01 0M121.6 94.5a2.30 2.30 0 1 0 0.01 0M155.2 121.7a2.30 2.30 0 1 0 0.01 0M138.4 95.9a2.30 2.30 0 1 0 0.01 0M137.4 102.1a2.30 2.30 0 1 0 0.01 0M151.6 89.4a2.30 2.30 0 1 0 0.01 0M137.2 102.2a2.30 2.30 0 1 0 0.01 0M136.4 110.6a2.30 2.30 0 1 0 0.01 0M140.9 136.6a2.30 2.30 0 1 0 0.01 0M135.7 142.1a2.30 2.30 0 1 0 0.01 0M131.8 93.1a2.30 2.30 0 1 0 0.01 0M139.1 113.1a2.30 2.30 0 1 0 0.01 0M142.2 135.6a2.30 2.30 0 1 0 0.01 0M157.8 116.5a2.30 2.30 0 1 0 0.01 0M131.2 102.2a2.30 2.30 0 1 0 0.01 0M162.7 109.9a2.30 2.30 0 1 0 0.01 0M113.7 88.0a2.30 2.30 0 1 0 0.01 0M126.9 132.2a2.30 2.30 0 1 0 0.01 0M135.4 158.8a2.30 2.30 0 1 0 0.01 0M149.1 107.6a2.30 2.30 0 1 0 0.01 0M129.5 127.9a2.30 2.30 0 1 0 0.01 0M133.0 84.8a2.30 2.30 0 1 0 0.01 0M147.5 104.9a2.30 2.30 0 1 0 0.01 0M158.7 102.8a2.30 2.30 0 1 0 0.01 0M85.8 123.5a2.30 2.30 0 1 0 0.01 0M103.5 141.5a2.30 2.30 0 1 0 0.01 0M170.1 94.3a2.30 2.30 0 1 0 0.01 0M116.3 71.1a2.30 2.30 0 1 0 0.01 0M153.0 99.7a2.30 2.30 0 1 0 0.01 0M126.5 98.8a2.30 2.30 0 1 0 0.01 0M174.9 112.9a2.30 2.30 0 1 0 0.01 0M150.7 123.2a2.30 2.30 0 1 0 0.01 0M155.6 130.1a2.30 2.30 0 1 0 0.01 0M124.5 99.4a2.30 2.30 0 1 0 0.01 0M123.6 87.5a2.30 2.30 0 1 0 0.01 0M157.8 92.6a2.30 2.30 0 1 0 0.01 0M135.9 88.0a2.30 2.30 0 1 0 0.01 0M126.6 123.5a2.30 2.30 0 1 0 0.01 0M129.3 93.0a2.30 2.30 0 1 0 0.01 0M146.2 116.6a2.30 2.30 0 1 0 0.01 0M151.6 108.7a2.30 2.30 0 1 0 0.01 0M105.7 119.7a2.30 2.30 0 1 0 0.01 0M146.3 129.0a2.30 2.30 0 1 0 0.01 0M122.1 165.1a2.30 2.30 0 1 0 0.01 0M115.1 122.0a2.30 2.30 0 1 0 0.01 0M138.1 92.9a2.30 2.30 0 1 0 0.01 0M152.0 97.8a2.30 2.30 0 1 0 0.01 0M95.3 76.6a2.30 2.30 0 1 0 0.01 0M145.5 158.3a2.30 2.30 0 1 0 0.01 0M110.6 104.2a2.30 2.30 0 1 0 0.01 0M163.4 119.2a2.30 2.30 0 1 0 0.01 0M130.5 70.5a2.30 2.30 0 1 0 0.01 0M105.2 86.6a2.30 2.30 0 1 0 0.01 0M130.7 50.6a2.30 2.30 0 1 0 0.01 0M106.8 111.9a2.30 2.30 0 1 0 0.01 0M129.9 86.5a2.30 2.30 0 1 0 0.01 0M130.0 85.1a2.30 2.30 0 1 0 0.01 0M154.0 144.0a2.30 2.30 0 1 0 0.01 0M174.6 121.6a2.30 2.30 0 1 0 0.01 0M150.8 139.7a2.30 2.30 0 1 0 0.01 0M168.6 139.8a2.30 2.30 0 1 0 0.01 0M159.1 89.4a2.30 2.30 0 1 0 0.01 0M108.5 125.6a2.30 2.30 0 1 0 0.01 0M135.6 103.3a2.30 2.30 0 1 0 0.01 0M121.3 73.4a2.30 2.30 0 1 0 0.01 0M162.5 115.8a2.30 2.30 0 1 0 0.01 0M118.1 114.0a2.30 2.30 0 1 0 0.01 0M142.8 117.1a2.30 2.30 0 1 0 0.01 0M177.5 103.8a2.30 2.30 0 1 0 0.01 0M114.3 105.5a2.30 2.30 0 1 0 0.01 0M125.7 117.8a2.30 2.30 0 1 0 0.01 0M141.1 112.9a2.30 2.30 0 1 0 0.01 0M127.1 114.5a2.30 2.30 0 1 0 0.01 0M128.1 117.0a2.30 2.30 0 1 0 0.01 0M131.9 77.8a2.30 2.30 0 1 0 0.01 0M146.3 87.6a2.30 2.30 0 1 0 0.01 0M163.3 115.2a2.30 2.30 0 1 0 0.01 0M145.7 107.0a2.30 2.30 0 1 0 0.01 0M136.2 47.3a2.30 2.30 0 1 0 0.01 0M159.3 85.1a2.30 2.30 0 1 0 0.01 0M154.5 89.3a2.30 2.30 0 1 0 0.01 0M134.7 99.2a2.30 2.30 0 1 0 0.01 0M118.6 100.5a2.30 2.30 0 1 0 0.01 0M145.9 94.7a2.30 2.30 0 1 0 0.01 0M114.5 90.8a2.30 2.30 0 1 0 0.01 0M141.8 132.1a2.30 2.30 0 1 0 0.01 0M152.3 111.5a2.30 2.30 0 1 0 0.01 0M119.4 126.4a2.30 2.30 0 1 0 0.01 0M137.7 98.8a2.30 2.30 0 1 0 0.01 0M153.7 119.4a2.30 2.30 0 1 0 0.01 0M146.3 77.0a2.30 2.30 0 1 0 0.01 0M126.3 63.7a2.30 2.30 0 1 0 0.01 0M140.8 105.3a2.30 2.30 0 1 0 0.01 0M154.1 109.7a2.30 2.30 0 1 0 0.01 0M130.7 155.3a2.30 2.30 0 1 0 0.01 0M118.8 72.5a2.30 2.30 0 1 0 0.01 0M126.3 117.2a2.30 2.30 0 1 0 0.01 0M131.0 94.0a2.30 2.30 0 1 0 0.01 0M117.1 139.9a2.30 2.30 0 1 0 0.01 0M126.1 78.7a2.30 2.30 0 1 0 0.01 0M135.1 85.2a2.30 2.30 0 1 0 0.01 0M133.1 136.6a2.30 2.30 0 1 0 0.01 0M129.3 103.4a2.30 2.30 0 1 0 0.01 0M130.7 100.0a2.30 2.30 0 1 0 0.01 0M152.1 117.4a2.30 2.30 0 1 0 0.01 0M131.2 82.3a2.30 2.30 0 1 0 0.01 0M134.9 124.6a2.30 2.30 0 1 0 0.01 0M137.0 101.5a2.30 2.30 0 1 0 0.01 0M104.8 128.4a2.30 2.30 0 1 0 0.01 0M110.5 73.8a2.30 2.30 0 1 0 0.01 0M130.5 105.4a2.30 2.30 0 1 0 0.01 0M138.1 86.3a2.30 2.30 0 1 0 0.01 0M131.7 90.0a2.30 2.30 0 1 0 0.01 0M104.7 98.5a2.30 2.30 0 1 0 0.01 0M124.8 114.7a2.30 2.30 0 1 0 0.01 0M134.7 127.7a2.30 2.30 0 1 0 0.01 0M149.8 126.2a2.30 2.30 0 1 0 0.01 0M159.1 121.2a2.30 2.30 0 1 0 0.01 0M134.3 137.1a2.30 2.30 0 1 0 0.01 0M120.6 103.7a2.30 2.30 0 1 0 0.01 0M152.8 97.7a2.30 2.30 0 1 0 0.01 0M150.2 85.3a2.30 2.30 0 1 0 0.01 0M127.6 117.7a2.30 2.30 0 1 0 0.01 0M150.1 133.3a2.30 2.30 0 1 0 0.01 0M136.0 111.8a2.30 2.30 0 1 0 0.01 0M148.6 115.8a2.30 2.30 0 1 0 0.01 0M113.9 90.9a2.30 2.30 0 1 0 0.01 0M163.3 74.7a2.30 2.30 0 1 0 0.01 0M148.6 94.4a2.30 2.30 0 1 0 0.01 0M155.4 85.9a2.30 2.30 0 1 0 0.01 0M138.2 56.0a2.30 2.30 0 1 0 0.01 0M136.5 130.4a2.30 2.30 0 1 0 0.01 0M110.3 133.1a2.30 2.30 0 1 0 0.01 0M124.4 103.4a2.30 2.30 0 1 0 0.01 0M87.4 130.5a2.30 2.30 0 1 0 0.01 0M121.5 91.7a2.30 2.30 0 1 0 0.01 0M114.3 80.8a2.30 2.30 0 1 0 0.01 0M157.9 92.4a2.30 2.30 0 1 0 0.01 0M153.4 100.4a2.30 2.30 0 1 0 0.01 0M143.5 92.4a2.30 2.30 0 1 0 0.01 0M145.0 166.7a2.30 2.30 0 1 0 0.01 0M149.1 116.7a2.30 2.30 0 1 0 0.01 0M128.7 128.9a2.30 2.30 0 1 0 0.01 0M161.8 63.7a2.30 2.30 0 1 0 0.01 0M112.5 155.0a2.30 2.30 0 1 0 0.01 0M145.0 107.7a2.30 2.30 0 1 0 0.01 0M147.4 130.9a2.30 2.30 0 1 0 0.01 0M151.7 99.2a2.30 2.30 0 1 0 0.01 0M174.4 104.9a2.30 2.30 0 1 0 0.01 0M121.6 91.2a2.30 2.30 0 1 0 0.01 0M134.9 95.5a2.30 2.30 0 1 0 0.01 0M133.9 112.2a2.30 2.30 0 1 0 0.01 0M78.2 85.9a2.30 2.30 0 1 0 0.01 0M154.4 118.1a2.30 2.30 0 1 0 0.01 0M125.1 89.6a2.30 2.30 0 1 0 0.01 0M157.8 98.6a2.30 2.30 0 1 0 0.01 0M127.8 149.1a2.30 2.30 0 1 0 0.01 0M130.6 121.0a2.30 2.30 0 1 0 0.01 0M136.5 105.8a2.30 2.30 0 1 0 0.01 0M120.3 84.7a2.30 2.30 0 1 0 0.01 0M159.9 77.3a2.30 2.30 0 1 0 0.01 0M142.3 75.9a2.30 2.30 0 1 0 0.01 0M133.0 103.7a2.30 2.30 0 1 0 0.01 0M108.0 131.8a2.30 2.30 0 1 0 0.01 0M134.0 133.7a2.30 2.30 0 1 0 0.01 0M120.5 126.5a2.30 2.30 0 1 0 0.01 0M179.3 109.8a2.30 2.30 0 1 0 0.01 0M125.7 116.1a2.30 2.30 0 1 0 0.01 0M139.8 99.6a2.30 2.30 0 1 0 0.01 0M135.1 90.7a2.30 2.30 0 1 0 0.01 0M144.9 95.3a2.30 2.30 0 1 0 0.01 0M121.9 124.2a2.30 2.30 0 1 0 0.01 0M134.3 168.1a2.30 2.30 0 1 0 0.01 0M132.8 87.4a2.30 2.30 0 1 0 0.01 0M127.4 113.5a2.30 2.30 0 1 0 0.01 0M124.7 74.3a2.30 2.30 0 1 0 0.01 0M166.8 74.8a2.30 2.30 0 1 0 0.01 0M164.5 108.0a2.30 2.30 0 1 0 0.01 0M118.2 144.6a2.30 2.30 0 1 0 0.01 0M133.6 80.4a2.30 2.30 0 1 0 0.01 0M138.5 135.5a2.30 2.30 0 1 0 0.01 0M149.6 124.4a2.30 2.30 0 1 0 0.01 0M168.9 109.7a2.30 2.30 0 1 0 0.01 0M144.1 99.2a2.30 2.30 0 1 0 0.01 0M111.1 101.1a2.30 2.30 0 1 0 0.01 0M166.4 63.0a2.30 2.30 0 1 0 0.01 0M161.5 110.9a2.30 2.30 0 1 0 0.01 0M120.9 106.2a2.30 2.30 0 1 0 0.01 0M169.3 90.8a2.30 2.30 0 1 0 0.01 0M151.5 131.7a2.30 2.30 0 1 0 0.01 0M121.2 119.8a2.30 2.30 0 1 0 0.01 0M146.9 93.2a2.30 2.30 0 1 0 0.01 0M149.6 95.9a2.30 2.30 0 1 0 0.01 0M126.9 75.0a2.30 2.30 0 1 0 0.01 0M144.2 94.3a2.30 2.30 0 1 0 0.01 0M127.2 77.0a2.30 2.30 0 1 0 0.01 0M112.7 85.7a2.30 2.30 0 1 0 0.01 0M150.4 85.1a2.30 2.30 0 1 0 0.01 0M163.3 114.4a2.30 2.30 0 1 0 0.01 0M140.1 75.7a2.30 2.30 0 1 0 0.01 0M172.5 70.0a2.30 2.30 0 1 0 0.01 0M146.9 145.3a2.30 2.30 0 1 0 0.01 0M133.7 88.2a2.30 2.30 0 1 0 0.01 0M137.0 126.6a2.30 2.30 0 1 0 0.01 0M161.8 119.1a2.30 2.30 0 1 0 0.01 0M118.1 88.4a2.30 2.30 0 1 0 0.01 0M141.0 74.0a2.30 2.30 0 1 0 0.01 0M133.0 158.4a2.30 2.30 0 1 0 0.01 0M118.3 132.4a2.30 2.30 0 1 0 0.01 0M120.5 96.4a2.30 2.30 0 1 0 0.01 0" fill="#2ca02c" fill-opacity="0.080" stroke="#2ca02c" stroke-opacity="0.140" stroke-width="0.60"/><path d="M127.4 173.0a2.30 2.30 0 1 0 0.01 0M126.1 188.4a2.30 2.30 0 1 0 0.01 0M157.3 185.1a2.30 2.30 0 1 0 0.01 0M99.5 180.5a2.30 2.30 0 1 0 0.01 0M137.8 185.0a2.30 2.30 0 1 0 0.01 0M181.1 175.8a2.30 2.30 0 1 0 0.01 0M194.7 179.7a2.30 2.30 0 1 0 0.01 0M120.5 174.6a2.30 2.30 0 1 0 0.01 0M127.5 180.0a2.30 2.30 0 1 0 0.01 0M83.2 179.7a2.30 2.30 0 1 0 0.01 0M134.7 179.0a2.30 2.30 0 1 0 0.01 0M159.7 175.6a2.30 2.30 0 1 0 0.01 0M163.9 180.2a2.30 2.30 0 1 0 0.01 0M144.2 171.1a2.30 2.30 0 1 0 0.01 0M135.0 180.9a2.30 2.30 0 1 0 0.01 0M165.6 174.8a2.30 2.30 0 1 0 0.01 0M181.9 175.3a2.30 2.30 0 1 0 0.01 0M180.1 184.4a2.30 2.30 0 1 0 0.01 0M101.4 193.2a2.30 2.30 0 1 0 0.01 0M84.6 180.3a2.30 2.30 0 1 0 0.01 0M137.9 184.1a2.30 2.30 0 1 0 0.01 0M138.7 185.7a2.30 2.30 0 1 0 0.01 0M147.5 181.4a2.30 2.30 0 1 0 0.01 0M94.7 179.4a2.30 2.30 0 1 0 0.01 0M164.4 174.9a2.30 2.30 0 1 0 0.01 0M134.3 170.0a2.30 2.30 0 1 0 0.01 0M103.6 172.3a2.30 2.30 0 1 0 0.01 0M177.4 171.2a2.30 2.30 0 1 0 0.01 0M121.0 185.3a2.30 2.30 0 1 0 0.01 0M153.2 185.5a2.30 2.30 0 1 0 0.01 0M170.4 183.9a2.30 2.30 0 1 0 0.01 0M161.8 181.0a2.30 2.30 0 1 0 0.01 0M129.1 171.6a2.30 2.30 0 1 0 0.01 0M136.5 188.2a2.30 2.30 0 1 0 0.01 0M101.6 174.8a2.30 2.30 0 1 0 0.01 0M133.5 187.5a2.30 2.30 0 1 0 0.01 0M175.9 173.0a2.30 2.30 0 1 0 0.01 0M147.2 177.7a2.30 2.30 0 1 0 0.01 0M140.6 168.8a2.30 2.30 0 1 0 0.01 0M165.1 179.1a2.30 2.30 0 1 0 0.01 0M137.9 180.3a2.30 2.30 0 1 0 0.01 0M90.8 184.2a2.30 2.30 0 1 0 0.01 0M111.8 177.5a2.30 2.30 0 1 0 0.01 0M155.1 180.8a2.30 2.30 0 1 0 0.01 0M103.5 186.4a2.30 2.30 0 1 0 0.01 0M107.6 181.1a2.30 2.30 0 1 0 0.01 0M158.0 186.5a2.30 2.30 0 1 0 0.01 0M175.7 190.4a2.30 2.30 0 1 0 0.01 0M131.8 176.9a2.30 2.30 0 1 0 0.01 0M192.7 188.9a2.30 2.30 0 1 0 0.01 0M118.7 185.1a2.30 2.30 0 1 0 0.01 0M115.7 172.7a2.30 2.30 0 1 0 0.01 0M169.5 183.2a2.30 2.30 0 1 0 0.01 0M134.7 190.6a2.30 2.30 0 1 0 0.01 0M184.5 177.7a2.30 2.30 0 1 0 0.01 0M87.9 170.8a2.30 2.30 0 1 0 0.01 0M130.3 179.1a2.30 2.30 0 1 0 0.01 0M143.9 181.3a2.30 2.30 0 1 0 0.01 0M105.1 179.0a2.30 2.30 0 1 0 0.01 0M70.9 188.0a2.30 2.30 0 1 0 0.01 0M109.8 184.6a2.30 2.30 0 1 0 0.01 0M105.1 181.7a2.30 2.30 0 1 0 0.01 0M154.0 179.8a2.30 2.30 0 1 0 0.01 0M99.1 194.1a2.30 2.30 0 1 0 0.01 0M122.5 184.4a2.30 2.30 0 1 0 0.01 0M127.0 177.0a2.30 2.30 0 1 0 0.01 0M180.0 183.4a2.30 2.30 0 1 0 0.01 0M143.0 168.7a2.30 2.30 0 1 0 0.01 0M141.0 185.9a2.30 2.30 0 1 0 0.01 0M140.8 180.4a2.30 2.30 0 1 0 0.01 0M175.4 182.6a2.30 2.30 0 1 0 0.01 0M152.1 187.0a2.30 2.30 0 1 0 0.01 0M168.1 174.0a2.30 2.30 0 1 0 0.01 0M142.8 177.1a2.30 2.30 0 1 0 0.01 0M53.8 182.8a2.30 2.30 0 1 0 0.01 0M64.0 178.7a2.30 2.30 0 1 0 0.01 0M34.7 175.7a2.30 2.30 0 1 0 0.01 0M112.2 181.2a2.30 2.30 0 1 0 0.01 0M109.6 176.2a2.30 2.30 0 1 0 0.01 0M95.8 189.7a2.30 2.30 0 1 0 0.01 0M112.2 180.7a2.30 2.30 0 1 0 0.01 0M201.7 171.7a2.30 2.30 0 1 0 0.01 0M51.5 175.6a2.30 2.30 0 1 0 0.01 0M115.0 175.0a2.30 2.30 0 1 0 0.01 0M128.4 180.8a2.30 2.30 0 1 0 0.01 0M71.1 182.2a2.30 2.30 0 1 0 0.01 0M75.5 185.1a2.30 2.30 0 1 0 0.01 0M138.4 193.3a2.30 2.30 0 1 0 0.01 0M161.3 180.1a2.30 2.30 0 1 0 0.01 0M142.9 182.0a2.30 2.30 0 1 0 0.01 0M101.7 173.2a2.30 2.30 0 1 0 0.01 0M171.6 189.6a2.30 2.30 0 1 0 0.01 0M112.2 179.8a2.30 2.30 0 1 0 0.01 0M111.4 186.8a2.30 2.30 0 1 0 0.01 0M175.8 176.4a2.30 2.30 0 1 0 0.01 0M116.9 178.3a2.30 2.30 0 1 0 0.01 0M138.0 185.5a2.30 2.30 0 1 0 0.01 0M170.5 179.7a2.30 2.30 0 1 0 0.01 0M92.5 184.2a2.30 2.30 0 1 0 0.01 0M152.5 179.3a2.30 2.30 0 1 0 0.01 0M136.3 183.2a2.30 2.30 0 1 0 0.01 0M163.4 181.6a2.30 2.30 0 1 0 0.01 0M148.5 182.2a2.30 2.30 0 1 0 0.01 0M93.3 185.1a2.30 2.30 0 1 0 0.01 0M133.8 187.1a2.30 2.30 0 1 0 0.01 0M85.0 177.4a2.30 2.30 0 1 0 0.01 0M142.4 171.8a2.30 2.30 0 1 0 0.01 0M125.0 178.8a2.30 2.30 0 1 0 0.01 0M114.3 179.9a2.30 2.30 0 1 0 0.01 0M45.3 181.5a2.30 2.30 0 1 0 0.01 0M132.9 187.0a2.30 2.30 0 1 0 0.01 0M184.9 183.2a2.30 2.30 0 1 0 0.01 0M165.2 168.1a2.30 2.30 0 1 0 0.01 0M150.9 187.3a2.30 2.30 0 1 0 0.01 0M163.1 182.6a2.30 2.30 0 1 0 0.01 0M116.5 179.3a2.30 2.30 0 1 0 0.01 0M131.0 183.6a2.30 2.30 0 1 0 0.01 0M151.8 180.7a2.30 2.30 0 1 0 0.01 0M82.3 191.3a2.30 2.30 0 1 0 0.01 0M97.2 166.5a2.30 2.30 0 1 0 0.01 0M184.3 186.8a2.30 2.30 0 1 0 0.01 0M137.2 186.6a2.30 2.30 0 1 0 0.01 0M147.0 176.7a2.30 2.30 0 1 0 0.01 0M134.5 174.5a2.30 2.30 0 1 0 0.01 0M105.4 176.5a2.30 2.30 0 1 0 0.01 0M136.0 187.1a2.30 2.30 0 1 0 0.01 0M105.5 183.8a2.30 2.30 0 1 0 0.01 0M49.0 175.4a2.30 2.30 0 1 0 0.01 0M150.4 186.5a2.30 2.30 0 1 0 0.01 0M165.9 187.1a2.30 2.30 0 1 0 0.01 0M67.8 178.4a2.30 2.30 0 1 0 0.01 0M32.0 180.4a2.30 2.30 0 1 0 0.01 0M139.0 179.4a2.30 2.30 0 1 0 0.01 0M94.8 183.6a2.30 2.30 0 1 0 0.01 0M150.3 182.0a2.30 2.30 0 1 0 0.01 0M107.1 181.5a2.30 2.30 0 1 0 0.01 0M133.3 182.7a2.30 2.30 0 1 0 0.01 0M153.7 181.1a2.30 2.30 0 1 0 0.01 0M75.1 179.8a2.30 2.30 0 1 0 0.01 0M144.2 178.8a2.30 2.30 0 1 0 0.01 0M138.4 177.5a2.30 2.30 0 1 0 0.01 0M181.1 183.5a2.30 2.30 0 1 0 0.01 0M135.4 185.4a2.30 2.30 0 1 0 0.01 0M159.1 181.8a2.30 2.30 0 1 0 0.01 0M168.1 184.9a2.30 2.30 0 1 0 0.01 0M138.2 181.3a2.30 2.30 0 1 0 0.01 0M88.0 182.3a2.30 2.30 0 1 0 0.01 0M136.8 176.7a2.30 2.30 0 1 0 0.01 0M181.8 181.2a2.30 2.30 0 1 0 0.01 0M89.3 179.0a2.30 2.30 0 1 0 0.01 0M128.5 181.1a2.30 2.30 0 1 0 0.01 0M100.4 181.5a2.30 2.30 0 1 0 0.01 0M74.7 178.9a2.30 2.30 0 1 0 0.01 0M146.6 177.6a2.30 2.30 0 1 0 0.01 0M154.6 185.7a2.30 2.30 0 1 0 0.01 0M107.5 168.1a2.30 2.30 0 1 0 0.01 0M163.5 188.7a2.30 2.30 0 1 0 0.01 0M69.6 182.4a2.30 2.30 0 1 0 0.01 0M142.5 172.4a2.30 2.30 0 1 0 0.01 0M109.7 188.2a2.30 2.30 0 1 0 0.01 0M138.8 181.4a2.30 2.30 0 1 0 0.01 0M174.6 178.1a2.30 2.30 0 1 0 0.01 0M62.2 188.8a2.30 2.30 0 1 0 0.01 0M101.1 181.4a2.30 2.30 0 1 0 0.01 0M175.2 183.0a2.30 2.30 0 1 0 0.01 0M137.5 178.1a2.30 2.30 0 1 0 0.01 0M153.4 193.5a2.30 2.30 0 1 0 0.01 0M109.5 175.3a2.30 2.30 0 1 0 0.01 0M143.1 177.5a2.30 2.30 0 1 0 0.01 0M136.4 181.6a2.30 2.30 0 1 0 0.01 0M150.5 182.6a2.30 2.30 0 1 0 0.01 0M143.7 188.5a2.30 2.30 0 1 0 0.01 0M95.0 181.8a2.30 2.30 0 1 0 0.01 0M144.1 174.8a2.30 2.30 0 1 0 0.01 0M96.0 179.7a2.30 2.30 0 1 0 0.01 0M111.6 187.7a2.30 2.30 0 1 0 0.01 0M137.0 197.7a2.30 2.30 0 1 0 0.01 0M117.7 179.8a2.30 2.30 0 1 0 0.01 0M217.7 178.5a2.30 2.30 0 1 0 0.01 0M215.5 164.4a2.30 2.30 0 1 0 0.01 0M106.9 189.3a2.30 2.30 0 1 0 0.01 0M192.7 184.1a2.30 2.30 0 1 0 0.01 0M107.5 180.8a2.30 2.30 0 1 0 0.01 0M161.9 183.3a2.30 2.30 0 1 0 0.01 0M168.5 177.6a2.30 2.30 0 1 0 0.01 0M164.1 188.7a2.30 2.30 0 1 0 0.01 0M250.0 185.6a2.30 2.30 0 1 0 0.01 0M159.4 177.0a2.30 2.30 0 1 0 0.01 0M81.7 169.0a2.30 2.30 0 1 0 0.01 0M150.3 192.8a2.30 2.30 0 1 0 0.01 0M128.9 168.0a2.30 2.30 0 1 0 0.01 0M140.0 180.5a2.30 2.30 0 1 0 0.01 0M118.5 191.3a2.30 2.30 0 1 0 0.01 0M179.9 189.9a2.30 2.30 0 1 0 0.01 0M102.8 183.7a2.30 2.30 0 1 0 0.01 0M91.2 188.0a2.30 2.30 0 1 0 0.01 0M90.5 188.6a2.30 2.30 0 1 0 0.01 0M142.6 183.0a2.30 2.30 0 1 0 0.01 0M78.3 185.6a2.30 2.30 0 1 0 0.01 0M63.7 174.8a2.30 2.30 0 1 0 0.01 0M97.3 193.1a2.30 2.30 0 1 0 0.01 0M137.0 177.9a2.30 2.30 0 1 0 0.01 0M152.8 194.8a2.30 2.30 0 1 0 0.01 0M126.8 175.8a2.30 2.30 0 1 0 0.01 0M90.4 181.3a2.30 2.30 0 1 0 0.01 0M196.6 180.9a2.30 2.30 0 1 0 0.01 0M123.5 176.2a2.30 2.30 0 1 0 0.01 0M89.1 187.4a2.30 2.30 0 1 0 0.01 0M145.8 183.9a2.30 2.30 0 1 0 0.01 0M80.1 184.7a2.30 2.30 0 1 0 0.01 0M144.8 190.0a2.30 2.30 0 1 0 0.01 0M172.8 180.3a2.30 2.30 0 1 0 0.01 0M144.9 183.3a2.30 2.30 0 1 0 0.01 0M128.5 176.8a2.30 2.30 0 1 0 0.01 0M166.4 194.0a2.30 2.30 0 1 0 0.01 0M128.5 190.6a2.30 2.30 0 1 0 0.01 0M119.7 179.7a2.30 2.30 0 1 0 0.01 0M131.0 179.9a2.30 2.30 0 1 0 0.01 0M169.1 188.0a2.30 2.30 0 1 0 0.01 0M34.2 186.1a2.30 2.30 0 1 0 0.01 0M147.1 191.2a2.30 2.30 0 1 0 0.01 0M98.0 182.3a2.30 2.30 0 1 0 0.01 0M178.5 186.5a2.30 2.30 0 1 0 0.01 0M190.5 177.2a2.30 2.30 0 1 0 0.01 0M106.5 184.8a2.30 2.30 0 1 0 0.01 0M79.8 184.0a2.30 2.30 0 1 0 0.01 0M167.7 183.5a2.30 2.30 0 1 0 0.01 0M80.6 178.4a2.30 2.30 0 1 0 0.01 0M119.9 183.8a2.30 2.30 0 1 0 0.01 0M141.2 179.1a2.30 2.30 0 1 0 0.01 0M67.5 171.4a2.30 2.30 0 1 0 0.01 0M92.9 175.7a2.30 2.30 0 1 0 0.01 0M106.8 175.4a2.30 2.30 0 1 0 0.01 0M124.9 178.0a2.30 2.30 0 1 0 0.01 0M137.9 181.3a2.30 2.30 0 1 0 0.01 0M152.9 176.0a2.30 2.30 0 1 0 0.01 0M96.4 175.2a2.30 2.30 0 1 0 0.01 0M133.6 185.3a2.30 2.30 0 1 0 0.01 0M174.1 182.2a2.30 2.30 0 1 0 0.01 0M124.9 185.4a2.30 2.30 0 1 0 0.01 0" fill="#4169e1" fill-opacity="0.090" stroke="#4169e1" stroke-opacity="0.140" stroke-width="0.60"/><path d="M213.0 115.3a2.30 2.30 0 1 0 0.01 0M217.0 129.3a2.30 2.30 0 1 0 0.01 0M205.9 134.9a2.30 2.30 0 1 0 0.01 0M209.1 138.4a2.30 2.30 0 1 0 0.01 0M209.7 131.5a2.30 2.30 0 1 0 0.01 0M210.2 136.4a2.30 2.30 0 1 0 0.01 0M216.1 145.2a2.30 2.30 0 1 0 0.01 0M213.2 163.9a2.30 2.30 0 1 0 0.01 0M206.4 143.3a2.30 2.30 0 1 0 0.01 0M219.1 152.7a2.30 2.30 0 1 0 0.01 0M218.9 117.1a2.30 2.30 0 1 0 0.01 0M219.0 122.5a2.30 2.30 0 1 0 0.01 0M218.9 145.4a2.30 2.30 0 1 0 0.01 0M217.6 120.6a2.30 2.30 0 1 0 0.01 0M212.2 95.2a2.30 2.30 0 1 0 0.01 0M215.1 157.3a2.30 2.30 0 1 0 0.01 0M215.2 166.9a2.30 2.30 0 1 0 0.01 0M216.4 143.3a2.30 2.30 0 1 0 0.01 0M216.2 127.2a2.30 2.30 0 1 0 0.01 0M218.1 147.0a2.30 2.30 0 1 0 0.01 0M215.2 137.2a2.30 2.30 0 1 0 0.01 0M210.6 117.8a2.30 2.30 0 1 0 0.01 0M212.1 157.8a2.30 2.30 0 1 0 0.01 0M204.7 143.6a2.30 2.30 0 1 0 0.01 0M231.3 146.4a2.30 2.30 0 1 0 0.01 0M212.9 150.9a2.30 2.30 0 1 0 0.01 0M213.1 144.4a2.30 2.30 0 1 0 0.01 0M214.6 118.5a2.30 2.30 0 1 0 0.01 0M219.8 147.5a2.30 2.30 0 1 0 0.01 0M219.5 146.5a2.30 2.30 0 1 0 0.01 0M219.2 143.9a2.30 2.30 0 1 0 0.01 0M229.1 170.3a2.30 2.30 0 1 0 0.01 0M220.6 141.5a2.30 2.30 0 1 0 0.01 0M206.4 135.5a2.30 2.30 0 1 0 0.01 0M216.6 146.4a2.30 2.30 0 1 0 0.01 0M211.2 125.2a2.30 2.30 0 1 0 0.01 0M207.9 132.0a2.30 2.30 0 1 0 0.01 0M217.1 158.5a2.30 2.30 0 1 0 0.01 0M217.1 138.0a2.30 2.30 0 1 0 0.01 0M214.8 142.0a2.30 2.30 0 1 0 0.01 0M216.0 148.9a2.30 2.30 0 1 0 0.01 0M216.9 138.8a2.30 2.30 0 1 0 0.01 0M213.4 174.7a2.30 2.30 0 1 0 0.01 0M220.1 91.2a2.30 2.30 0 1 0 0.01 0M215.3 149.2a2.30 2.30 0 1 0 0.01 0M217.7 89.7a2.30 2.30 0 1 0 0.01 0M205.1 129.5a2.30 2.30 0 1 0 0.01 0M213.8 112.3a2.30 2.30 0 1 0 0.01 0M218.8 163.3a2.30 2.30 0 1 0 0.01 0M216.4 158.7a2.30 2.30 0 1 0 0.01 0M207.4 135.3a2.30 2.30 0 1 0 0.01 0M201.6 161.9a2.30 2.30 0 1 0 0.01 0M218.8 148.1a2.30 2.30 0 1 0 0.01 0M208.2 139.5a2.30 2.30 0 1 0 0.01 0M217.9 109.6a2.30 2.30 0 1 0 0.01 0M214.2 155.7a2.30 2.30 0 1 0 0.01 0M209.4 125.6a2.30 2.30 0 1 0 0.01 0M219.0 156.9a2.30 2.30 0 1 0 0.01 0M220.2 145.5a2.30 2.30 0 1 0 0.01 0M208.5 138.1a2.30 2.30 0 1 0 0.01 0M210.2 133.3a2.30 2.30 0 1 0 0.01 0M215.7 175.1a2.30 2.30 0 1 0 0.01 0M214.1 183.9a2.30 2.30 0 1 0 0.01 0M206.9 135.4a2.30 2.30 0 1 0 0.01 0M213.5 89.9a2.30 2.30 0 1 0 0.01 0M205.4 132.1a2.30 2.30 0 1 0 0.01 0M213.9 150.3a2.30 2.30 0 1 0 0.01 0M213.8 132.9a2.30 2.30 0 1 0 0.01 0M206.7 141.2a2.30 2.30 0 1 0 0.01 0M221.3 150.6a2.30 2.30 0 1 0 0.01 0M210.0 143.4a2.30 2.30 0 1 0 0.01 0M215.5 169.9a2.30 2.30 0 1 0 0.01 0M210.7 152.1a2.30 2.30 0 1 0 0.01 0M216.2 133.1a2.30 2.30 0 1 0 0.01 0M213.0 130.4a2.30 2.30 0 1 0 0.01 0M213.8 146.5a2.30 2.30 0 1 0 0.01 0M207.5 136.9a2.30 2.30 0 1 0 0.01 0M221.0 140.1a2.30 2.30 0 1 0 0.01 0M204.3 174.7a2.30 2.30 0 1 0 0.01 0M212.3 144.4a2.30 2.30 0 1 0 0.01 0M216.1 131.0a2.30 2.30 0 1 0 0.01 0M208.5 123.1a2.30 2.30 0 1 0 0.01 0M214.8 140.1a2.30 2.30 0 1 0 0.01 0M212.1 191.0a2.30 2.30 0 1 0 0.01 0M214.7 163.2a2.30 2.30 0 1 0 0.01 0M223.9 143.8a2.30 2.30 0 1 0 0.01 0M211.6 134.6a2.30 2.30 0 1 0 0.01 0M214.1 183.2a2.30 2.30 0 1 0 0.01 0M218.8 135.9a2.30 2.30 0 1 0 0.01 0M210.8 158.7a2.30 2.30 0 1 0 0.01 0M222.5 127.1a2.30 2.30 0 1 0 0.01 0M221.5 148.7a2.30 2.30 0 1 0 0.01 0M213.7 135.3a2.30 2.30 0 1 0 0.01 0M210.3 130.2a2.30 2.30 0 1 0 0.01 0M219.8 108.0a2.30 2.30 0 1 0 0.01 0M211.5 140.2a2.30 2.30 0 1 0 0.01 0M208.0 129.6a2.30 2.30 0 1 0 0.01 0M206.6 155.8a2.30 2.30 0 1 0 0.01 0M216.8 108.3a2.30 2.30 0 1 0 0.01 0M220.5 116.9a2.30 2.30 0 1 0 0.01 0M204.1 98.5a2.30 2.30 0 1 0 0.01 0M215.7 84.5a2.30 2.30 0 1 0 0.01 0M212.9 145.6a2.30 2.30 0 1 0 0.01 0M218.2 131.9a2.30 2.30 0 1 0 0.01 0M219.1 130.1a2.30 2.30 0 1 0 0.01 0M217.9 116.6a2.30 2.30 0 1 0 0.01 0M214.8 132.3a2.30 2.30 0 1 0 0.01 0M214.2 192.1a2.30 2.30 0 1 0 0.01 0M213.3 140.9a2.30 2.30 0 1 0 0.01 0M214.0 147.7a2.30 2.30 0 1 0 0.01 0M202.5 157.4a2.30 2.30 0 1 0 0.01 0M206.6 92.0a2.30 2.30 0 1 0 0.01 0M213.9 110.3a2.30 2.30 0 1 0 0.01 0M214.5 165.9a2.30 2.30 0 1 0 0.01 0M213.4 115.7a2.30 2.30 0 1 0 0.01 0M213.8 188.2a2.30 2.30 0 1 0 0.01 0M213.6 181.7a2.30 2.30 0 1 0 0.01 0M220.6 111.3a2.30 2.30 0 1 0 0.01 0M217.8 108.1a2.30 2.30 0 1 0 0.01 0M216.1 153.1a2.30 2.30 0 1 0 0.01 0M212.4 102.0a2.30 2.30 0 1 0 0.01 0M211.5 131.7a2.30 2.30 0 1 0 0.01 0M215.7 137.9a2.30 2.30 0 1 0 0.01 0M215.8 131.9a2.30 2.30 0 1 0 0.01 0M205.3 138.6a2.30 2.30 0 1 0 0.01 0M220.2 118.9a2.30 2.30 0 1 0 0.01 0M208.1 93.2a2.30 2.30 0 1 0 0.01 0M222.5 114.0a2.30 2.30 0 1 0 0.01 0M218.5 143.2a2.30 2.30 0 1 0 0.01 0M212.6 141.1a2.30 2.30 0 1 0 0.01 0M222.5 180.2a2.30 2.30 0 1 0 0.01 0M215.8 129.2a2.30 2.30 0 1 0 0.01 0M220.6 156.0a2.30 2.30 0 1 0 0.01 0M213.9 151.8a2.30 2.30 0 1 0 0.01 0M209.5 157.2a2.30 2.30 0 1 0 0.01 0M212.0 134.0a2.30 2.30 0 1 0 0.01 0M207.5 142.0a2.30 2.30 0 1 0 0.01 0M215.4 104.3a2.30 2.30 0 1 0 0.01 0M214.9 150.1a2.30 2.30 0 1 0 0.01 0M219.8 166.7a2.30 2.30 0 1 0 0.01 0M210.4 168.9a2.30 2.30 0 1 0 0.01 0M215.9 134.5a2.30 2.30 0 1 0 0.01 0M209.5 161.1a2.30 2.30 0 1 0 0.01 0M217.4 128.6a2.30 2.30 0 1 0 0.01 0M214.9 129.9a2.30 2.30 0 1 0 0.01 0M209.5 117.7a2.30 2.30 0 1 0 0.01 0M216.4 147.1a2.30 2.30 0 1 0 0.01 0M215.2 145.2a2.30 2.30 0 1 0 0.01 0M213.6 161.6a2.30 2.30 0 1 0 0.01 0M205.2 158.9a2.30 2.30 0 1 0 0.01 0" fill="#ff7f0e" fill-opacity="0.070" stroke="#ff7f0e" stroke-opacity="0.120" stroke-width="0.60"/><path d="M61.1 118.1a2.30 2.30 0 1 0 0.01 0M84.7 109.6a2.30 2.30 0 1 0 0.01 0M86.0 97.0a2.30 2.30 0 1 0 0.01 0M118.0 107.6a2.30 2.30 0 1 0 0.01 0M95.5 113.6a2.30 2.30 0 1 0 0.01 0M66.4 95.1a2.30 2.30 0 1 0 0.01 0M57.5 128.7a2.30 2.30 0 1 0 0.01 0M43.8 149.5a2.30 2.30 0 1 0 0.01 0M85.2 96.6a2.30 2.30 0 1 0 0.01 0M64.3 98.0a2.30 2.30 0 1 0 0.01 0M82.2 115.5a2.30 2.30 0 1 0 0.01 0M97.2 86.3a2.30 2.30 0 1 0 0.01 0M102.5 103.6a2.30 2.30 0 1 0 0.01 0M80.9 111.5a2.30 2.30 0 1 0 0.01 0M98.4 126.9a2.30 2.30 0 1 0 0.01 0M113.1 106.4a2.30 2.30 0 1 0 0.01 0M67.9 114.3a2.30 2.30 0 1 0 0.01 0M100.2 106.7a2.30 2.30 0 1 0 0.01 0M77.8 136.8a2.30 2.30 0 1 0 0.01 0M127.6 95.6a2.30 2.30 0 1 0 0.01 0M76.2 113.5a2.30 2.30 0 1 0 0.01 0M58.3 106.5a2.30 2.30 0 1 0 0.01 0M87.3 105.0a2.30 2.30 0 1 0 0.01 0M114.1 133.6a2.30 2.30 0 1 0 0.01 0M91.2 106.4a2.30 2.30 0 1 0 0.01 0M88.2 113.8a2.30 2.30 0 1 0 0.01 0M110.3 99.8a2.30 2.30 0 1 0 0.01 0M93.3 92.0a2.30 2.30 0 1 0 0.01 0M65.7 116.6a2.30 2.30 0 1 0 0.01 0M95.4 92.7a2.30 2.30 0 1 0 0.01 0M102.0 89.5a2.30 2.30 0 1 0 0.01 0M87.0 108.5a2.30 2.30 0 1 0 0.01 0M107.3 86.7a2.30 2.30 0 1 0 0.01 0M67.2 115.1a2.30 2.30 0 1 0 0.01 0M100.7 111.6a2.30 2.30 0 1 0 0.01 0M58.1 112.6a2.30 2.30 0 1 0 0.01 0M70.2 139.9a2.30 2.30 0 1 0 0.01 0M95.1 113.8a2.30 2.30 0 1 0 0.01 0M46.8 131.5a2.30 2.30 0 1 0 0.01 0M84.9 123.0a2.30 2.30 0 1 0 0.01 0M62.7 139.7a2.30 2.30 0 1 0 0.01 0M100.1 111.4a2.30 2.30 0 1 0 0.01 0M73.9 142.3a2.30 2.30 0 1 0 0.01 0M92.1 111.9a2.30 2.30 0 1 0 0.01 0M85.1 107.4a2.30 2.30 0 1 0 0.01 0M90.0 111.1a2.30 2.30 0 1 0 0.01 0M108.7 107.1a2.30 2.30 0 1 0 0.01 0M74.5 119.0a2.30 2.30 0 1 0 0.01 0M100.4 95.5a2.30 2.30 0 1 0 0.01 0M90.6 123.6a2.30 2.30 0 1 0 0.01 0M91.6 101.5a2.30 2.30 0 1 0 0.01 0M101.9 115.9a2.30 2.30 0 1 0 0.01 0M99.7 106.7a2.30 2.30 0 1 0 0.01 0M112.8 79.6a2.30 2.30 0 1 0 0.01 0M95.5 114.7a2.30 2.30 0 1 0 0.01 0M65.8 110.3a2.30 2.30 0 1 0 0.01 0M73.8 118.3a2.30 2.30 0 1 0 0.01 0M86.4 117.2a2.30 2.30 0 1 0 0.01 0M104.3 93.4a2.30 2.30 0 1 0 0.01 0M89.1 114.1a2.30 2.30 0 1 0 0.01 0M48.1 125.3a2.30 2.30 0 1 0 0.01 0M49.3 116.5a2.30 2.30 0 1 0 0.01 0M71.9 130.2a2.30 2.30 0 1 0 0.01 0M68.5 108.6a2.30 2.30 0 1 0 0.01 0M95.1 102.4a2.30 2.30 0 1 0 0.01 0M63.6 134.0a2.30 2.30 0 1 0 0.01 0M98.2 98.3a2.30 2.30 0 1 0 0.01 0M49.0 117.1a2.30 2.30 0 1 0 0.01 0M73.6 135.4a2.30 2.30 0 1 0 0.01 0M72.9 124.8a2.30 2.30 0 1 0 0.01 0M105.6 102.9a2.30 2.30 0 1 0 0.01 0M94.3 121.3a2.30 2.30 0 1 0 0.01 0M88.2 86.9a2.30 2.30 0 1 0 0.01 0M88.9 77.6a2.30 2.30 0 1 0 0.01 0M73.7 124.8a2.30 2.30 0 1 0 0.01 0M53.7 137.5a2.30 2.30 0 1 0 0.01 0M119.5 89.0a2.30 2.30 0 1 0 0.01 0M57.0 143.7a2.30 2.30 0 1 0 0.01 0M57.1 104.9a2.30 2.30 0 1 0 0.01 0M57.3 114.1a2.30 2.30 0 1 0 0.01 0M78.0 136.7a2.30 2.30 0 1 0 0.01 0M54.2 100.1a2.30 2.30 0 1 0 0.01 0M48.8 119.0a2.30 2.30 0 1 0 0.01 0M102.4 80.6a2.30 2.30 0 1 0 0.01 0M79.6 119.7a2.30 2.30 0 1 0 0.01 0M72.6 109.9a2.30 2.30 0 1 0 0.01 0M74.3 117.3a2.30 2.30 0 1 0 0.01 0M73.7 132.2a2.30 2.30 0 1 0 0.01 0M52.5 135.9a2.30 2.30 0 1 0 0.01 0M99.2 101.3a2.30 2.30 0 1 0 0.01 0M80.7 126.2a2.30 2.30 0 1 0 0.01 0M61.5 116.1a2.30 2.30 0 1 0 0.01 0M65.7 120.7a2.30 2.30 0 1 0 0.01 0M60.4 111.1a2.30 2.30 0 1 0 0.01 0M92.2 104.1a2.30 2.30 0 1 0 0.01 0M93.1 125.4a2.30 2.30 0 1 0 0.01 0M41.9 121.3a2.30 2.30 0 1 0 0.01 0M88.2 125.3a2.30 2.30 0 1 0 0.01 0M60.6 118.3a2.30 2.30 0 1 0 0.01 0M84.7 93.9a2.30 2.30 0 1 0 0.01 0M72.7 114.2a2.30 2.30 0 1 0 0.01 0M74.3 121.1a2.30 2.30 0 1 0 0.01 0M94.8 98.2a2.30 2.30 0 1 0 0.01 0M95.4 109.4a2.30 2.30 0 1 0 0.01 0M77.4 102.4a2.30 2.30 0 1 0 0.01 0M104.7 84.4a2.30 2.30 0 1 0 0.01 0M90.2 117.2a2.30 2.30 0 1 0 0.01 0M32.4 125.1a2.30 2.30 0 1 0 0.01 0M46.3 124.5a2.30 2.30 0 1 0 0.01 0M89.0 97.3a2.30 2.30 0 1 0 0.01 0M86.2 117.5a2.30 2.30 0 1 0 0.01 0M66.7 113.5a2.30 2.30 0 1 0 0.01 0M65.3 124.9a2.30 2.30 0 1 0 0.01 0M84.2 128.4a2.30 2.30 0 1 0 0.01 0M96.8 85.3a2.30 2.30 0 1 0 0.01 0M86.2 111.0a2.30 2.30 0 1 0 0.01 0M86.6 112.9a2.30 2.30 0 1 0 0.01 0M82.9 122.6a2.30 2.30 0 1 0 0.01 0M95.9 109.1a2.30 2.30 0 1 0 0.01 0M77.9 127.6a2.30 2.30 0 1 0 0.01 0M62.2 133.4a2.30 2.30 0 1 0 0.01 0M88.6 96.0a2.30 2.30 0 1 0 0.01 0M102.4 131.9a2.30 2.30 0 1 0 0.01 0M79.8 103.5a2.30 2.30 0 1 0 0.01 0M88.7 115.1a2.30 2.30 0 1 0 0.01 0M113.0 93.1a2.30 2.30 0 1 0 0.01 0M100.9 104.2a2.30 2.30 0 1 0 0.01 0M106.7 104.3a2.30 2.30 0 1 0 0.01 0M68.4 127.0a2.30 2.30 0 1 0 0.01 0M101.7 98.5a2.30 2.30 0 1 0 0.01 0M40.2 118.6a2.30 2.30 0 1 0 0.01 0M86.6 117.6a2.30 2.30 0 1 0 0.01 0M78.5 125.7a2.30 2.30 0 1 0 0.01 0M66.0 100.1a2.30 2.30 0 1 0 0.01 0M86.7 99.3a2.30 2.30 0 1 0 0.01 0M111.6 110.7a2.30 2.30 0 1 0 0.01 0M71.9 107.1a2.30 2.30 0 1 0 0.01 0M92.2 120.7a2.30 2.30 0 1 0 0.01 0M84.0 107.9a2.30 2.30 0 1 0 0.01 0M105.2 108.2a2.30 2.30 0 1 0 0.01 0M66.9 109.1a2.30 2.30 0 1 0 0.01 0M41.7 126.7a2.30 2.30 0 1 0 0.01 0M77.8 118.8a2.30 2.30 0 1 0 0.01 0M67.6 111.7a2.30 2.30 0 1 0 0.01 0M72.2 108.1a2.30 2.30 0 1 0 0.01 0M73.4 106.6a2.30 2.30 0 1 0 0.01 0M102.1 98.4a2.30 2.30 0 1 0 0.01 0M90.6 110.8a2.30 2.30 0 1 0 0.01 0M52.5 97.8a2.30 2.30 0 1 0 0.01 0M58.9 116.4a2.30 2.30 0 1 0 0.01 0M74.0 95.4a2.30 2.30 0 1 0 0.01 0M90.7 101.1a2.30 2.30 0 1 0 0.01 0M90.7 93.2a2.30 2.30 0 1 0 0.01 0M32.2 140.9a2.30 2.30 0 1 0 0.01 0M100.7 130.5a2.30 2.30 0 1 0 0.01 0M83.9 112.8a2.30 2.30 0 1 0 0.01 0M97.5 65.4a2.30 2.30 0 1 0 0.01 0M44.5 101.8a2.30 2.30 0 1 0 0.01 0M85.2 104.5a2.30 2.30 0 1 0 0.01 0M81.5 88.5a2.30 2.30 0 1 0 0.01 0M66.4 116.0a2.30 2.30 0 1 0 0.01 0M74.4 108.5a2.30 2.30 0 1 0 0.01 0M94.2 93.1a2.30 2.30 0 1 0 0.01 0M67.6 108.8a2.30 2.30 0 1 0 0.01 0M84.6 93.5a2.30 2.30 0 1 0 0.01 0M54.9 108.6a2.30 2.30 0 1 0 0.01 0M47.6 121.9a2.30 2.30 0 1 0 0.01 0M55.5 93.3a2.30 2.30 0 1 0 0.01 0M68.0 115.2a2.30 2.30 0 1 0 0.01 0M105.3 95.2a2.30 2.30 0 1 0 0.01 0M102.9 100.3a2.30 2.30 0 1 0 0.01 0M95.2 85.4a2.30 2.30 0 1 0 0.01 0M51.9 119.4a2.30 2.30 0 1 0 0.01 0M72.2 113.0a2.30 2.30 0 1 0 0.01 0M79.7 93.5a2.30 2.30 0 1 0 0.01 0M78.7 102.1a2.30 2.30 0 1 0 0.01 0M112.3 90.9a2.30 2.30 0 1 0 0.01 0M79.1 133.1a2.30 2.30 0 1 0 0.01 0M58.5 141.8a2.30 2.30 0 1 0 0.01 0M83.1 102.4a2.30 2.30 0 1 0 0.01 0" fill="#d62728" fill-opacity="0.060" stroke="#d62728" stroke-opacity="0.120" stroke-width="0.60"/><path d="M80.8 83.7L90.8 93.7M80.8 93.7L90.8 83.7" stroke="#6b1010" stroke-width="1.10" fill="none"/><path d="M91.2 84.4L101.2 94.4M91.2 94.4L101.2 84.4" stroke="#6b1010" stroke-width="1.10" fill="none"/><path d="M104.2 89.5L114.2 99.5M104.2 99.5L114.2 89.5" stroke="#6b1010" stroke-width="1.10" fill="none"/><path d="M106.4 88.0L116.4 98.0M106.4 98.0L116.4 88.0" stroke="#6b1010" stroke-width="1.10" fill="none"/><path d="M95.5 98.1L105.5 108.1M95.5 108.1L105.5 98.1" stroke="#6b1010" stroke-width="1.10" fill="none"/><path d="M130.5 101.3L138.5 109.3M130.5 109.3L138.5 101.3" stroke="#1f5a1f" stroke-width="1.10" fill="none"/><path d="M120.1 112.2L128.1 120.2M120.1 120.2L128.1 112.2" stroke="#1f5a1f" stroke-width="1.10" fill="none"/><path d="M143.8 108.5L151.8 116.5M143.8 116.5L151.8 108.5" stroke="#1f5a1f" stroke-width="1.10" fill="none"/><path d="M168.9 114.8L176.9 122.8M168.9 122.8L176.9 114.8" stroke="#1f5a1f" stroke-width="1.10" fill="none"/><path d="M137.3 126.6L145.3 134.6M137.3 134.6L145.3 126.6" stroke="#1f5a1f" stroke-width="1.10" fill="none"/><path d="M117.2 175.8L125.2 183.8M117.2 183.8L125.2 175.8" stroke="#1f2a7a" stroke-width="1.10" fill="none"/><path d="M130.1 180.2L138.1 188.2M130.1 188.2L138.1 180.2" stroke="#1f2a7a" stroke-width="1.10" fill="none"/><path d="M149.6 180.9L157.6 188.9M149.6 188.9L157.6 180.9" stroke="#1f2a7a" stroke-width="1.10" fill="none"/><path d="M168.9 177.7L176.9 185.7M168.9 185.7L176.9 177.7" stroke="#1f2a7a" stroke-width="1.10" fill="none"/><path d="M133.7 192.5L141.7 200.5M133.7 200.5L141.7 192.5" stroke="#1f2a7a" stroke-width="1.10" fill="none"/><path d="M211.1 117.5L220.1 126.5M211.1 126.5L220.1 117.5" stroke="#6b3a12" stroke-width="1.10" fill="none"/><path d="M211.1 121.1L220.1 130.1M211.1 130.1L220.1 121.1" stroke="#6b3a12" stroke-width="1.10" fill="none"/><path d="M211.1 123.2L220.1 132.2M211.1 132.2L220.1 123.2" stroke="#6b3a12" stroke-width="1.10" fill="none"/><path d="M209.6 139.2L218.6 148.2M209.6 148.2L218.6 139.2" stroke="#6b3a12" stroke-width="1.10" fill="none"/><path d="M211.1 143.5L220.1 152.5M211.1 152.5L220.1 143.5" stroke="#6b3a12" stroke-width="1.10" fill="none"/><path d="M211.8 146.4L220.8 155.4M211.8 155.4L220.8 146.4" stroke="#6b3a12" stroke-width="1.10" fill="none"/><path d="M212.5 155.1L221.5 164.1M212.5 164.1L221.5 155.1" stroke="#6b3a12" stroke-width="1.10" fill="none"/></g><rect x="0.65" y="0.65" width="301.40" height="215.40" fill="none" stroke="#555" stroke-width="1.30"/></svg>
<svg style="left:1251.3px;top:968.8px" width="451.3" height="299.8" viewBox="0 0 451.3 299.8"><rect x="0" y="0" width="451.3" height="299.8" fill="#fff"/><line x1="61.0" y1="11.1" x2="61.0" y2="289.3" stroke="#e6e6e6" stroke-width="1"/><line x1="162.3" y1="11.1" x2="162.3" y2="289.3" stroke="#e6e6e6" stroke-width="1"/><line x1="264.0" y1="11.1" x2="264.0" y2="289.3" stroke="#e6e6e6" stroke-width="1"/><line x1="365.4" y1="11.1" x2="365.4" y2="289.3" stroke="#e6e6e6" stroke-width="1"/><line x1="10.5" y1="41.6" x2="440.8" y2="41.6" stroke="#ececec" stroke-width="1.1"/><line x1="10.5" y1="104.1" x2="440.8" y2="104.1" stroke="#ececec" stroke-width="1.1"/><line x1="10.5" y1="165.6" x2="440.8" y2="165.6" stroke="#ececec" stroke-width="1.1"/><line x1="10.5" y1="228.1" x2="440.8" y2="228.1" stroke="#ececec" stroke-width="1.1"/><line x1="10.5" y1="289.3" x2="440.8" y2="289.3" stroke="#ececec" stroke-width="1.1"/><path d="M 23.1,237.1 C 25.6,243.4 30.1,253.2 46.2,251.4 C 62.4,249.7 93.5,239.2 119.8,226.6 C 146.1,214.1 181.1,187.7 203.9,176.2 C 226.7,164.6 238.9,159.2 256.5,157.2 C 274.0,155.3 288.0,162.4 309.0,164.6 C 330.0,166.8 364.6,172.6 382.6,170.3 C 400.6,168.0 415.5,159.8 417.3,150.9 C 419.0,142.1 411.1,130.4 393.1,117.3 C 375.1,104.2 337.0,83.9 309.0,72.1 C 281.0,60.3 251.2,52.2 224.9,46.2 C 198.7,40.3 170.5,35.6 151.4,36.4 C 132.3,37.2 115.3,43.9 110.4,51.1 C 105.5,58.3 114.4,69.0 121.9,79.5 C 129.5,90.0 152.4,104.7 155.6,114.1 C 158.7,123.6 153.1,126.9 140.8,136.2 C 128.6,145.5 100.2,156.9 82.0,169.9 C 63.8,182.8 41.3,202.8 31.5,214.0 C 21.7,225.2 20.7,230.9 23.1,237.1 Z" fill="none" stroke="#b5dcaa" stroke-width="1.50"/><path d="M 59.9,218.2 C 58.9,225.4 60.8,231.5 77.8,227.7 C 94.8,223.8 140.1,206.3 161.9,195.1 C 183.6,183.9 190.6,169.3 208.1,160.4 C 225.6,151.5 246.7,144.3 267.0,141.5 C 287.3,138.7 314.4,144.8 330.0,143.6 C 345.6,142.4 357.4,139.9 360.5,134.1 C 363.7,128.3 357.5,116.2 349.0,108.9 C 340.4,101.5 326.2,96.3 309.0,90.0 C 291.9,83.7 267.0,75.8 246.0,71.1 C 224.9,66.3 196.2,61.9 182.9,61.6 C 169.6,61.2 167.8,64.6 166.1,69.0 C 164.3,73.3 169.4,81.2 172.4,87.9 C 175.4,94.5 183.2,102.2 183.9,108.9 C 184.6,115.5 183.8,121.0 176.6,127.8 C 169.4,134.6 156.3,140.4 140.8,149.9 C 125.4,159.3 97.6,173.2 84.1,184.6 C 70.6,196.0 61.0,211.0 59.9,218.2 Z" fill="none" stroke="#6db56a" stroke-width="1.60"/><ellipse cx="138.3" cy="179.7" rx="48" ry="11.5" transform="rotate(-29 138.3 179.7)" fill="none" stroke="#3f8a3f" stroke-width="1.6"/><path d="M 210.2,87.9 C 214.2,84.4 223.9,82.1 233.3,81.6 C 242.8,81.0 256.1,81.6 267.0,84.7 C 277.8,87.9 291.3,95.2 298.5,100.5 C 305.7,105.7 311.1,112.0 310.1,116.2 C 309.0,120.5 302.9,123.6 292.2,125.7 C 281.5,127.8 258.0,128.5 246.0,128.9 C 233.9,129.2 225.3,129.4 219.7,127.8 C 214.1,126.2 214.1,123.6 212.3,119.4 C 210.6,115.2 209.5,107.8 209.2,102.6 C 208.8,97.3 206.2,91.4 210.2,87.9 Z" fill="none" stroke="#3f8a3f" stroke-width="1.60"/><ellipse cx="212.3" cy="134.1" rx="70.4" ry="42.0" transform="rotate(14 212.3 134.1)" fill="none" stroke="#f9caa0" stroke-width="1.6"/><ellipse cx="212.3" cy="134.1" rx="45.2" ry="27.3" transform="rotate(14 212.3 134.1)" fill="none" stroke="#e8844c" stroke-width="1.6"/><ellipse cx="212.3" cy="134.1" rx="19.8" ry="11.3" transform="rotate(14 212.3 134.1)" fill="none" stroke="#c9552f" stroke-width="1.6"/><path d="M142.4 160.3L162.4 180.3M142.4 180.3L162.4 160.3" stroke="#f0942f" stroke-width="7.5" fill="none"/><path d="M256.1 96.9L271.6 112.4M256.1 112.4L271.6 96.9" stroke="#f0942f" stroke-width="6.0" fill="none"/><path d="M168.6 101.5L174.1 107.0M168.6 107.0L174.1 101.5" stroke="#f0942f" stroke-width="2.6" fill="none"/><path d="M203.3 110.3L208.8 115.8M203.3 115.8L208.8 110.3" stroke="#f0942f" stroke-width="2.6" fill="none"/><path d="M212.7 114.6L218.2 120.1M212.7 120.1L218.2 114.6" stroke="#f0942f" stroke-width="2.6" fill="none"/><path d="M164.4 129.3L169.9 134.8M164.4 134.8L169.9 129.3" stroke="#f0942f" stroke-width="2.6" fill="none"/><path d="M203.3 130.3L208.8 135.8M203.3 135.8L208.8 130.3" stroke="#f0942f" stroke-width="2.6" fill="none"/><path d="M223.2 156.0L228.7 161.5M223.2 161.5L228.7 156.0" stroke="#f0942f" stroke-width="2.6" fill="none"/><rect x="337.4" y="17" width="97" height="41.4" rx="2" fill="#fff" fill-opacity="0.85" stroke="#e2e2e2" stroke-width="0.8"/><rect x="342.6" y="22.3" width="26" height="9.4" fill="#4b7f3a"/><rect x="342.6" y="41" width="26" height="9.7" fill="#f0942f"/><rect x="1" y="1" width="449.3" height="297.8" fill="none" stroke="#627085" stroke-width="2"/></svg>
<svg style="left:1754.4px;top:966.7px" width="441.2" height="300" viewBox="0 0 441.2 300"><rect x="0" y="0" width="441.2" height="300" fill="#fff"/><path d="M 28.7,179.5 C 32.8,167.5 45.5,126.9 53.0,107.7 C 60.5,88.5 66.9,75.5 73.8,64.0 C 80.8,52.6 87.2,44.9 94.6,39.1 C 102.1,33.3 111.6,30.2 118.5,29.3 C 125.5,28.5 129.8,30.5 136.2,33.9 C 142.6,37.3 148.3,42.7 157.0,49.5 C 165.7,56.2 179.5,68.2 188.2,74.4 C 196.9,80.7 202.1,84.2 209.0,86.9 C 215.9,89.6 222.8,90.7 229.8,90.7 C 236.7,90.7 241.9,89.8 250.6,86.9 C 259.2,84.0 273.1,76.9 281.8,73.4 C 290.4,69.9 295.6,67.6 302.6,66.1 C 309.5,64.6 316.4,64.1 323.4,64.5 C 330.3,64.8 335.5,66.0 344.1,68.2 C 352.8,70.4 366.7,75.8 375.3,77.6 C 384.0,79.3 389.9,79.0 396.1,78.6 C 402.4,78.2 410.0,75.7 412.8,75.1" fill="none" stroke="#8e3a98" stroke-width="1.8"/><path d="M 28.7,194.0 C 32.8,186.6 43.8,163.3 53.0,149.3 C 62.3,135.3 73.8,120.0 84.2,109.8 C 94.6,99.6 105.4,92.7 115.4,88.0 C 125.5,83.2 134.1,81.4 144.5,81.1 C 154.9,80.8 165.3,83.2 177.8,85.9 C 190.3,88.6 206.6,94.9 219.4,97.3 C 232.2,99.7 242.6,100.8 254.7,100.4 C 266.9,100.1 280.7,97.1 292.2,95.2 C 303.6,93.3 314.0,90.3 323.4,89.0 C 332.7,87.7 339.6,86.9 348.3,87.5 C 357.0,88.2 367.4,90.7 375.3,93.2 C 383.3,95.7 389.9,99.2 396.1,102.5 C 402.4,105.8 410.0,111.2 412.8,112.9" fill="none" stroke="#4a7f35" stroke-width="1.8"/><path d="M 28.7,279.3 C 32.8,272.2 43.8,250.7 53.0,236.6 C 62.3,222.6 73.8,207.2 84.2,195.1 C 94.6,182.9 105.0,171.7 115.4,163.9 C 125.8,156.1 136.2,151.7 146.6,148.3 C 157.0,144.8 167.4,144.5 177.8,143.1 C 188.2,141.7 198.6,141.7 209.0,139.9 C 219.4,138.2 229.8,136.3 240.2,132.7 C 250.6,129.0 261.0,123.0 271.4,118.1 C 281.8,113.3 292.5,107.3 302.6,103.6 C 312.6,99.8 323.0,96.2 331.7,95.7 C 340.3,95.1 347.3,96.3 354.5,100.4 C 361.8,104.5 368.4,111.0 375.3,120.2 C 382.3,129.4 389.9,143.5 396.1,155.5 C 402.4,167.6 410.0,186.4 412.8,192.6" fill="none" stroke="#f0942f" stroke-width="1.8"/><rect x="1" y="1" width="439.2" height="298" fill="none" stroke="#627085" stroke-width="2"/></svg>
<svg style="left:1298.1px;top:2152.2px" width="303.3" height="301.1" viewBox="0 0 303.3 301.1"><rect width="303.3" height="301.1" fill="#fff"/><polygon points="13.4,112.7 17.3,89.3 21.3,142.3 25.2,86.8 29.2,155.0 33.1,62.7 37.1,146.3 41.0,111.2 45.0,37.2 48.9,134.8 52.8,128.3 56.8,152.3 60.7,167.3 64.7,101.3 68.6,153.1 72.6,148.5 76.5,148.6 80.5,131.3 84.4,82.1 88.3,94.3 92.3,121.8 96.2,145.7 100.2,84.4 104.1,192.0 108.1,179.8 112.0,101.2 116.0,115.3 119.9,90.2 123.8,162.8 127.8,174.7 131.7,172.8 135.7,151.1 139.6,151.6 143.6,99.8 147.5,124.0 151.5,74.1 155.4,112.4 159.3,162.4 163.3,216.5 167.2,130.5 171.2,181.5 175.1,115.7 179.1,169.5 183.0,166.6 186.9,164.7 190.9,93.5 194.8,129.3 198.8,133.2 202.7,121.5 206.7,172.1 210.6,150.7 214.6,179.1 218.5,218.7 222.4,143.8 226.4,122.2 230.3,219.9 234.3,138.3 238.2,154.6 242.2,74.6 246.1,98.2 250.1,101.1 254.0,145.2 257.9,186.9 261.9,149.4 265.8,198.4 269.8,157.9 273.7,123.8 277.7,147.3 281.6,169.5 285.6,188.6 289.5,155.5 289.5,215.3 285.6,235.5 281.6,209.6 277.7,199.0 273.7,165.0 269.8,215.0 265.8,254.3 261.9,209.1 257.9,231.0 254.0,192.9 250.1,167.3 246.1,149.7 242.2,122.0 238.2,217.4 234.3,184.6 230.3,263.6 226.4,178.9 222.4,194.2 218.5,271.0 214.6,220.4 210.6,201.7 206.7,231.5 202.7,177.7 198.8,195.4 194.8,188.3 190.9,138.0 186.9,217.6 183.0,207.5 179.1,209.5 175.1,169.1 171.2,228.3 167.2,176.8 163.3,260.8 159.3,224.8 155.4,160.1 151.5,118.5 147.5,181.3 143.6,150.2 139.6,209.0 135.7,207.4 131.7,226.7 127.8,226.9 123.8,208.0 119.9,132.3 116.0,170.3 112.0,143.4 108.1,221.7 104.1,244.4 100.2,149.2 96.2,187.4 92.3,175.2 88.3,136.4 84.4,145.3 80.5,185.4 76.5,216.0 72.6,192.8 68.6,207.5 64.7,149.9 60.7,228.1 56.8,193.9 52.8,169.6 48.9,198.3 45.0,96.8 41.0,177.7 37.1,195.9 33.1,123.7 29.2,222.0 25.2,133.3 21.3,204.0 17.3,144.3 13.4,176.2" fill="#2ca02c" fill-opacity="0.12"/><polygon points="13.4,263.4 17.3,186.3 21.3,226.5 25.2,192.5 29.2,224.1 33.1,220.7 37.1,226.3 41.0,218.1 45.0,225.1 48.9,223.1 52.8,203.2 56.8,247.8 60.7,241.2 64.7,257.1 68.6,230.1 72.6,220.3 76.5,219.6 80.5,182.5 84.4,249.0 88.3,209.5 92.3,205.1 96.2,221.8 100.2,256.9 104.1,234.9 108.1,146.6 112.0,217.6 116.0,243.2 119.9,224.2 123.8,216.0 127.8,222.9 131.7,184.9 135.7,263.2 139.6,207.7 143.6,219.5 147.5,211.6 151.5,185.3 155.4,210.4 159.3,207.8 163.3,250.3 167.2,223.1 171.2,197.6 175.1,240.0 179.1,222.0 183.0,201.5 186.9,216.3 190.9,221.1 194.8,213.3 198.8,232.3 202.7,193.0 206.7,223.2 210.6,246.5 214.6,242.2 218.5,245.7 222.4,244.4 226.4,258.0 230.3,208.2 234.3,242.9 238.2,195.1 242.2,217.9 246.1,195.0 250.1,244.1 254.0,252.4 257.9,225.0 261.9,258.1 265.8,220.3 269.8,231.9 273.7,234.6 277.7,213.1 281.6,240.4 285.6,264.8 289.5,213.2 289.5,234.6 285.6,286.2 281.6,258.4 277.7,233.3 273.7,254.2 269.8,256.8 265.8,239.7 261.9,287.2 257.9,251.6 254.0,277.6 250.1,276.0 246.1,221.9 242.2,244.6 238.2,223.6 234.3,270.1 230.3,236.3 226.4,277.3 222.4,278.1 218.5,276.4 214.6,271.0 210.6,272.3 206.7,251.0 202.7,212.2 198.8,252.3 194.8,239.8 190.9,241.9 186.9,246.5 183.0,221.3 179.1,249.1 175.1,266.1 171.2,229.4 167.2,255.8 163.3,272.3 159.3,240.1 155.4,241.0 151.5,214.0 147.5,244.0 143.6,242.2 139.6,232.4 135.7,289.2 131.7,210.5 127.8,252.6 123.8,240.7 119.9,253.7 116.0,262.1 112.0,241.1 108.1,179.1 104.1,256.9 100.2,278.4 96.2,254.6 92.3,237.1 88.3,235.6 84.4,268.8 80.5,212.9 76.5,244.9 72.6,249.1 68.6,255.2 64.7,285.9 60.7,273.0 56.8,266.5 52.8,234.5 48.9,243.8 45.0,256.8 41.0,243.6 37.1,254.4 33.1,250.5 29.2,249.8 25.2,226.1 21.3,260.3 17.3,209.1 13.4,282.4" fill="#ffa500" fill-opacity="0.10"/><polygon points="13.4,265.4 17.3,254.4 21.3,273.1 25.2,261.3 29.2,261.6 33.1,263.3 37.1,257.8 41.0,241.8 45.0,270.0 48.9,243.1 52.8,257.0 56.8,261.5 60.7,249.1 64.7,257.6 68.6,266.2 72.6,257.8 76.5,248.0 80.5,225.4 84.4,248.2 88.3,249.2 92.3,250.7 96.2,245.5 100.2,259.9 104.1,248.6 108.1,255.8 112.0,262.9 116.0,249.3 119.9,253.0 123.8,278.7 127.8,263.3 131.7,241.2 135.7,256.9 139.6,263.9 143.6,270.4 147.5,259.0 151.5,210.3 155.4,190.5 159.3,262.7 163.3,259.6 167.2,252.9 171.2,254.8 175.1,250.0 179.1,262.4 183.0,248.9 186.9,262.5 190.9,263.3 194.8,261.6 198.8,247.2 202.7,271.2 206.7,250.0 210.6,261.3 214.6,249.0 218.5,240.3 222.4,257.9 226.4,260.5 230.3,255.1 234.3,258.6 238.2,248.8 242.2,249.5 246.1,255.4 250.1,274.8 254.0,265.1 257.9,252.3 261.9,260.4 265.8,253.3 269.8,250.0 273.7,265.9 277.7,251.4 281.6,237.2 285.6,247.2 289.5,256.3 289.5,272.0 285.6,260.7 281.6,255.0 277.7,264.4 273.7,278.2 269.8,267.1 265.8,263.4 261.9,277.6 257.9,263.5 254.0,278.2 250.1,290.8 246.1,267.7 242.2,261.9 238.2,264.4 234.3,273.6 230.3,269.9 226.4,271.9 222.4,273.2 218.5,250.5 214.6,262.1 210.6,274.0 206.7,262.6 202.7,282.9 198.8,262.2 194.8,274.9 190.9,280.7 186.9,274.0 183.0,263.5 179.1,279.0 175.1,268.0 171.2,267.9 167.2,263.0 163.3,273.3 159.3,277.0 155.4,204.9 151.5,226.1 147.5,270.6 143.6,281.4 139.6,274.2 135.7,268.0 131.7,258.8 127.8,281.2 123.8,292.1 119.9,267.4 116.0,259.7 112.0,277.5 108.1,268.5 104.1,266.1 100.2,274.3 96.2,261.4 92.3,265.3 88.3,265.2 84.4,258.5 80.5,241.4 76.5,260.4 72.6,268.2 68.6,284.2 64.7,271.9 60.7,260.3 56.8,277.6 52.8,274.5 48.9,255.3 45.0,285.0 41.0,256.2 37.1,273.8 33.1,276.4 29.2,278.8 25.2,275.2 21.3,289.7 17.3,269.0 13.4,279.5" fill="#3030ff" fill-opacity="0.10"/><polyline points="13.4,144.4 17.3,116.8 21.3,173.1 25.2,110.0 29.2,188.5 33.1,93.2 37.1,171.1 41.0,144.4 45.0,67.0 48.9,166.6 52.8,148.9 56.8,173.1 60.7,197.7 64.7,125.6 68.6,180.3 72.6,170.7 76.5,182.3 80.5,158.4 84.4,113.7 88.3,115.3 92.3,148.5 96.2,166.6 100.2,116.8 104.1,218.2 108.1,200.8 112.0,122.3 116.0,142.8 119.9,111.2 123.8,185.4 127.8,200.8 131.7,199.8 135.7,179.3 139.6,180.3 143.6,125.0 147.5,152.6 151.5,96.3 155.4,136.2 159.3,193.6 163.3,238.7 167.2,153.7 171.2,204.9 175.1,142.4 179.1,189.5 183.0,187.1 186.9,191.1 190.9,115.8 194.8,158.8 198.8,164.3 202.7,149.6 206.7,201.8 210.6,176.2 214.6,199.8 218.5,244.8 222.4,169.0 226.4,150.6 230.3,241.8 234.3,161.4 238.2,186.0 242.2,98.3 246.1,124.0 250.1,134.2 254.0,169.0 257.9,209.0 261.9,179.3 265.8,226.4 269.8,186.4 273.7,144.4 277.7,173.1 281.6,189.5 285.6,212.0 289.5,185.4" fill="none" stroke="#2f7f1f" stroke-width="1.10" stroke-linejoin="round"/><polyline points="13.4,272.9 17.3,197.7 21.3,243.4 25.2,209.3 29.2,236.9 33.1,235.6 37.1,240.3 41.0,230.8 45.0,241.0 48.9,233.4 52.8,218.9 56.8,257.2 60.7,257.1 64.7,271.5 68.6,242.6 72.6,234.7 76.5,232.3 80.5,197.7 84.4,258.9 88.3,222.6 92.3,221.1 96.2,238.2 100.2,267.6 104.1,245.9 108.1,162.9 112.0,229.3 116.0,252.6 119.9,239.0 123.8,228.4 127.8,237.7 131.7,197.7 135.7,276.2 139.6,220.1 143.6,230.8 147.5,227.8 151.5,199.6 155.4,225.7 159.3,223.9 163.3,261.3 167.2,239.5 171.2,213.5 175.1,253.0 179.1,235.5 183.0,211.4 186.9,231.4 190.9,231.5 194.8,226.5 198.8,242.3 202.7,202.6 206.7,237.1 210.6,259.4 214.6,256.6 218.5,261.1 222.4,261.2 226.4,267.7 230.3,222.3 234.3,256.5 238.2,209.3 242.2,231.3 246.1,208.4 250.1,260.0 254.0,265.0 257.9,238.3 261.9,272.7 265.8,230.0 269.8,244.4 273.7,244.4 277.7,223.2 281.6,249.4 285.6,275.5 289.5,223.9" fill="none" stroke="#f5a52a" stroke-width="1.10" stroke-linejoin="round"/><polyline points="13.4,272.5 17.3,261.7 21.3,281.4 25.2,268.2 29.2,270.2 33.1,269.9 37.1,265.8 41.0,249.0 45.0,277.5 48.9,249.2 52.8,265.7 56.8,269.6 60.7,254.7 64.7,264.8 68.6,275.2 72.6,263.0 76.5,254.2 80.5,233.4 84.4,253.3 88.3,257.2 92.3,258.0 96.2,253.4 100.2,267.1 104.1,257.4 108.1,262.1 112.0,270.2 116.0,254.5 119.9,260.2 123.8,285.4 127.8,272.2 131.7,250.0 135.7,262.4 139.6,269.0 143.6,275.9 147.5,264.8 151.5,218.2 155.4,197.7 159.3,269.9 163.3,266.5 167.2,258.0 171.2,261.3 175.1,259.0 179.1,270.7 183.0,256.2 186.9,268.2 190.9,272.0 194.8,268.2 198.8,254.7 202.7,277.0 206.7,256.3 210.6,267.6 214.6,255.5 218.5,245.4 222.4,265.6 226.4,266.2 230.3,262.5 234.3,266.1 238.2,256.6 242.2,255.7 246.1,261.5 250.1,282.8 254.0,271.6 257.9,257.9 261.9,269.0 265.8,258.4 269.8,258.6 273.7,272.1 277.7,257.9 281.6,246.1 285.6,254.0 289.5,264.2" fill="none" stroke="#1f1fef" stroke-width="1.10" stroke-linejoin="round"/><line x1="13.4" y1="287.0" x2="289.5" y2="287.0" stroke="#111" stroke-width="1.2" stroke-dasharray="4.5 2.6"/><rect x="0.5" y="0.5" width="302.3" height="300.1" fill="none" stroke="#333" stroke-width="0.9"/><line x1="-2.5" y1="287.0" x2="0" y2="287.0" stroke="#333" stroke-width="0.7"/><line x1="-2.5" y1="249.4" x2="0" y2="249.4" stroke="#333" stroke-width="0.7"/><line x1="-2.5" y1="211.9" x2="0" y2="211.9" stroke="#333" stroke-width="0.7"/><line x1="-2.5" y1="174.3" x2="0" y2="174.3" stroke="#333" stroke-width="0.7"/><line x1="-2.5" y1="136.7" x2="0" y2="136.7" stroke="#333" stroke-width="0.7"/><line x1="-2.5" y1="99.2" x2="0" y2="99.2" stroke="#333" stroke-width="0.7"/><line x1="-2.5" y1="61.6" x2="0" y2="61.6" stroke="#333" stroke-width="0.7"/><line x1="-2.5" y1="24.0" x2="0" y2="24.0" stroke="#333" stroke-width="0.7"/><line x1="13.4" y1="301.1" x2="13.4" y2="303.6" stroke="#333" stroke-width="0.7"/><line x1="52.8" y1="301.1" x2="52.8" y2="303.6" stroke="#333" stroke-width="0.7"/><line x1="92.3" y1="301.1" x2="92.3" y2="303.6" stroke="#333" stroke-width="0.7"/><line x1="131.7" y1="301.1" x2="131.7" y2="303.6" stroke="#333" stroke-width="0.7"/><line x1="171.2" y1="301.1" x2="171.2" y2="303.6" stroke="#333" stroke-width="0.7"/><line x1="210.6" y1="301.1" x2="210.6" y2="303.6" stroke="#333" stroke-width="0.7"/><line x1="250.1" y1="301.1" x2="250.1" y2="303.6" stroke="#333" stroke-width="0.7"/><line x1="289.5" y1="301.1" x2="289.5" y2="303.6" stroke="#333" stroke-width="0.7"/><rect x="140.4" y="6.8" width="155.7" height="64.9" rx="2.5" fill="#fff" fill-opacity="0.8" stroke="#d5d5d5" stroke-width="0.8"/><line x1="144.5" y1="17.8" x2="172.1" y2="17.8" stroke="#2f7f1f" stroke-width="1.1"/><line x1="144.5" y1="37.9" x2="172.1" y2="37.9" stroke="#f5a52a" stroke-width="1.1"/><line x1="144.5" y1="58.4" x2="172.1" y2="58.4" stroke="#1f1fef" stroke-width="1.1"/></svg>
<svg style="left:104.6px;top:2360px" width="944" height="29.5" viewBox="0 0 944 29.5"><defs><filter id="mn" x="0" y="0" width="1" height="1"><feTurbulence type="fractalNoise" baseFrequency="0.9" numOctaves="1" seed="3"/><feColorMatrix values="0 0 0 0 0.45  0 0 0 0 0.45  0 0 0 0 0.45  1.6 0 0 0 -0.55"/></filter><filter id="mb"><feGaussianBlur stdDeviation="0.5"/></filter></defs><rect width="944" height="29.5" fill="#353535"/><rect width="944" height="29.5" filter="url(#mn)"/></svg>
<svg style="left:104.6px;top:2405px" width="944" height="50" viewBox="0 0 944 50"><path d="M2.6 7V42.7M5.5 7V42.7M8.3 7V42.7M11.2 7V42.7M14.0 7V42.7M16.9 7V42.7M19.7 7V42.7M22.6 7V42.7M25.4 7V42.7M28.3 7V42.7M34.1 7V42.7M37.0 7V42.7M39.8 7V42.7M42.6 7V42.7M45.5 7V42.7M48.3 7V42.7M51.2 7V42.7M54.0 7V42.7M56.9 7V42.7M59.7 7V42.7M65.6 7V42.7M68.4 7V42.7M71.3 7V42.7M74.1 7V42.7M77.0 7V42.7M79.8 7V42.7M82.7 7V42.7M85.5 7V42.7M88.3 7V42.7M91.2 7V42.7M97.0 7V42.7M99.9 7V42.7M102.7 7V42.7M105.6 7V42.7M108.4 7V42.7M111.3 7V42.7M114.1 7V42.7M117.0 7V42.7M119.8 7V42.7M122.7 7V42.7M128.5 7V42.7M131.4 7V42.7M134.2 7V42.7M137.0 7V42.7M139.9 7V42.7M142.7 7V42.7M145.6 7V42.7M148.4 7V42.7M151.3 7V42.7M154.1 7V42.7M160.0 7V42.7M162.8 7V42.7M165.7 7V42.7M168.5 7V42.7M171.4 7V42.7M174.2 7V42.7M177.1 7V42.7M179.9 7V42.7M182.7 7V42.7M185.6 7V42.7M191.4 7V42.7M194.3 7V42.7M197.1 7V42.7M200.0 7V42.7M202.8 7V42.7M205.7 7V42.7M208.5 7V42.7M211.4 7V42.7M214.2 7V42.7M217.1 7V42.7M222.9 7V42.7M225.8 7V42.7M228.6 7V42.7M231.4 7V42.7M234.3 7V42.7M237.1 7V42.7M240.0 7V42.7M242.8 7V42.7M245.7 7V42.7M248.5 7V42.7M254.4 7V42.7M257.2 7V42.7M260.1 7V42.7M262.9 7V42.7M265.8 7V42.7M268.6 7V42.7M271.5 7V42.7M274.3 7V42.7M277.1 7V42.7M280.0 7V42.7M285.8 7V42.7M288.7 7V42.7M291.5 7V42.7M294.4 7V42.7M297.2 7V42.7M300.1 7V42.7M302.9 7V42.7M305.8 7V42.7M308.6 7V42.7M311.5 7V42.7M317.3 7V42.7M320.2 7V42.7M323.0 7V42.7M325.8 7V42.7M328.7 7V42.7M331.5 7V42.7M334.4 7V42.7M337.2 7V42.7M340.1 7V42.7M342.9 7V42.7M348.8 7V42.7M351.6 7V42.7M354.5 7V42.7M357.3 7V42.7M360.2 7V42.7M363.0 7V42.7M365.9 7V42.7M368.7 7V42.7M371.5 7V42.7M374.4 7V42.7M380.2 7V42.7M383.1 7V42.7M385.9 7V42.7M388.8 7V42.7M391.6 7V42.7M394.5 7V42.7M397.3 7V42.7M400.2 7V42.7M403.0 7V42.7M405.9 7V42.7M411.7 7V42.7M414.6 7V42.7M417.4 7V42.7M420.2 7V42.7M423.1 7V42.7M425.9 7V42.7M428.8 7V42.7M431.6 7V42.7M434.5 7V42.7M437.3 7V42.7M443.2 7V42.7M446.0 7V42.7M448.9 7V42.7M451.7 7V42.7M454.6 7V42.7M457.4 7V42.7M460.3 7V42.7M463.1 7V42.7M465.9 7V42.7M468.8 7V42.7M474.6 7V42.7M477.5 7V42.7M480.3 7V42.7M483.2 7V42.7M486.0 7V42.7M488.9 7V42.7M491.7 7V42.7M494.6 7V42.7M497.4 7V42.7M500.3 7V42.7M506.1 7V42.7M509.0 7V42.7M511.8 7V42.7M514.6 7V42.7M517.5 7V42.7M520.3 7V42.7M523.2 7V42.7M526.0 7V42.7M528.9 7V42.7M531.7 7V42.7M537.6 7V42.7M540.4 7V42.7M543.3 7V42.7M546.1 7V42.7M549.0 7V42.7M551.8 7V42.7M554.7 7V42.7M557.5 7V42.7M560.3 7V42.7M563.2 7V42.7M569.0 7V42.7M571.9 7V42.7M574.7 7V42.7M577.6 7V42.7M580.4 7V42.7M583.3 7V42.7M586.1 7V42.7M589.0 7V42.7M591.8 7V42.7M594.7 7V42.7M600.5 7V42.7M603.4 7V42.7M606.2 7V42.7M609.0 7V42.7M611.9 7V42.7M614.7 7V42.7M617.6 7V42.7M620.4 7V42.7M623.3 7V42.7M626.1 7V42.7M632.0 7V42.7M634.8 7V42.7M637.7 7V42.7M640.5 7V42.7M643.4 7V42.7M646.2 7V42.7M649.1 7V42.7M651.9 7V42.7M654.7 7V42.7M657.6 7V42.7M663.4 7V42.7M666.3 7V42.7M669.1 7V42.7M672.0 7V42.7M674.8 7V42.7M677.7 7V42.7M680.5 7V42.7M683.4 7V42.7M686.2 7V42.7M689.1 7V42.7M694.9 7V42.7M697.8 7V42.7M700.6 7V42.7M703.4 7V42.7M706.3 7V42.7M709.1 7V42.7M712.0 7V42.7M714.8 7V42.7M717.7 7V42.7M720.5 7V42.7M726.4 7V42.7M729.2 7V42.7M732.1 7V42.7M734.9 7V42.7M737.8 7V42.7M740.6 7V42.7M743.5 7V42.7M746.3 7V42.7M749.1 7V42.7M752.0 7V42.7M757.8 7V42.7M760.7 7V42.7M763.5 7V42.7M766.4 7V42.7M769.2 7V42.7M772.1 7V42.7M774.9 7V42.7M777.8 7V42.7M780.6 7V42.7M783.5 7V42.7M789.3 7V42.7M792.2 7V42.7M795.0 7V42.7M797.8 7V42.7M800.7 7V42.7M803.5 7V42.7M806.4 7V42.7M809.2 7V42.7M812.1 7V42.7M814.9 7V42.7M820.8 7V42.7M823.6 7V42.7M826.5 7V42.7M829.3 7V42.7M832.2 7V42.7M835.0 7V42.7M837.9 7V42.7M840.7 7V42.7M843.5 7V42.7M846.4 7V42.7M852.2 7V42.7M855.1 7V42.7M857.9 7V42.7M860.8 7V42.7M863.6 7V42.7M866.5 7V42.7M869.3 7V42.7M872.2 7V42.7M875.0 7V42.7M877.9 7V42.7M883.7 7V42.7M886.6 7V42.7M889.4 7V42.7M892.2 7V42.7M895.1 7V42.7M897.9 7V42.7M900.8 7V42.7M903.6 7V42.7M906.5 7V42.7M909.3 7V42.7M915.2 7V42.7M918.0 7V42.7M920.9 7V42.7M923.7 7V42.7M926.6 7V42.7M929.4 7V42.7M932.3 7V42.7M935.1 7V42.7M937.9 7V42.7M940.8 7V42.7" stroke="#f2f2f2" stroke-width="0.5"/><path d="M1.60 42.7v-8.5h1.99v8.5zM4.45 42.7v-3.0h1.99v3.0zM7.29 42.7v-1.5h1.99v1.5zM10.14 42.7v-1.3h1.99v1.3zM12.99 42.7v-1.3h1.99v1.3zM15.83 42.7v-0.5h1.99v0.5zM18.68 42.7v-0.5h1.99v0.5zM21.53 42.7v-0.5h1.99v0.5zM24.37 42.7v-7.0h1.99v7.0zM27.22 42.7v-1.4h1.99v1.4zM33.07 42.7v-9.0h1.99v9.0zM35.91 42.7v-3.3h1.99v3.3zM38.76 42.7v-1.7h1.99v1.7zM41.61 42.7v-1.3h1.99v1.3zM44.45 42.7v-1.6h1.99v1.6zM47.30 42.7v-0.5h1.99v0.5zM50.15 42.7v-0.6h1.99v0.6zM52.99 42.7v-0.5h1.99v0.5zM55.84 42.7v-8.1h1.99v8.1zM58.69 42.7v-1.6h1.99v1.6zM64.53 42.7v-9.7h1.99v9.7zM67.38 42.7v-3.2h1.99v3.2zM70.23 42.7v-1.6h1.99v1.6zM73.07 42.7v-1.5h1.99v1.5zM75.92 42.7v-1.7h1.99v1.7zM78.77 42.7v-0.5h1.99v0.5zM81.61 42.7v-0.6h1.99v0.6zM84.46 42.7v-0.5h1.99v0.5zM87.31 42.7v-8.1h1.99v8.1zM90.15 42.7v-1.7h1.99v1.7zM96.00 42.7v-11.5h1.99v11.5zM98.85 42.7v-2.2h1.99v2.2zM101.69 42.7v-1.1h1.99v1.1zM104.54 42.7v-1.4h1.99v1.4zM107.39 42.7v-0.9h1.99v0.9zM110.23 42.7v-0.6h1.99v0.6zM113.08 42.7v-0.6h1.99v0.6zM115.93 42.7v-0.5h1.99v0.5zM118.77 42.7v-8.6h1.99v8.6zM121.62 42.7v-1.5h1.99v1.5zM127.47 42.7v-11.4h1.99v11.4zM130.31 42.7v-2.0h1.99v2.0zM133.16 42.7v-1.0h1.99v1.0zM136.01 42.7v-1.5h1.99v1.5zM138.85 42.7v-1.1h1.99v1.1zM141.70 42.7v-0.5h1.99v0.5zM144.55 42.7v-0.5h1.99v0.5zM147.39 42.7v-0.5h1.99v0.5zM150.24 42.7v-10.1h1.99v10.1zM153.09 42.7v-1.3h1.99v1.3zM158.93 42.7v-11.5h1.99v11.5zM161.78 42.7v-2.1h1.99v2.1zM164.63 42.7v-1.0h1.99v1.0zM167.47 42.7v-1.3h1.99v1.3zM170.32 42.7v-0.9h1.99v0.9zM173.17 42.7v-0.5h1.99v0.5zM176.01 42.7v-0.5h1.99v0.5zM178.86 42.7v-0.4h1.99v0.4zM181.71 42.7v-8.0h1.99v8.0zM184.55 42.7v-1.4h1.99v1.4zM190.40 42.7v-0.5h1.99v0.5zM193.25 42.7v-0.5h1.99v0.5zM196.09 42.7v-27.3h1.99v27.3zM198.94 42.7v-0.5h1.99v0.5zM201.79 42.7v-0.6h1.99v0.6zM204.63 42.7v-0.4h1.99v0.4zM207.48 42.7v-0.5h1.99v0.5zM210.33 42.7v-0.5h1.99v0.5zM213.17 42.7v-2.4h1.99v2.4zM216.02 42.7v-0.5h1.99v0.5zM221.87 42.7v-0.5h1.99v0.5zM224.71 42.7v-0.5h1.99v0.5zM227.56 42.7v-22.9h1.99v22.9zM230.41 42.7v-0.5h1.99v0.5zM233.25 42.7v-0.5h1.99v0.5zM236.10 42.7v-0.5h1.99v0.5zM238.95 42.7v-0.5h1.99v0.5zM241.79 42.7v-0.5h1.99v0.5zM244.64 42.7v-2.5h1.99v2.5zM247.49 42.7v-0.5h1.99v0.5zM253.33 42.7v-0.5h1.99v0.5zM256.18 42.7v-0.5h1.99v0.5zM259.03 42.7v-23.5h1.99v23.5zM261.87 42.7v-0.6h1.99v0.6zM264.72 42.7v-0.5h1.99v0.5zM267.57 42.7v-0.4h1.99v0.4zM270.41 42.7v-0.5h1.99v0.5zM273.26 42.7v-0.5h1.99v0.5zM276.11 42.7v-2.3h1.99v2.3zM278.95 42.7v-0.4h1.99v0.4zM284.80 42.7v-0.5h1.99v0.5zM287.65 42.7v-0.9h1.99v0.9zM290.49 42.7v-0.9h1.99v0.9zM293.34 42.7v-21.9h1.99v21.9zM296.19 42.7v-1.6h1.99v1.6zM299.03 42.7v-0.4h1.99v0.4zM301.88 42.7v-0.5h1.99v0.5zM304.73 42.7v-0.4h1.99v0.4zM307.57 42.7v-6.5h1.99v6.5zM310.42 42.7v-1.1h1.99v1.1zM316.27 42.7v-0.5h1.99v0.5zM319.11 42.7v-0.9h1.99v0.9zM321.96 42.7v-1.1h1.99v1.1zM324.81 42.7v-22.1h1.99v22.1zM327.65 42.7v-1.3h1.99v1.3zM330.50 42.7v-0.4h1.99v0.4zM333.35 42.7v-0.6h1.99v0.6zM336.19 42.7v-0.5h1.99v0.5zM339.04 42.7v-5.6h1.99v5.6zM341.89 42.7v-1.0h1.99v1.0zM347.73 42.7v-0.5h1.99v0.5zM350.58 42.7v-1.1h1.99v1.1zM353.43 42.7v-1.0h1.99v1.0zM356.27 42.7v-25.1h1.99v25.1zM359.12 42.7v-1.5h1.99v1.5zM361.97 42.7v-0.6h1.99v0.6zM364.81 42.7v-0.5h1.99v0.5zM367.66 42.7v-0.5h1.99v0.5zM370.51 42.7v-6.0h1.99v6.0zM373.35 42.7v-1.1h1.99v1.1zM379.20 42.7v-0.4h1.99v0.4zM382.05 42.7v-1.1h1.99v1.1zM384.89 42.7v-2.2h1.99v2.2zM387.74 42.7v-1.0h1.99v1.0zM390.59 42.7v-18.9h1.99v18.9zM393.43 42.7v-1.1h1.99v1.1zM396.28 42.7v-0.5h1.99v0.5zM399.13 42.7v-0.6h1.99v0.6zM401.97 42.7v-6.1h1.99v6.1zM404.82 42.7v-1.1h1.99v1.1zM410.67 42.7v-0.5h1.99v0.5zM413.51 42.7v-1.0h1.99v1.0zM416.36 42.7v-2.1h1.99v2.1zM419.21 42.7v-1.1h1.99v1.1zM422.05 42.7v-23.5h1.99v23.5zM424.90 42.7v-1.1h1.99v1.1zM427.75 42.7v-0.5h1.99v0.5zM430.59 42.7v-0.5h1.99v0.5zM433.44 42.7v-6.6h1.99v6.6zM436.29 42.7v-1.0h1.99v1.0zM442.13 42.7v-0.5h1.99v0.5zM444.98 42.7v-1.1h1.99v1.1zM447.83 42.7v-1.8h1.99v1.8zM450.67 42.7v-1.1h1.99v1.1zM453.52 42.7v-22.2h1.99v22.2zM456.37 42.7v-1.0h1.99v1.0zM459.21 42.7v-0.5h1.99v0.5zM462.06 42.7v-0.6h1.99v0.6zM464.91 42.7v-5.2h1.99v5.2zM467.75 42.7v-1.1h1.99v1.1zM473.60 42.7v-0.5h1.99v0.5zM476.45 42.7v-0.5h1.99v0.5zM479.29 42.7v-1.0h1.99v1.0zM482.14 42.7v-0.9h1.99v0.9zM484.99 42.7v-0.6h1.99v0.6zM487.83 42.7v-20.8h1.99v20.8zM490.68 42.7v-0.5h1.99v0.5zM493.53 42.7v-0.5h1.99v0.5zM496.37 42.7v-3.7h1.99v3.7zM499.22 42.7v-0.5h1.99v0.5zM505.07 42.7v-0.6h1.99v0.6zM507.91 42.7v-0.6h1.99v0.6zM510.76 42.7v-1.1h1.99v1.1zM513.61 42.7v-0.9h1.99v0.9zM516.45 42.7v-0.4h1.99v0.4zM519.30 42.7v-22.8h1.99v22.8zM522.15 42.7v-0.5h1.99v0.5zM524.99 42.7v-0.5h1.99v0.5zM527.84 42.7v-3.6h1.99v3.6zM530.69 42.7v-0.4h1.99v0.4zM536.53 42.7v-0.5h1.99v0.5zM539.38 42.7v-0.5h1.99v0.5zM542.23 42.7v-1.0h1.99v1.0zM545.07 42.7v-0.9h1.99v0.9zM547.92 42.7v-0.5h1.99v0.5zM550.77 42.7v-24.6h1.99v24.6zM553.61 42.7v-0.5h1.99v0.5zM556.46 42.7v-0.6h1.99v0.6zM559.31 42.7v-3.6h1.99v3.6zM562.15 42.7v-0.5h1.99v0.5zM568.00 42.7v-0.5h1.99v0.5zM570.85 42.7v-0.4h1.99v0.4zM573.69 42.7v-2.7h1.99v2.7zM576.54 42.7v-0.9h1.99v0.9zM579.39 42.7v-1.7h1.99v1.7zM582.23 42.7v-2.0h1.99v2.0zM585.08 42.7v-10.8h1.99v10.8zM587.93 42.7v-0.4h1.99v0.4zM590.77 42.7v-13.1h1.99v13.1zM593.62 42.7v-1.1h1.99v1.1zM599.47 42.7v-0.5h1.99v0.5zM602.31 42.7v-0.5h1.99v0.5zM605.16 42.7v-2.7h1.99v2.7zM608.01 42.7v-1.1h1.99v1.1zM610.85 42.7v-1.6h1.99v1.6zM613.70 42.7v-1.8h1.99v1.8zM616.55 42.7v-11.5h1.99v11.5zM619.39 42.7v-0.6h1.99v0.6zM622.24 42.7v-10.3h1.99v10.3zM625.09 42.7v-0.9h1.99v0.9zM630.93 42.7v-0.5h1.99v0.5zM633.78 42.7v-0.4h1.99v0.4zM636.63 42.7v-2.3h1.99v2.3zM639.47 42.7v-1.1h1.99v1.1zM642.32 42.7v-1.4h1.99v1.4zM645.17 42.7v-2.2h1.99v2.2zM648.01 42.7v-10.3h1.99v10.3zM650.86 42.7v-0.5h1.99v0.5zM653.71 42.7v-10.6h1.99v10.6zM656.55 42.7v-1.1h1.99v1.1zM662.40 42.7v-1.1h1.99v1.1zM665.25 42.7v-0.9h1.99v0.9zM668.09 42.7v-2.8h1.99v2.8zM670.94 42.7v-2.1h1.99v2.1zM673.79 42.7v-1.7h1.99v1.7zM676.63 42.7v-1.7h1.99v1.7zM679.48 42.7v-0.9h1.99v0.9zM682.33 42.7v-20.3h1.99v20.3zM685.17 42.7v-6.1h1.99v6.1zM688.02 42.7v-2.0h1.99v2.0zM693.87 42.7v-0.9h1.99v0.9zM696.71 42.7v-1.0h1.99v1.0zM699.56 42.7v-2.8h1.99v2.8zM702.41 42.7v-1.8h1.99v1.8zM705.25 42.7v-2.2h1.99v2.2zM708.10 42.7v-1.8h1.99v1.8zM710.95 42.7v-1.0h1.99v1.0zM713.79 42.7v-18.6h1.99v18.6zM716.64 42.7v-6.6h1.99v6.6zM719.49 42.7v-2.2h1.99v2.2zM725.33 42.7v-0.9h1.99v0.9zM728.18 42.7v-1.1h1.99v1.1zM731.03 42.7v-3.4h1.99v3.4zM733.87 42.7v-1.9h1.99v1.9zM736.72 42.7v-2.2h1.99v2.2zM739.57 42.7v-2.3h1.99v2.3zM742.41 42.7v-0.9h1.99v0.9zM745.26 42.7v-19.6h1.99v19.6zM748.11 42.7v-5.2h1.99v5.2zM750.95 42.7v-1.8h1.99v1.8zM756.80 42.7v-0.3h1.99v0.3zM759.65 42.7v-0.3h1.99v0.3zM762.49 42.7v-0.3h1.99v0.3zM765.34 42.7v-0.3h1.99v0.3zM768.19 42.7v-0.3h1.99v0.3zM771.03 42.7v-0.3h1.99v0.3zM773.88 42.7v-0.3h1.99v0.3zM776.73 42.7v-0.3h1.99v0.3zM779.57 42.7v-40.6h1.99v40.6zM782.42 42.7v-0.3h1.99v0.3zM788.27 42.7v-0.3h1.99v0.3zM791.11 42.7v-0.3h1.99v0.3zM793.96 42.7v-0.3h1.99v0.3zM796.81 42.7v-0.3h1.99v0.3zM799.65 42.7v-0.3h1.99v0.3zM802.50 42.7v-0.3h1.99v0.3zM805.35 42.7v-0.3h1.99v0.3zM808.19 42.7v-0.3h1.99v0.3zM811.04 42.7v-34.0h1.99v34.0zM813.89 42.7v-0.3h1.99v0.3zM819.73 42.7v-0.3h1.99v0.3zM822.58 42.7v-0.3h1.99v0.3zM825.43 42.7v-0.3h1.99v0.3zM828.27 42.7v-0.3h1.99v0.3zM831.12 42.7v-0.3h1.99v0.3zM833.97 42.7v-0.3h1.99v0.3zM836.81 42.7v-0.3h1.99v0.3zM839.66 42.7v-0.3h1.99v0.3zM842.51 42.7v-40.6h1.99v40.6zM845.35 42.7v-0.3h1.99v0.3zM851.20 42.7v-0.9h1.99v0.9zM854.05 42.7v-1.0h1.99v1.0zM856.89 42.7v-2.5h1.99v2.5zM859.74 42.7v-1.7h1.99v1.7zM862.59 42.7v-2.3h1.99v2.3zM865.43 42.7v-2.3h1.99v2.3zM868.28 42.7v-1.0h1.99v1.0zM871.13 42.7v-1.1h1.99v1.1zM873.97 42.7v-9.6h1.99v9.6zM876.82 42.7v-19.4h1.99v19.4zM882.67 42.7v-1.0h1.99v1.0zM885.51 42.7v-1.0h1.99v1.0zM888.36 42.7v-2.2h1.99v2.2zM891.21 42.7v-1.8h1.99v1.8zM894.05 42.7v-2.2h1.99v2.2zM896.90 42.7v-2.0h1.99v2.0zM899.75 42.7v-1.0h1.99v1.0zM902.59 42.7v-0.9h1.99v0.9zM905.44 42.7v-9.6h1.99v9.6zM908.29 42.7v-18.1h1.99v18.1zM914.13 42.7v-1.1h1.99v1.1zM916.98 42.7v-1.0h1.99v1.0zM919.83 42.7v-2.6h1.99v2.6zM922.67 42.7v-2.1h1.99v2.1zM925.52 42.7v-2.4h1.99v2.4zM928.37 42.7v-1.9h1.99v1.9zM931.21 42.7v-1.0h1.99v1.0zM934.06 42.7v-1.1h1.99v1.1zM936.91 42.7v-11.3h1.99v11.3zM939.75 42.7v-19.8h1.99v19.8z" fill="#7ba7ee"/></svg>
<svg style="left:1250px;top:2180px" width="30" height="250" viewBox="0 0 30 250"><text transform="translate(18.6 122.7) rotate(-90)" text-anchor="middle" font-family="DejaVu Sans, sans-serif" font-size="15" fill="#111" textLength="223" lengthAdjust="spacingAndGlyphs">Normalized effective sample size</text></svg>
<div class="t" id="t0" style="left:445.20px;top:84.81px;font-size:96px;color:#fff;font-family:'Liberation Sans', sans-serif;font-weight:700;letter-spacing:0.067px;"><span class="m"></span><span class="c">Black-box coreset variational inference</span></div>
<div class="t" id="t1" style="left:165.00px;top:112.40px;font-size:46px;color:#fff;font-family:'Liberation Sans', sans-serif;letter-spacing:-0.026px;"><span class="m"></span><span class="c">Meta AI</span></div>
<div class="t" id="t2" style="left:2354.20px;top:84.91px;font-size:22px;color:#fff;font-family:'Liberation Sans', sans-serif;font-weight:700;letter-spacing:-0.661px;"><span class="m"></span><span class="c">Dionysis Manousakas*</span></div>
<div class="t" id="t3" style="left:2354.20px;top:127.41px;font-size:22px;color:#fff;font-family:'Liberation Sans', sans-serif;font-weight:700;letter-spacing:0.079px;"><span class="m"></span><span class="c">Hippolyt Ritter*</span></div>
<div class="t" id="t4" style="left:2354.20px;top:169.50px;font-size:22px;color:#fff;font-family:'Liberation Sans', sans-serif;font-weight:700;letter-spacing:-0.520px;"><span class="m"></span><span class="c">Theofanis Karaletsos</span></div>
<div class="t" id="t5" style="left:2354.20px;top:210.60px;font-size:17px;color:#fff;font-family:'Liberation Sans', sans-serif;font-weight:700;letter-spacing:-0.546px;"><span class="m"></span><span class="c">* equal contribution</span></div>
<div class="t" id="t6" style="left:2642.30px;top:84.91px;font-size:22px;color:#fff;font-family:'Liberation Sans', sans-serif;letter-spacing:0.249px;"><span class="m"></span><span class="c">Meta (now at Amazon)</span></div>
<div class="t" id="t7" style="left:2642.30px;top:127.41px;font-size:22px;color:#fff;font-family:'Liberation Sans', sans-serif;"><span class="m"></span><span class="c">Meta</span></div>
<div class="t" id="t8" style="left:2642.30px;top:169.50px;font-size:22px;color:#fff;font-family:'Liberation Sans', sans-serif;"><span class="m"></span><span class="c">Insitro (work supporting this research done at Meta)</span></div>
<div class="t h" id="t9" style="left:57.00px;top:349.81px;font-size:44px;color:#1c2b33;font-family:'Liberation Sans', sans-serif;letter-spacing:0.956px;"><span class="m"></span><span class="c">Introduction</span></div>
<div class="t h" id="t10" style="left:55.00px;top:1646.20px;font-size:44px;color:#1c2b33;font-family:'Liberation Sans', sans-serif;letter-spacing:0.114px;"><span class="m"></span><span class="c">Coreset BNN example: toy classification</span></div>
<div class="t h" id="t11" style="left:55.00px;top:2020.00px;font-size:44px;color:#1c2b33;font-family:'Liberation Sans', sans-serif;letter-spacing:-0.271px;"><span class="m"></span><span class="c">Coreset BNN example: MNIST</span></div>
<div class="t h" id="t12" style="left:1207.00px;top:348.81px;font-size:44px;color:#1c2b33;font-family:'Liberation Sans', sans-serif;letter-spacing:-0.118px;"><span class="m"></span><span class="c">What problem do we solve?</span></div>
<div class="t h" id="t13" style="left:1207.00px;top:835.00px;font-size:44px;color:#1c2b33;font-family:'Liberation Sans', sans-serif;letter-spacing:-0.095px;"><span class="m"></span><span class="c">How do we do it?</span></div>
<div class="t h" id="t14" style="left:1207.00px;top:1424.00px;font-size:44px;color:#1c2b33;font-family:'Liberation Sans', sans-serif;letter-spacing:-0.176px;"><span class="m"></span><span class="c">Comparison: Bayesian logistic regression</span></div>
<div class="t h" id="t15" style="left:1207.00px;top:2066.41px;font-size:44px;color:#1c2b33;font-family:'Liberation Sans', sans-serif;letter-spacing:0.319px;"><span class="m"></span><span class="c">Ablation: high-dimensional importance sampling</span></div>
<div class="t" id="t16" style="left:2360.00px;top:349.00px;font-size:44px;color:#000;font-family:'Liberation Sans', sans-serif;letter-spacing:0.349px;"><span class="m"></span><span class="c">Final objective</span></div>
<div class="t" id="t17" style="left:2360.00px;top:943.00px;font-size:44px;color:#000;font-family:'Liberation Sans', sans-serif;letter-spacing:0.766px;"><span class="m"></span><span class="c">Algorithmic choices</span></div>
<div class="t h" id="t18" style="left:2360.00px;top:1486.00px;font-size:44px;color:#1c2b33;font-family:'Liberation Sans', sans-serif;letter-spacing:0.185px;"><span class="m"></span><span class="c">Outlook: continual learning</span></div>
<div class="t h" id="t19" style="left:2359.00px;top:2086.81px;font-size:44px;color:#1c2b33;font-family:'Liberation Sans', sans-serif;letter-spacing:-0.128px;"><span class="m"></span><span class="c">Conclusion</span></div>
<div class="t" id="t20" style="left:209.50px;top:1057.01px;font-size:30px;color:#000;font-family:'DejaVu Sans', sans-serif;letter-spacing:-1.231px;"><span class="m"></span><span class="c">HMC on full data</span></div>
<div class="t" id="t21" style="left:647.00px;top:1057.01px;font-size:30px;color:#000;font-family:'DejaVu Sans', sans-serif;letter-spacing:-1.188px;"><span class="m"></span><span class="c">HMC on extracted coreset</span></div>
<div class="t" id="t22" style="left:216.50px;top:1730.90px;font-size:16.4px;color:#000;font-family:'DejaVu Sans', sans-serif;transform:translateX(-50%);"><span class="m"></span><span class="c">BB PSVI</span></div>
<div class="t" id="t23" style="left:216.50px;top:1750.40px;font-size:16.4px;color:#000;font-family:'DejaVu Sans', sans-serif;transform:translateX(-50%);"><span class="m"></span><span class="c">(subset init)</span></div>
<div class="t" id="t24" style="left:448.50px;top:1730.90px;font-size:16.4px;color:#000;font-family:'DejaVu Sans', sans-serif;transform:translateX(-50%);"><span class="m"></span><span class="c">BB PSVI</span></div>
<div class="t" id="t25" style="left:448.50px;top:1750.40px;font-size:16.4px;color:#000;font-family:'DejaVu Sans', sans-serif;transform:translateX(-50%);"><span class="m"></span><span class="c">(random init)</span></div>
<div class="t" id="t26" style="left:680.60px;top:1730.90px;font-size:16.4px;color:#000;font-family:'DejaVu Sans', sans-serif;transform:translateX(-50%);"><span class="m"></span><span class="c">Batch BB Sparse VI</span></div>
<div class="t" id="t27" style="left:680.60px;top:1750.40px;font-size:16.4px;color:#000;font-family:'DejaVu Sans', sans-serif;transform:translateX(-50%);"><span class="m"></span><span class="c">(pruning)</span></div>
<div class="t" id="t28" style="left:910.20px;top:1730.90px;font-size:16.4px;color:#000;font-family:'DejaVu Sans', sans-serif;transform:translateX(-50%);"><span class="m"></span><span class="c">Mean-field VI</span></div>
<div class="t" id="t29" style="left:910.20px;top:1750.40px;font-size:16.4px;color:#000;font-family:'DejaVu Sans', sans-serif;transform:translateX(-50%);"><span class="m"></span><span class="c">(full data)</span></div>
<div class="t" id="t30" style="left:1034.50px;top:1784.50px;font-size:6.5px;color:#222;font-family:'DejaVu Sans', sans-serif;"><span class="m"></span><span class="c">0.6</span></div>
<div class="t" id="t31" style="left:1034.50px;top:1808.10px;font-size:6.5px;color:#222;font-family:'DejaVu Sans', sans-serif;"><span class="m"></span><span class="c">0.5</span></div>
<div class="t" id="t32" style="left:1034.50px;top:1831.71px;font-size:6.5px;color:#222;font-family:'DejaVu Sans', sans-serif;"><span class="m"></span><span class="c">0.4</span></div>
<div class="t" id="t33" style="left:1034.50px;top:1855.31px;font-size:6.5px;color:#222;font-family:'DejaVu Sans', sans-serif;"><span class="m"></span><span class="c">0.3</span></div>
<div class="t" id="t34" style="left:1034.50px;top:1878.90px;font-size:6.5px;color:#222;font-family:'DejaVu Sans', sans-serif;"><span class="m"></span><span class="c">0.2</span></div>
<div class="t" id="t35" style="left:1034.50px;top:1902.50px;font-size:6.5px;color:#222;font-family:'DejaVu Sans', sans-serif;"><span class="m"></span><span class="c">0.1</span></div>
<div class="t" id="t36" style="left:104.70px;top:437.80px;font-size:30px;color:#1c2b33;font-family:'Liberation Sans', sans-serif;word-spacing:9.013px;"><span class="m"></span><span class="c">Coresets are representative points in data space that capture the</span></div>
<div class="t" id="t37" style="left:104.70px;top:480.80px;font-size:30px;color:#1c2b33;font-family:'Liberation Sans', sans-serif;word-spacing:8.115px;"><span class="m"></span><span class="c">information in a dataset about a model. Bayesian coresets aim to</span></div>
<div class="t" id="t38" style="left:104.70px;top:523.82px;font-size:30px;color:#1c2b33;font-family:'Liberation Sans', sans-serif;letter-spacing:0.024px;"><span class="m"></span><span class="c">induce a posterior over the model equal to that given the training data.</span></div>
<div class="t" id="t39" style="left:104.70px;top:598.50px;font-size:30px;color:#1c2b33;font-family:'Liberation Sans', sans-serif;word-spacing:0.344px;"><span class="m"></span><span class="c"><b class="big">Previous methods</b> are <b>limited</b> to <b>tractable</b> models as they rely on</span></div>
<div class="t" id="t40" style="left:140.60px;top:650.00px;font-size:30px;color:#1c2b33;font-family:'Liberation Sans', sans-serif;letter-spacing:-0.242px;"><span class="m"></span><span class="c">samples from and gradient updates on the <b>exact posterior</b>.</span></div>
<div class="t" id="t41" style="left:104.70px;top:696.41px;font-size:30px;color:#1c2b33;font-family:'Liberation Sans', sans-serif;word-spacing:6.510px;"><span class="m"></span><span class="c"><b class="big">Our contribution</b> is to <b>generalize</b> Bayesian coreset methods to</span></div>
<div class="t" id="t42" style="left:140.60px;top:747.71px;font-size:30px;color:#1c2b33;font-family:'Liberation Sans', sans-serif;word-spacing:-3.052px;"><span class="m"></span><span class="c"><b>intractable</b> probabilistic models, such as <b>Bayesian neural networks</b></span></div>
<div class="t" id="t43" style="left:140.60px;top:791.50px;font-size:30px;color:#1c2b33;font-family:'Liberation Sans', sans-serif;letter-spacing:-0.402px;"><span class="m"></span><span class="c">(BNNs), under a <b>black-box</b> variational inference scheme.</span></div>
<div class="t" id="t44" style="left:104.70px;top:838.00px;font-size:30px;color:#1c2b33;font-family:'Liberation Sans', sans-serif;letter-spacing:-0.180px;"><span class="m"></span><span class="c"><b class="big">Examples</b></span></div>
<div class="t" id="t45" style="left:162.30px;top:889.50px;font-size:30px;color:#1c2b33;font-family:'Liberation Sans', sans-serif;word-spacing:2.811px;"><span class="m"></span><span class="c">We compare favorably to prior methods on existing benchmarks.</span></div>
<div class="t" id="t46" style="left:162.30px;top:933.00px;font-size:30px;color:#1c2b33;font-family:'Liberation Sans', sans-serif;word-spacing:3.148px;"><span class="m"></span><span class="c">We extend Bayesian coresets to previously infeasible use cases,</span></div>
<div class="t" id="t47" style="left:162.30px;top:976.50px;font-size:30px;color:#1c2b33;font-family:'Liberation Sans', sans-serif;letter-spacing:-0.094px;"><span class="m"></span><span class="c">such as classification with BNNs.</span></div>
<div class="t" id="t48" style="left:104.70px;top:1447.00px;font-size:30px;color:#1c2b33;font-family:'Liberation Sans', sans-serif;word-spacing:11.192px;"><span class="m"></span><span class="c">Above, we demonstrate that our coresets preserve the statistical</span></div>
<div class="t" id="t49" style="left:104.70px;top:1490.00px;font-size:30px;color:#1c2b33;font-family:'Liberation Sans', sans-serif;word-spacing:4.949px;"><span class="m"></span><span class="c">information in a binary classification dataset at reduced cost, as per</span></div>
<div class="t" id="t50" style="left:104.70px;top:1533.00px;font-size:30px;color:#1c2b33;font-family:'Liberation Sans', sans-serif;letter-spacing:0.049px;"><span class="m"></span><span class="c">the BNN predictive posterior on all data and the coreset respectively.</span></div>
<div class="t" id="t51" style="left:1256.60px;top:437.70px;font-size:30px;color:#1c2b33;font-family:'Liberation Sans', sans-serif;word-spacing:14.110px;"><span class="m"></span><span class="c">Prior Bayesian coreset methods rely on the posterior over the</span></div>
<div class="t" id="t52" style="left:1256.60px;top:481.41px;font-size:30px;color:#1c2b33;font-family:'Liberation Sans', sans-serif;letter-spacing:-0.104px;"><span class="m"></span><span class="c">parameters given the coreset points <b>u, z</b> for <span style="color:#3a86a5">sampling</span> and <span style="color:#f0942f">scoring</span>:</span></div>
<div class="t" id="t53" style="left:1256.60px;top:707.61px;font-size:30px;color:#1c2b33;font-family:'Liberation Sans', sans-serif;word-spacing:2.743px;"><span class="m"></span><span class="c">These are typically <b>intractable</b>, so previous approaches for Bayesian</span></div>
<div class="t" id="t54" style="left:1256.60px;top:750.71px;font-size:30px;color:#1c2b33;font-family:'Liberation Sans', sans-serif;letter-spacing:0.082px;"><span class="m"></span><span class="c">coresets were only applicable to models with known posteriors.</span></div>
<div class="t" id="t55" style="left:1331.00px;top:922.61px;font-size:30px;color:#3a86a5;font-family:'Liberation Sans', sans-serif;font-weight:700;letter-spacing:-0.934px;"><span class="m"></span><span class="c">Importance sampling</span></div>
<div class="t" id="t56" style="left:1851.00px;top:922.61px;font-size:30px;color:#f0942f;font-family:'Liberation Sans', sans-serif;font-weight:700;letter-spacing:-0.944px;"><span class="m"></span><span class="c">Nested lower bound</span></div>
<div class="t" id="t57" style="left:1255.50px;top:1294.50px;font-size:21.5px;color:#1c2b33;font-family:'Liberation Sans', sans-serif;word-spacing:8.536px;"><span class="m"></span><span class="c">to turn samples from a tractable proposal</span></div>
<div class="t" id="t58" style="left:1255.50px;top:1326.81px;font-size:21.5px;color:#1c2b33;font-family:'Liberation Sans', sans-serif;word-spacing:9.523px;"><span class="m"></span><span class="c">distribution into approximate samples from</span></div>
<div class="t" id="t59" style="left:1255.50px;top:1359.00px;font-size:21.5px;color:#1c2b33;font-family:'Liberation Sans', sans-serif;letter-spacing:0.805px;"><span class="m"></span><span class="c">the coreset posterior.</span></div>
<div class="t" id="t60" style="left:1757.30px;top:1294.50px;font-size:21.5px;color:#1c2b33;font-family:'Liberation Sans', sans-serif;word-spacing:3.681px;"><span class="m"></span><span class="c">to estimate the evidence of the coreset data</span></div>
<div class="t" id="t61" style="left:1757.30px;top:1326.81px;font-size:21.5px;color:#1c2b33;font-family:'Liberation Sans', sans-serif;word-spacing:14.657px;"><span class="m"></span><span class="c">with the help of a tractable variational</span></div>
<div class="t" id="t62" style="left:1757.30px;top:1359.00px;font-size:21.5px;color:#1c2b33;font-family:'Liberation Sans', sans-serif;letter-spacing:0.445px;"><span class="m"></span><span class="c">distribution r(θ; ψ) approximating p(θ|u, z).</span></div>
<div class="t" id="t63" style="left:1256.60px;top:1845.50px;font-size:30px;color:#1c2b33;font-family:'Liberation Sans', sans-serif;word-spacing:10.526px;"><span class="m"></span><span class="c">Test accuracy on three logistic regression datasets. We compare</span></div>
<div class="t" id="t64" style="left:1256.60px;top:1888.71px;font-size:30px;color:#1c2b33;font-family:'Liberation Sans', sans-serif;word-spacing:2.289px;"><span class="m"></span><span class="c">different variants of our <b>BB PSVI</b> and <b>BB Sparse VI</b> to prior methods</span></div>
<div class="t" id="t65" style="left:1256.60px;top:1931.82px;font-size:30px;color:#1c2b33;font-family:'Liberation Sans', sans-serif;word-spacing:6.974px;"><span class="m"></span><span class="c">relying on heuristics in this setting (PSVI, Sparse VI) as well as a</span></div>
<div class="t" id="t66" style="left:1256.60px;top:1975.00px;font-size:30px;color:#1c2b33;font-family:'Liberation Sans', sans-serif;letter-spacing:-0.179px;"><span class="m"></span><span class="c">Laplace approximation and VI on a random coreset.</span></div>
<div class="t" id="t67" style="left:1652.70px;top:2152.80px;font-size:30px;color:#1c2b33;font-family:'Liberation Sans', sans-serif;word-spacing:10.502px;"><span class="m"></span><span class="c">Importance sampling can exhibit high</span></div>
<div class="t" id="t68" style="left:1652.70px;top:2196.00px;font-size:30px;color:#1c2b33;font-family:'Liberation Sans', sans-serif;word-spacing:7.166px;"><span class="m"></span><span class="c">variance in high dimensions, impeding</span></div>
<div class="t" id="t69" style="left:1652.70px;top:2239.00px;font-size:30px;color:#1c2b33;font-family:'Liberation Sans', sans-serif;word-spacing:11.920px;"><span class="m"></span><span class="c">learning. To verify its efficacy in our</span></div>
<div class="t" id="t70" style="left:1652.70px;top:2282.00px;font-size:30px;color:#1c2b33;font-family:'Liberation Sans', sans-serif;word-spacing:14.186px;"><span class="m"></span><span class="c">scheme, we show that the effective</span></div>
<div class="t" id="t71" style="left:1652.70px;top:2325.00px;font-size:30px;color:#1c2b33;font-family:'Liberation Sans', sans-serif;letter-spacing:4.048px;"><span class="m"></span><span class="c">sample size remains non-trivial</span></div>
<div class="t" id="t72" style="left:1652.70px;top:2368.50px;font-size:30px;color:#1c2b33;font-family:'Liberation Sans', sans-serif;word-spacing:9.720px;"><span class="m"></span><span class="c">throughout training on a sequence of</span></div>
<div class="t" id="t73" style="left:1652.70px;top:2411.70px;font-size:30px;color:#1c2b33;font-family:'Liberation Sans', sans-serif;word-spacing:12.914px;"><span class="m"></span><span class="c">synthetic logistic regression problems</span></div>
<div class="t" id="t74" style="left:1652.70px;top:2455.00px;font-size:30px;color:#1c2b33;font-family:'Liberation Sans', sans-serif;letter-spacing:0.098px;"><span class="m"></span><span class="c">of increasing dimensionality.</span></div>
<div class="t" id="t75" style="left:2407.50px;top:437.00px;font-size:30px;color:#1c2b33;font-family:'Liberation Sans', sans-serif;letter-spacing:-0.140px;"><span class="m"></span><span class="c">We train our coresets using an <span style="color:#3a86a5">importance sampled</span> <span style="color:#f0942f">nested</span> ELBO:</span></div>
<div class="t" id="t76" style="left:2407.50px;top:1031.00px;font-size:30px;color:#1c2b33;font-family:'Liberation Sans', sans-serif;word-spacing:3.795px;"><span class="m"></span><span class="c">Our framework allows for a range of choices to instantiate a specific</span></div>
<div class="t" id="t77" style="left:2407.50px;top:1074.00px;font-size:30px;color:#1c2b33;font-family:'Liberation Sans', sans-serif;letter-spacing:-0.010px;"><span class="m"></span><span class="c">coreset learning algorithm, for example:</span></div>
<div class="t" id="t78" style="left:2407.50px;top:1128.61px;font-size:30px;color:#1c2b33;font-family:'Liberation Sans', sans-serif;word-spacing:9.417px;"><span class="m"></span><span class="c"><b>Gradients</b>  Update the pseudo data locations for BB PSVI, block</span></div>
<div class="t" id="t79" style="left:2443.70px;top:1172.00px;font-size:30px;color:#1c2b33;font-family:'Liberation Sans', sans-serif;letter-spacing:-0.083px;"><span class="m"></span><span class="c">gradients w.r.t. locations for BB Sparse VI.</span></div>
<div class="t" id="t80" style="left:2407.50px;top:1214.82px;font-size:30px;color:#1c2b33;font-family:'Liberation Sans', sans-serif;word-spacing:8.583px;"><span class="m"></span><span class="c"><b>Initialization</b>  Set initial locations to a random subset of the data,</span></div>
<div class="t" id="t81" style="left:2443.70px;top:1258.00px;font-size:30px;color:#1c2b33;font-family:'Liberation Sans', sans-serif;letter-spacing:-0.223px;"><span class="m"></span><span class="c">random values, k-means of the training set, …</span></div>
<div class="t" id="t82" style="left:2407.50px;top:1301.00px;font-size:30px;color:#1c2b33;font-family:'Liberation Sans', sans-serif;word-spacing:2.582px;"><span class="m"></span><span class="c"><b class="nw">Coreset growth</b>  In BB Sparse VI, select pseudodata in a single step</span></div>
<div class="t" id="t83" style="left:2443.70px;top:1344.40px;font-size:30px;color:#1c2b33;font-family:'Liberation Sans', sans-serif;letter-spacing:0.019px;"><span class="m"></span><span class="c">(batch), under greedy selection (incremental) or prune the full set.</span></div>
<div class="t" id="t84" style="left:2407.50px;top:1387.32px;font-size:30px;color:#1c2b33;font-family:'Liberation Sans', sans-serif;letter-spacing:-0.022px;"><span class="m"></span><span class="c"><b>Parametrization</b>  Any of the locations, labels and weights.</span></div>
<div class="t" id="t85" style="left:2408.00px;top:1574.00px;font-size:30px;color:#1c2b33;font-family:'Liberation Sans', sans-serif;word-spacing:15.192px;"><span class="m"></span><span class="c">Coresets have potential beyond compressing datasets to make</span></div>
<div class="t" id="t86" style="left:2408.00px;top:1617.00px;font-size:30px;color:#1c2b33;font-family:'Liberation Sans', sans-serif;letter-spacing:-0.261px;"><span class="m"></span><span class="c">expensive inference approaches feasible.</span></div>
<div class="t" id="t87" style="left:2408.00px;top:1917.00px;font-size:30px;color:#1c2b33;font-family:'Liberation Sans', sans-serif;word-spacing:-1.033px;"><span class="m"></span><span class="c">Here we showcase a toy continual learning problem, where four classes</span></div>
<div class="t" id="t88" style="left:2408.00px;top:1960.71px;font-size:30px;color:#1c2b33;font-family:'Liberation Sans', sans-serif;word-spacing:6.832px;"><span class="m"></span><span class="c">are presented sequentially and the only information carried forward</span></div>
<div class="t" id="t89" style="left:2408.00px;top:2004.00px;font-size:30px;color:#1c2b33;font-family:'Liberation Sans', sans-serif;letter-spacing:-0.028px;"><span class="m"></span><span class="c">between tasks is the pseudodata.</span></div>
<div class="t" id="t90" style="left:2430.60px;top:2175.00px;font-size:30px;color:#1c2b33;font-family:'Liberation Sans', sans-serif;word-spacing:4.508px;"><span class="m"></span><span class="c">We develop a framework for <b>black-box</b> construction of <b>variational</b></span></div>
<div class="t" id="t91" style="left:2430.60px;top:2218.00px;font-size:30px;color:#1c2b33;font-family:'Liberation Sans', sans-serif;letter-spacing:-0.315px;"><span class="m"></span><span class="c"><b>coresets</b> in probabilistic models with <b>intractable posteriors</b>.</span></div>
<div class="t" id="t92" style="left:2430.60px;top:2261.00px;font-size:30px;color:#1c2b33;font-family:'Liberation Sans', sans-serif;word-spacing:3.450px;"><span class="m"></span><span class="c">We introduce two novel generalization of Bayesian coreset learning</span></div>
<div class="t" id="t93" style="left:2430.60px;top:2304.00px;font-size:30px;color:#1c2b33;font-family:'Liberation Sans', sans-serif;letter-spacing:-0.658px;"><span class="m"></span><span class="c">methods, <b>BB PSVI</b> and <b>BB Sparse VI</b>.</span></div>
<div class="t" id="t94" style="left:2430.60px;top:2347.50px;font-size:30px;color:#1c2b33;font-family:'Liberation Sans', sans-serif;letter-spacing:0.009px;"><span class="m"></span><span class="c">We show their efficacy on a suite of classification experiments.</span></div>
<div class="t" id="t95" style="left:2430.60px;top:2390.00px;font-size:30px;color:#1c2b33;font-family:'Liberation Sans', sans-serif;word-spacing:11.100px;"><span class="m"></span><span class="c">Coresets have many potential downstream use cases, such as</span></div>
<div class="t" id="t96" style="left:2430.60px;top:2433.70px;font-size:30px;color:#1c2b33;font-family:'Liberation Sans', sans-serif;letter-spacing:-0.131px;"><span class="m"></span><span class="c">continual learning, privacy and fairness.</span></div>
<div class="t tm" id="t97" style="left:262.80px;top:2111.11px;font-size:14.5px;color:#111;font-family:'Liberation Serif', serif;"><span class="m"></span><span class="c"><i>M</i></span></div>
<div class="t tm" id="t98" style="left:341.60px;top:2111.11px;font-size:14.5px;color:#111;font-family:'Liberation Serif', serif;"><span class="m"></span><span class="c">10</span></div>
<div class="t tm" id="t99" style="left:447.70px;top:2111.11px;font-size:14.5px;color:#111;font-family:'Liberation Serif', serif;"><span class="m"></span><span class="c">30</span></div>
<div class="t tm" id="t100" style="left:548.20px;top:2111.11px;font-size:14.5px;color:#111;font-family:'Liberation Serif', serif;"><span class="m"></span><span class="c">50</span></div>
<div class="t tm" id="t101" style="left:649.30px;top:2111.11px;font-size:14.5px;color:#111;font-family:'Liberation Serif', serif;"><span class="m"></span><span class="c">80</span></div>
<div class="t tm" id="t102" style="left:755.10px;top:2111.11px;font-size:14.5px;color:#111;font-family:'Liberation Serif', serif;"><span class="m"></span><span class="c">100</span></div>
<div class="t tm" id="t103" style="left:860.90px;top:2111.11px;font-size:14.5px;color:#111;font-family:'Liberation Serif', serif;"><span class="m"></span><span class="c">250</span></div>
<div class="t tm" id="t104" style="left:962.00px;top:2111.11px;font-size:14.5px;color:#111;font-family:'Liberation Serif', serif;"><span class="m"></span><span class="c">500</span></div>
<div class="t tm" id="t105" style="left:104.60px;top:2178.61px;font-size:14.5px;color:#111;font-family:'Liberation Serif', serif;"><span class="m"></span><span class="c">BB PSVI</span></div>
<div class="t tm" id="t106" style="left:262.80px;top:2152.71px;font-size:14.5px;color:#111;font-family:'Liberation Serif', serif;"><span class="m"></span><span class="c"><i class="bv">v</i>, <b>u</b>, <b>z</b>, <i>α</i></span></div>
<div class="t tm" id="t107" style="left:341.60px;top:2152.71px;font-size:14.5px;color:#111;font-family:'Liberation Serif', serif;"><span class="m"></span><span class="c"><b>53.65</b> <span class="pm">±</span> 2.48</span></div>
<div class="t tm" id="t108" style="left:447.70px;top:2152.71px;font-size:14.5px;color:#111;font-family:'Liberation Serif', serif;"><span class="m"></span><span class="c"><b>76.78</b> <span class="pm">±</span> 2.1</span></div>
<div class="t tm" id="t109" style="left:548.20px;top:2152.71px;font-size:14.5px;color:#111;font-family:'Liberation Serif', serif;"><span class="m"></span><span class="c"><b>85.65</b> <span class="pm">±</span> 0.0</span></div>
<div class="t tm" id="t110" style="left:649.30px;top:2152.71px;font-size:14.5px;color:#111;font-family:'Liberation Serif', serif;"><span class="m"></span><span class="c">89.43 <span class="pm">±</span> 0.56</span></div>
<div class="t tm" id="t111" style="left:755.10px;top:2152.71px;font-size:14.5px;color:#111;font-family:'Liberation Serif', serif;"><span class="m"></span><span class="c"><b>91.28</b> <span class="pm">±</span> 0.74</span></div>
<div class="t tm" id="t112" style="left:860.90px;top:2152.71px;font-size:14.5px;color:#111;font-family:'Liberation Serif', serif;"><span class="m"></span><span class="c"><b>93.85</b> <span class="pm">±</span> 0.0</span></div>
<div class="t tm" id="t113" style="left:962.00px;top:2152.71px;font-size:14.5px;color:#111;font-family:'Liberation Serif', serif;"><span class="m"></span><span class="c">94.66 <span class="pm">±</span> 0.25</span></div>
<div class="t tm" id="t114" style="left:262.80px;top:2169.90px;font-size:14.5px;color:#111;font-family:'Liberation Serif', serif;"><span class="m"></span><span class="c"><i class="bv">v</i>, <b>u</b>, <b>z</b></span></div>
<div class="t tm" id="t115" style="left:341.60px;top:2169.90px;font-size:14.5px;color:#111;font-family:'Liberation Serif', serif;"><span class="m"></span><span class="c">52.97 <span class="pm">±</span> 3.32</span></div>
<div class="t tm" id="t116" style="left:447.70px;top:2169.90px;font-size:14.5px;color:#111;font-family:'Liberation Serif', serif;"><span class="m"></span><span class="c">76.07 <span class="pm">±</span> 2.06</span></div>
<div class="t tm" id="t117" style="left:548.20px;top:2169.90px;font-size:14.5px;color:#111;font-family:'Liberation Serif', serif;"><span class="m"></span><span class="c">85.05 <span class="pm">±</span> 0.3</span></div>
<div class="t tm" id="t118" style="left:649.30px;top:2169.90px;font-size:14.5px;color:#111;font-family:'Liberation Serif', serif;"><span class="m"></span><span class="c"><b>89.87</b> <span class="pm">±</span> 0.95</span></div>
<div class="t tm" id="t119" style="left:755.10px;top:2169.90px;font-size:14.5px;color:#111;font-family:'Liberation Serif', serif;"><span class="m"></span><span class="c">90.77 <span class="pm">±</span> 0.92</span></div>
<div class="t tm" id="t120" style="left:860.90px;top:2169.90px;font-size:14.5px;color:#111;font-family:'Liberation Serif', serif;"><span class="m"></span><span class="c">93.51 <span class="pm">±</span> 0.14</span></div>
<div class="t tm" id="t121" style="left:962.00px;top:2169.90px;font-size:14.5px;color:#111;font-family:'Liberation Serif', serif;"><span class="m"></span><span class="c"><b>94.73</b> <span class="pm">±</span> 0.12</span></div>
<div class="t tm" id="t122" style="left:262.80px;top:2187.00px;font-size:14.5px;color:#111;font-family:'Liberation Serif', serif;"><span class="m"></span><span class="c"><i class="bv">v</i>, <b>u</b>, <i>α</i></span></div>
<div class="t tm" id="t123" style="left:341.60px;top:2187.00px;font-size:14.5px;color:#111;font-family:'Liberation Serif', serif;"><span class="m"></span><span class="c">40.43 <span class="pm">±</span> 0.66</span></div>
<div class="t tm" id="t124" style="left:447.70px;top:2187.00px;font-size:14.5px;color:#111;font-family:'Liberation Serif', serif;"><span class="m"></span><span class="c">63.15 <span class="pm">±</span> 0.14</span></div>
<div class="t tm" id="t125" style="left:548.20px;top:2187.00px;font-size:14.5px;color:#111;font-family:'Liberation Serif', serif;"><span class="m"></span><span class="c">77.54 <span class="pm">±</span> 1.32</span></div>
<div class="t tm" id="t126" style="left:649.30px;top:2187.00px;font-size:14.5px;color:#111;font-family:'Liberation Serif', serif;"><span class="m"></span><span class="c">84.52 <span class="pm">±</span> 0.18</span></div>
<div class="t tm" id="t127" style="left:755.10px;top:2187.00px;font-size:14.5px;color:#111;font-family:'Liberation Serif', serif;"><span class="m"></span><span class="c">85.47 <span class="pm">±</span> 0.21</span></div>
<div class="t tm" id="t128" style="left:860.90px;top:2187.00px;font-size:14.5px;color:#111;font-family:'Liberation Serif', serif;"><span class="m"></span><span class="c">90.98 <span class="pm">±</span> 0.33</span></div>
<div class="t tm" id="t129" style="left:962.00px;top:2187.00px;font-size:14.5px;color:#111;font-family:'Liberation Serif', serif;"><span class="m"></span><span class="c">94.1 <span class="pm">±</span> 0.27</span></div>
<div class="t tm" id="t130" style="left:262.80px;top:2204.21px;font-size:14.5px;color:#111;font-family:'Liberation Serif', serif;"><span class="m"></span><span class="c"><i class="bv">v</i>, <b>u</b></span></div>
<div class="t tm" id="t131" style="left:341.60px;top:2204.21px;font-size:14.5px;color:#111;font-family:'Liberation Serif', serif;"><span class="m"></span><span class="c">40.69 <span class="pm">±</span> 0.84</span></div>
<div class="t tm" id="t132" style="left:447.70px;top:2204.21px;font-size:14.5px;color:#111;font-family:'Liberation Serif', serif;"><span class="m"></span><span class="c">62.8 <span class="pm">±</span> 0.02</span></div>
<div class="t tm" id="t133" style="left:548.20px;top:2204.21px;font-size:14.5px;color:#111;font-family:'Liberation Serif', serif;"><span class="m"></span><span class="c">76.85 <span class="pm">±</span> 0.86</span></div>
<div class="t tm" id="t134" style="left:649.30px;top:2204.21px;font-size:14.5px;color:#111;font-family:'Liberation Serif', serif;"><span class="m"></span><span class="c">84.52 <span class="pm">±</span> 0.31</span></div>
<div class="t tm" id="t135" style="left:755.10px;top:2204.21px;font-size:14.5px;color:#111;font-family:'Liberation Serif', serif;"><span class="m"></span><span class="c">86.03 <span class="pm">±</span> 0.6</span></div>
<div class="t tm" id="t136" style="left:860.90px;top:2204.21px;font-size:14.5px;color:#111;font-family:'Liberation Serif', serif;"><span class="m"></span><span class="c">91.3 <span class="pm">±</span> 0.37</span></div>
<div class="t tm" id="t137" style="left:962.00px;top:2204.21px;font-size:14.5px;color:#111;font-family:'Liberation Serif', serif;"><span class="m"></span><span class="c">93.77 <span class="pm">±</span> 0.24</span></div>
<div class="t tm" id="t138" style="left:104.60px;top:2221.30px;font-size:14.5px;color:#111;font-family:'Liberation Serif', serif;"><span class="m"></span><span class="c">BB Sparse VI [Batch]</span></div>
<div class="t tm" id="t139" style="left:341.60px;top:2221.30px;font-size:14.5px;color:#111;font-family:'Liberation Serif', serif;"><span class="m"></span><span class="c">43.7 <span class="pm">±</span> 2.14</span></div>
<div class="t tm" id="t140" style="left:447.70px;top:2221.30px;font-size:14.5px;color:#111;font-family:'Liberation Serif', serif;"><span class="m"></span><span class="c">68.41 <span class="pm">±</span> 0.6</span></div>
<div class="t tm" id="t141" style="left:548.20px;top:2221.30px;font-size:14.5px;color:#111;font-family:'Liberation Serif', serif;"><span class="m"></span><span class="c">77.21 <span class="pm">±</span> 2.43</span></div>
<div class="t tm" id="t142" style="left:649.30px;top:2221.30px;font-size:14.5px;color:#111;font-family:'Liberation Serif', serif;"><span class="m"></span><span class="c">83.88 <span class="pm">±</span> 0.44</span></div>
<div class="t tm" id="t143" style="left:755.10px;top:2221.30px;font-size:14.5px;color:#111;font-family:'Liberation Serif', serif;"><span class="m"></span><span class="c">85.65 <span class="pm">±</span> 0.17</span></div>
<div class="t tm" id="t144" style="left:860.90px;top:2221.30px;font-size:14.5px;color:#111;font-family:'Liberation Serif', serif;"><span class="m"></span><span class="c">91.54 <span class="pm">±</span> 0.16</span></div>
<div class="t tm" id="t145" style="left:962.00px;top:2221.30px;font-size:14.5px;color:#111;font-family:'Liberation Serif', serif;"><span class="m"></span><span class="c">94.37 <span class="pm">±</span> 0.28</span></div>
<div class="t tm" id="t146" style="left:104.60px;top:2238.50px;font-size:14.5px;color:#111;font-family:'Liberation Serif', serif;"><span class="m"></span><span class="c">Dataset Condens. [52]</span></div>
<div class="t tm" id="t147" style="left:341.60px;top:2238.50px;font-size:14.5px;color:#111;font-family:'Liberation Serif', serif;"><span class="m"></span><span class="c">-</span></div>
<div class="t tm" id="t148" style="left:447.70px;top:2238.50px;font-size:14.5px;color:#111;font-family:'Liberation Serif', serif;"><span class="m"></span><span class="c">-</span></div>
<div class="t tm" id="t149" style="left:548.20px;top:2238.50px;font-size:14.5px;color:#111;font-family:'Liberation Serif', serif;"><span class="m"></span><span class="c">-</span></div>
<div class="t tm" id="t150" style="left:649.30px;top:2238.50px;font-size:14.5px;color:#111;font-family:'Liberation Serif', serif;"><span class="m"></span><span class="c">-</span></div>
<div class="t tm" id="t151" style="left:755.10px;top:2238.50px;font-size:14.5px;color:#111;font-family:'Liberation Serif', serif;"><span class="m"></span><span class="c"><b>93.9</b> <span class="pm">±</span> 0.6</span></div>
<div class="t tm" id="t152" style="left:860.90px;top:2238.50px;font-size:14.5px;color:#111;font-family:'Liberation Serif', serif;"><span class="m"></span><span class="c">-</span></div>
<div class="t tm" id="t153" style="left:962.00px;top:2238.50px;font-size:14.5px;color:#111;font-family:'Liberation Serif', serif;"><span class="m"></span><span class="c">-</span></div>
<div class="t tm" id="t154" style="left:104.60px;top:2255.61px;font-size:14.5px;color:#111;font-family:'Liberation Serif', serif;"><span class="m"></span><span class="c">SLDD [45]</span></div>
<div class="t tm" id="t155" style="left:341.60px;top:2255.61px;font-size:14.5px;color:#111;font-family:'Liberation Serif', serif;"><span class="m"></span><span class="c">-</span></div>
<div class="t tm" id="t156" style="left:447.70px;top:2255.61px;font-size:14.5px;color:#111;font-family:'Liberation Serif', serif;"><span class="m"></span><span class="c">-</span></div>
<div class="t tm" id="t157" style="left:548.20px;top:2255.61px;font-size:14.5px;color:#111;font-family:'Liberation Serif', serif;"><span class="m"></span><span class="c">-</span></div>
<div class="t tm" id="t158" style="left:649.30px;top:2255.61px;font-size:14.5px;color:#111;font-family:'Liberation Serif', serif;"><span class="m"></span><span class="c">-</span></div>
<div class="t tm" id="t159" style="left:755.10px;top:2255.61px;font-size:14.5px;color:#111;font-family:'Liberation Serif', serif;"><span class="m"></span><span class="c">82.7 <span class="pm">±</span> 2.8</span></div>
<div class="t tm" id="t160" style="left:860.90px;top:2255.61px;font-size:14.5px;color:#111;font-family:'Liberation Serif', serif;"><span class="m"></span><span class="c">-</span></div>
<div class="t tm" id="t161" style="left:962.00px;top:2255.61px;font-size:14.5px;color:#111;font-family:'Liberation Serif', serif;"><span class="m"></span><span class="c">-</span></div>
<div class="t tm" id="t162" style="left:104.60px;top:2272.61px;font-size:14.5px;color:#111;font-family:'Liberation Serif', serif;"><span class="m"></span><span class="c">Dataset Distill. [50]</span></div>
<div class="t tm" id="t163" style="left:341.60px;top:2272.61px;font-size:14.5px;color:#111;font-family:'Liberation Serif', serif;"><span class="m"></span><span class="c">-</span></div>
<div class="t tm" id="t164" style="left:447.70px;top:2272.61px;font-size:14.5px;color:#111;font-family:'Liberation Serif', serif;"><span class="m"></span><span class="c">-</span></div>
<div class="t tm" id="t165" style="left:548.20px;top:2272.61px;font-size:14.5px;color:#111;font-family:'Liberation Serif', serif;"><span class="m"></span><span class="c">-</span></div>
<div class="t tm" id="t166" style="left:649.30px;top:2272.61px;font-size:14.5px;color:#111;font-family:'Liberation Serif', serif;"><span class="m"></span><span class="c">-</span></div>
<div class="t tm" id="t167" style="left:755.10px;top:2272.61px;font-size:14.5px;color:#111;font-family:'Liberation Serif', serif;"><span class="m"></span><span class="c">79.5 <span class="pm">±</span> 8.1</span></div>
<div class="t tm" id="t168" style="left:860.90px;top:2272.61px;font-size:14.5px;color:#111;font-family:'Liberation Serif', serif;"><span class="m"></span><span class="c">-</span></div>
<div class="t tm" id="t169" style="left:962.00px;top:2272.61px;font-size:14.5px;color:#111;font-family:'Liberation Serif', serif;"><span class="m"></span><span class="c">-</span></div>
<div class="t tm" id="t170" style="left:104.60px;top:2289.90px;font-size:14.5px;color:#111;font-family:'Liberation Serif', serif;"><span class="m"></span><span class="c">Random Coreset</span></div>
<div class="t tm" id="t171" style="left:341.60px;top:2289.90px;font-size:14.5px;color:#111;font-family:'Liberation Serif', serif;"><span class="m"></span><span class="c">42.17 <span class="pm">±</span> 1.74</span></div>
<div class="t tm" id="t172" style="left:447.70px;top:2289.90px;font-size:14.5px;color:#111;font-family:'Liberation Serif', serif;"><span class="m"></span><span class="c">68.67 <span class="pm">±</span> 3.21</span></div>
<div class="t tm" id="t173" style="left:548.20px;top:2289.90px;font-size:14.5px;color:#111;font-family:'Liberation Serif', serif;"><span class="m"></span><span class="c">78.75 <span class="pm">±</span> 2.17</span></div>
<div class="t tm" id="t174" style="left:649.30px;top:2289.90px;font-size:14.5px;color:#111;font-family:'Liberation Serif', serif;"><span class="m"></span><span class="c">86.24 <span class="pm">±</span> 0.25</span></div>
<div class="t tm" id="t175" style="left:755.10px;top:2289.90px;font-size:14.5px;color:#111;font-family:'Liberation Serif', serif;"><span class="m"></span><span class="c">87.44 <span class="pm">±</span> 0.32</span></div>
<div class="t tm" id="t176" style="left:860.90px;top:2289.90px;font-size:14.5px;color:#111;font-family:'Liberation Serif', serif;"><span class="m"></span><span class="c">92.1 <span class="pm">±</span> 0.65</span></div>
<div class="t tm" id="t177" style="left:962.00px;top:2289.90px;font-size:14.5px;color:#111;font-family:'Liberation Serif', serif;"><span class="m"></span><span class="c">95.11 <span class="pm">±</span> 0.03</span></div>
<div class="t tm" id="t178" style="left:104.60px;top:2306.50px;font-size:14.5px;color:#111;font-family:'Liberation Serif', serif;"><span class="m"></span><span class="c">Full MFVI</span></div>
<div class="t tm" id="t179" style="left:962.00px;top:2306.50px;font-size:14.5px;color:#111;font-family:'Liberation Serif', serif;"><span class="m"></span><span class="c">99.13 <span class="pm">±</span> 0.07</span></div>
<div class="t tt" id="t180" style="left:1595.40px;top:1512.60px;font-size:13px;color:#111;font-family:'Liberation Serif', serif;transform:translateX(-50%);font-family:'Liberation Mono',monospace;"><span class="m"></span><span class="c">webspam</span></div>
<div class="t tt" id="t181" style="left:1841.00px;top:1512.60px;font-size:13px;color:#111;font-family:'Liberation Serif', serif;transform:translateX(-50%);font-family:'Liberation Mono',monospace;"><span class="m"></span><span class="c">phishing</span></div>
<div class="t tt" id="t182" style="left:2081.80px;top:1512.60px;font-size:13px;color:#111;font-family:'Liberation Serif', serif;transform:translateX(-50%);font-family:'Liberation Mono',monospace;"><span class="m"></span><span class="c">adult</span></div>
<div class="t tl" id="t183" style="left:1361.40px;top:1528.60px;font-size:13px;color:#111;font-family:'Liberation Serif', serif;"><span class="m"></span><span class="c"><i>M</i></span></div>
<div class="t tl" id="t184" style="left:1484.20px;top:1528.60px;font-size:13px;color:#111;font-family:'Liberation Serif', serif;"><span class="m"></span><span class="c">10</span></div>
<div class="t tl" id="t185" style="left:1564.20px;top:1528.60px;font-size:13px;color:#111;font-family:'Liberation Serif', serif;"><span class="m"></span><span class="c">40</span></div>
<div class="t tl" id="t186" style="left:1644.00px;top:1528.60px;font-size:13px;color:#111;font-family:'Liberation Serif', serif;"><span class="m"></span><span class="c">100</span></div>
<div class="t tl" id="t187" style="left:1724.00px;top:1528.60px;font-size:13px;color:#111;font-family:'Liberation Serif', serif;"><span class="m"></span><span class="c">10</span></div>
<div class="t tl" id="t188" style="left:1807.60px;top:1528.60px;font-size:13px;color:#111;font-family:'Liberation Serif', serif;"><span class="m"></span><span class="c">40</span></div>
<div class="t tl" id="t189" style="left:1891.50px;top:1528.60px;font-size:13px;color:#111;font-family:'Liberation Serif', serif;"><span class="m"></span><span class="c">100</span></div>
<div class="t tl" id="t190" style="left:1974.90px;top:1528.60px;font-size:13px;color:#111;font-family:'Liberation Serif', serif;"><span class="m"></span><span class="c">10</span></div>
<div class="t tl" id="t191" style="left:2054.70px;top:1528.60px;font-size:13px;color:#111;font-family:'Liberation Serif', serif;"><span class="m"></span><span class="c">40</span></div>
<div class="t tl" id="t192" style="left:2135.00px;top:1528.60px;font-size:13px;color:#111;font-family:'Liberation Serif', serif;"><span class="m"></span><span class="c">100</span></div>
<div class="t tl" id="t193" style="left:1252.20px;top:1568.60px;font-size:13px;color:#111;font-family:'Liberation Serif', serif;"><span class="m"></span><span class="c">BB PSVI</span></div>
<div class="t tl" id="t194" style="left:1361.40px;top:1568.60px;font-size:13px;color:#111;font-family:'Liberation Serif', serif;"><span class="m"></span><span class="c"><i class="bv">v</i>(<span class="star">⋆</span>), <i class="bv">u</i></span></div>
<div class="t tl" id="t195" style="left:1484.20px;top:1568.60px;font-size:13px;color:#111;font-family:'Liberation Serif', serif;"><span class="m"></span><span class="c"><b>92.2</b> <span class="pm">±</span> 0.1</span></div>
<div class="t tl" id="t196" style="left:1564.20px;top:1568.60px;font-size:13px;color:#111;font-family:'Liberation Serif', serif;"><span class="m"></span><span class="c"><b>92.4</b> <span class="pm">±</span> 0.1</span></div>
<div class="t tl" id="t197" style="left:1644.00px;top:1568.60px;font-size:13px;color:#111;font-family:'Liberation Serif', serif;"><span class="m"></span><span class="c"><b>92.3</b> <span class="pm">±</span> 0.0</span></div>
<div class="t tl" id="t198" style="left:1724.00px;top:1568.60px;font-size:13px;color:#111;font-family:'Liberation Serif', serif;"><span class="m"></span><span class="c">90.1 <span class="pm">±</span> 0.5</span></div>
<div class="t tl" id="t199" style="left:1807.60px;top:1568.60px;font-size:13px;color:#111;font-family:'Liberation Serif', serif;"><span class="m"></span><span class="c"><b>91.2</b> <span class="pm">±</span> 1.0</span></div>
<div class="t tl" id="t200" style="left:1891.50px;top:1568.60px;font-size:13px;color:#111;font-family:'Liberation Serif', serif;"><span class="m"></span><span class="c">90.4 <span class="pm">±</span> 0.0</span></div>
<div class="t tl" id="t201" style="left:1974.90px;top:1568.60px;font-size:13px;color:#111;font-family:'Liberation Serif', serif;"><span class="m"></span><span class="c">82.2 <span class="pm">±</span> 0.9</span></div>
<div class="t tl" id="t202" style="left:2054.70px;top:1568.60px;font-size:13px;color:#111;font-family:'Liberation Serif', serif;"><span class="m"></span><span class="c"><b>83.5</b> <span class="pm">±</span> 0.2</span></div>
<div class="t tl" id="t203" style="left:2135.00px;top:1568.60px;font-size:13px;color:#111;font-family:'Liberation Serif', serif;"><span class="m"></span><span class="c">83.5 <span class="pm">±</span> 0.0</span></div>
<div class="t tl" id="t204" style="left:1361.40px;top:1585.70px;font-size:13px;color:#111;font-family:'Liberation Serif', serif;"><span class="m"></span><span class="c"><i class="bv">v</i>(<span class="star">⋆</span>), <i class="bv">u</i>, <i>α</i></span></div>
<div class="t tl" id="t205" style="left:1484.20px;top:1585.70px;font-size:13px;color:#111;font-family:'Liberation Serif', serif;"><span class="m"></span><span class="c"><b>92.2</b> <span class="pm">±</span> 0.2</span></div>
<div class="t tl" id="t206" style="left:1564.20px;top:1585.70px;font-size:13px;color:#111;font-family:'Liberation Serif', serif;"><span class="m"></span><span class="c">92.2 <span class="pm">±</span> 0.1</span></div>
<div class="t tl" id="t207" style="left:1644.00px;top:1585.70px;font-size:13px;color:#111;font-family:'Liberation Serif', serif;"><span class="m"></span><span class="c"><b>92.3</b> <span class="pm">±</span> 0.1</span></div>
<div class="t tl" id="t208" style="left:1724.00px;top:1585.70px;font-size:13px;color:#111;font-family:'Liberation Serif', serif;"><span class="m"></span><span class="c">90.7 <span class="pm">±</span> 0.5</span></div>
<div class="t tl" id="t209" style="left:1807.60px;top:1585.70px;font-size:13px;color:#111;font-family:'Liberation Serif', serif;"><span class="m"></span><span class="c">90.7 <span class="pm">±</span> 0.9</span></div>
<div class="t tl" id="t210" style="left:1891.50px;top:1585.70px;font-size:13px;color:#111;font-family:'Liberation Serif', serif;"><span class="m"></span><span class="c">90.4 <span class="pm">±</span> 0.0</span></div>
<div class="t tl" id="t211" style="left:1974.90px;top:1585.70px;font-size:13px;color:#111;font-family:'Liberation Serif', serif;"><span class="m"></span><span class="c"><b>82.6</b> <span class="pm">±</span> 0.9</span></div>
<div class="t tl" id="t212" style="left:2054.70px;top:1585.70px;font-size:13px;color:#111;font-family:'Liberation Serif', serif;"><span class="m"></span><span class="c"><b>83.5</b> <span class="pm">±</span> 0.0</span></div>
<div class="t tl" id="t213" style="left:2135.00px;top:1585.70px;font-size:13px;color:#111;font-family:'Liberation Serif', serif;"><span class="m"></span><span class="c"><b>83.6</b> <span class="pm">±</span> 0.0</span></div>
<div class="t tl" id="t214" style="left:1361.40px;top:1602.50px;font-size:13px;color:#111;font-family:'Liberation Serif', serif;"><span class="m"></span><span class="c"><i class="bv">v</i>, <i class="bv">u</i></span></div>
<div class="t tl" id="t215" style="left:1484.20px;top:1602.50px;font-size:13px;color:#111;font-family:'Liberation Serif', serif;"><span class="m"></span><span class="c"><b>92.2</b> <span class="pm">±</span> 0.1</span></div>
<div class="t tl" id="t216" style="left:1564.20px;top:1602.50px;font-size:13px;color:#111;font-family:'Liberation Serif', serif;"><span class="m"></span><span class="c">92.3 <span class="pm">±</span> 0.1</span></div>
<div class="t tl" id="t217" style="left:1644.00px;top:1602.50px;font-size:13px;color:#111;font-family:'Liberation Serif', serif;"><span class="m"></span><span class="c">92.2 <span class="pm">±</span> 0.1</span></div>
<div class="t tl" id="t218" style="left:1724.00px;top:1602.50px;font-size:13px;color:#111;font-family:'Liberation Serif', serif;"><span class="m"></span><span class="c">90.3 <span class="pm">±</span> 0.8</span></div>
<div class="t tl" id="t219" style="left:1807.60px;top:1602.50px;font-size:13px;color:#111;font-family:'Liberation Serif', serif;"><span class="m"></span><span class="c">89.8 <span class="pm">±</span> 0.2</span></div>
<div class="t tl" id="t220" style="left:1891.50px;top:1602.50px;font-size:13px;color:#111;font-family:'Liberation Serif', serif;"><span class="m"></span><span class="c">90.3 <span class="pm">±</span> 0.1</span></div>
<div class="t tl" id="t221" style="left:1974.90px;top:1602.50px;font-size:13px;color:#111;font-family:'Liberation Serif', serif;"><span class="m"></span><span class="c">80.3 <span class="pm">±</span> 0.8</span></div>
<div class="t tl" id="t222" style="left:2054.70px;top:1602.50px;font-size:13px;color:#111;font-family:'Liberation Serif', serif;"><span class="m"></span><span class="c"><b>83.5</b> <span class="pm">±</span> 0.0</span></div>
<div class="t tl" id="t223" style="left:2135.00px;top:1602.50px;font-size:13px;color:#111;font-family:'Liberation Serif', serif;"><span class="m"></span><span class="c">83.5 <span class="pm">±</span> 0.0</span></div>
<div class="t tl" id="t224" style="left:1361.40px;top:1619.70px;font-size:13px;color:#111;font-family:'Liberation Serif', serif;"><span class="m"></span><span class="c"><i class="bv">v</i>=<span class="fr"><span><i>N</i></span><span><i>M</i></span></span><b>1</b>, <i class="bv">u</i></span></div>
<div class="t tl" id="t225" style="left:1484.20px;top:1619.70px;font-size:13px;color:#111;font-family:'Liberation Serif', serif;"><span class="m"></span><span class="c">90.9 <span class="pm">±</span> 0.3</span></div>
<div class="t tl" id="t226" style="left:1564.20px;top:1619.70px;font-size:13px;color:#111;font-family:'Liberation Serif', serif;"><span class="m"></span><span class="c">91.9 <span class="pm">±</span> 0.1</span></div>
<div class="t tl" id="t227" style="left:1644.00px;top:1619.70px;font-size:13px;color:#111;font-family:'Liberation Serif', serif;"><span class="m"></span><span class="c">92.2 <span class="pm">±</span> 0.5</span></div>
<div class="t tl" id="t228" style="left:1724.00px;top:1619.70px;font-size:13px;color:#111;font-family:'Liberation Serif', serif;"><span class="m"></span><span class="c">90.2 <span class="pm">±</span> 0.3</span></div>
<div class="t tl" id="t229" style="left:1807.60px;top:1619.70px;font-size:13px;color:#111;font-family:'Liberation Serif', serif;"><span class="m"></span><span class="c">88.9 <span class="pm">±</span> 0.7</span></div>
<div class="t tl" id="t230" style="left:1891.50px;top:1619.70px;font-size:13px;color:#111;font-family:'Liberation Serif', serif;"><span class="m"></span><span class="c"><b>90.5</b> <span class="pm">±</span> 0.0</span></div>
<div class="t tl" id="t231" style="left:1974.90px;top:1619.70px;font-size:13px;color:#111;font-family:'Liberation Serif', serif;"><span class="m"></span><span class="c">81.0 <span class="pm">±</span> 0.4</span></div>
<div class="t tl" id="t232" style="left:2054.70px;top:1619.70px;font-size:13px;color:#111;font-family:'Liberation Serif', serif;"><span class="m"></span><span class="c"><b>83.5</b> <span class="pm">±</span> 0.1</span></div>
<div class="t tl" id="t233" style="left:2135.00px;top:1619.70px;font-size:13px;color:#111;font-family:'Liberation Serif', serif;"><span class="m"></span><span class="c">83.5 <span class="pm">±</span> 0.5</span></div>
<div class="t tl" id="t234" style="left:1361.40px;top:1636.41px;font-size:13px;color:#111;font-family:'Liberation Serif', serif;"><span class="m"></span><span class="c">unif. IW, <i class="bv">v</i>(<span class="star">⋆</span>), <i class="bv">u</i></span></div>
<div class="t tl" id="t235" style="left:1484.20px;top:1636.41px;font-size:13px;color:#111;font-family:'Liberation Serif', serif;"><span class="m"></span><span class="c">92.1 <span class="pm">±</span> 0.1</span></div>
<div class="t tl" id="t236" style="left:1564.20px;top:1636.41px;font-size:13px;color:#111;font-family:'Liberation Serif', serif;"><span class="m"></span><span class="c">92.3 <span class="pm">±</span> 0.1</span></div>
<div class="t tl" id="t237" style="left:1644.00px;top:1636.41px;font-size:13px;color:#111;font-family:'Liberation Serif', serif;"><span class="m"></span><span class="c">92.2 <span class="pm">±</span> 0.1</span></div>
<div class="t tl" id="t238" style="left:1724.00px;top:1636.41px;font-size:13px;color:#111;font-family:'Liberation Serif', serif;"><span class="m"></span><span class="c"><b>90.8</b> <span class="pm">±</span> 1.0</span></div>
<div class="t tl" id="t239" style="left:1807.60px;top:1636.41px;font-size:13px;color:#111;font-family:'Liberation Serif', serif;"><span class="m"></span><span class="c">90.6 <span class="pm">±</span> 0.9</span></div>
<div class="t tl" id="t240" style="left:1891.50px;top:1636.41px;font-size:13px;color:#111;font-family:'Liberation Serif', serif;"><span class="m"></span><span class="c">90.4 <span class="pm">±</span> 0.0</span></div>
<div class="t tl" id="t241" style="left:1974.90px;top:1636.41px;font-size:13px;color:#111;font-family:'Liberation Serif', serif;"><span class="m"></span><span class="c">82.1 <span class="pm">±</span> 0.8</span></div>
<div class="t tl" id="t242" style="left:2054.70px;top:1636.41px;font-size:13px;color:#111;font-family:'Liberation Serif', serif;"><span class="m"></span><span class="c"><b>83.5</b> <span class="pm">±</span> 0.1</span></div>
<div class="t tl" id="t243" style="left:2135.00px;top:1636.41px;font-size:13px;color:#111;font-family:'Liberation Serif', serif;"><span class="m"></span><span class="c">83.5 <span class="pm">±</span> 0.0</span></div>
<div class="t tl" id="t244" style="left:1361.40px;top:1653.31px;font-size:13px;color:#111;font-family:'Liberation Serif', serif;"><span class="m"></span><span class="c">w/o IW, <i class="bv">v</i>(<span class="star">⋆</span>), <i class="bv">u</i></span></div>
<div class="t tl" id="t245" style="left:1484.20px;top:1653.31px;font-size:13px;color:#111;font-family:'Liberation Serif', serif;"><span class="m"></span><span class="c">90.1 <span class="pm">±</span> 0.6</span></div>
<div class="t tl" id="t246" style="left:1564.20px;top:1653.31px;font-size:13px;color:#111;font-family:'Liberation Serif', serif;"><span class="m"></span><span class="c">92.0 <span class="pm">±</span> 0.1</span></div>
<div class="t tl" id="t247" style="left:1644.00px;top:1653.31px;font-size:13px;color:#111;font-family:'Liberation Serif', serif;"><span class="m"></span><span class="c"><b>92.3</b> <span class="pm">±</span> 0.1</span></div>
<div class="t tl" id="t248" style="left:1724.00px;top:1653.31px;font-size:13px;color:#111;font-family:'Liberation Serif', serif;"><span class="m"></span><span class="c">90.1 <span class="pm">±</span> 1.4</span></div>
<div class="t tl" id="t249" style="left:1807.60px;top:1653.31px;font-size:13px;color:#111;font-family:'Liberation Serif', serif;"><span class="m"></span><span class="c">89.2 <span class="pm">±</span> 1.2</span></div>
<div class="t tl" id="t250" style="left:1891.50px;top:1653.31px;font-size:13px;color:#111;font-family:'Liberation Serif', serif;"><span class="m"></span><span class="c">90.4 <span class="pm">±</span> 0.2</span></div>
<div class="t tl" id="t251" style="left:1974.90px;top:1653.31px;font-size:13px;color:#111;font-family:'Liberation Serif', serif;"><span class="m"></span><span class="c">77.8 <span class="pm">±</span> 1.5</span></div>
<div class="t tl" id="t252" style="left:2054.70px;top:1653.31px;font-size:13px;color:#111;font-family:'Liberation Serif', serif;"><span class="m"></span><span class="c"><b>83.5</b> <span class="pm">±</span> 0.0</span></div>
<div class="t tl" id="t253" style="left:2135.00px;top:1653.31px;font-size:13px;color:#111;font-family:'Liberation Serif', serif;"><span class="m"></span><span class="c">83.5 <span class="pm">±</span> 0.1</span></div>
<div class="t tl" id="t254" style="left:1361.40px;top:1670.31px;font-size:13px;color:#111;font-family:'Liberation Serif', serif;"><span class="m"></span><span class="c"><i class="bv">v</i>=<b>1</b>, <i class="bv">u</i></span></div>
<div class="t tl" id="t255" style="left:1484.20px;top:1670.31px;font-size:13px;color:#111;font-family:'Liberation Serif', serif;"><span class="m"></span><span class="c">61.1 <span class="pm">±</span> 1.8</span></div>
<div class="t tl" id="t256" style="left:1564.20px;top:1670.31px;font-size:13px;color:#111;font-family:'Liberation Serif', serif;"><span class="m"></span><span class="c">61.2 <span class="pm">±</span> 4.7</span></div>
<div class="t tl" id="t257" style="left:1644.00px;top:1670.31px;font-size:13px;color:#111;font-family:'Liberation Serif', serif;"><span class="m"></span><span class="c">61.2 <span class="pm">±</span> 2.2</span></div>
<div class="t tl" id="t258" style="left:1724.00px;top:1670.31px;font-size:13px;color:#111;font-family:'Liberation Serif', serif;"><span class="m"></span><span class="c">85.8 <span class="pm">±</span> 10.4</span></div>
<div class="t tl" id="t259" style="left:1807.60px;top:1670.31px;font-size:13px;color:#111;font-family:'Liberation Serif', serif;"><span class="m"></span><span class="c">86.3 <span class="pm">±</span> 11.1</span></div>
<div class="t tl" id="t260" style="left:1891.50px;top:1670.31px;font-size:13px;color:#111;font-family:'Liberation Serif', serif;"><span class="m"></span><span class="c">87.3 <span class="pm">±</span> 11.5</span></div>
<div class="t tl" id="t261" style="left:1974.90px;top:1670.31px;font-size:13px;color:#111;font-family:'Liberation Serif', serif;"><span class="m"></span><span class="c">75.0 <span class="pm">±</span> 3.7</span></div>
<div class="t tl" id="t262" style="left:2054.70px;top:1670.31px;font-size:13px;color:#111;font-family:'Liberation Serif', serif;"><span class="m"></span><span class="c">75.1 <span class="pm">±</span> 1.6</span></div>
<div class="t tl" id="t263" style="left:2135.00px;top:1670.31px;font-size:13px;color:#111;font-family:'Liberation Serif', serif;"><span class="m"></span><span class="c">75.8 <span class="pm">±</span> 1.2</span></div>
<div class="t tl" id="t264" style="left:1252.20px;top:1687.00px;font-size:13px;color:#111;font-family:'Liberation Serif', serif;"><span class="m"></span><span class="c">BB Sparse VI</span></div>
<div class="t tl" id="t265" style="left:1361.40px;top:1687.00px;font-size:13px;color:#111;font-family:'Liberation Serif', serif;"><span class="m"></span><span class="c">Batch</span></div>
<div class="t tl" id="t266" style="left:1484.20px;top:1687.00px;font-size:13px;color:#111;font-family:'Liberation Serif', serif;"><span class="m"></span><span class="c">80.1 <span class="pm">±</span> 0.9</span></div>
<div class="t tl" id="t267" style="left:1564.20px;top:1687.00px;font-size:13px;color:#111;font-family:'Liberation Serif', serif;"><span class="m"></span><span class="c">86.9 <span class="pm">±</span> 0.2</span></div>
<div class="t tl" id="t268" style="left:1644.00px;top:1687.00px;font-size:13px;color:#111;font-family:'Liberation Serif', serif;"><span class="m"></span><span class="c">88.9 <span class="pm">±</span> 0.4</span></div>
<div class="t tl" id="t269" style="left:1724.00px;top:1687.00px;font-size:13px;color:#111;font-family:'Liberation Serif', serif;"><span class="m"></span><span class="c">87.6 <span class="pm">±</span> 0.8</span></div>
<div class="t tl" id="t270" style="left:1807.60px;top:1687.00px;font-size:13px;color:#111;font-family:'Liberation Serif', serif;"><span class="m"></span><span class="c">90.7 <span class="pm">±</span> 0.3</span></div>
<div class="t tl" id="t271" style="left:1891.50px;top:1687.00px;font-size:13px;color:#111;font-family:'Liberation Serif', serif;"><span class="m"></span><span class="c">90.2 <span class="pm">±</span> 1.2</span></div>
<div class="t tl" id="t272" style="left:1974.90px;top:1687.00px;font-size:13px;color:#111;font-family:'Liberation Serif', serif;"><span class="m"></span><span class="c">78.1 <span class="pm">±</span> 1.1</span></div>
<div class="t tl" id="t273" style="left:2054.70px;top:1687.00px;font-size:13px;color:#111;font-family:'Liberation Serif', serif;"><span class="m"></span><span class="c">82.6 <span class="pm">±</span> 0.4</span></div>
<div class="t tl" id="t274" style="left:2135.00px;top:1687.00px;font-size:13px;color:#111;font-family:'Liberation Serif', serif;"><span class="m"></span><span class="c">83.5 <span class="pm">±</span> 0.7</span></div>
<div class="t tl" id="t275" style="left:1361.40px;top:1703.70px;font-size:13px;color:#111;font-family:'Liberation Serif', serif;"><span class="m"></span><span class="c">Incremental</span></div>
<div class="t tl" id="t276" style="left:1484.20px;top:1703.70px;font-size:13px;color:#111;font-family:'Liberation Serif', serif;"><span class="m"></span><span class="c">60.7 <span class="pm">±</span> 0.0</span></div>
<div class="t tl" id="t277" style="left:1564.20px;top:1703.70px;font-size:13px;color:#111;font-family:'Liberation Serif', serif;"><span class="m"></span><span class="c">76.9 <span class="pm">±</span> 3.3</span></div>
<div class="t tl" id="t278" style="left:1644.00px;top:1703.70px;font-size:13px;color:#111;font-family:'Liberation Serif', serif;"><span class="m"></span><span class="c">83.4 <span class="pm">±</span> 4.5</span></div>
<div class="t tl" id="t279" style="left:1724.00px;top:1703.70px;font-size:13px;color:#111;font-family:'Liberation Serif', serif;"><span class="m"></span><span class="c">88.8 <span class="pm">±</span> 2.1</span></div>
<div class="t tl" id="t280" style="left:1807.60px;top:1703.70px;font-size:13px;color:#111;font-family:'Liberation Serif', serif;"><span class="m"></span><span class="c">88.9 <span class="pm">±</span> 3.7</span></div>
<div class="t tl" id="t281" style="left:1891.50px;top:1703.70px;font-size:13px;color:#111;font-family:'Liberation Serif', serif;"><span class="m"></span><span class="c">88.1 <span class="pm">±</span> 2.2</span></div>
<div class="t tl" id="t282" style="left:1974.90px;top:1703.70px;font-size:13px;color:#111;font-family:'Liberation Serif', serif;"><span class="m"></span><span class="c">78.6 <span class="pm">±</span> 0.1</span></div>
<div class="t tl" id="t283" style="left:2054.70px;top:1703.70px;font-size:13px;color:#111;font-family:'Liberation Serif', serif;"><span class="m"></span><span class="c">81.9 <span class="pm">±</span> 0.9</span></div>
<div class="t tl" id="t284" style="left:2135.00px;top:1703.70px;font-size:13px;color:#111;font-family:'Liberation Serif', serif;"><span class="m"></span><span class="c">82.4 <span class="pm">±</span> 0.7</span></div>
<div class="t tl" id="t285" style="left:1252.20px;top:1720.50px;font-size:13px;color:#111;font-family:'Liberation Serif', serif;"><span class="m"></span><span class="c">PSVI</span></div>
<div class="t tl" id="t286" style="left:1484.20px;top:1720.50px;font-size:13px;color:#111;font-family:'Liberation Serif', serif;"><span class="m"></span><span class="c">83.9 <span class="pm">±</span> 0.7</span></div>
<div class="t tl" id="t287" style="left:1564.20px;top:1720.50px;font-size:13px;color:#111;font-family:'Liberation Serif', serif;"><span class="m"></span><span class="c">88.8 <span class="pm">±</span> 0.4</span></div>
<div class="t tl" id="t288" style="left:1644.00px;top:1720.50px;font-size:13px;color:#111;font-family:'Liberation Serif', serif;"><span class="m"></span><span class="c">90.3 <span class="pm">±</span> 0.3</span></div>
<div class="t tl" id="t289" style="left:1724.00px;top:1720.50px;font-size:13px;color:#111;font-family:'Liberation Serif', serif;"><span class="m"></span><span class="c">88.3 <span class="pm">±</span> 1.7</span></div>
<div class="t tl" id="t290" style="left:1807.60px;top:1720.50px;font-size:13px;color:#111;font-family:'Liberation Serif', serif;"><span class="m"></span><span class="c">89.0 <span class="pm">±</span> 0.9</span></div>
<div class="t tl" id="t291" style="left:1891.50px;top:1720.50px;font-size:13px;color:#111;font-family:'Liberation Serif', serif;"><span class="m"></span><span class="c">90.1 <span class="pm">±</span> 0.1</span></div>
<div class="t tl" id="t292" style="left:1974.90px;top:1720.50px;font-size:13px;color:#111;font-family:'Liberation Serif', serif;"><span class="m"></span><span class="c">82.5 <span class="pm">±</span> 0.4</span></div>
<div class="t tl" id="t293" style="left:2054.70px;top:1720.50px;font-size:13px;color:#111;font-family:'Liberation Serif', serif;"><span class="m"></span><span class="c"><b>83.5</b> <span class="pm">±</span> 0.0</span></div>
<div class="t tl" id="t294" style="left:2135.00px;top:1720.50px;font-size:13px;color:#111;font-family:'Liberation Serif', serif;"><span class="m"></span><span class="c">83.5 <span class="pm">±</span> 0.0</span></div>
<div class="t tl" id="t295" style="left:1252.20px;top:1737.20px;font-size:13px;color:#111;font-family:'Liberation Serif', serif;"><span class="m"></span><span class="c">Sparse VI</span></div>
<div class="t tl" id="t296" style="left:1484.20px;top:1737.20px;font-size:13px;color:#111;font-family:'Liberation Serif', serif;"><span class="m"></span><span class="c">72.8 <span class="pm">±</span> 3.5</span></div>
<div class="t tl" id="t297" style="left:1564.20px;top:1737.20px;font-size:13px;color:#111;font-family:'Liberation Serif', serif;"><span class="m"></span><span class="c">74.2 <span class="pm">±</span> 4.7</span></div>
<div class="t tl" id="t298" style="left:1644.00px;top:1737.20px;font-size:13px;color:#111;font-family:'Liberation Serif', serif;"><span class="m"></span><span class="c">74.6 <span class="pm">±</span> 4.8</span></div>
<div class="t tl" id="t299" style="left:1724.00px;top:1737.20px;font-size:13px;color:#111;font-family:'Liberation Serif', serif;"><span class="m"></span><span class="c">87.0 <span class="pm">±</span> 1.6</span></div>
<div class="t tl" id="t300" style="left:1807.60px;top:1737.20px;font-size:13px;color:#111;font-family:'Liberation Serif', serif;"><span class="m"></span><span class="c">89.3 <span class="pm">±</span> 0.5</span></div>
<div class="t tl" id="t301" style="left:1891.50px;top:1737.20px;font-size:13px;color:#111;font-family:'Liberation Serif', serif;"><span class="m"></span><span class="c">90.0 <span class="pm">±</span> 1.4</span></div>
<div class="t tl" id="t302" style="left:1974.90px;top:1737.20px;font-size:13px;color:#111;font-family:'Liberation Serif', serif;"><span class="m"></span><span class="c">78.1 <span class="pm">±</span> 2.3</span></div>
<div class="t tl" id="t303" style="left:2054.70px;top:1737.20px;font-size:13px;color:#111;font-family:'Liberation Serif', serif;"><span class="m"></span><span class="c">79.0 <span class="pm">±</span> 3.1</span></div>
<div class="t tl" id="t304" style="left:2135.00px;top:1737.20px;font-size:13px;color:#111;font-family:'Liberation Serif', serif;"><span class="m"></span><span class="c">80.7 <span class="pm">±</span> 1.9</span></div>
<div class="t tl" id="t305" style="left:1252.20px;top:1753.91px;font-size:13px;color:#111;font-family:'Liberation Serif', serif;"><span class="m"></span><span class="c">Subset Laplace</span></div>
<div class="t tl" id="t306" style="left:1484.20px;top:1753.91px;font-size:13px;color:#111;font-family:'Liberation Serif', serif;"><span class="m"></span><span class="c">63.0 <span class="pm">±</span> 6.4</span></div>
<div class="t tl" id="t307" style="left:1564.20px;top:1753.91px;font-size:13px;color:#111;font-family:'Liberation Serif', serif;"><span class="m"></span><span class="c">78.8 <span class="pm">±</span> 2.3</span></div>
<div class="t tl" id="t308" style="left:1644.00px;top:1753.91px;font-size:13px;color:#111;font-family:'Liberation Serif', serif;"><span class="m"></span><span class="c">82.7 <span class="pm">±</span> 1.3</span></div>
<div class="t tl" id="t309" style="left:1724.00px;top:1753.91px;font-size:13px;color:#111;font-family:'Liberation Serif', serif;"><span class="m"></span><span class="c">72.7 <span class="pm">±</span> 4.1</span></div>
<div class="t tl" id="t310" style="left:1807.60px;top:1753.91px;font-size:13px;color:#111;font-family:'Liberation Serif', serif;"><span class="m"></span><span class="c">84.7 <span class="pm">±</span> 2.1</span></div>
<div class="t tl" id="t311" style="left:1891.50px;top:1753.91px;font-size:13px;color:#111;font-family:'Liberation Serif', serif;"><span class="m"></span><span class="c">88.0 <span class="pm">±</span> 2.1</span></div>
<div class="t tl" id="t312" style="left:1974.90px;top:1753.91px;font-size:13px;color:#111;font-family:'Liberation Serif', serif;"><span class="m"></span><span class="c">64.4 <span class="pm">±</span> 2.2</span></div>
<div class="t tl" id="t313" style="left:2054.70px;top:1753.91px;font-size:13px;color:#111;font-family:'Liberation Serif', serif;"><span class="m"></span><span class="c">77.0 <span class="pm">±</span> 2.2</span></div>
<div class="t tl" id="t314" style="left:2135.00px;top:1753.91px;font-size:13px;color:#111;font-family:'Liberation Serif', serif;"><span class="m"></span><span class="c">81.2 <span class="pm">±</span> 1.2</span></div>
<div class="t tl" id="t315" style="left:1252.20px;top:1770.60px;font-size:13px;color:#111;font-family:'Liberation Serif', serif;"><span class="m"></span><span class="c">Rand. Coreset</span></div>
<div class="t tl" id="t316" style="left:1484.20px;top:1770.60px;font-size:13px;color:#111;font-family:'Liberation Serif', serif;"><span class="m"></span><span class="c">71.3 <span class="pm">±</span> 2.9</span></div>
<div class="t tl" id="t317" style="left:1564.20px;top:1770.60px;font-size:13px;color:#111;font-family:'Liberation Serif', serif;"><span class="m"></span><span class="c">83.6 <span class="pm">±</span> 1.2</span></div>
<div class="t tl" id="t318" style="left:1644.00px;top:1770.60px;font-size:13px;color:#111;font-family:'Liberation Serif', serif;"><span class="m"></span><span class="c">86.3 <span class="pm">±</span> 0.6</span></div>
<div class="t tl" id="t319" style="left:1724.00px;top:1770.60px;font-size:13px;color:#111;font-family:'Liberation Serif', serif;"><span class="m"></span><span class="c">81.4 <span class="pm">±</span> 2.7</span></div>
<div class="t tl" id="t320" style="left:1807.60px;top:1770.60px;font-size:13px;color:#111;font-family:'Liberation Serif', serif;"><span class="m"></span><span class="c">86.1 <span class="pm">±</span> 3.8</span></div>
<div class="t tl" id="t321" style="left:1891.50px;top:1770.60px;font-size:13px;color:#111;font-family:'Liberation Serif', serif;"><span class="m"></span><span class="c">84.4 <span class="pm">±</span> 1.7</span></div>
<div class="t tl" id="t322" style="left:1974.90px;top:1770.60px;font-size:13px;color:#111;font-family:'Liberation Serif', serif;"><span class="m"></span><span class="c">75.9 <span class="pm">±</span> 1.1</span></div>
<div class="t tl" id="t323" style="left:2054.70px;top:1770.60px;font-size:13px;color:#111;font-family:'Liberation Serif', serif;"><span class="m"></span><span class="c">76.2 <span class="pm">±</span> 0.3</span></div>
<div class="t tl" id="t324" style="left:2135.00px;top:1770.60px;font-size:13px;color:#111;font-family:'Liberation Serif', serif;"><span class="m"></span><span class="c">79.5 <span class="pm">±</span> 0.5</span></div>
<div class="t tl" id="t325" style="left:1252.20px;top:1787.41px;font-size:13px;color:#111;font-family:'Liberation Serif', serif;"><span class="m"></span><span class="c">Full MFVI</span></div>
<div class="t tl" id="t326" style="left:1644.00px;top:1787.41px;font-size:13px;color:#111;font-family:'Liberation Serif', serif;"><span class="m"></span><span class="c"><b>92.7</b> <span class="pm">±</span> 0</span></div>
<div class="t tl" id="t327" style="left:1891.50px;top:1787.41px;font-size:13px;color:#111;font-family:'Liberation Serif', serif;"><span class="m"></span><span class="c"><b>90.4</b> <span class="pm">±</span> 0.1</span></div>
<div class="t tl" id="t328" style="left:2135.00px;top:1787.41px;font-size:13px;color:#111;font-family:'Liberation Serif', serif;"><span class="m"></span><span class="c"><b>83.5</b> <span class="pm">±</span> 0</span></div>
<div class="t fm" id="t329" style="left:1305.60px;top:588.81px;font-size:42.5px;color:#000;font-family:'Liberation Serif', serif;letter-spacing:-0.751px;"><span class="m"></span><span class="c">log <i>p</i>(<i>y</i> <b class="vb">|</b> <i>x</i>) <span class="ge">≥</span> <span class="bb">𝔼</span></span></div>
<div class="t fm sb" id="t330" style="left:1558.00px;top:613.40px;font-size:30px;color:#3a86a5;font-family:'Liberation Serif', serif;letter-spacing:0.693px;-webkit-text-stroke:0.45px #3a86a5;"><span class="m"></span><span class="c"><i>p</i>(<i>θ</i>|<i>u</i>,<i>z</i>)</span></div>
<div class="t fm" id="t331" style="left:1684.90px;top:588.81px;font-size:42.5px;color:#000;font-family:'Liberation Serif', serif;letter-spacing:-0.670px;"><span class="m"></span><span class="c">log</span></div>
<div class="t fm" id="t332" style="left:1751.00px;top:558.81px;font-size:42.5px;color:#000;font-family:'Liberation Serif', serif;letter-spacing:-0.664px;"><span class="m"></span><span class="c"><i>p</i>(<i>y</i> | <i>x</i>, <i>θ</i>))</span></div>
<div class="t fm" id="t333" style="left:1758.00px;top:621.00px;font-size:42.5px;color:#000;font-family:'Liberation Serif', serif;letter-spacing:-0.753px;"><span class="m"></span><span class="c"><i>p</i>(<i>z</i> | <i>u</i>, <i>θ</i>)</span></div>
<div class="t fm" id="t334" style="left:1979.30px;top:588.81px;font-size:42.5px;color:#f0942f;font-family:'Liberation Serif', serif;letter-spacing:-0.865px;"><span class="m"></span><span class="c">log <i>p</i>(<i>z</i> | <i>u</i>)</span></div>
<div class="t fm" id="t335" style="left:2454.60px;top:614.50px;font-size:30px;color:#000;font-family:'Liberation Serif', serif;letter-spacing:-0.642px;"><span class="m"></span><span class="c"><i>θ</i><span class="k">k</span>∼<i>r</i></span></div>
<div class="t fm" id="t336" style="left:2551.00px;top:549.40px;font-size:42.5px;color:#000;font-family:'Liberation Serif', serif;letter-spacing:0.635px;"><span class="m"></span><span class="c"><i>w̃</i><span class="k">k</span></span></div>
<div class="t fm" id="t337" style="left:2603.00px;top:549.40px;font-size:42.5px;color:#000;font-family:'Liberation Serif', serif;letter-spacing:0.229px;"><span class="m"></span><span class="c">log</span></div>
<div class="t fm" id="t338" style="left:2672.00px;top:517.21px;font-size:42.5px;color:#000;font-family:'Liberation Serif', serif;letter-spacing:-0.087px;"><span class="m"></span><span class="c"><i>p</i>(<i>y</i> | <i>x</i>, <i>θ</i><span class="k">k</span>)</span></div>
<div class="t fm" id="t339" style="left:2672.00px;top:582.71px;font-size:42.5px;color:#000;font-family:'Liberation Serif', serif;letter-spacing:-0.095px;"><span class="m"></span><span class="c"><i>p</i>(<i>z</i> | <i>u</i>, <i>θ</i><span class="k">k</span>)</span></div>
<div class="t fm" id="t340" style="left:2915.00px;top:516.60px;font-size:42.5px;color:#000;font-family:'Liberation Serif', serif;letter-spacing:-7.659px;"><span class="m"></span><span class="c">1</span></div>
<div class="t fm" id="t341" style="left:2907.80px;top:583.71px;font-size:42.5px;color:#000;font-family:'Liberation Serif', serif;letter-spacing:-1.253px;"><span class="m"></span><span class="c"><i>K</i></span></div>
<div class="t fm" id="t342" style="left:2951.50px;top:549.40px;font-size:42.5px;color:#000;font-family:'Liberation Serif', serif;letter-spacing:0.593px;"><span class="m"></span><span class="c">log</span></div>
<div class="t fm" id="t343" style="left:3021.00px;top:516.60px;font-size:42.5px;color:#000;font-family:'Liberation Serif', serif;letter-spacing:0.048px;"><span class="m"></span><span class="c"><i>p</i>(<i>z</i> | <i>u</i>, <i>θ</i><span class="k">k</span>)<i>p</i>(<i>θ</i><span class="k">k</span>)</span></div>
<div class="t fm" id="t344" style="left:3077.30px;top:583.71px;font-size:42.5px;color:#000;font-family:'Liberation Serif', serif;letter-spacing:-0.039px;"><span class="m"></span><span class="c"><i>r</i>(<i>θ</i><span class="k">k</span>; <i>ψ</i>*)</span></div>
<div class="t" id="t345" style="left:2503.50px;top:716.71px;font-size:40px;color:#000;font-family:'Liberation Sans', sans-serif;letter-spacing:0.938px;"><span class="m"></span><span class="c">with</span></div>
<div class="t fm" id="t346" style="left:2594.00px;top:715.71px;font-size:42.5px;color:#000;font-family:'Liberation Serif', serif;letter-spacing:-1.031px;"><span class="m"></span><span class="c"><i>w</i><span class="k">k</span></span></div>
<div class="t fm" id="t347" style="left:2688.60px;top:683.50px;font-size:42.5px;color:#000;font-family:'Liberation Serif', serif;letter-spacing:-0.578px;"><span class="m"></span><span class="c"><i>p</i>(<i>z</i> | <i>u</i>, <i>θ</i><span class="k">k</span>)<i>p</i>(<i>θ</i><span class="k">k</span>)</span></div>
<div class="t fm" id="t348" style="left:2742.60px;top:746.90px;font-size:42.5px;color:#000;font-family:'Liberation Serif', serif;letter-spacing:-0.741px;"><span class="m"></span><span class="c"><i>r</i>(<i>θ</i><span class="k">k</span>; <i>ψ</i>*)</span></div>
<div class="t fm" id="t349" style="left:2945.80px;top:715.40px;font-size:42.5px;color:#000;font-family:'Liberation Serif', serif;"><span class="m"></span><span class="c">;</span></div>
<div class="t fm" id="t350" style="left:3006.80px;top:715.40px;font-size:42.5px;color:#000;font-family:'Liberation Serif', serif;letter-spacing:-0.169px;"><span class="m"></span><span class="c"><i>w̃</i><span class="k">k</span></span></div>
<div class="t fm" id="t351" style="left:3102.00px;top:715.40px;font-size:42.5px;color:#000;font-family:'Liberation Serif', serif;letter-spacing:1.143px;"><span class="m"></span><span class="c"><i>w</i><span class="k">k</span>/</span></div>
<div class="t fm" id="t352" style="left:3227.50px;top:715.40px;font-size:42.5px;color:#000;font-family:'Liberation Serif', serif;letter-spacing:-1.070px;"><span class="m"></span><span class="c"><i>w</i><span class="k">j</span></span></div>
<div class="t fm" id="t353" style="left:3182.00px;top:778.71px;font-size:30px;color:#000;font-family:'Liberation Serif', serif;"><span class="m"></span><span class="c"><i>j</i></span></div>
<div class="t" id="t354" style="left:2503.30px;top:838.81px;font-size:40px;color:#000;font-family:'Liberation Sans', sans-serif;letter-spacing:-0.662px;"><span class="m"></span><span class="c">s.t.</span></div>
<div class="t fm" id="t355" style="left:2570.00px;top:837.81px;font-size:42.5px;color:#000;font-family:'Liberation Serif', serif;letter-spacing:0.869px;"><span class="m"></span><span class="c"><i>ψ</i>*</span></div>
<div class="t fm" id="t356" style="left:2679.40px;top:837.81px;font-size:42.5px;color:#000;font-family:'Liberation Serif', serif;letter-spacing:0.667px;"><span class="m"></span><span class="c">arg</span></div>
<div class="t fm" id="t357" style="left:2744.70px;top:837.81px;font-size:42.5px;color:#000;font-family:'Liberation Serif', serif;letter-spacing:1.372px;"><span class="m"></span><span class="c">max</span></div>
<div class="t fm" id="t358" style="left:2774.00px;top:883.00px;font-size:30px;color:#000;font-family:'Liberation Serif', serif;letter-spacing:2.753px;"><span class="m"></span><span class="c"><i>ψ</i></span></div>
<div class="t" id="t359" style="left:2834.00px;top:838.81px;font-size:40px;color:#000;font-family:'Liberation Sans', sans-serif;letter-spacing:-2.680px;"><span class="m"></span><span class="c">ELBO</span></div>
<div class="t fm" id="t360" style="left:2932.00px;top:837.81px;font-size:42.5px;color:#000;font-family:'Liberation Serif', serif;letter-spacing:-0.526px;"><span class="m"></span><span class="c">(<i>u</i>, <i>z</i>; <i>ψ</i>)</span></div>
<div class="t" id="t361" style="left:1630.70px;top:990.01px;font-size:13.5px;color:#444;font-family:'Liberation Sans', sans-serif;letter-spacing:-0.154px;"><span class="m"></span><span class="c">Target</span></div>
<div class="t" id="t362" style="left:1630.70px;top:1008.51px;font-size:13.5px;color:#444;font-family:'Liberation Sans', sans-serif;letter-spacing:-0.336px;"><span class="m"></span><span class="c">Proposal</span></div>
<div class="t" id="t363" style="left:1859.90px;top:976.50px;font-size:12.7px;color:#8e3a98;font-family:'Liberation Sans', sans-serif;letter-spacing:-0.071px;"><span class="m"></span><span class="c">Data evidence</span></div>
<div class="t" id="t364" style="left:1852.80px;top:1066.51px;font-size:12.5px;color:#4a7f35;font-family:'Liberation Sans', sans-serif;letter-spacing:-0.017px;"><span class="m"></span><span class="c">Coreset ELBO</span></div>
<div class="t" id="t365" style="left:2051.80px;top:1089.01px;font-size:12.5px;color:#f0942f;font-family:'Liberation Sans', sans-serif;letter-spacing:-0.048px;"><span class="m"></span><span class="c">Nested ELBO</span></div>
<div class="t" id="t366" style="left:1273.70px;top:2436.50px;font-size:6.8px;color:#333;font-family:'DejaVu Sans', sans-serif;"><span class="m"></span><span class="c">0.100</span></div>
<div class="t" id="t367" style="left:1273.70px;top:2398.93px;font-size:6.8px;color:#333;font-family:'DejaVu Sans', sans-serif;"><span class="m"></span><span class="c">0.125</span></div>
<div class="t" id="t368" style="left:1273.70px;top:2361.36px;font-size:6.8px;color:#333;font-family:'DejaVu Sans', sans-serif;"><span class="m"></span><span class="c">0.150</span></div>
<div class="t" id="t369" style="left:1273.70px;top:2323.79px;font-size:6.8px;color:#333;font-family:'DejaVu Sans', sans-serif;"><span class="m"></span><span class="c">0.175</span></div>
<div class="t" id="t370" style="left:1273.70px;top:2286.22px;font-size:6.8px;color:#333;font-family:'DejaVu Sans', sans-serif;"><span class="m"></span><span class="c">0.200</span></div>
<div class="t" id="t371" style="left:1273.70px;top:2248.65px;font-size:6.8px;color:#333;font-family:'DejaVu Sans', sans-serif;"><span class="m"></span><span class="c">0.225</span></div>
<div class="t" id="t372" style="left:1273.70px;top:2211.08px;font-size:6.8px;color:#333;font-family:'DejaVu Sans', sans-serif;"><span class="m"></span><span class="c">0.250</span></div>
<div class="t" id="t373" style="left:1273.70px;top:2173.51px;font-size:6.8px;color:#333;font-family:'DejaVu Sans', sans-serif;"><span class="m"></span><span class="c">0.275</span></div>
<div class="t" id="t374" style="left:1311.50px;top:2458.00px;font-size:6.8px;color:#333;font-family:'DejaVu Sans', sans-serif;transform:translateX(-50%);"><span class="m"></span><span class="c">0</span></div>
<div class="t" id="t375" style="left:1350.94px;top:2458.00px;font-size:6.8px;color:#333;font-family:'DejaVu Sans', sans-serif;transform:translateX(-50%);"><span class="m"></span><span class="c">500</span></div>
<div class="t" id="t376" style="left:1390.38px;top:2458.00px;font-size:6.8px;color:#333;font-family:'DejaVu Sans', sans-serif;transform:translateX(-50%);"><span class="m"></span><span class="c">1000</span></div>
<div class="t" id="t377" style="left:1429.82px;top:2458.00px;font-size:6.8px;color:#333;font-family:'DejaVu Sans', sans-serif;transform:translateX(-50%);"><span class="m"></span><span class="c">1500</span></div>
<div class="t" id="t378" style="left:1469.26px;top:2458.00px;font-size:6.8px;color:#333;font-family:'DejaVu Sans', sans-serif;transform:translateX(-50%);"><span class="m"></span><span class="c">2000</span></div>
<div class="t" id="t379" style="left:1508.70px;top:2458.00px;font-size:6.8px;color:#333;font-family:'DejaVu Sans', sans-serif;transform:translateX(-50%);"><span class="m"></span><span class="c">2500</span></div>
<div class="t" id="t380" style="left:1548.14px;top:2458.00px;font-size:6.8px;color:#333;font-family:'DejaVu Sans', sans-serif;transform:translateX(-50%);"><span class="m"></span><span class="c">3000</span></div>
<div class="t" id="t381" style="left:1587.58px;top:2458.00px;font-size:6.8px;color:#333;font-family:'DejaVu Sans', sans-serif;transform:translateX(-50%);"><span class="m"></span><span class="c">3500</span></div>
<div class="t" id="t382" style="left:1389.30px;top:2465.01px;font-size:15.5px;color:#111;font-family:'DejaVu Sans', sans-serif;letter-spacing:-0.987px;"><span class="m"></span><span class="c">Training iterations</span></div>
<div class="t" id="t383" style="left:1481.50px;top:2163.50px;font-size:13.3px;color:#111;font-family:'DejaVu Sans', sans-serif;letter-spacing:0.080px;"><span class="m"></span><span class="c">dimension=10</span></div>
<div class="t" id="t384" style="left:1481.50px;top:2183.61px;font-size:13.3px;color:#111;font-family:'DejaVu Sans', sans-serif;letter-spacing:0.080px;"><span class="m"></span><span class="c">dimension=50</span></div>
<div class="t" id="t385" style="left:1481.50px;top:2204.11px;font-size:13.3px;color:#111;font-family:'DejaVu Sans', sans-serif;letter-spacing:0.084px;"><span class="m"></span><span class="c">dimension=200</span></div>
<div class="t dg" id="t386" style="left:120.33px;top:2361.44px;font-size:30px;color:#e4e4e4;font-family:'Liberation Sans', sans-serif;transform:translateX(-50%) rotate(6deg);"><span class="m"></span><span class="c">0</span></div>
<div class="t dg" id="t387" style="left:151.80px;top:2361.44px;font-size:30px;color:#e4e4e4;font-family:'Liberation Sans', sans-serif;transform:translateX(-50%) rotate(6deg);"><span class="m"></span><span class="c">0</span></div>
<div class="t dg" id="t388" style="left:183.27px;top:2361.44px;font-size:30px;color:#e4e4e4;font-family:'Liberation Sans', sans-serif;transform:translateX(-50%) rotate(6deg);"><span class="m"></span><span class="c">0</span></div>
<div class="t dg" id="t389" style="left:214.73px;top:2361.44px;font-size:30px;color:#e4e4e4;font-family:'Liberation Sans', sans-serif;transform:translateX(-50%) rotate(6deg);"><span class="m"></span><span class="c">1</span></div>
<div class="t dg" id="t390" style="left:246.20px;top:2361.44px;font-size:30px;color:#e4e4e4;font-family:'Liberation Sans', sans-serif;transform:translateX(-50%) rotate(6deg);"><span class="m"></span><span class="c">1</span></div>
<div class="t dg" id="t391" style="left:277.67px;top:2361.44px;font-size:30px;color:#e4e4e4;font-family:'Liberation Sans', sans-serif;transform:translateX(-50%) rotate(6deg);"><span class="m"></span><span class="c">1</span></div>
<div class="t dg" id="t392" style="left:309.13px;top:2361.44px;font-size:30px;color:#e4e4e4;font-family:'Liberation Sans', sans-serif;transform:translateX(-50%) rotate(6deg);"><span class="m"></span><span class="c">2</span></div>
<div class="t dg" id="t393" style="left:340.60px;top:2361.44px;font-size:30px;color:#e4e4e4;font-family:'Liberation Sans', sans-serif;transform:translateX(-50%) rotate(6deg);"><span class="m"></span><span class="c">2</span></div>
<div class="t dg" id="t394" style="left:372.07px;top:2361.44px;font-size:30px;color:#e4e4e4;font-family:'Liberation Sans', sans-serif;transform:translateX(-50%) rotate(6deg);"><span class="m"></span><span class="c">2</span></div>
<div class="t dg" id="t395" style="left:403.53px;top:2361.44px;font-size:30px;color:#e4e4e4;font-family:'Liberation Sans', sans-serif;transform:translateX(-50%) rotate(6deg);"><span class="m"></span><span class="c">3</span></div>
<div class="t dg" id="t396" style="left:435.00px;top:2361.44px;font-size:30px;color:#e4e4e4;font-family:'Liberation Sans', sans-serif;transform:translateX(-50%) rotate(6deg);"><span class="m"></span><span class="c">3</span></div>
<div class="t dg" id="t397" style="left:466.47px;top:2361.44px;font-size:30px;color:#e4e4e4;font-family:'Liberation Sans', sans-serif;transform:translateX(-50%) rotate(6deg);"><span class="m"></span><span class="c">3</span></div>
<div class="t dg" id="t398" style="left:497.93px;top:2361.44px;font-size:30px;color:#e4e4e4;font-family:'Liberation Sans', sans-serif;transform:translateX(-50%) rotate(6deg);"><span class="m"></span><span class="c">4</span></div>
<div class="t dg" id="t399" style="left:529.40px;top:2361.44px;font-size:30px;color:#e4e4e4;font-family:'Liberation Sans', sans-serif;transform:translateX(-50%) rotate(6deg);"><span class="m"></span><span class="c">4</span></div>
<div class="t dg" id="t400" style="left:560.87px;top:2361.44px;font-size:30px;color:#e4e4e4;font-family:'Liberation Sans', sans-serif;transform:translateX(-50%) rotate(6deg);"><span class="m"></span><span class="c">4</span></div>
<div class="t dg" id="t401" style="left:592.33px;top:2361.44px;font-size:30px;color:#e4e4e4;font-family:'Liberation Sans', sans-serif;transform:translateX(-50%) rotate(6deg);"><span class="m"></span><span class="c">5</span></div>
<div class="t dg" id="t402" style="left:623.80px;top:2361.44px;font-size:30px;color:#e4e4e4;font-family:'Liberation Sans', sans-serif;transform:translateX(-50%) rotate(6deg);"><span class="m"></span><span class="c">5</span></div>
<div class="t dg" id="t403" style="left:655.27px;top:2361.44px;font-size:30px;color:#e4e4e4;font-family:'Liberation Sans', sans-serif;transform:translateX(-50%) rotate(6deg);"><span class="m"></span><span class="c">5</span></div>
<div class="t dg" id="t404" style="left:686.73px;top:2361.44px;font-size:30px;color:#e4e4e4;font-family:'Liberation Sans', sans-serif;transform:translateX(-50%) rotate(6deg);"><span class="m"></span><span class="c">6</span></div>
<div class="t dg" id="t405" style="left:718.20px;top:2361.44px;font-size:30px;color:#e4e4e4;font-family:'Liberation Sans', sans-serif;transform:translateX(-50%) rotate(6deg);"><span class="m"></span><span class="c">6</span></div>
<div class="t dg" id="t406" style="left:749.67px;top:2361.44px;font-size:30px;color:#e4e4e4;font-family:'Liberation Sans', sans-serif;transform:translateX(-50%) rotate(6deg);"><span class="m"></span><span class="c">6</span></div>
<div class="t dg" id="t407" style="left:781.13px;top:2361.44px;font-size:30px;color:#e4e4e4;font-family:'Liberation Sans', sans-serif;transform:translateX(-50%) rotate(6deg);"><span class="m"></span><span class="c">7</span></div>
<div class="t dg" id="t408" style="left:812.60px;top:2361.44px;font-size:30px;color:#e4e4e4;font-family:'Liberation Sans', sans-serif;transform:translateX(-50%) rotate(6deg);"><span class="m"></span><span class="c">7</span></div>
<div class="t dg" id="t409" style="left:844.07px;top:2361.44px;font-size:30px;color:#e4e4e4;font-family:'Liberation Sans', sans-serif;transform:translateX(-50%) rotate(6deg);"><span class="m"></span><span class="c">7</span></div>
<div class="t dg" id="t410" style="left:875.53px;top:2361.44px;font-size:30px;color:#e4e4e4;font-family:'Liberation Sans', sans-serif;transform:translateX(-50%) rotate(6deg);"><span class="m"></span><span class="c">8</span></div>
<div class="t dg" id="t411" style="left:907.00px;top:2361.44px;font-size:30px;color:#e4e4e4;font-family:'Liberation Sans', sans-serif;transform:translateX(-50%) rotate(6deg);"><span class="m"></span><span class="c">8</span></div>
<div class="t dg" id="t412" style="left:938.47px;top:2361.44px;font-size:30px;color:#e4e4e4;font-family:'Liberation Sans', sans-serif;transform:translateX(-50%) rotate(6deg);"><span class="m"></span><span class="c">8</span></div>
<div class="t dg" id="t413" style="left:969.93px;top:2361.44px;font-size:30px;color:#e4e4e4;font-family:'Liberation Sans', sans-serif;transform:translateX(-50%) rotate(6deg);"><span class="m"></span><span class="c">9</span></div>
<div class="t dg" id="t414" style="left:1001.40px;top:2361.44px;font-size:30px;color:#e4e4e4;font-family:'Liberation Sans', sans-serif;transform:translateX(-50%) rotate(6deg);"><span class="m"></span><span class="c">9</span></div>
<div class="t dg" id="t415" style="left:1032.87px;top:2361.44px;font-size:30px;color:#e4e4e4;font-family:'Liberation Sans', sans-serif;transform:translateX(-50%) rotate(6deg);"><span class="m"></span><span class="c">9</span></div>
</body></html>
